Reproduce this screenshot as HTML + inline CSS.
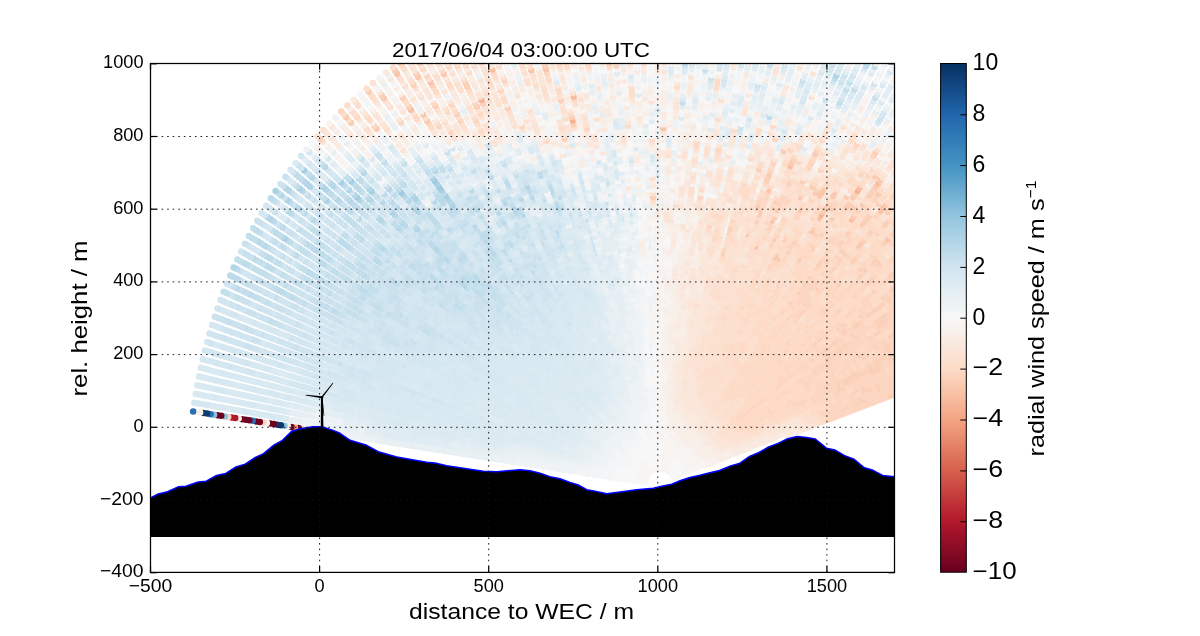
<!DOCTYPE html>
<html><head><meta charset="utf-8"><style>
html,body{margin:0;padding:0;background:#fff;width:1200px;height:636px;overflow:hidden}
svg{display:block;font-family:"Liberation Sans",sans-serif;will-change:transform}
</style></head><body>
<svg width="1200" height="636" viewBox="0 0 1200 636">
<defs>
<clipPath id="ax"><rect x="150.5" y="63.5" width="744.0" height="508.9"/></clipPath>
<linearGradient id="cbg" x1="0" y1="0" x2="0" y2="1"><stop offset="0.000" stop-color="#053061"/><stop offset="0.100" stop-color="#2166ac"/><stop offset="0.200" stop-color="#4393c3"/><stop offset="0.300" stop-color="#92c5de"/><stop offset="0.400" stop-color="#d1e5f0"/><stop offset="0.500" stop-color="#f7f7f7"/><stop offset="0.600" stop-color="#fddbc7"/><stop offset="0.700" stop-color="#f4a582"/><stop offset="0.800" stop-color="#d6604d"/><stop offset="0.900" stop-color="#b2182b"/><stop offset="1.000" stop-color="#67001f"/></linearGradient>
</defs>
<rect width="1200" height="636" fill="#fff"/>
<g clip-path="url(#ax)">
<g stroke-width="6.5" stroke-linecap="round" fill="none">
<path stroke="#f3f5f6" d="M649.6 475.6h0M650.8 474.4h0M652.2 473.4h0M659.4 471.9h0"/>
<path stroke="#f7f7f7" d="M646.3 482.7h0M646.4 481.8h0M646.7 480.9h0M647.2 479.3h0M647.6 478.5h0M648.0 477.7h0M649.0 476.2h0M650.2 475.0h0M651.5 473.9h0M653.7 472.7h0M654.5 472.4h0M655.3 472.1h0M656.1 472.0h0M657.8 471.8h0M658.6 471.8h0M660.3 472.0h0M661.1 472.2h0M661.9 472.5h0M662.7 472.8h0M663.4 473.2h0M664.1 473.6h0M664.8 474.1h0M665.5 474.7h0M666.1 475.2h0M666.7 475.9h0M667.2 476.6h0M667.7 477.3h0M668.2 478.0h0M668.6 478.8h0M668.9 479.6h0"/>
<path stroke="#f8f4f2" d="M646.9 480.1h0M648.5 476.9h0M653.0 473.0h0M657.0 471.8h0"/>
<path stroke="#f3f5f6" d="M646.3 473.8h0M647.1 472.9h0M648.7 471.4h0M666.9 471.0h0M669.3 473.3h0"/>
<path stroke="#f7f7f7" d="M642.8 482.1h0M643.0 481.0h0M643.2 479.9h0M644.0 477.7h0M644.5 476.6h0M645.0 475.6h0M649.6 470.7h0M650.5 470.1h0M652.4 469.1h0M653.5 468.7h0M654.5 468.4h0M655.6 468.2h0M657.7 468.0h0M658.8 468.0h0M659.9 468.1h0M660.9 468.3h0M662.0 468.5h0M663.0 468.9h0M664.0 469.3h0M667.7 471.7h0M668.6 472.5h0M670.0 474.2h0M670.7 475.1h0M671.2 476.1h0M671.8 477.1h0M672.2 478.2h0"/>
<path stroke="#f8f4f2" d="M643.6 478.7h0M645.6 474.7h0M647.8 472.1h0M651.4 469.6h0M656.6 468.0h0M665.0 469.8h0M666.0 470.4h0"/>
<path stroke="#f3f5f6" d="M646.5 468.3h0M648.7 466.8h0M657.7 464.2h0M660.3 464.3h0M668.9 467.9h0M671.0 469.7h0M671.9 470.7h0"/>
<path stroke="#f7f7f7" d="M639.3 481.6h0M639.5 480.2h0M639.8 478.8h0M640.8 476.1h0M641.4 474.8h0M642.0 473.6h0M642.8 472.4h0M643.6 471.3h0M644.5 470.2h0M647.6 467.5h0M649.9 466.1h0M651.2 465.5h0M652.4 465.1h0M653.7 464.7h0M655.0 464.4h0M656.3 464.2h0M659.0 464.2h0M661.6 464.5h0M662.9 464.9h0M664.2 465.3h0M665.4 465.8h0M670.0 468.7h0M672.8 471.8h0M673.6 472.9h0M674.3 474.1h0M674.9 475.4h0M675.5 476.7h0"/>
<path stroke="#f8f4f2" d="M640.3 477.4h0M645.5 469.2h0M666.6 466.4h0M667.8 467.1h0"/>
<path stroke="#f3f5f6" d="M644.4 465.3h0M647.0 463.4h0M657.6 460.3h0M671.0 464.8h0M673.4 466.9h0M676.5 470.8h0M678.8 475.2h0"/>
<path stroke="#f7f7f7" d="M635.8 481.0h0M636.0 479.3h0M636.4 477.7h0M637.5 474.5h0M638.2 473.0h0M639.0 471.5h0M639.9 470.1h0M640.9 468.8h0M642.0 467.5h0M645.7 464.3h0M648.4 462.7h0M649.9 462.0h0M651.4 461.4h0M652.9 461.0h0M654.4 460.6h0M656.0 460.4h0M659.2 460.4h0M660.7 460.5h0M662.3 460.8h0M663.8 461.2h0M665.4 461.7h0M666.8 462.3h0M669.6 463.8h0M672.2 465.8h0M674.5 468.1h0M675.6 469.4h0M677.4 472.2h0M678.1 473.7h0"/>
<path stroke="#f8f4f2" d="M636.9 476.1h0M643.1 466.4h0M668.3 463.0h0"/>
<path stroke="#f3f5f6" d="M633.0 476.6h0M637.1 467.9h0M639.5 464.9h0M642.2 462.3h0M645.3 460.1h0M653.9 456.9h0M661.2 456.7h0M673.0 461.6h0"/>
<path stroke="#f7f7f7" d="M632.2 480.5h0M632.6 478.5h0M633.6 474.8h0M634.3 472.9h0M635.1 471.2h0M636.0 469.5h0M638.2 466.3h0M646.9 459.2h0M648.6 458.4h0M650.3 457.8h0M652.1 457.3h0M655.7 456.6h0M657.5 456.5h0M659.3 456.6h0M663.0 457.0h0M666.5 458.1h0M671.5 460.6h0M674.5 462.8h0M675.9 464.1h0M677.1 465.5h0M678.3 467.0h0M679.4 468.6h0M680.4 470.3h0M681.3 472.0h0M682.1 473.8h0"/>
<path stroke="#f8f4f2" d="M640.8 463.5h0M643.7 461.1h0M664.8 457.5h0M668.2 458.8h0M669.9 459.6h0"/>
<path stroke="#f3f5f6" d="M633.1 467.4h0M635.5 463.8h0M636.9 462.2h0M640.1 459.2h0M643.5 456.8h0M647.3 454.9h0M651.3 453.5h0M653.3 453.1h0M661.6 452.9h0M685.3 472.3h0"/>
<path stroke="#f7f7f7" d="M628.7 479.9h0M629.1 477.7h0M629.6 475.5h0M630.3 473.4h0M631.1 471.4h0M632.0 469.4h0M634.2 465.6h0M638.4 460.6h0M641.8 457.9h0M645.4 455.7h0M649.3 454.1h0M655.4 452.8h0M657.5 452.7h0M659.5 452.8h0M663.7 453.3h0M675.1 458.5h0M676.7 459.9h0M678.3 461.3h0M679.7 462.9h0M681.1 464.6h0M682.3 466.4h0M683.5 468.3h0"/>
<path stroke="#f8f4f2" d="M665.7 453.8h0M667.7 454.5h0M669.6 455.3h0M671.5 456.2h0M673.3 457.3h0M684.5 470.3h0"/>
<path stroke="#f3f5f6" d="M628.9 467.5h0M630.1 465.4h0M632.8 461.4h0M634.4 459.5h0M641.8 453.4h0M650.5 449.8h0M662.0 449.2h0"/>
<path stroke="#f7f7f7" d="M625.2 479.4h0M625.6 476.9h0M626.2 474.5h0M626.9 472.1h0M627.8 469.8h0M631.4 463.3h0M636.1 457.8h0M637.9 456.2h0M639.8 454.7h0M643.9 452.3h0M646.0 451.3h0M648.2 450.5h0M652.7 449.3h0M655.1 449.0h0M657.4 448.9h0M659.7 448.9h0M664.3 449.5h0M666.6 450.1h0M671.0 451.7h0M677.1 455.4h0M680.7 458.6h0M682.4 460.3h0M688.6 470.8h0"/>
<path stroke="#f8f4f2" d="M668.8 450.8h0M673.1 452.8h0M675.2 454.0h0M679.0 456.9h0M683.9 462.2h0M685.3 464.3h0M686.5 466.4h0M687.6 468.6h0"/>
<path stroke="#eff3f6" d="M640.1 450.1h0"/>
<path stroke="#f3f5f6" d="M624.6 468.2h0M625.8 465.7h0M627.1 463.3h0M630.1 458.9h0M631.9 456.8h0M635.7 453.2h0M644.7 447.8h0M649.6 446.1h0"/>
<path stroke="#f7f7f7" d="M621.7 478.8h0M622.2 476.1h0M622.8 473.4h0M623.6 470.8h0M628.5 461.0h0M633.8 454.9h0M637.9 451.6h0M642.4 448.8h0M647.2 446.8h0M652.2 445.6h0M654.7 445.2h0M657.3 445.1h0M659.9 445.1h0M662.5 445.4h0M665.0 445.8h0M679.2 452.3h0M683.2 455.8h0M685.0 457.8h0M691.9 469.4h0"/>
<path stroke="#f8f4f2" d="M667.5 446.4h0M670.0 447.2h0M672.4 448.2h0M674.7 449.4h0M677.0 450.8h0M681.2 454.0h0M686.6 459.9h0M688.2 462.1h0M689.6 464.4h0M690.8 466.9h0"/>
<path stroke="#eff3f6" d="M633.6 450.1h0M638.3 446.8h0"/>
<path stroke="#f3f5f6" d="M619.4 472.3h0M621.4 466.6h0M622.6 463.9h0M624.1 461.3h0M625.7 458.8h0M627.4 456.4h0M629.4 454.1h0M643.4 444.2h0"/>
<path stroke="#f7f7f7" d="M618.2 478.3h0M618.7 475.3h0M620.3 469.4h0M631.4 452.1h0M635.9 448.4h0M640.8 445.4h0M646.1 443.2h0M648.8 442.4h0M651.6 441.8h0M654.4 441.4h0M657.3 441.3h0M660.1 441.3h0M662.9 441.6h0M695.2 467.9h0"/>
<path stroke="#f8f1ed" d="M678.8 447.5h0M683.5 451.0h0"/>
<path stroke="#f8f4f2" d="M665.7 442.1h0M668.5 442.7h0M671.2 443.6h0M673.8 444.7h0M676.4 446.0h0M681.2 449.2h0M685.6 453.0h0M687.6 455.2h0M689.4 457.5h0M691.1 459.9h0M692.6 462.5h0M694.0 465.1h0"/>
<path stroke="#eff3f6" d="M626.8 451.5h0M636.6 443.5h0"/>
<path stroke="#f3f5f6" d="M615.2 474.4h0M616.0 471.2h0M618.1 465.0h0M619.5 462.1h0M621.1 459.2h0M622.8 456.5h0M624.7 453.9h0M629.1 449.2h0M631.4 447.1h0M634.0 445.2h0M639.3 441.9h0M642.2 440.6h0M648.0 438.7h0"/>
<path stroke="#f7f7f7" d="M614.7 477.7h0M617.0 468.1h0M645.1 439.5h0M651.1 438.0h0M654.1 437.6h0M657.2 437.5h0M663.3 437.8h0M698.4 466.4h0"/>
<path stroke="#f8f1ed" d="M678.0 442.6h0M680.7 444.2h0M685.7 448.0h0"/>
<path stroke="#f8f4f2" d="M660.3 437.5h0M666.4 438.3h0M669.4 439.1h0M672.3 440.0h0M675.2 441.2h0M683.2 446.0h0M688.0 450.2h0M690.2 452.6h0M692.2 455.1h0M694.0 457.7h0M695.7 460.5h0M697.2 463.4h0"/>
<path stroke="#eff3f6" d="M622.0 451.4h0M624.3 448.8h0M629.3 444.1h0M634.8 440.1h0M640.9 437.1h0"/>
<path stroke="#f3f5f6" d="M611.2 477.2h0M612.6 470.2h0M613.6 466.8h0M614.9 463.5h0M616.4 460.3h0M618.1 457.2h0M620.0 454.2h0M626.7 446.3h0M632.0 442.0h0M637.8 438.5h0M647.2 435.0h0M650.5 434.3h0"/>
<path stroke="#f7f7f7" d="M611.8 473.6h0M644.0 435.9h0M653.8 433.8h0M657.1 433.6h0M663.8 434.0h0M667.1 434.6h0"/>
<path stroke="#f8f1ed" d="M670.3 435.4h0M673.5 436.4h0M676.6 437.7h0M679.6 439.2h0M682.5 441.0h0M685.3 442.9h0M692.8 450.0h0M695.0 452.7h0M700.3 461.7h0"/>
<path stroke="#f8f4f2" d="M660.4 433.7h0M690.4 447.4h0M697.0 455.6h0M698.7 458.6h0M701.7 465.0h0"/>
<path stroke="#f9efe9" d="M687.9 445.1h0"/>
<path stroke="#ecf2f5" d="M627.1 441.0h0"/>
<path stroke="#eff3f6" d="M609.7 467.3h0M611.0 463.6h0M612.4 460.1h0M613.3 458.4h0M614.1 456.8h0M615.1 455.1h0M616.1 453.5h0M618.2 450.4h0M619.3 448.9h0M620.5 447.5h0M621.8 446.1h0M623.0 444.8h0M625.7 442.2h0M628.6 439.9h0M631.6 437.8h0M633.1 436.8h0M634.7 435.9h0M639.6 433.5h0"/>
<path stroke="#f3f5f6" d="M607.6 476.6h0M607.9 474.7h0M608.3 472.8h0M608.7 470.9h0M609.2 469.1h0M610.3 465.4h0M611.7 461.9h0M617.1 452.0h0M624.4 443.5h0M630.1 438.8h0M636.3 435.0h0M637.9 434.2h0M641.3 432.9h0M644.7 431.7h0M646.4 431.2h0M648.2 430.8h0M649.9 430.5h0M655.3 429.9h0"/>
<path stroke="#f7f7f7" d="M643.0 432.3h0M651.7 430.2h0M653.5 430.0h0M657.1 429.8h0M658.8 429.8h0M660.6 429.9h0"/>
<path stroke="#f8f1ed" d="M666.0 430.5h0M669.5 431.2h0M671.2 431.7h0M672.9 432.2h0M676.3 433.5h0M678.0 434.2h0M679.6 435.0h0M681.2 435.8h0M685.9 438.7h0M687.3 439.8h0M692.9 444.7h0M694.2 446.0h0M695.4 447.4h0M696.6 448.8h0M699.9 453.4h0M701.8 456.6h0M702.7 458.3h0M703.5 460.0h0M705.7 465.3h0"/>
<path stroke="#f8f4f2" d="M662.4 430.0h0M664.2 430.2h0M667.7 430.8h0M674.6 432.8h0M704.3 461.8h0M705.0 463.5h0"/>
<path stroke="#f9efe9" d="M682.8 436.7h0M684.3 437.7h0M688.8 440.9h0M690.2 442.1h0M691.6 443.4h0M697.7 450.3h0M698.8 451.8h0M700.9 455.0h0"/>
<path stroke="#ecf2f5" d="M610.1 456.6h0M616.6 446.5h0M617.9 444.9h0M625.0 438.0h0M631.4 433.5h0"/>
<path stroke="#eff3f6" d="M605.8 468.0h0M606.3 466.0h0M607.7 462.2h0M608.4 460.3h0M609.3 458.4h0M611.1 454.8h0M612.1 453.1h0M613.1 451.4h0M615.4 448.0h0M619.2 443.4h0M620.6 442.0h0M623.5 439.3h0M626.5 436.8h0M628.1 435.6h0M629.7 434.5h0M633.1 432.5h0"/>
<path stroke="#f3f5f6" d="M604.1 476.0h0M604.4 474.0h0M604.8 472.0h0M605.3 470.0h0M607.0 464.1h0M614.3 449.7h0M622.0 440.6h0M634.8 431.6h0M636.5 430.7h0M638.3 430.0h0M640.1 429.3h0M643.7 428.0h0M645.6 427.5h0M647.5 427.1h0M649.4 426.7h0M651.3 426.4h0M655.1 426.1h0"/>
<path stroke="#f7f7f7" d="M641.9 428.6h0M653.2 426.2h0M657.0 426.0h0M658.9 426.0h0"/>
<path stroke="#f8f1ed" d="M666.5 426.7h0M668.4 427.1h0M670.3 427.5h0M675.8 429.2h0M681.1 431.5h0M687.8 435.5h0M689.4 436.7h0M695.3 441.9h0M699.3 446.3h0M702.8 451.2h0M704.9 454.7h0M706.7 458.3h0M707.5 460.2h0M708.3 462.1h0M709.0 464.0h0"/>
<path stroke="#f8f4f2" d="M660.8 426.1h0M662.7 426.2h0M664.6 426.4h0"/>
<path stroke="#f9ece4" d="M692.4 439.2h0"/>
<path stroke="#f9efe9" d="M672.1 428.0h0M674.0 428.6h0M677.6 429.9h0M679.4 430.7h0M682.8 432.4h0M684.5 433.4h0M686.2 434.4h0M690.9 437.9h0M693.9 440.5h0M696.7 443.3h0M698.0 444.8h0M700.5 447.9h0M701.7 449.6h0M703.9 452.9h0M705.8 456.5h0"/>
<path stroke="#e8f0f4" d="M622.8 435.0h0"/>
<path stroke="#ecf2f5" d="M607.0 454.8h0M609.1 451.0h0M610.2 449.2h0M612.6 445.7h0M613.9 444.0h0M616.7 440.8h0M618.2 439.2h0M621.2 436.3h0M629.6 430.1h0M631.4 429.1h0"/>
<path stroke="#eff3f6" d="M602.4 466.9h0M603.0 464.8h0M603.7 462.8h0M604.4 460.7h0M605.2 458.7h0M606.1 456.7h0M608.0 452.9h0M611.4 447.4h0M615.3 442.3h0M619.7 437.7h0M624.5 433.7h0M626.2 432.4h0M627.9 431.3h0M633.3 428.1h0M635.1 427.2h0M637.0 426.4h0M638.9 425.6h0M642.8 424.4h0"/>
<path stroke="#f3f5f6" d="M600.6 475.5h0M601.0 473.3h0M601.4 471.2h0M601.8 469.0h0M640.9 425.0h0M644.8 423.8h0M646.8 423.4h0M648.8 423.0h0M650.8 422.7h0"/>
<path stroke="#f7f7f7" d="M652.8 422.4h0M654.9 422.3h0M656.9 422.2h0M659.0 422.2h0"/>
<path stroke="#f8f1ed" d="M667.1 422.9h0M669.1 423.3h0M678.9 426.3h0M682.6 428.1h0M691.4 433.6h0M707.9 452.8h0M710.7 458.6h0M711.6 460.6h0M712.3 462.6h0"/>
<path stroke="#f8f4f2" d="M661.0 422.3h0M663.0 422.4h0M665.1 422.6h0"/>
<path stroke="#f9ece4" d="M693.1 434.9h0M694.7 436.2h0M696.2 437.6h0M700.6 442.2h0M703.3 445.5h0M704.5 447.3h0M706.8 450.9h0"/>
<path stroke="#f9efe9" d="M671.1 423.8h0M673.1 424.3h0M675.0 424.9h0M677.0 425.6h0M680.8 427.2h0M684.5 429.0h0M686.3 430.1h0M688.0 431.2h0M689.7 432.3h0M697.7 439.1h0M699.2 440.6h0M702.0 443.9h0M705.7 449.1h0M708.9 454.7h0M709.9 456.6h0"/>
<path stroke="#e8f0f4" d="M605.0 451.0h0M620.7 431.9h0"/>
<path stroke="#ecf2f5" d="M599.6 463.6h0M602.0 457.1h0M602.9 455.0h0M603.9 453.0h0M606.1 449.0h0M607.3 447.0h0M608.6 445.1h0M609.9 443.3h0M611.2 441.5h0M612.7 439.8h0M614.2 438.1h0M615.7 436.4h0M619.0 433.4h0M622.4 430.5h0M624.2 429.2h0M626.0 428.0h0M627.9 426.8h0M629.8 425.7h0M635.7 422.8h0"/>
<path stroke="#eff3f6" d="M597.5 472.6h0M598.4 468.1h0M599.0 465.9h0M600.3 461.4h0M601.1 459.3h0M617.3 434.9h0M631.7 424.7h0M633.7 423.7h0M637.8 422.0h0M639.8 421.3h0M641.9 420.7h0"/>
<path stroke="#f3f5f6" d="M597.1 474.9h0M597.9 470.4h0M644.0 420.1h0M646.1 419.6h0M648.2 419.2h0M650.4 418.9h0M654.7 418.5h0"/>
<path stroke="#f7f7f7" d="M652.5 418.6h0M656.8 418.4h0M659.0 418.4h0M661.2 418.4h0"/>
<path stroke="#f8f1ed" d="M663.3 418.6h0M667.6 419.2h0M714.0 457.0h0M714.8 459.1h0M715.6 461.3h0"/>
<path stroke="#f8f4f2" d="M665.5 418.8h0M669.8 419.6h0"/>
<path stroke="#f9ece4" d="M682.2 423.7h0M686.1 425.6h0M688.0 426.7h0M689.9 427.9h0M695.2 431.8h0M696.9 433.3h0M698.6 434.8h0M700.2 436.3h0M703.2 439.6h0M704.7 441.4h0M707.4 445.0h0M709.8 448.8h0"/>
<path stroke="#f9efe9" d="M671.9 420.1h0M674.0 420.6h0M676.1 421.3h0M678.1 422.0h0M680.2 422.8h0M684.1 424.6h0M691.7 429.1h0M693.5 430.4h0M701.7 438.0h0M708.6 446.9h0M711.0 450.8h0M712.0 452.8h0M713.0 454.9h0"/>
<path stroke="#fae9df" d="M706.1 443.2h0"/>
<path stroke="#e4eef3" d="M618.5 428.9h0"/>
<path stroke="#e8f0f4" d="M599.7 453.3h0M600.8 451.2h0M603.1 446.9h0M613.3 433.7h0M626.2 423.5h0"/>
<path stroke="#ecf2f5" d="M596.2 462.4h0M597.0 460.1h0M597.8 457.8h0M598.7 455.6h0M601.9 449.0h0M604.4 444.9h0M605.7 442.9h0M607.1 440.9h0M608.6 439.0h0M610.1 437.2h0M611.6 435.4h0M615.0 432.0h0M616.7 430.4h0M620.4 427.4h0M622.2 426.0h0M624.2 424.7h0M628.2 422.3h0M634.4 419.3h0"/>
<path stroke="#eff3f6" d="M593.6 474.4h0M594.9 467.2h0M595.6 464.8h0M630.2 421.2h0M632.3 420.2h0M636.6 418.4h0M638.8 417.7h0M641.0 417.0h0M645.4 415.9h0"/>
<path stroke="#f3f5f6" d="M594.0 472.0h0M594.4 469.5h0M643.2 416.4h0M647.7 415.4h0M649.9 415.1h0"/>
<path stroke="#f7f7f7" d="M652.2 414.8h0M654.5 414.6h0M656.8 414.6h0M659.1 414.6h0"/>
<path stroke="#f8f1ed" d="M663.6 414.8h0M668.2 415.4h0M670.4 415.8h0M718.1 457.7h0M719.0 459.9h0"/>
<path stroke="#f8f4f2" d="M661.4 414.6h0M665.9 415.1h0"/>
<path stroke="#f9ece4" d="M674.9 416.9h0M683.6 420.2h0M685.6 421.2h0M687.7 422.2h0M689.7 423.4h0M693.6 425.9h0M700.9 431.9h0M702.6 433.5h0M705.8 437.0h0M707.4 438.9h0M711.6 444.7h0M712.8 446.8h0M714.0 448.9h0M715.2 451.0h0M716.2 453.2h0"/>
<path stroke="#f9efe9" d="M672.7 416.3h0M677.1 417.6h0M679.3 418.4h0M681.4 419.2h0M695.5 427.3h0M717.2 455.4h0"/>
<path stroke="#fae9df" d="M691.7 424.6h0M697.4 428.8h0M699.2 430.3h0M704.3 435.3h0M708.8 440.8h0M710.2 442.7h0"/>
<path stroke="#e4eef3" d="M616.4 425.9h0"/>
<path stroke="#e8f0f4" d="M592.9 461.2h0M596.5 451.6h0M597.7 449.3h0M598.8 447.1h0M600.1 444.9h0M604.3 438.5h0M605.9 436.5h0M607.5 434.6h0M609.1 432.7h0M610.8 430.9h0M614.5 427.5h0M618.3 424.3h0M624.4 420.2h0"/>
<path stroke="#ecf2f5" d="M591.5 466.2h0M593.7 458.8h0M594.5 456.4h0M595.5 454.0h0M601.4 442.7h0M602.8 440.6h0M612.6 429.1h0M620.3 422.9h0M622.3 421.5h0M626.5 418.9h0M630.9 416.7h0M633.2 415.7h0"/>
<path stroke="#eff3f6" d="M590.5 471.3h0M590.9 468.7h0M592.1 463.7h0M628.7 417.8h0M635.4 414.8h0M637.7 414.0h0M640.0 413.3h0M642.4 412.7h0"/>
<path stroke="#f3f5f6" d="M590.1 473.8h0M644.7 412.1h0M647.1 411.7h0M649.5 411.3h0M654.3 410.8h0"/>
<path stroke="#f7f7f7" d="M651.9 411.0h0M656.7 410.7h0M659.1 410.7h0"/>
<path stroke="#f8f1ed" d="M666.4 411.3h0M671.1 412.1h0"/>
<path stroke="#f8f4f2" d="M661.5 410.8h0M664.0 411.0h0"/>
<path stroke="#f9ece4" d="M675.8 413.3h0M680.4 414.8h0M682.7 415.7h0M687.1 417.7h0M705.0 430.8h0M710.1 436.4h0M718.3 449.2h0M719.4 451.5h0M720.4 453.8h0"/>
<path stroke="#f9efe9" d="M668.7 411.6h0M673.5 412.6h0M678.1 414.0h0M721.4 456.2h0M722.3 458.6h0"/>
<path stroke="#fae9df" d="M684.9 416.6h0M689.3 418.8h0M691.4 420.1h0M693.5 421.4h0M695.6 422.8h0M697.6 424.2h0M699.5 425.7h0M703.3 429.0h0M706.8 432.6h0M708.4 434.5h0M711.6 438.4h0M713.1 440.4h0M714.5 442.5h0M715.8 444.7h0M717.1 446.9h0"/>
<path stroke="#fbe6da" d="M701.4 427.3h0"/>
<path stroke="#e0ecf3" d="M614.2 422.8h0"/>
<path stroke="#e4eef3" d="M595.8 445.1h0M597.1 442.8h0M603.2 434.1h0M608.4 428.1h0M616.3 421.2h0"/>
<path stroke="#e8f0f4" d="M589.5 460.0h0M590.3 457.5h0M591.3 454.9h0M593.4 449.9h0M594.5 447.5h0M598.5 440.5h0M600.0 438.3h0M601.5 436.2h0M604.8 432.0h0M606.6 430.0h0M612.2 424.5h0M618.3 419.7h0M622.7 416.8h0M624.9 415.5h0"/>
<path stroke="#ecf2f5" d="M588.1 465.3h0M592.3 452.4h0M610.3 426.3h0M620.5 418.2h0M627.2 414.3h0M629.5 413.2h0M631.9 412.2h0M639.1 409.6h0"/>
<path stroke="#eff3f6" d="M586.6 473.3h0M587.0 470.6h0M587.5 467.9h0M588.7 462.6h0M634.2 411.2h0M636.7 410.4h0M641.6 408.9h0M644.0 408.4h0M646.5 407.9h0M649.1 407.5h0"/>
<path stroke="#f3f5f6" d="M654.1 407.0h0"/>
<path stroke="#f7f7f7" d="M651.6 407.2h0M656.6 406.9h0M659.2 406.9h0"/>
<path stroke="#f8f1ed" d="M661.7 407.0h0M664.3 407.2h0M666.8 407.5h0M671.8 408.3h0"/>
<path stroke="#f9ece4" d="M674.3 408.9h0M679.2 410.3h0M681.6 411.2h0M684.0 412.1h0M699.6 421.1h0M723.7 452.2h0"/>
<path stroke="#f9efe9" d="M669.3 407.9h0M724.7 454.7h0M725.6 457.3h0"/>
<path stroke="#fae9df" d="M676.7 409.6h0M686.3 413.1h0M688.7 414.2h0M690.9 415.4h0M693.2 416.7h0M695.4 418.1h0M697.5 419.6h0M705.6 426.2h0M707.5 428.0h0M712.7 433.9h0M720.1 445.0h0M721.4 447.3h0M722.6 449.8h0"/>
<path stroke="#fbe6da" d="M701.7 422.7h0M703.7 424.4h0M709.3 429.9h0M711.1 431.9h0M714.4 436.0h0M715.9 438.2h0M717.4 440.4h0M718.8 442.7h0"/>
<path stroke="#e4eef3" d="M590.2 448.2h0M591.4 445.7h0M592.7 443.2h0M594.1 440.8h0M595.6 438.4h0M598.8 433.8h0M600.5 431.6h0M612.1 419.8h0M614.2 418.1h0M620.9 413.5h0"/>
<path stroke="#e8f0f4" d="M584.6 464.3h0M586.1 458.8h0M587.0 456.1h0M588.0 453.5h0M589.0 450.8h0M597.1 436.0h0M602.2 429.4h0M604.1 427.4h0M606.0 425.3h0M607.9 423.4h0M610.0 421.6h0M616.4 416.5h0M618.6 414.9h0M623.3 412.1h0"/>
<path stroke="#ecf2f5" d="M584.0 467.1h0M585.3 461.6h0M625.7 410.9h0M628.1 409.7h0M630.6 408.6h0M633.1 407.6h0M638.2 405.9h0"/>
<path stroke="#eff3f6" d="M583.5 469.9h0M635.6 406.7h0M640.7 405.2h0M643.4 404.6h0M646.0 404.1h0M648.6 403.7h0"/>
<path stroke="#f3f5f6" d="M583.1 472.7h0M651.3 403.4h0M653.9 403.2h0M656.6 403.1h0"/>
<path stroke="#f7f7f7" d="M659.2 403.1h0"/>
<path stroke="#f8f1ed" d="M661.9 403.2h0M667.2 403.7h0"/>
<path stroke="#f8f4f2" d="M664.6 403.4h0"/>
<path stroke="#f9ece4" d="M675.1 405.2h0M680.2 406.7h0M682.8 407.6h0M726.9 450.6h0"/>
<path stroke="#f9efe9" d="M669.9 404.1h0M672.5 404.6h0M728.0 453.3h0M728.9 455.9h0"/>
<path stroke="#fae9df" d="M677.7 405.9h0M685.3 408.5h0M690.2 410.8h0M692.6 412.0h0M694.9 413.4h0M697.2 414.8h0M701.7 418.0h0M707.9 423.3h0M709.9 425.2h0M715.4 431.4h0M725.7 448.1h0"/>
<path stroke="#fbe3d5" d="M705.9 421.4h0M718.8 435.9h0"/>
<path stroke="#fbe6da" d="M687.7 409.6h0M699.5 416.4h0M703.8 419.7h0M711.8 427.2h0M713.7 429.3h0M717.1 433.6h0M720.3 438.2h0M721.8 440.6h0M723.2 443.0h0M724.5 445.5h0"/>
<path stroke="#e0ecf3" d="M609.9 416.8h0"/>
<path stroke="#e4eef3" d="M584.7 452.0h0M587.0 446.5h0M588.3 443.9h0M589.7 441.3h0M591.1 438.7h0M596.0 431.4h0M597.8 429.1h0M599.6 426.8h0M601.5 424.7h0M603.5 422.6h0M607.7 418.6h0M612.1 415.0h0M619.2 410.2h0"/>
<path stroke="#e8f0f4" d="M581.2 463.4h0M581.9 460.5h0M582.8 457.6h0M583.7 454.8h0M585.8 449.2h0M592.7 436.2h0M594.3 433.8h0M605.6 420.6h0M614.4 413.3h0M616.8 411.7h0M621.7 408.8h0M624.2 407.4h0M626.7 406.2h0"/>
<path stroke="#ecf2f5" d="M580.5 466.3h0M629.3 405.1h0M631.9 404.0h0M637.2 402.3h0M639.9 401.5h0M642.7 400.9h0"/>
<path stroke="#eff3f6" d="M580.0 469.2h0M634.6 403.1h0M645.4 400.4h0M648.2 399.9h0"/>
<path stroke="#f3f5f6" d="M579.5 472.2h0M650.9 399.6h0M653.7 399.4h0M656.5 399.3h0"/>
<path stroke="#f7f7f7" d="M659.3 399.3h0"/>
<path stroke="#f8f1ed" d="M662.1 399.4h0M664.9 399.6h0M667.6 399.9h0"/>
<path stroke="#f9ece4" d="M673.2 400.8h0M730.1 449.1h0M731.2 451.8h0"/>
<path stroke="#f9efe9" d="M670.4 400.3h0M732.3 454.6h0"/>
<path stroke="#fae9df" d="M675.9 401.5h0M678.6 402.2h0M681.3 403.0h0M683.9 404.0h0M691.7 407.3h0M728.9 446.3h0"/>
<path stroke="#fbe3d5" d="M708.2 418.5h0M719.9 431.2h0M723.2 436.0h0M724.8 438.5h0"/>
<path stroke="#fbe6da" d="M686.5 405.0h0M689.1 406.1h0M694.2 408.7h0M696.6 410.1h0M699.0 411.6h0M701.4 413.2h0M703.7 414.9h0M706.0 416.6h0M710.3 420.4h0M712.3 422.4h0M714.3 424.5h0M716.3 426.7h0M718.1 428.9h0M726.2 441.1h0M727.6 443.7h0"/>
<path stroke="#fce1d1" d="M721.6 433.6h0"/>
<path stroke="#e0ecf3" d="M585.2 442.1h0M586.6 439.3h0M599.0 422.0h0M601.1 419.8h0M607.7 413.7h0"/>
<path stroke="#e4eef3" d="M579.4 456.4h0M580.4 453.5h0M581.4 450.5h0M582.6 447.7h0M583.8 444.8h0M588.1 436.7h0M589.7 434.1h0M593.2 429.0h0M595.1 426.6h0M597.0 424.3h0M605.5 415.7h0M617.5 406.8h0"/>
<path stroke="#e8f0f4" d="M577.7 462.4h0M578.5 459.4h0M591.4 431.5h0M603.2 417.7h0M610.1 411.9h0M612.5 410.1h0M615.0 408.4h0M620.0 405.4h0M625.3 402.7h0M628.0 401.5h0M630.7 400.4h0"/>
<path stroke="#ecf2f5" d="M577.1 465.5h0M622.7 404.0h0M633.5 399.4h0M636.3 398.6h0M639.1 397.8h0M642.0 397.1h0"/>
<path stroke="#eff3f6" d="M576.5 468.5h0M644.8 396.6h0M647.7 396.1h0"/>
<path stroke="#f3f5f6" d="M576.0 471.6h0M650.6 395.8h0M653.5 395.6h0M656.4 395.5h0"/>
<path stroke="#f7f7f7" d="M659.4 395.5h0"/>
<path stroke="#f8f1ed" d="M665.2 395.8h0"/>
<path stroke="#f8f4f2" d="M662.3 395.6h0"/>
<path stroke="#f9ece4" d="M671.0 396.6h0M673.8 397.1h0M734.5 450.3h0M735.6 453.2h0"/>
<path stroke="#f9efe9" d="M668.1 396.1h0"/>
<path stroke="#fae9df" d="M676.7 397.7h0M682.3 399.4h0M685.1 400.3h0M693.2 403.9h0M733.4 447.5h0"/>
<path stroke="#fbe3d5" d="M695.8 405.3h0M700.9 408.3h0M708.1 413.6h0M710.4 415.5h0M712.6 417.5h0M716.9 421.8h0M720.8 426.4h0M726.2 433.9h0M727.8 436.5h0M729.3 439.1h0M730.7 441.9h0"/>
<path stroke="#fbe6da" d="M679.5 398.5h0M687.8 401.4h0M690.5 402.6h0M698.4 406.7h0M703.3 410.0h0M705.8 411.7h0M714.8 419.6h0M718.9 424.1h0M732.1 444.6h0"/>
<path stroke="#fce1d1" d="M722.7 428.8h0M724.5 431.3h0"/>
<path stroke="#e0ecf3" d="M578.1 449.1h0M580.7 443.1h0M582.1 440.2h0M583.5 437.4h0M590.4 426.6h0M596.5 419.3h0M598.6 417.0h0M605.6 410.7h0M615.7 403.5h0"/>
<path stroke="#e4eef3" d="M575.1 458.3h0M576.0 455.2h0M577.0 452.1h0M579.3 446.1h0M585.1 434.6h0M586.8 431.9h0M588.6 429.2h0M592.4 424.1h0M594.4 421.7h0M603.2 412.7h0M608.0 408.7h0M610.5 406.9h0M613.1 405.2h0M618.4 402.0h0"/>
<path stroke="#e8f0f4" d="M574.3 461.5h0M600.9 414.8h0M621.1 400.5h0M623.9 399.2h0M626.7 397.9h0M629.6 396.8h0"/>
<path stroke="#ecf2f5" d="M573.6 464.7h0M632.5 395.8h0M635.4 394.9h0M638.3 394.1h0M641.3 393.4h0"/>
<path stroke="#eff3f6" d="M572.5 471.1h0M573.0 467.9h0M644.3 392.8h0"/>
<path stroke="#f3f5f6" d="M647.3 392.4h0M650.3 392.0h0M653.3 391.8h0M656.4 391.7h0"/>
<path stroke="#f7f7f7" d="M659.4 391.7h0"/>
<path stroke="#f8f1ed" d="M665.5 392.0h0"/>
<path stroke="#f8f4f2" d="M662.5 391.8h0"/>
<path stroke="#f9ece4" d="M671.5 392.8h0M674.5 393.4h0M737.8 448.9h0M738.9 451.9h0"/>
<path stroke="#f9efe9" d="M668.5 392.3h0"/>
<path stroke="#fae9df" d="M677.5 394.0h0M680.4 394.8h0M686.2 396.7h0"/>
<path stroke="#fbe3d5" d="M691.9 399.1h0M697.4 401.9h0M702.7 405.0h0M705.3 406.8h0M707.8 408.6h0M710.3 410.5h0M712.6 412.6h0M715.0 414.7h0M717.2 416.9h0M721.5 421.5h0M723.5 423.9h0M730.8 434.4h0"/>
<path stroke="#fbe6da" d="M683.4 395.7h0M689.1 397.9h0M694.7 400.4h0M700.1 403.4h0M735.3 442.9h0M736.6 445.9h0"/>
<path stroke="#fcdecc" d="M725.5 426.5h0M727.3 429.0h0"/>
<path stroke="#fce1d1" d="M719.4 419.1h0M729.1 431.7h0M732.4 437.2h0M733.9 440.0h0"/>
<path stroke="#dceaf2" d="M578.9 438.4h0"/>
<path stroke="#e0ecf3" d="M572.6 454.0h0M574.9 447.6h0M576.1 444.5h0M577.5 441.4h0M580.5 435.5h0M582.1 432.6h0M585.7 427.0h0M587.7 424.3h0M591.8 419.1h0M593.9 416.6h0M596.2 414.3h0M601.0 409.8h0M603.4 407.7h0M606.0 405.6h0M614.0 400.2h0"/>
<path stroke="#e4eef3" d="M571.7 457.2h0M573.7 450.8h0M583.9 429.7h0M589.7 421.6h0M598.5 412.0h0M608.6 403.7h0M611.3 401.9h0M616.8 398.6h0M625.4 394.4h0"/>
<path stroke="#e8f0f4" d="M570.9 460.5h0M619.6 397.1h0M622.5 395.7h0M628.4 393.2h0"/>
<path stroke="#ecf2f5" d="M569.5 467.2h0M570.1 463.8h0M631.4 392.1h0M634.4 391.2h0M637.5 390.4h0M643.7 389.1h0"/>
<path stroke="#eff3f6" d="M569.0 470.5h0M640.6 389.7h0M646.9 388.6h0"/>
<path stroke="#f3f5f6" d="M650.0 388.2h0M653.2 388.0h0M656.3 387.8h0"/>
<path stroke="#f7f7f7" d="M659.5 387.8h0"/>
<path stroke="#f8f1ed" d="M662.6 388.0h0"/>
<path stroke="#f9ece4" d="M672.1 389.0h0M675.2 389.6h0M741.1 447.4h0"/>
<path stroke="#f9efe9" d="M665.8 388.2h0M668.9 388.5h0"/>
<path stroke="#fae9df" d="M678.3 390.3h0M681.4 391.1h0M742.2 450.6h0"/>
<path stroke="#fbe3d5" d="M693.3 395.6h0M699.0 398.5h0M701.8 400.1h0M704.6 401.8h0M709.9 405.5h0M719.6 414.1h0M724.1 418.9h0M726.2 421.5h0M738.4 441.2h0"/>
<path stroke="#fbe6da" d="M684.4 392.1h0M687.4 393.1h0M690.4 394.3h0M696.2 397.0h0M739.8 444.3h0"/>
<path stroke="#fce1d1" d="M707.2 403.6h0M712.4 407.5h0M714.9 409.6h0M717.3 411.8h0M721.9 416.5h0M728.2 424.1h0M732.0 429.5h0M733.8 432.4h0M735.4 435.3h0M737.0 438.2h0"/>
<path stroke="#fddbc7" d="M730.2 426.8h0"/>
<path stroke="#dceaf2" d="M575.8 436.6h0M579.1 430.5h0M584.9 421.9h0M591.4 414.0h0M593.8 411.5h0M598.7 406.8h0M601.3 404.6h0"/>
<path stroke="#e0ecf3" d="M569.3 452.8h0M571.6 446.2h0M572.9 442.9h0M574.3 439.7h0M577.4 433.5h0M581.0 427.6h0M587.0 419.2h0M596.2 409.1h0M603.9 402.5h0M606.6 400.5h0M609.4 398.6h0M612.3 396.9h0"/>
<path stroke="#e4eef3" d="M567.4 459.6h0M568.3 456.2h0M570.4 449.5h0M582.9 424.7h0M589.2 416.5h0M615.2 395.2h0M618.1 393.6h0M621.1 392.2h0M624.1 390.8h0M627.2 389.6h0"/>
<path stroke="#e8f0f4" d="M636.7 386.7h0"/>
<path stroke="#ecf2f5" d="M566.0 466.5h0M566.7 463.0h0M633.5 387.5h0M639.9 385.9h0"/>
<path stroke="#eff3f6" d="M565.5 470.0h0M630.4 388.5h0M643.2 385.3h0"/>
<path stroke="#f3f5f6" d="M646.4 384.8h0M653.0 384.2h0"/>
<path stroke="#f7f7f7" d="M649.7 384.4h0M656.2 384.0h0M659.5 384.0h0"/>
<path stroke="#f8f4f2" d="M662.8 384.1h0"/>
<path stroke="#f9ece4" d="M672.6 385.2h0M675.9 385.9h0M745.6 449.2h0"/>
<path stroke="#f9efe9" d="M666.1 384.4h0M669.4 384.8h0"/>
<path stroke="#fae9df" d="M679.1 386.6h0M682.3 387.5h0M743.0 442.7h0M744.4 445.9h0"/>
<path stroke="#fbe3d5" d="M694.7 392.1h0M706.4 398.5h0M711.9 402.4h0M741.6 439.5h0"/>
<path stroke="#fbe6da" d="M685.4 388.4h0M688.6 389.5h0M691.6 390.7h0M697.7 393.5h0"/>
<path stroke="#fcdecc" d="M717.1 406.6h0M724.4 413.8h0M731.0 421.7h0M734.9 427.4h0M736.7 430.3h0"/>
<path stroke="#fce1d1" d="M700.6 395.1h0M703.5 396.7h0M709.2 400.4h0M714.6 404.5h0M719.6 408.9h0M722.1 411.3h0M726.7 416.3h0M728.9 419.0h0M738.5 433.3h0M740.1 436.4h0"/>
<path stroke="#fddbc7" d="M733.0 424.5h0"/>
<path stroke="#dceaf2" d="M571.1 438.0h0M572.7 434.8h0M576.2 428.5h0M582.1 419.5h0M584.3 416.7h0M588.9 411.3h0M591.3 408.7h0M599.1 401.6h0"/>
<path stroke="#e0ecf3" d="M565.9 451.6h0M568.3 444.7h0M569.6 441.4h0M574.4 431.6h0M578.0 425.4h0M580.0 422.4h0M586.5 413.9h0M593.8 406.2h0M596.4 403.9h0M601.9 399.4h0M607.6 395.4h0M610.5 393.5h0"/>
<path stroke="#e4eef3" d="M564.9 455.1h0M567.0 448.1h0M604.7 397.3h0M613.5 391.8h0M616.6 390.2h0M619.7 388.7h0M622.9 387.3h0"/>
<path stroke="#e8f0f4" d="M564.0 458.6h0M626.1 386.0h0M632.6 383.8h0"/>
<path stroke="#ecf2f5" d="M562.5 465.8h0M563.2 462.2h0M629.3 384.9h0M635.9 382.9h0M639.2 382.2h0M642.6 381.5h0"/>
<path stroke="#eff3f6" d="M562.0 469.4h0"/>
<path stroke="#f3f5f6" d="M646.0 381.0h0M652.8 380.3h0"/>
<path stroke="#f7f7f7" d="M649.4 380.6h0M656.2 380.2h0M659.6 380.2h0"/>
<path stroke="#f8f1ed" d="M666.4 380.6h0"/>
<path stroke="#f8f4f2" d="M663.0 380.3h0"/>
<path stroke="#f9ece4" d="M669.8 381.0h0M673.2 381.5h0M676.5 382.1h0M748.9 447.9h0"/>
<path stroke="#fae9df" d="M679.9 382.9h0M683.2 383.8h0M747.6 444.5h0"/>
<path stroke="#fbe3d5" d="M686.5 384.8h0M696.1 388.6h0M699.2 390.1h0M708.2 395.2h0M711.1 397.2h0M744.8 437.8h0"/>
<path stroke="#fbe6da" d="M689.7 385.9h0M692.9 387.2h0M746.3 441.1h0"/>
<path stroke="#fcdecc" d="M702.3 391.7h0M719.4 403.7h0M727.0 411.1h0M729.3 413.7h0M737.8 425.2h0M743.2 434.6h0"/>
<path stroke="#fce1d1" d="M705.3 393.4h0M713.9 399.3h0M716.7 401.4h0M722.0 406.1h0M724.5 408.5h0M731.6 416.5h0M741.5 431.4h0"/>
<path stroke="#fddbc7" d="M733.8 419.3h0M735.9 422.2h0M739.7 428.2h0"/>
<path stroke="#dceaf2" d="M567.9 436.3h0M569.6 433.0h0M571.3 429.7h0M573.2 426.4h0M575.1 423.2h0M579.3 417.1h0M581.6 414.2h0M586.4 408.6h0M588.9 405.9h0M594.2 400.9h0M597.0 398.5h0M599.8 396.3h0"/>
<path stroke="#e0ecf3" d="M561.5 454.0h0M562.5 450.4h0M565.0 443.3h0M566.4 439.8h0M577.2 420.1h0M583.9 411.4h0M591.5 403.4h0M602.7 394.2h0M605.7 392.1h0M608.8 390.2h0M611.9 388.4h0"/>
<path stroke="#e4eef3" d="M560.5 457.7h0M563.7 446.8h0M615.1 386.7h0M618.3 385.2h0M621.6 383.7h0"/>
<path stroke="#e8f0f4" d="M624.9 382.4h0M628.3 381.2h0M631.7 380.1h0M635.1 379.2h0"/>
<path stroke="#ecf2f5" d="M559.0 465.1h0M559.7 461.4h0M638.5 378.4h0M642.0 377.7h0"/>
<path stroke="#eff3f6" d="M558.5 468.9h0"/>
<path stroke="#f3f5f6" d="M645.5 377.2h0M652.6 376.5h0"/>
<path stroke="#f7f7f7" d="M656.1 376.4h0M659.7 376.4h0"/>
<path stroke="#f8f1ed" d="M666.7 376.8h0"/>
<path stroke="#f8f4f2" d="M649.0 376.8h0M663.2 376.5h0"/>
<path stroke="#f9ece4" d="M673.7 377.7h0M677.2 378.4h0M752.2 446.5h0"/>
<path stroke="#f9efe9" d="M670.2 377.2h0"/>
<path stroke="#fae9df" d="M680.7 379.2h0M750.9 443.0h0"/>
<path stroke="#fbe3d5" d="M684.1 380.1h0M687.5 381.1h0M690.9 382.3h0M697.5 385.0h0M700.7 386.6h0M748.0 436.1h0"/>
<path stroke="#fbe6da" d="M694.2 383.6h0M749.5 439.5h0"/>
<path stroke="#fcdecc" d="M721.6 400.7h0M729.5 408.4h0M731.9 411.2h0M744.6 429.4h0"/>
<path stroke="#fce1d1" d="M703.9 388.3h0M707.0 390.1h0M710.1 392.0h0M713.1 394.0h0M716.0 396.1h0M718.8 398.4h0M724.3 403.2h0M726.9 405.7h0M734.3 414.0h0M746.3 432.7h0"/>
<path stroke="#fddbc7" d="M736.5 416.9h0M738.7 419.9h0M740.8 423.0h0M742.7 426.2h0"/>
<path stroke="#d9e9f1" d="M591.9 398.0h0"/>
<path stroke="#dceaf2" d="M561.7 441.8h0M564.8 434.6h0M566.4 431.1h0M568.2 427.7h0M570.2 424.4h0M572.2 421.1h0M574.3 417.9h0M578.9 411.7h0M583.8 405.9h0M586.4 403.2h0M594.8 395.5h0M597.8 393.2h0M607.1 386.9h0"/>
<path stroke="#e0ecf3" d="M558.1 452.9h0M559.2 449.2h0M560.4 445.5h0M563.2 438.2h0M576.5 414.8h0M581.3 408.8h0M589.2 400.5h0M600.8 391.0h0M603.9 388.9h0M610.3 385.0h0M623.7 378.8h0"/>
<path stroke="#e4eef3" d="M557.1 456.7h0M613.6 383.3h0M616.9 381.6h0M620.3 380.2h0"/>
<path stroke="#e8f0f4" d="M556.3 460.6h0M630.7 376.5h0M634.3 375.5h0M637.9 374.7h0"/>
<path stroke="#ecf2f5" d="M555.5 464.4h0M627.2 377.6h0"/>
<path stroke="#eff3f6" d="M554.9 468.3h0M641.5 374.0h0M645.1 373.4h0"/>
<path stroke="#f3f5f6" d="M652.4 372.7h0"/>
<path stroke="#f7f7f7" d="M648.7 373.0h0M656.0 372.6h0M659.7 372.6h0"/>
<path stroke="#f8f1ed" d="M667.0 373.0h0"/>
<path stroke="#f8f4f2" d="M663.4 372.7h0"/>
<path stroke="#f9efe9" d="M670.7 373.4h0"/>
<path stroke="#fae9df" d="M674.3 373.9h0M677.9 374.6h0M681.5 375.4h0M754.2 441.5h0M755.5 445.2h0"/>
<path stroke="#fbe3d5" d="M695.5 380.1h0M698.9 381.5h0M702.2 383.1h0M718.0 393.0h0"/>
<path stroke="#fbe6da" d="M685.0 376.4h0M688.6 377.5h0M692.0 378.7h0M752.7 437.9h0"/>
<path stroke="#fcd6c0" d="M741.5 417.6h0"/>
<path stroke="#fcdecc" d="M708.7 386.7h0M721.0 395.3h0M726.7 400.3h0M732.0 405.7h0M734.5 408.6h0M737.0 411.5h0M749.4 430.9h0"/>
<path stroke="#fce1d1" d="M705.5 384.9h0M711.9 388.7h0M715.0 390.8h0M729.4 403.0h0M751.1 434.4h0"/>
<path stroke="#fddbc7" d="M723.9 397.8h0M739.3 414.5h0M743.7 420.8h0M745.7 424.1h0M747.6 427.5h0"/>
<path stroke="#d9e9f1" d="M576.2 409.2h0M581.3 403.2h0M589.7 395.0h0"/>
<path stroke="#dceaf2" d="M558.4 440.3h0M559.9 436.6h0M561.6 432.9h0M563.3 429.3h0M565.2 425.8h0M567.2 422.3h0M571.5 415.6h0M573.8 412.4h0M578.7 406.2h0M584.0 400.4h0M586.8 397.6h0M592.7 392.5h0M595.7 390.1h0M598.8 387.8h0M605.3 383.5h0"/>
<path stroke="#e0ecf3" d="M554.7 451.9h0M555.8 448.0h0M557.1 444.1h0M569.3 418.9h0M602.0 385.6h0M608.6 381.6h0M615.5 378.1h0"/>
<path stroke="#e4eef3" d="M553.7 455.8h0M612.0 379.8h0M619.0 376.6h0M622.6 375.2h0"/>
<path stroke="#e8f0f4" d="M552.8 459.8h0M626.2 373.9h0M629.8 372.8h0M633.5 371.8h0M637.2 370.9h0"/>
<path stroke="#ecf2f5" d="M552.0 463.7h0M640.9 370.2h0"/>
<path stroke="#eff3f6" d="M551.4 467.8h0M644.6 369.6h0M652.2 368.9h0"/>
<path stroke="#f7f7f7" d="M648.4 369.2h0M656.0 368.8h0"/>
<path stroke="#f8f4f2" d="M659.8 368.8h0M663.6 368.9h0"/>
<path stroke="#f9ece4" d="M674.8 370.2h0"/>
<path stroke="#f9efe9" d="M667.3 369.2h0M671.1 369.6h0"/>
<path stroke="#fae9df" d="M678.6 370.9h0M757.5 440.1h0M758.9 443.9h0"/>
<path stroke="#fbe3d5" d="M686.0 372.7h0M696.8 376.5h0M703.7 379.7h0"/>
<path stroke="#fbe6da" d="M682.3 371.7h0M689.6 373.8h0M693.2 375.1h0M756.0 436.3h0"/>
<path stroke="#fcd6c0" d="M744.4 415.4h0"/>
<path stroke="#fcdecc" d="M713.7 385.4h0M723.1 392.3h0M726.1 394.8h0M731.8 400.2h0M734.5 403.0h0"/>
<path stroke="#fce1d1" d="M700.3 378.0h0M707.1 381.5h0M710.5 383.4h0M716.9 387.6h0M720.1 389.9h0M737.1 406.0h0M739.7 409.0h0M754.3 432.7h0"/>
<path stroke="#fddbc7" d="M729.0 397.5h0M742.1 412.1h0M746.6 418.7h0M748.7 422.1h0M750.7 425.5h0M752.6 429.1h0"/>
<path stroke="#d9e9f1" d="M560.2 427.5h0M573.5 406.8h0M578.8 400.6h0M587.4 392.1h0M590.5 389.4h0"/>
<path stroke="#dceaf2" d="M552.4 446.8h0M555.2 438.9h0M558.4 431.2h0M562.1 423.8h0M564.2 420.3h0M566.3 416.8h0M568.6 413.3h0M571.0 410.0h0M576.1 403.6h0M581.6 397.6h0M584.5 394.8h0M593.7 387.0h0M596.9 384.6h0M603.6 380.2h0"/>
<path stroke="#e0ecf3" d="M551.3 450.8h0M553.7 442.8h0M556.7 435.0h0M600.2 382.3h0M607.0 378.2h0M610.5 376.4h0M614.1 374.6h0M617.7 373.0h0"/>
<path stroke="#e4eef3" d="M550.2 454.8h0M621.4 371.6h0"/>
<path stroke="#e8f0f4" d="M549.3 458.9h0M625.1 370.3h0M628.9 369.1h0M632.7 368.1h0M636.5 367.2h0"/>
<path stroke="#ecf2f5" d="M548.6 463.1h0M640.3 366.4h0"/>
<path stroke="#eff3f6" d="M547.9 467.2h0M644.2 365.8h0"/>
<path stroke="#f3f5f6" d="M648.1 365.4h0M652.0 365.1h0"/>
<path stroke="#f8f1ed" d="M663.7 365.1h0"/>
<path stroke="#f8f4f2" d="M655.9 364.9h0M659.8 364.9h0"/>
<path stroke="#f9ece4" d="M671.5 365.8h0"/>
<path stroke="#f9efe9" d="M667.6 365.4h0"/>
<path stroke="#fae9df" d="M675.4 366.4h0M679.3 367.1h0M760.7 438.6h0M762.2 442.5h0"/>
<path stroke="#fbe3d5" d="M686.9 369.0h0M694.4 371.5h0M698.0 372.9h0M759.2 434.8h0"/>
<path stroke="#fbe6da" d="M683.1 368.0h0M690.6 370.2h0"/>
<path stroke="#fcd6c0" d="M747.2 413.1h0"/>
<path stroke="#fcdecc" d="M715.6 382.2h0M725.3 389.3h0M731.3 394.6h0M734.2 397.4h0M737.0 400.3h0M739.8 403.4h0M753.7 423.6h0"/>
<path stroke="#fce1d1" d="M701.7 374.5h0M705.2 376.2h0M708.7 378.1h0M712.2 380.1h0M718.9 384.4h0M722.1 386.8h0M742.4 406.5h0M757.5 431.0h0"/>
<path stroke="#fddbc7" d="M728.4 391.9h0M744.9 409.8h0M749.5 416.5h0M751.7 420.0h0M755.7 427.2h0"/>
<path stroke="#d9e9f1" d="M557.1 425.7h0M570.8 404.3h0M576.2 397.9h0M579.1 394.8h0M585.2 389.1h0M588.4 386.4h0"/>
<path stroke="#dceaf2" d="M549.1 445.6h0M551.9 437.4h0M553.5 433.5h0M555.2 429.5h0M559.1 421.9h0M561.2 418.2h0M563.4 414.6h0M565.8 411.1h0M568.2 407.6h0M573.5 401.0h0M582.1 391.9h0M591.6 383.8h0M601.8 376.9h0"/>
<path stroke="#e0ecf3" d="M547.9 449.7h0M550.4 441.5h0M594.9 381.4h0M598.4 379.1h0M605.4 374.8h0M612.7 371.1h0M616.4 369.5h0"/>
<path stroke="#e4eef3" d="M546.8 453.9h0M609.0 372.9h0M620.2 368.0h0"/>
<path stroke="#e8f0f4" d="M545.9 458.1h0M624.1 366.6h0M631.9 364.4h0"/>
<path stroke="#ecf2f5" d="M545.1 462.4h0M627.9 365.4h0M635.8 363.4h0M639.8 362.7h0"/>
<path stroke="#eff3f6" d="M544.4 466.7h0M643.8 362.1h0"/>
<path stroke="#f3f5f6" d="M647.8 361.6h0M651.8 361.3h0"/>
<path stroke="#f7f7f7" d="M659.9 361.1h0"/>
<path stroke="#f8f4f2" d="M655.8 361.1h0"/>
<path stroke="#f9ece4" d="M672.0 362.0h0"/>
<path stroke="#f9efe9" d="M663.9 361.3h0M667.9 361.6h0"/>
<path stroke="#fae9df" d="M676.0 362.6h0M679.9 363.4h0M764.0 437.1h0M765.5 441.2h0"/>
<path stroke="#fbe3d5" d="M687.8 365.3h0M695.5 367.9h0M703.1 371.0h0M762.4 433.2h0"/>
<path stroke="#fbe6da" d="M683.9 364.3h0M691.7 366.5h0"/>
<path stroke="#fcd6c0" d="M750.1 410.8h0"/>
<path stroke="#fcdecc" d="M706.7 372.8h0M710.4 374.7h0M713.9 376.7h0M717.4 378.9h0M720.8 381.2h0M727.4 386.2h0M730.6 388.9h0M739.6 397.7h0M745.0 404.0h0M756.8 421.6h0"/>
<path stroke="#fce1d1" d="M699.3 369.4h0M724.2 383.7h0M742.4 400.8h0M760.7 429.3h0"/>
<path stroke="#fddbc7" d="M733.7 391.7h0M736.7 394.6h0M747.6 407.4h0M752.4 414.3h0M754.7 417.9h0M758.8 425.4h0"/>
<path stroke="#d9e9f1" d="M554.0 423.9h0M556.0 420.0h0M568.1 401.8h0M573.7 395.2h0M576.7 392.1h0M600.1 373.6h0"/>
<path stroke="#dceaf2" d="M545.7 444.4h0M548.6 436.0h0M550.3 431.9h0M552.0 427.8h0M558.2 416.2h0M560.5 412.4h0M562.9 408.8h0M565.4 405.2h0M570.8 398.4h0M579.8 389.1h0M582.9 386.2h0M586.2 383.4h0M589.6 380.7h0"/>
<path stroke="#e0ecf3" d="M544.4 448.6h0M547.1 440.1h0M593.0 378.2h0M596.5 375.8h0M603.8 371.4h0M611.3 367.6h0M615.1 365.9h0M619.1 364.4h0"/>
<path stroke="#e4eef3" d="M543.3 453.0h0M607.5 369.5h0"/>
<path stroke="#e8f0f4" d="M542.4 457.3h0M623.0 363.0h0M627.0 361.7h0M635.1 359.7h0M639.2 358.9h0"/>
<path stroke="#ecf2f5" d="M541.6 461.7h0M631.0 360.6h0M643.3 358.3h0"/>
<path stroke="#eff3f6" d="M540.9 466.1h0"/>
<path stroke="#f3f5f6" d="M647.5 357.8h0M651.6 357.5h0"/>
<path stroke="#f7f7f7" d="M655.8 357.3h0M659.9 357.3h0"/>
<path stroke="#f8f1ed" d="M668.3 357.8h0"/>
<path stroke="#f9ece4" d="M676.5 358.9h0"/>
<path stroke="#f9efe9" d="M664.1 357.5h0M672.4 358.2h0"/>
<path stroke="#fae9df" d="M680.6 359.6h0M767.3 435.7h0M768.8 439.8h0"/>
<path stroke="#fbe3d5" d="M688.7 361.6h0M692.7 362.9h0M696.7 364.3h0M700.6 365.8h0M704.4 367.5h0"/>
<path stroke="#fbe6da" d="M684.7 360.6h0M765.6 431.6h0"/>
<path stroke="#fcd6c0" d="M752.9 408.5h0"/>
<path stroke="#fcdecc" d="M708.2 369.3h0M712.0 371.3h0M715.7 373.4h0M719.3 375.6h0M722.8 378.0h0M729.6 383.2h0M736.0 388.8h0M745.0 398.2h0"/>
<path stroke="#fce1d1" d="M726.2 380.5h0M763.8 427.5h0"/>
<path stroke="#fddbc7" d="M732.9 386.0h0M739.1 391.8h0M742.1 395.0h0M747.7 401.5h0M750.4 405.0h0M755.4 412.2h0M757.7 415.9h0M759.9 419.7h0M761.9 423.6h0"/>
<path stroke="#d9e9f1" d="M550.8 422.0h0M552.9 418.0h0M571.2 392.5h0"/>
<path stroke="#dceaf2" d="M542.3 443.2h0M545.3 434.5h0M548.9 426.1h0M555.2 414.1h0M560.0 406.5h0M562.7 402.9h0M565.4 399.3h0M568.2 395.9h0M574.3 389.3h0M577.4 386.2h0M580.7 383.2h0M584.0 380.3h0M587.5 377.6h0M591.0 375.0h0M598.4 370.2h0"/>
<path stroke="#e0ecf3" d="M541.0 447.6h0M543.7 438.8h0M547.0 430.3h0M557.6 410.3h0M594.7 372.6h0M602.1 368.0h0M606.0 366.0h0M609.9 364.1h0"/>
<path stroke="#e4eef3" d="M539.9 452.0h0M613.9 362.4h0M617.9 360.8h0"/>
<path stroke="#e8f0f4" d="M538.9 456.5h0M622.0 359.3h0M626.1 358.0h0M634.4 355.9h0M638.6 355.1h0"/>
<path stroke="#ecf2f5" d="M538.1 461.0h0M630.2 356.9h0"/>
<path stroke="#eff3f6" d="M537.4 465.6h0M642.9 354.5h0M651.4 353.7h0"/>
<path stroke="#f3f5f6" d="M647.2 354.0h0"/>
<path stroke="#f7f7f7" d="M655.7 353.5h0M660.0 353.5h0"/>
<path stroke="#f8f1ed" d="M664.3 353.6h0M668.6 354.0h0"/>
<path stroke="#f9ece4" d="M677.1 355.1h0M681.3 355.9h0"/>
<path stroke="#f9efe9" d="M672.8 354.4h0"/>
<path stroke="#fae9df" d="M772.2 438.5h0"/>
<path stroke="#fbe3d5" d="M689.6 358.0h0M693.8 359.2h0M697.8 360.7h0M701.9 362.2h0M728.3 377.4h0"/>
<path stroke="#fbe6da" d="M685.5 356.8h0M768.9 430.0h0M770.6 434.2h0"/>
<path stroke="#fcd6c0" d="M755.8 406.2h0M762.9 417.8h0"/>
<path stroke="#fcdecc" d="M713.6 367.9h0M717.4 370.1h0M721.1 372.4h0M724.7 374.8h0M744.6 392.3h0M747.6 395.6h0"/>
<path stroke="#fce1d1" d="M705.8 364.0h0M709.8 365.9h0M767.0 425.8h0"/>
<path stroke="#fddbc7" d="M731.7 380.1h0M735.1 383.0h0M738.4 386.0h0M741.5 389.1h0M750.4 399.1h0M753.2 402.6h0M758.3 410.0h0M760.7 413.8h0M765.0 421.8h0"/>
<path stroke="#d9e9f1" d="M552.2 412.1h0M565.6 393.3h0M568.7 389.8h0M571.8 386.5h0M596.6 366.9h0"/>
<path stroke="#dceaf2" d="M539.0 442.0h0M542.0 433.1h0M545.7 424.4h0M547.7 420.2h0M549.9 416.1h0M554.6 408.1h0M557.2 404.2h0M559.9 400.5h0M562.7 396.8h0M575.1 383.3h0M578.4 380.3h0M581.9 377.3h0M585.4 374.5h0M589.1 371.8h0M592.8 369.3h0M600.5 364.7h0"/>
<path stroke="#e0ecf3" d="M537.6 446.5h0M540.4 437.5h0M543.8 428.7h0M604.5 362.6h0M608.5 360.6h0"/>
<path stroke="#e4eef3" d="M536.5 451.1h0M616.7 357.2h0M620.9 355.7h0"/>
<path stroke="#e8f0f4" d="M535.4 455.7h0M612.6 358.8h0M625.1 354.4h0M629.4 353.2h0M633.7 352.2h0"/>
<path stroke="#ecf2f5" d="M534.6 460.3h0"/>
<path stroke="#eff3f6" d="M533.9 465.0h0M638.1 351.4h0M642.4 350.7h0"/>
<path stroke="#f3f5f6" d="M651.2 349.9h0"/>
<path stroke="#f7f7f7" d="M646.8 350.2h0M655.6 349.7h0M660.1 349.7h0"/>
<path stroke="#f8f1ed" d="M664.5 349.8h0M668.9 350.2h0M673.3 350.7h0"/>
<path stroke="#f9ece4" d="M682.0 352.1h0"/>
<path stroke="#fae9df" d="M677.6 351.3h0M775.5 437.2h0"/>
<path stroke="#fbe3d5" d="M690.6 354.3h0M699.0 357.1h0M703.1 358.7h0M772.1 428.4h0"/>
<path stroke="#fbe6da" d="M686.3 353.1h0M773.9 432.8h0"/>
<path stroke="#fcd6c0" d="M758.6 404.0h0"/>
<path stroke="#fcdecc" d="M715.2 364.5h0M719.1 366.7h0M726.7 371.6h0M768.2 419.9h0M770.2 424.1h0"/>
<path stroke="#fce1d1" d="M694.8 355.6h0M707.2 360.5h0M711.3 362.4h0M722.9 369.1h0M730.3 374.3h0M733.9 377.1h0"/>
<path stroke="#fddbc7" d="M737.3 380.0h0M740.7 383.1h0M744.0 386.3h0M747.1 389.6h0M750.2 393.0h0M753.1 396.6h0M755.9 400.2h0M761.2 407.8h0M763.7 411.8h0M766.0 415.8h0"/>
<path stroke="#d9e9f1" d="M538.7 431.6h0M544.6 418.4h0M549.2 410.0h0M560.0 394.3h0M569.4 383.7h0M579.7 374.3h0M591.0 366.0h0"/>
<path stroke="#dceaf2" d="M535.6 440.8h0M537.1 436.2h0M542.5 422.7h0M546.8 414.2h0M551.7 405.9h0M554.3 402.0h0M557.1 398.1h0M563.0 390.7h0M566.1 387.2h0M572.7 380.5h0M576.2 377.3h0M583.4 371.4h0M587.1 368.6h0M594.9 363.6h0M598.9 361.3h0"/>
<path stroke="#e0ecf3" d="M534.2 445.4h0M540.6 427.1h0M603.0 359.1h0M607.1 357.1h0"/>
<path stroke="#e4eef3" d="M533.0 450.1h0M611.3 355.3h0M615.5 353.6h0M619.9 352.0h0M624.2 350.7h0"/>
<path stroke="#e8f0f4" d="M532.0 454.9h0M633.0 348.5h0"/>
<path stroke="#ecf2f5" d="M531.1 459.6h0M628.6 349.5h0M637.5 347.6h0"/>
<path stroke="#eff3f6" d="M530.4 464.4h0M642.0 346.9h0M651.0 346.0h0"/>
<path stroke="#f7f7f7" d="M646.5 346.4h0M655.6 345.9h0M660.1 345.9h0"/>
<path stroke="#f8f1ed" d="M664.6 346.0h0"/>
<path stroke="#f9efe9" d="M669.2 346.4h0M673.7 346.9h0"/>
<path stroke="#fae9df" d="M678.2 347.5h0M682.6 348.4h0M687.1 349.4h0M778.8 435.8h0"/>
<path stroke="#fbe3d5" d="M712.8 359.0h0M775.3 426.8h0"/>
<path stroke="#fbe6da" d="M691.5 350.6h0M777.1 431.3h0"/>
<path stroke="#fcd6c0" d="M761.5 401.7h0"/>
<path stroke="#fcdecc" d="M724.8 365.8h0M728.6 368.4h0M736.0 374.1h0M739.6 377.1h0M743.1 380.2h0M749.7 386.9h0M752.8 390.4h0M773.4 422.4h0"/>
<path stroke="#fce1d1" d="M695.8 351.9h0M700.2 353.5h0M704.4 355.1h0M708.6 357.0h0M716.8 361.1h0M720.8 363.4h0M732.4 371.2h0"/>
<path stroke="#fddbc7" d="M746.4 383.5h0M755.8 394.1h0M758.7 397.8h0M764.1 405.6h0M766.6 409.7h0M769.0 413.9h0M771.3 418.1h0"/>
<path stroke="#d5e7f1" d="M577.6 371.2h0"/>
<path stroke="#d9e9f1" d="M541.5 416.6h0M546.2 408.0h0M548.8 403.8h0M557.3 391.9h0M573.9 374.4h0M589.1 362.8h0M593.2 360.2h0"/>
<path stroke="#dceaf2" d="M532.2 439.5h0M535.5 430.2h0M537.3 425.6h0M539.3 421.0h0M543.8 412.2h0M551.5 399.7h0M554.3 395.7h0M560.4 388.1h0M563.6 384.5h0M566.9 381.0h0M570.4 377.6h0M581.3 368.3h0M585.2 365.4h0"/>
<path stroke="#e0ecf3" d="M530.8 444.3h0M533.8 434.8h0M597.3 357.9h0M601.4 355.6h0M605.7 353.6h0M610.0 351.7h0M614.4 350.0h0"/>
<path stroke="#e4eef3" d="M529.6 449.2h0M618.8 348.4h0M623.3 347.0h0"/>
<path stroke="#e8f0f4" d="M528.5 454.0h0M627.8 345.8h0M632.4 344.7h0"/>
<path stroke="#ecf2f5" d="M527.6 459.0h0"/>
<path stroke="#eff3f6" d="M526.8 463.9h0M637.0 343.8h0M641.6 343.1h0M650.9 342.2h0"/>
<path stroke="#f3f5f6" d="M646.2 342.6h0"/>
<path stroke="#f7f7f7" d="M660.2 342.0h0"/>
<path stroke="#f8f1ed" d="M664.8 342.2h0"/>
<path stroke="#f8f4f2" d="M655.5 342.0h0"/>
<path stroke="#f9ece4" d="M782.1 434.5h0"/>
<path stroke="#f9efe9" d="M669.5 342.6h0M674.1 343.1h0"/>
<path stroke="#fae9df" d="M678.7 343.8h0M683.3 344.6h0M687.9 345.7h0"/>
<path stroke="#fbe3d5" d="M696.9 348.3h0M705.7 351.6h0M714.3 355.5h0M718.5 357.7h0"/>
<path stroke="#fbe6da" d="M692.4 346.9h0M778.6 425.2h0M780.4 429.8h0"/>
<path stroke="#fcd6c0" d="M764.3 399.4h0M769.6 407.7h0M772.1 411.9h0"/>
<path stroke="#fcdecc" d="M726.6 362.6h0M730.6 365.2h0M734.4 368.1h0M738.2 371.0h0M745.4 377.4h0M755.4 387.8h0M767.1 403.5h0"/>
<path stroke="#fce1d1" d="M701.3 349.8h0M710.0 353.4h0M722.6 360.1h0"/>
<path stroke="#fddbc7" d="M741.8 374.1h0M748.8 380.7h0M752.2 384.2h0M758.5 391.6h0M761.5 395.4h0M774.4 416.3h0M776.5 420.7h0"/>
<path stroke="#d5e7f1" d="M562.8 380.0h0M575.4 368.2h0"/>
<path stroke="#d9e9f1" d="M529.6 435.9h0M534.1 424.0h0M538.4 414.8h0M539.5 412.5h0M541.9 408.1h0M543.2 405.9h0M550.1 395.4h0M553.1 391.3h0M554.6 389.4h0M556.2 387.4h0M559.4 383.6h0M561.1 381.8h0M569.8 373.0h0M571.7 371.4h0M573.5 369.8h0M577.3 366.7h0M587.3 359.5h0M591.4 356.9h0"/>
<path stroke="#dceaf2" d="M528.1 440.8h0M528.8 438.3h0M531.3 431.1h0M532.2 428.7h0M533.1 426.3h0M535.1 421.6h0M536.1 419.3h0M537.2 417.0h0M540.7 410.3h0M544.5 403.7h0M545.9 401.6h0M547.2 399.5h0M548.6 397.4h0M551.5 393.3h0M557.8 385.5h0M564.5 378.2h0M566.2 376.5h0M568.0 374.7h0M579.3 365.2h0M581.2 363.7h0M583.2 362.3h0M585.2 360.9h0M593.5 355.7h0M597.8 353.3h0M602.1 351.1h0M604.3 350.1h0"/>
<path stroke="#e0ecf3" d="M526.8 445.7h0M527.4 443.3h0M530.4 433.5h0M589.3 358.2h0M595.6 354.5h0M599.9 352.2h0M606.5 349.1h0M608.7 348.1h0M611.0 347.2h0M613.2 346.4h0"/>
<path stroke="#e4eef3" d="M526.1 448.2h0M615.5 345.5h0M622.4 343.3h0M627.0 342.1h0M631.7 341.0h0"/>
<path stroke="#e8f0f4" d="M525.0 453.2h0M525.6 450.7h0M617.8 344.7h0M620.1 344.0h0M624.7 342.7h0M629.3 341.5h0M634.0 340.5h0"/>
<path stroke="#ecf2f5" d="M523.7 460.8h0M524.1 458.3h0M524.5 455.7h0M638.8 339.7h0M641.1 339.3h0"/>
<path stroke="#eff3f6" d="M523.3 463.3h0M636.4 340.1h0M643.5 339.0h0M645.9 338.8h0M650.7 338.4h0M653.1 338.3h0"/>
<path stroke="#f7f7f7" d="M648.3 338.6h0M660.2 338.2h0"/>
<path stroke="#f8f1ed" d="M665.0 338.4h0M672.2 339.0h0"/>
<path stroke="#f8f4f2" d="M655.4 338.2h0M657.8 338.2h0M662.6 338.3h0"/>
<path stroke="#f9ece4" d="M669.8 338.8h0M674.6 339.3h0M676.9 339.6h0M679.3 340.0h0M681.7 340.4h0M684.0 340.9h0M686.4 341.4h0M785.5 433.1h0"/>
<path stroke="#f9efe9" d="M667.4 338.6h0M786.3 435.6h0"/>
<path stroke="#fae9df" d="M688.7 342.0h0M695.6 343.9h0M784.6 430.7h0"/>
<path stroke="#fbe3d5" d="M697.9 344.6h0M704.7 347.1h0M707.0 348.0h0M709.2 348.9h0M720.1 354.3h0"/>
<path stroke="#fbe6da" d="M691.0 342.6h0M693.3 343.2h0M700.2 345.4h0M781.8 423.6h0M782.8 426.0h0M783.7 428.4h0"/>
<path stroke="#fcd6c0" d="M756.4 383.4h0M759.6 387.2h0M767.2 397.1h0M771.3 403.4h0M775.1 410.0h0"/>
<path stroke="#fcdecc" d="M711.4 349.9h0M717.9 353.2h0M724.3 356.7h0M726.4 358.0h0M728.4 359.3h0M730.5 360.7h0M758.0 385.3h0M773.9 407.8h0M780.8 421.3h0"/>
<path stroke="#fce1d1" d="M702.5 346.2h0M713.6 351.0h0M715.8 352.0h0M722.2 355.5h0M732.5 362.1h0M736.5 364.9h0"/>
<path stroke="#fddbc7" d="M734.5 363.5h0M738.4 366.4h0M740.3 368.0h0M742.2 369.6h0M744.1 371.2h0M745.9 372.8h0M747.7 374.5h0M749.5 376.2h0M751.3 377.9h0M753.0 379.7h0M754.7 381.5h0M761.2 389.1h0M762.7 391.1h0M764.3 393.1h0M765.7 395.1h0M768.6 399.2h0M770.0 401.3h0M772.6 405.6h0M776.3 412.2h0M777.5 414.4h0M778.6 416.7h0M779.7 419.0h0"/>
<path stroke="#d5e7f1" d="M573.3 365.2h0"/>
<path stroke="#d9e9f1" d="M524.7 439.7h0M526.3 434.6h0M528.0 429.7h0M533.0 417.6h0M534.1 415.3h0M535.2 413.0h0M537.6 408.4h0M538.9 406.1h0M544.3 397.3h0M548.8 391.0h0M550.3 388.9h0M551.9 386.9h0M553.5 384.9h0M556.8 381.0h0M560.3 377.3h0M567.5 370.1h0M569.4 368.4h0M575.2 363.6h0M585.4 356.2h0M589.7 353.6h0"/>
<path stroke="#dceaf2" d="M524.0 442.2h0M525.5 437.1h0M527.1 432.2h0M528.9 427.2h0M529.9 424.8h0M530.9 422.4h0M531.9 420.0h0M536.4 410.6h0M540.2 403.9h0M541.6 401.6h0M542.9 399.5h0M545.8 395.2h0M547.3 393.0h0M555.2 382.9h0M558.5 379.1h0M562.1 375.4h0M563.9 373.6h0M565.7 371.9h0M571.3 366.8h0M577.2 362.0h0M579.2 360.5h0M581.3 359.1h0M583.4 357.6h0M587.5 354.9h0M591.8 352.3h0M594.0 351.1h0M600.6 347.6h0M602.9 346.6h0M605.2 345.6h0"/>
<path stroke="#e0ecf3" d="M522.7 447.3h0M523.3 444.7h0M596.2 349.9h0M598.4 348.7h0M607.4 344.6h0M609.7 343.6h0M612.0 342.8h0"/>
<path stroke="#e4eef3" d="M522.1 449.8h0M614.4 341.9h0M616.7 341.1h0"/>
<path stroke="#e8f0f4" d="M521.1 455.0h0M521.6 452.4h0M619.1 340.3h0M621.4 339.6h0M623.8 339.0h0M628.6 337.8h0M631.0 337.2h0M633.4 336.7h0M638.3 335.9h0"/>
<path stroke="#ecf2f5" d="M520.2 460.2h0M520.6 457.6h0M626.2 338.3h0M635.8 336.3h0M650.5 334.6h0"/>
<path stroke="#eff3f6" d="M519.8 462.8h0M640.7 335.5h0M643.1 335.2h0"/>
<path stroke="#f3f5f6" d="M645.6 335.0h0M648.0 334.8h0M652.9 334.5h0"/>
<path stroke="#f7f7f7" d="M657.8 334.4h0M660.3 334.4h0"/>
<path stroke="#f8f1ed" d="M665.2 334.6h0"/>
<path stroke="#f8f4f2" d="M655.4 334.4h0M662.7 334.5h0"/>
<path stroke="#f9ece4" d="M670.1 335.0h0M677.4 335.8h0M679.8 336.2h0M684.7 337.2h0M789.6 434.3h0"/>
<path stroke="#f9efe9" d="M667.6 334.7h0M672.5 335.2h0M675.0 335.5h0M682.3 336.7h0"/>
<path stroke="#fae9df" d="M687.1 337.7h0M689.5 338.3h0M787.0 426.9h0M787.9 429.3h0M788.8 431.8h0"/>
<path stroke="#fbe3d5" d="M706.0 343.5h0"/>
<path stroke="#fbe6da" d="M691.9 338.9h0M694.3 339.5h0M696.6 340.2h0M699.0 341.0h0M701.3 341.8h0M785.0 422.1h0M786.0 424.5h0"/>
<path stroke="#fcd6c0" d="M771.5 397.0h0M775.6 403.5h0M778.2 408.0h0"/>
<path stroke="#fcdecc" d="M712.8 346.4h0M715.1 347.5h0M723.9 352.1h0M726.0 353.4h0M730.3 356.0h0M732.4 357.4h0M734.4 358.9h0M738.5 361.8h0M742.5 364.9h0M746.3 368.2h0M751.9 373.4h0M753.7 375.2h0M758.9 380.7h0M782.9 417.3h0M784.0 419.7h0"/>
<path stroke="#fce1d1" d="M703.6 342.6h0M708.3 344.4h0M710.5 345.4h0M717.3 348.6h0M719.5 349.7h0M721.7 350.9h0"/>
<path stroke="#fddbc7" d="M728.2 354.7h0M736.5 360.3h0M740.5 363.4h0M744.4 366.6h0M748.2 369.9h0M750.1 371.6h0M755.5 377.0h0M757.2 378.9h0M760.6 382.7h0M762.3 384.6h0M763.9 386.6h0M765.5 388.6h0M767.0 390.7h0M768.5 392.7h0M770.0 394.8h0M772.9 399.1h0M774.3 401.3h0M776.9 405.8h0M779.4 410.3h0M780.6 412.6h0M781.8 414.9h0"/>
<path stroke="#d5e7f1" d="M571.1 362.1h0"/>
<path stroke="#d9e9f1" d="M521.3 438.5h0M522.9 433.4h0M528.7 418.4h0M529.8 415.9h0M530.9 413.5h0M532.1 411.1h0M533.3 408.8h0M535.9 404.1h0M538.6 399.5h0M541.4 395.1h0M546.0 388.6h0M549.2 384.4h0M550.9 382.4h0M554.3 378.4h0M556.0 376.4h0M557.8 374.5h0M563.3 369.0h0M565.2 367.2h0M567.2 365.5h0M569.1 363.8h0M573.1 360.5h0M583.6 353.0h0M587.9 350.3h0M592.4 347.7h0M599.2 344.2h0"/>
<path stroke="#dceaf2" d="M519.9 443.7h0M520.6 441.1h0M522.1 435.9h0M523.8 430.8h0M524.7 428.3h0M525.6 425.8h0M526.6 423.3h0M527.6 420.8h0M534.6 406.4h0M537.2 401.8h0M540.0 397.3h0M542.9 392.9h0M544.4 390.7h0M547.6 386.5h0M552.5 380.4h0M559.6 372.7h0M561.5 370.8h0M575.2 358.9h0M577.2 357.4h0M579.3 355.9h0M581.5 354.4h0M590.1 348.9h0M594.6 346.5h0"/>
<path stroke="#e0ecf3" d="M519.3 446.3h0M585.8 351.6h0M596.9 345.3h0M601.5 343.1h0M603.8 342.0h0M606.1 341.0h0M608.5 340.1h0M613.3 338.3h0"/>
<path stroke="#e4eef3" d="M518.1 451.6h0M610.9 339.1h0M618.1 336.7h0M622.9 335.3h0"/>
<path stroke="#e8f0f4" d="M517.6 454.2h0M518.7 449.0h0M615.7 337.5h0M620.5 335.9h0M627.8 334.0h0M630.3 333.5h0M632.8 333.0h0"/>
<path stroke="#ecf2f5" d="M516.3 462.2h0M516.7 459.6h0M517.1 456.9h0M625.4 334.6h0M635.3 332.5h0M637.7 332.1h0"/>
<path stroke="#eff3f6" d="M640.2 331.8h0M642.7 331.4h0M650.3 330.8h0M652.8 330.7h0"/>
<path stroke="#f3f5f6" d="M645.3 331.2h0"/>
<path stroke="#f7f7f7" d="M647.8 331.0h0M657.8 330.6h0M660.3 330.6h0"/>
<path stroke="#f8f1ed" d="M662.9 330.7h0M665.4 330.8h0"/>
<path stroke="#f8f4f2" d="M655.3 330.6h0"/>
<path stroke="#f9ece4" d="M677.9 332.1h0M680.4 332.5h0M685.4 333.4h0M687.8 333.9h0M793.0 433.0h0"/>
<path stroke="#f9efe9" d="M667.9 330.9h0M670.4 331.2h0M672.9 331.4h0M675.4 331.7h0M682.9 332.9h0"/>
<path stroke="#fae9df" d="M690.3 334.5h0M692.7 335.2h0M695.2 335.8h0M791.2 427.9h0M792.1 430.5h0"/>
<path stroke="#fbe3d5" d="M707.2 339.9h0M709.5 340.9h0M718.8 345.1h0M788.2 420.5h0"/>
<path stroke="#fbe6da" d="M697.6 336.6h0M700.0 337.3h0M702.4 338.2h0M789.3 422.9h0M790.3 425.4h0"/>
<path stroke="#fcd6c0" d="M768.2 386.2h0M781.2 406.1h0"/>
<path stroke="#fcdecc" d="M714.2 342.9h0M716.5 344.0h0M723.3 347.5h0M725.6 348.8h0M727.8 350.1h0M729.9 351.4h0M734.3 354.2h0M736.4 355.7h0M738.5 357.2h0M740.5 358.7h0M744.6 361.9h0M752.4 368.7h0M754.3 370.6h0M761.5 378.1h0M775.8 397.0h0M787.2 418.0h0"/>
<path stroke="#fce1d1" d="M704.8 339.0h0M711.9 341.9h0M721.1 346.3h0M742.6 360.3h0"/>
<path stroke="#fddbc7" d="M732.1 352.8h0M746.6 363.6h0M748.6 365.3h0M750.5 367.0h0M756.1 372.4h0M758.0 374.3h0M759.7 376.2h0M763.2 380.1h0M764.9 382.1h0M766.6 384.1h0M769.8 388.3h0M771.4 390.4h0M772.9 392.6h0M774.4 394.8h0M777.2 399.2h0M778.6 401.5h0M779.9 403.8h0M782.5 408.4h0M783.7 410.8h0M784.9 413.2h0M786.1 415.6h0"/>
<path stroke="#d5e7f1" d="M569.0 359.1h0"/>
<path stroke="#d9e9f1" d="M519.6 432.1h0M522.3 424.3h0M525.5 416.7h0M529.0 409.3h0M530.2 406.9h0M531.5 404.5h0M532.9 402.1h0M537.1 395.1h0M538.6 392.9h0M540.1 390.6h0M543.2 386.2h0M546.5 381.9h0M548.2 379.8h0M551.7 375.8h0M553.5 373.8h0M555.3 371.8h0M557.2 369.9h0M559.1 368.0h0M562.9 364.3h0M564.9 362.5h0M566.9 360.8h0M571.0 357.4h0M573.1 355.8h0M579.6 351.2h0M581.7 349.7h0M586.2 346.9h0M590.7 344.3h0M593.1 343.0h0M597.7 340.7h0"/>
<path stroke="#dceaf2" d="M516.5 442.7h0M517.2 440.0h0M517.9 437.4h0M518.7 434.7h0M520.5 429.5h0M521.4 426.9h0M523.3 421.8h0M524.4 419.2h0M526.6 414.2h0M527.8 411.8h0M534.2 399.8h0M535.6 397.4h0M541.6 388.4h0M544.8 384.1h0M549.9 377.8h0M561.0 366.1h0M577.4 352.7h0M584.0 348.3h0M588.5 345.6h0M600.1 339.6h0M602.5 338.5h0M604.9 337.5h0M612.1 334.7h0"/>
<path stroke="#e0ecf3" d="M515.8 445.4h0M575.2 354.2h0M595.4 341.8h0M607.3 336.5h0"/>
<path stroke="#e4eef3" d="M514.6 450.8h0M515.2 448.1h0M614.6 333.8h0M617.1 333.0h0M622.1 331.6h0M629.6 329.7h0"/>
<path stroke="#e8f0f4" d="M513.2 458.9h0M513.6 456.2h0M514.1 453.5h0M609.7 335.5h0M619.6 332.3h0M624.6 330.9h0M627.1 330.3h0"/>
<path stroke="#ecf2f5" d="M512.8 461.7h0M632.2 329.2h0M637.2 328.3h0M639.8 328.0h0"/>
<path stroke="#eff3f6" d="M634.7 328.8h0M642.4 327.7h0M650.1 327.0h0M652.7 326.9h0"/>
<path stroke="#f3f5f6" d="M644.9 327.4h0"/>
<path stroke="#f7f7f7" d="M647.5 327.2h0M657.8 326.8h0M663.0 326.8h0"/>
<path stroke="#f8f1ed" d="M665.6 327.0h0M668.1 327.1h0M673.3 327.6h0"/>
<path stroke="#f8f4f2" d="M655.2 326.8h0M660.4 326.8h0"/>
<path stroke="#f9ece4" d="M670.7 327.3h0M675.8 327.9h0M678.4 328.3h0M681.0 328.7h0M686.0 329.7h0M688.6 330.2h0M796.3 431.7h0"/>
<path stroke="#f9efe9" d="M683.5 329.2h0"/>
<path stroke="#fae9df" d="M698.6 332.9h0M701.1 333.7h0M794.5 426.5h0M795.4 429.1h0"/>
<path stroke="#fbe3d5" d="M703.5 334.5h0M791.5 418.9h0"/>
<path stroke="#fbe6da" d="M691.1 330.8h0M693.6 331.5h0M696.1 332.2h0M792.5 421.4h0M793.5 424.0h0"/>
<path stroke="#fcd6c0" d="M775.7 390.3h0M780.2 397.1h0M784.3 404.1h0"/>
<path stroke="#fcdecc" d="M715.6 339.4h0M722.6 342.9h0M724.9 344.1h0M729.5 346.7h0M734.0 349.5h0M736.1 351.0h0M738.3 352.5h0M740.5 354.0h0M746.8 358.9h0M748.8 360.6h0M750.8 362.3h0M760.4 371.5h0M783.0 401.8h0M789.2 413.9h0M790.4 416.4h0"/>
<path stroke="#fce1d1" d="M706.0 335.4h0M708.4 336.3h0M710.8 337.3h0M713.2 338.3h0M718.0 340.5h0M720.3 341.7h0M742.6 355.6h0M744.7 357.2h0"/>
<path stroke="#fddbc7" d="M727.2 345.4h0M731.7 348.1h0M752.8 364.1h0M754.8 365.9h0M756.7 367.7h0M758.6 369.6h0M762.3 373.5h0M764.1 375.5h0M765.8 377.5h0M767.6 379.5h0M769.3 381.6h0M770.9 383.7h0M772.6 385.9h0M774.2 388.1h0M777.2 392.5h0M778.7 394.8h0M781.6 399.4h0M785.6 406.5h0M786.9 409.0h0M788.1 411.4h0"/>
<path stroke="#d5e7f1" d="M552.8 369.1h0"/>
<path stroke="#d9e9f1" d="M516.2 430.8h0M519.1 422.9h0M522.3 415.1h0M524.6 410.0h0M525.9 407.5h0M527.1 405.0h0M528.5 402.5h0M529.8 400.1h0M531.2 397.7h0M534.1 393.0h0M535.7 390.6h0M537.2 388.3h0M540.4 383.8h0M543.8 379.5h0M545.5 377.3h0M547.3 375.2h0M551.0 371.1h0M554.7 367.1h0M562.7 359.6h0M564.7 357.8h0M566.8 356.1h0M568.9 354.4h0M571.1 352.7h0M577.7 348.0h0M579.9 346.5h0M584.5 343.6h0M596.3 337.2h0"/>
<path stroke="#dceaf2" d="M513.1 441.7h0M513.8 438.9h0M514.6 436.2h0M517.1 428.2h0M518.1 425.5h0M520.1 420.3h0M521.2 417.7h0M523.4 412.5h0M532.7 395.3h0M538.8 386.1h0M542.1 381.6h0M549.1 373.1h0M556.7 365.2h0M558.6 363.3h0M560.6 361.4h0M573.2 351.1h0M575.4 349.5h0M582.2 345.0h0M586.8 342.2h0M589.1 340.9h0M591.5 339.6h0M598.7 336.1h0M601.1 335.0h0M603.6 333.9h0"/>
<path stroke="#e0ecf3" d="M512.4 444.4h0M515.4 433.5h0M606.0 332.9h0M608.5 331.9h0M611.0 331.0h0"/>
<path stroke="#e4eef3" d="M511.2 450.0h0M511.8 447.2h0M593.9 338.4h0M616.1 329.3h0M618.6 328.6h0M621.2 327.9h0"/>
<path stroke="#e8f0f4" d="M509.7 458.3h0M510.1 455.5h0M510.6 452.7h0M613.6 330.2h0M623.8 327.2h0M628.9 326.0h0"/>
<path stroke="#ecf2f5" d="M509.3 461.1h0M626.3 326.6h0M631.5 325.5h0M634.1 325.0h0"/>
<path stroke="#eff3f6" d="M636.7 324.6h0M639.4 324.2h0M642.0 323.9h0M644.6 323.6h0M649.9 323.2h0M652.5 323.0h0"/>
<path stroke="#f3f5f6" d="M647.3 323.4h0"/>
<path stroke="#f7f7f7" d="M655.2 323.0h0M657.8 322.9h0"/>
<path stroke="#f8f1ed" d="M665.7 323.2h0M668.4 323.3h0"/>
<path stroke="#f8f4f2" d="M660.5 323.0h0M663.1 323.0h0"/>
<path stroke="#f9ece4" d="M684.1 325.4h0M686.7 325.9h0M799.7 430.5h0"/>
<path stroke="#f9efe9" d="M671.0 323.5h0M673.7 323.8h0M681.5 324.9h0"/>
<path stroke="#fae9df" d="M676.3 324.1h0M678.9 324.5h0M689.3 326.5h0M697.0 328.5h0M699.6 329.2h0M798.8 427.8h0"/>
<path stroke="#fbe3d5" d="M704.6 330.9h0M707.1 331.8h0M794.7 417.3h0"/>
<path stroke="#fbe6da" d="M691.9 327.1h0M694.5 327.8h0M702.1 330.0h0M709.6 332.8h0M795.8 419.9h0M796.8 422.5h0M797.8 425.1h0"/>
<path stroke="#fcd6c0" d="M770.2 377.0h0M777.0 385.7h0M778.6 388.0h0M783.1 395.0h0M788.7 404.7h0M790.0 407.1h0"/>
<path stroke="#fcdecc" d="M726.6 340.7h0M728.9 342.0h0M735.8 346.3h0M738.0 347.7h0M740.3 349.3h0M746.8 354.1h0M748.9 355.8h0M751.0 357.6h0M753.1 359.3h0M755.1 361.2h0M761.0 366.8h0M764.8 370.8h0M768.4 374.9h0M793.6 414.7h0"/>
<path stroke="#fce1d1" d="M712.1 333.8h0M714.5 334.8h0M717.0 335.9h0M719.4 337.0h0M721.8 338.2h0M724.2 339.4h0M731.2 343.4h0M744.6 352.5h0"/>
<path stroke="#fddbc7" d="M733.5 344.8h0M742.5 350.9h0M757.1 363.0h0M759.1 364.9h0M762.9 368.8h0M766.6 372.8h0M772.0 379.1h0M773.7 381.3h0M775.3 383.5h0M780.1 390.3h0M781.7 392.6h0M784.6 397.4h0M786.0 399.8h0M787.4 402.2h0M791.2 409.6h0M792.4 412.2h0"/>
<path stroke="#d5e7f1" d="M519.1 413.4h0M548.4 368.4h0M564.7 353.0h0"/>
<path stroke="#d9e9f1" d="M512.9 429.6h0M515.8 421.4h0M521.5 408.2h0M522.7 405.7h0M524.1 403.1h0M525.4 400.6h0M526.8 398.1h0M528.2 395.6h0M532.8 388.4h0M534.4 386.1h0M536.0 383.7h0M537.7 381.5h0M539.4 379.2h0M541.1 377.0h0M544.7 372.6h0M546.5 370.5h0M550.3 366.4h0M552.3 364.3h0M556.3 360.4h0M558.3 358.5h0M560.4 356.6h0M562.5 354.8h0M566.8 351.3h0M569.0 349.6h0M571.2 347.9h0M575.8 344.7h0M582.7 340.3h0"/>
<path stroke="#dceaf2" d="M508.9 443.5h0M509.6 440.7h0M510.4 437.9h0M511.2 435.1h0M513.8 426.8h0M514.8 424.1h0M516.8 418.7h0M517.9 416.1h0M520.2 410.8h0M529.7 393.2h0M531.2 390.8h0M542.9 374.8h0M554.3 362.4h0M573.5 346.3h0M578.1 343.2h0M580.4 341.7h0M585.1 338.9h0M587.5 337.5h0M589.9 336.2h0M594.8 333.7h0M597.3 332.5h0M602.3 330.3h0"/>
<path stroke="#e0ecf3" d="M507.7 449.1h0M508.3 446.3h0M512.0 432.3h0M592.3 334.9h0M599.8 331.4h0M620.3 324.2h0"/>
<path stroke="#e4eef3" d="M604.8 329.3h0M607.4 328.3h0M609.9 327.4h0M615.1 325.7h0M617.7 324.9h0M623.0 323.5h0M625.6 322.8h0"/>
<path stroke="#e8f0f4" d="M506.2 457.7h0M506.6 454.8h0M507.1 452.0h0M612.5 326.5h0M630.9 321.7h0"/>
<path stroke="#ecf2f5" d="M505.8 460.6h0M628.2 322.2h0M633.6 321.2h0M641.6 320.1h0M652.4 319.2h0"/>
<path stroke="#eff3f6" d="M636.2 320.8h0M638.9 320.4h0M644.3 319.8h0"/>
<path stroke="#f3f5f6" d="M647.0 319.5h0M649.7 319.4h0"/>
<path stroke="#f7f7f7" d="M657.8 319.1h0"/>
<path stroke="#f8f1ed" d="M660.5 319.1h0M665.9 319.3h0M671.3 319.7h0"/>
<path stroke="#f8f4f2" d="M655.1 319.2h0M663.2 319.2h0M668.6 319.5h0"/>
<path stroke="#f9ece4" d="M676.7 320.3h0M679.4 320.7h0M682.1 321.2h0M684.7 321.6h0"/>
<path stroke="#f9efe9" d="M674.0 320.0h0"/>
<path stroke="#fae9df" d="M687.4 322.2h0M690.0 322.7h0M700.5 325.6h0M803.0 429.2h0"/>
<path stroke="#fbe3d5" d="M692.7 323.4h0M708.3 328.2h0M713.4 330.2h0M732.9 340.1h0M797.9 415.7h0M799.0 418.4h0"/>
<path stroke="#fbe6da" d="M695.3 324.1h0M697.9 324.8h0M703.1 326.4h0M705.7 327.3h0M710.8 329.2h0M800.1 421.0h0M801.1 423.7h0M802.1 426.4h0"/>
<path stroke="#fcd6c0" d="M772.9 374.5h0M779.8 383.4h0M781.4 385.7h0M784.6 390.5h0M786.1 392.9h0M790.4 400.2h0M791.8 402.8h0"/>
<path stroke="#fcdecc" d="M715.9 331.3h0M720.9 333.5h0M725.8 336.0h0M735.3 341.5h0M737.6 343.0h0M751.1 352.8h0M759.4 360.1h0M765.4 366.1h0M796.8 413.1h0"/>
<path stroke="#fce1d1" d="M718.4 332.4h0M723.3 334.8h0M728.2 337.3h0M730.6 338.7h0M746.7 349.3h0M748.9 351.0h0"/>
<path stroke="#fddbc7" d="M739.9 344.5h0M742.2 346.1h0M744.5 347.7h0M753.2 354.6h0M755.3 356.4h0M757.4 358.2h0M761.5 362.1h0M763.4 364.0h0M767.3 368.1h0M769.2 370.2h0M771.1 372.3h0M774.7 376.7h0M776.4 378.9h0M778.1 381.1h0M783.0 388.1h0M787.6 395.3h0M789.0 397.8h0M793.1 405.3h0M794.4 407.9h0M795.6 410.5h0"/>
<path stroke="#d5e7f1" d="M525.2 393.6h0M534.9 379.1h0M545.9 365.7h0M558.2 353.7h0"/>
<path stroke="#d9e9f1" d="M509.5 428.3h0M511.5 422.7h0M514.7 414.5h0M515.9 411.8h0M518.3 406.5h0M519.6 403.9h0M521.0 401.3h0M522.3 398.7h0M523.8 396.1h0M529.9 386.2h0M531.5 383.8h0M533.2 381.4h0M536.6 376.8h0M540.2 372.2h0M544.0 367.9h0M547.9 363.6h0M549.9 361.6h0M551.9 359.5h0M553.9 357.6h0M560.3 351.8h0M562.5 350.0h0M564.7 348.2h0M567.0 346.5h0M569.2 344.8h0M571.5 343.1h0M573.9 341.5h0M578.6 338.4h0M581.0 336.9h0M583.4 335.5h0M593.3 330.2h0M598.4 327.9h0"/>
<path stroke="#dceaf2" d="M505.5 442.5h0M506.2 439.7h0M507.0 436.8h0M507.8 433.9h0M510.5 425.5h0M512.5 420.0h0M513.6 417.2h0M517.1 409.1h0M526.7 391.1h0M528.3 388.6h0M538.4 374.5h0M542.1 370.0h0M556.0 355.6h0M576.2 339.9h0M585.9 334.1h0M588.3 332.8h0M590.8 331.5h0M595.9 329.0h0"/>
<path stroke="#e0ecf3" d="M504.8 445.4h0M508.6 431.1h0M601.0 326.8h0M608.8 323.8h0M614.1 322.0h0"/>
<path stroke="#e4eef3" d="M503.7 451.2h0M504.2 448.3h0M603.6 325.7h0M606.2 324.7h0M616.8 321.2h0M619.5 320.5h0M622.1 319.8h0M624.8 319.1h0"/>
<path stroke="#e8f0f4" d="M502.7 457.1h0M503.1 454.2h0M611.5 322.9h0M627.6 318.5h0M633.0 317.5h0"/>
<path stroke="#ecf2f5" d="M502.2 460.0h0M630.3 318.0h0M638.5 316.6h0M641.2 316.3h0"/>
<path stroke="#eff3f6" d="M635.7 317.0h0M644.0 316.0h0M646.7 315.7h0M652.3 315.4h0"/>
<path stroke="#f3f5f6" d="M649.5 315.6h0M657.8 315.3h0"/>
<path stroke="#f8f1ed" d="M655.0 315.3h0M660.6 315.3h0M668.9 315.7h0"/>
<path stroke="#f8f4f2" d="M663.3 315.4h0"/>
<path stroke="#f9ece4" d="M677.1 316.6h0M679.9 316.9h0M682.6 317.4h0M685.4 317.9h0M688.1 318.4h0"/>
<path stroke="#f9efe9" d="M666.1 315.5h0M671.6 315.9h0M674.4 316.2h0"/>
<path stroke="#fae9df" d="M701.5 321.9h0M806.4 427.9h0"/>
<path stroke="#fbe3d5" d="M706.8 323.6h0M709.4 324.6h0M714.6 326.6h0M734.7 336.7h0M803.4 419.6h0M804.4 422.3h0"/>
<path stroke="#fbe6da" d="M690.8 319.0h0M693.5 319.7h0M696.2 320.4h0M698.9 321.1h0M704.2 322.7h0M712.1 325.6h0M805.4 425.1h0"/>
<path stroke="#fcd6c0" d="M775.5 371.9h0M779.1 376.4h0M780.9 378.7h0M782.6 381.1h0M784.3 383.5h0M789.1 390.7h0M790.6 393.2h0M793.5 398.3h0M794.9 400.9h0M796.2 403.5h0M797.5 406.1h0"/>
<path stroke="#fcdecc" d="M717.2 327.7h0M722.3 330.1h0M729.8 333.9h0M739.5 339.7h0M741.8 341.3h0M753.2 349.7h0M755.4 351.6h0M761.8 357.3h0M773.7 369.7h0M785.9 385.9h0M792.0 395.8h0"/>
<path stroke="#fce1d1" d="M719.8 328.9h0M724.8 331.3h0M727.3 332.6h0M732.2 335.3h0M737.1 338.2h0M748.7 346.2h0M751.0 348.0h0M801.2 414.1h0M802.3 416.8h0"/>
<path stroke="#fddbc7" d="M744.2 342.9h0M746.5 344.5h0M757.5 353.4h0M759.7 355.3h0M763.8 359.2h0M765.9 361.3h0M767.9 363.3h0M769.8 365.4h0M771.8 367.6h0M777.3 374.2h0M787.5 388.3h0M798.8 408.7h0M800.0 411.4h0"/>
<path stroke="#d5e7f1" d="M516.5 402.0h0M520.7 394.1h0M522.2 391.5h0M533.9 374.3h0M543.4 363.0h0M545.4 360.9h0M567.2 341.6h0"/>
<path stroke="#d9e9f1" d="M502.1 441.6h0M504.4 432.8h0M506.2 427.0h0M508.2 421.3h0M512.7 410.2h0M515.2 404.7h0M517.9 399.4h0M519.3 396.7h0M525.4 386.5h0M527.0 384.0h0M528.7 381.5h0M530.4 379.1h0M532.1 376.7h0M537.6 369.7h0M541.4 365.2h0M547.4 358.8h0M549.5 356.7h0M551.6 354.7h0M555.9 350.7h0M558.1 348.8h0M560.3 347.0h0M562.6 345.1h0M564.9 343.4h0M572.0 338.3h0M574.4 336.7h0M579.3 333.6h0M581.7 332.1h0M586.8 329.4h0M591.9 326.8h0M599.7 323.2h0"/>
<path stroke="#dceaf2" d="M502.8 438.6h0M503.6 435.7h0M505.3 429.9h0M507.1 424.2h0M509.2 418.5h0M510.3 415.7h0M511.5 412.9h0M513.9 407.4h0M523.8 389.0h0M535.7 372.0h0M539.5 367.5h0M553.7 352.7h0M569.6 339.9h0M576.8 335.1h0M584.2 330.7h0M589.3 328.0h0M597.1 324.4h0M605.0 321.1h0M607.7 320.2h0"/>
<path stroke="#e0ecf3" d="M500.8 447.5h0M501.4 444.5h0M594.5 325.5h0"/>
<path stroke="#e4eef3" d="M500.2 450.5h0M602.4 322.2h0M610.4 319.2h0M618.6 316.8h0M621.3 316.0h0"/>
<path stroke="#e8f0f4" d="M499.2 456.5h0M499.6 453.5h0M613.1 318.4h0M615.8 317.5h0M624.1 315.4h0M626.9 314.8h0M632.4 313.7h0"/>
<path stroke="#ecf2f5" d="M498.7 459.5h0M629.6 314.2h0M635.2 313.2h0M640.9 312.5h0"/>
<path stroke="#eff3f6" d="M638.0 312.8h0M643.7 312.2h0M652.1 311.6h0"/>
<path stroke="#f3f5f6" d="M646.5 311.9h0M649.3 311.7h0"/>
<path stroke="#f7f7f7" d="M657.8 311.5h0"/>
<path stroke="#f8f1ed" d="M660.6 311.5h0"/>
<path stroke="#f8f4f2" d="M655.0 311.5h0M663.5 311.6h0M669.1 311.9h0"/>
<path stroke="#f9ece4" d="M677.6 312.8h0M686.0 314.1h0M691.5 315.3h0"/>
<path stroke="#f9efe9" d="M666.3 311.7h0M671.9 312.1h0M674.8 312.4h0M683.2 313.6h0"/>
<path stroke="#fae9df" d="M680.4 313.2h0M688.8 314.7h0M702.5 318.2h0"/>
<path stroke="#fbd0b9" d="M787.1 381.2h0"/>
<path stroke="#fbe3d5" d="M705.2 319.1h0M713.3 322.0h0M715.9 323.1h0M806.7 418.1h0M808.7 423.8h0"/>
<path stroke="#fbe6da" d="M694.3 315.9h0M697.0 316.7h0M699.8 317.4h0M809.7 426.6h0"/>
<path stroke="#fcd6c0" d="M781.9 374.0h0M783.7 376.4h0M785.4 378.7h0M792.0 388.6h0M799.3 401.6h0M800.7 404.3h0"/>
<path stroke="#fcdecc" d="M721.2 325.4h0M723.8 326.6h0M731.4 330.5h0M738.9 334.9h0M741.3 336.5h0M746.1 339.7h0M748.4 341.4h0M755.3 346.7h0M764.1 354.4h0M766.2 356.4h0M788.8 383.6h0M805.5 415.3h0"/>
<path stroke="#fce1d1" d="M707.9 320.0h0M710.6 321.0h0M718.6 324.2h0M726.3 327.8h0M728.9 329.2h0M733.9 331.9h0M736.4 333.4h0M743.7 338.0h0M750.8 343.1h0M753.1 344.9h0M804.4 412.5h0M807.7 420.9h0"/>
<path stroke="#fddbc7" d="M757.6 348.6h0M759.8 350.5h0M762.0 352.4h0M768.3 358.5h0M770.4 360.6h0M772.4 362.7h0M774.3 364.9h0M776.3 367.1h0M778.2 369.4h0M780.0 371.7h0M790.4 386.1h0M793.6 391.2h0M795.1 393.8h0M796.5 396.4h0M797.9 399.0h0M801.9 407.0h0M803.2 409.8h0"/>
<path stroke="#d5e7f1" d="M519.3 389.5h0M531.2 371.9h0M540.8 360.4h0M542.9 358.2h0M555.9 345.8h0M558.2 343.9h0M560.5 342.1h0M565.2 338.5h0M572.5 333.4h0M580.1 328.8h0"/>
<path stroke="#d9e9f1" d="M499.4 437.6h0M501.0 431.7h0M502.8 425.8h0M504.8 419.9h0M505.9 417.1h0M508.2 411.3h0M509.4 408.5h0M510.7 405.7h0M513.4 400.2h0M516.2 394.8h0M517.7 392.1h0M522.4 384.3h0M527.5 376.8h0M529.3 374.3h0M534.9 367.2h0M536.9 364.9h0M538.8 362.6h0M545.0 356.0h0M547.1 353.9h0M549.2 351.8h0M553.7 347.8h0M562.9 340.2h0M570.1 335.1h0M577.5 330.3h0M587.8 324.6h0M590.4 323.3h0"/>
<path stroke="#dceaf2" d="M497.9 443.7h0M498.6 440.6h0M500.2 434.6h0M501.9 428.7h0M503.8 422.8h0M507.1 414.2h0M512.0 403.0h0M514.8 397.5h0M520.8 386.9h0M524.1 381.8h0M525.8 379.3h0M533.0 369.5h0M551.4 349.8h0M567.6 336.7h0M575.0 331.8h0M582.6 327.3h0M585.2 325.9h0M593.1 322.0h0M598.4 319.7h0"/>
<path stroke="#e0ecf3" d="M497.3 446.7h0M595.7 320.8h0M601.1 318.6h0M603.9 317.5h0M606.6 316.5h0M620.5 312.3h0"/>
<path stroke="#e4eef3" d="M496.2 452.8h0M496.7 449.7h0M612.1 314.7h0M623.3 311.6h0M626.2 311.0h0"/>
<path stroke="#e8f0f4" d="M495.7 455.9h0M609.4 315.6h0M614.9 313.8h0M617.7 313.1h0M629.0 310.4h0M631.9 309.9h0M634.7 309.5h0"/>
<path stroke="#ecf2f5" d="M495.2 458.9h0M649.1 307.9h0M652.0 307.8h0"/>
<path stroke="#eff3f6" d="M637.6 309.0h0M640.5 308.7h0"/>
<path stroke="#f3f5f6" d="M643.4 308.4h0"/>
<path stroke="#f7f7f7" d="M646.2 308.1h0"/>
<path stroke="#f8f4f2" d="M654.9 307.7h0M657.8 307.7h0M663.6 307.8h0M669.4 308.1h0"/>
<path stroke="#f9ece4" d="M680.9 309.4h0M683.7 309.8h0M686.6 310.4h0M689.4 310.9h0M692.3 311.5h0"/>
<path stroke="#f9efe9" d="M660.7 307.7h0M666.5 307.9h0M672.2 308.3h0M675.1 308.6h0M678.0 309.0h0"/>
<path stroke="#fbe3d5" d="M695.1 312.2h0M697.9 312.9h0M700.7 313.7h0M706.3 315.4h0M709.0 316.4h0M714.5 318.4h0M812.1 422.4h0"/>
<path stroke="#fbe6da" d="M703.5 314.6h0M813.1 425.3h0"/>
<path stroke="#fcd6c0" d="M764.3 349.5h0M776.9 362.3h0M788.2 376.4h0M790.0 378.9h0M793.3 383.9h0M799.6 394.4h0M802.4 399.8h0M803.8 402.6h0M805.1 405.3h0"/>
<path stroke="#fcdecc" d="M722.6 321.9h0M725.2 323.1h0M733.0 327.1h0M738.1 330.1h0M743.1 333.2h0M748.0 336.5h0M750.4 338.2h0M757.5 343.7h0M791.7 381.4h0M808.8 413.8h0M811.0 419.5h0"/>
<path stroke="#fce1d1" d="M711.8 317.4h0M717.2 319.5h0M719.9 320.7h0M727.8 324.4h0M730.4 325.7h0M735.6 328.6h0M745.6 334.8h0M752.8 340.0h0M755.2 341.8h0M807.6 410.9h0M809.9 416.6h0"/>
<path stroke="#fddbc7" d="M740.7 331.6h0M759.8 345.6h0M762.0 347.5h0M766.5 351.5h0M768.6 353.6h0M770.7 355.7h0M772.8 357.9h0M774.9 360.0h0M778.9 364.5h0M780.8 366.8h0M782.7 369.2h0M784.6 371.6h0M786.4 374.0h0M795.0 386.5h0M796.5 389.1h0M798.1 391.8h0M801.0 397.1h0M806.4 408.1h0"/>
<path stroke="#d5e7f1" d="M516.3 387.4h0M528.4 369.5h0M532.3 364.6h0M534.2 362.3h0M538.3 357.7h0M540.4 355.4h0M551.4 344.8h0M556.0 340.9h0M558.4 339.0h0M560.8 337.1h0M563.2 335.3h0M570.7 330.2h0M575.8 327.0h0"/>
<path stroke="#d9e9f1" d="M495.9 436.6h0M498.5 427.5h0M499.5 424.5h0M502.6 415.6h0M503.8 412.7h0M506.2 406.9h0M507.5 404.0h0M510.3 398.4h0M513.2 392.9h0M514.7 390.1h0M517.9 384.8h0M521.2 379.5h0M523.0 377.0h0M524.7 374.4h0M526.6 371.9h0M536.3 360.0h0M542.5 353.2h0M544.7 351.1h0M546.9 349.0h0M549.1 346.9h0M553.7 342.9h0M565.7 333.6h0M568.2 331.8h0M578.4 325.4h0M581.0 323.9h0M586.3 321.1h0M589.0 319.8h0M597.1 316.1h0"/>
<path stroke="#dceaf2" d="M493.8 445.9h0M494.5 442.8h0M495.2 439.7h0M496.8 433.6h0M497.6 430.5h0M501.5 418.5h0M505.0 409.8h0M508.9 401.2h0M511.7 395.6h0M519.5 382.1h0M530.3 367.0h0M573.2 328.5h0M583.6 322.5h0M591.7 318.5h0M599.9 315.0h0M602.7 313.9h0M619.7 308.6h0"/>
<path stroke="#e0ecf3" d="M493.2 449.0h0M500.5 421.5h0M594.4 317.3h0M611.1 311.0h0"/>
<path stroke="#e4eef3" d="M492.7 452.1h0M605.5 312.9h0M614.0 310.2h0M622.6 307.9h0M625.5 307.3h0M631.3 306.1h0"/>
<path stroke="#e8f0f4" d="M491.7 458.4h0M492.2 455.2h0M608.3 311.9h0M616.8 309.4h0"/>
<path stroke="#ecf2f5" d="M628.4 306.7h0M634.2 305.7h0M651.9 304.0h0"/>
<path stroke="#eff3f6" d="M648.9 304.1h0"/>
<path stroke="#f3f5f6" d="M637.2 305.3h0M640.1 304.9h0M643.0 304.6h0M646.0 304.3h0"/>
<path stroke="#f8f1ed" d="M657.8 303.9h0M666.7 304.1h0M678.4 305.2h0"/>
<path stroke="#f8f4f2" d="M654.8 303.9h0M660.8 303.9h0M663.7 304.0h0M669.6 304.3h0"/>
<path stroke="#f9ece4" d="M681.4 305.6h0M693.0 307.8h0"/>
<path stroke="#f9efe9" d="M672.6 304.5h0M675.5 304.8h0M687.2 306.6h0"/>
<path stroke="#fbd0b9" d="M806.9 400.8h0"/>
<path stroke="#fbe3d5" d="M695.9 308.5h0M707.3 311.8h0M710.1 312.8h0M712.9 313.8h0M732.0 322.3h0M816.4 424.1h0"/>
<path stroke="#fbe6da" d="M684.3 306.1h0M690.1 307.2h0M698.8 309.2h0M701.6 310.0h0M704.5 310.9h0M715.7 314.8h0"/>
<path stroke="#fcd6c0" d="M764.3 344.6h0M766.6 346.6h0M779.5 359.6h0M781.5 362.0h0M787.3 369.1h0M789.2 371.6h0M791.0 374.1h0M792.8 376.6h0M796.3 381.8h0M802.6 392.5h0M805.6 398.0h0M809.6 406.5h0"/>
<path stroke="#fcdecc" d="M721.2 317.1h0M726.7 319.6h0M739.9 326.7h0M742.4 328.3h0M745.0 329.9h0M750.0 333.3h0M752.4 335.1h0M757.3 338.7h0M759.6 340.6h0M771.0 350.8h0M794.6 379.2h0M810.8 409.4h0M814.3 418.1h0"/>
<path stroke="#fce1d1" d="M718.5 316.0h0M729.3 320.9h0M734.7 323.7h0M737.3 325.2h0M747.5 331.6h0M754.9 336.9h0M813.2 415.2h0M815.4 421.1h0"/>
<path stroke="#fddbc7" d="M724.0 318.3h0M762.0 342.6h0M768.8 348.7h0M773.2 352.9h0M775.3 355.1h0M777.4 357.4h0M783.5 364.3h0M785.4 366.7h0M797.9 384.4h0M799.5 387.1h0M801.1 389.8h0M804.1 395.2h0M808.3 403.6h0M812.1 412.3h0"/>
<path stroke="#d1e5f0" d="M549.2 341.9h0M553.9 337.9h0M568.8 326.9h0"/>
<path stroke="#d5e7f1" d="M531.6 359.7h0M535.8 355.0h0M537.9 352.7h0M542.3 348.3h0M546.8 344.0h0M556.3 335.9h0M561.2 332.2h0M574.0 323.6h0"/>
<path stroke="#d9e9f1" d="M494.2 429.4h0M496.1 423.2h0M498.2 417.2h0M499.4 414.1h0M503.0 405.2h0M504.4 402.3h0M507.1 396.6h0M508.6 393.7h0M510.1 390.9h0M511.7 388.1h0M513.3 385.4h0M520.1 374.7h0M521.9 372.1h0M523.8 369.6h0M525.7 367.0h0M527.6 364.6h0M529.6 362.1h0M533.7 357.3h0M540.1 350.5h0M544.6 346.1h0M551.5 339.9h0M558.7 334.0h0M566.3 328.6h0M571.4 325.2h0M579.4 320.5h0M587.5 316.3h0M595.9 312.6h0"/>
<path stroke="#dceaf2" d="M490.4 445.1h0M491.0 441.9h0M491.7 438.7h0M492.5 435.6h0M493.3 432.5h0M495.2 426.3h0M500.5 411.2h0M501.8 408.2h0M505.7 399.4h0M514.9 382.7h0M516.6 380.0h0M518.3 377.3h0M563.7 330.4h0M576.7 322.1h0M582.1 319.1h0M584.8 317.7h0M590.3 315.0h0M593.1 313.8h0M598.7 311.4h0M601.5 310.3h0"/>
<path stroke="#e0ecf3" d="M497.2 420.2h0M604.4 309.3h0M618.9 304.9h0M621.9 304.2h0"/>
<path stroke="#e4eef3" d="M488.7 454.6h0M489.2 451.4h0M489.7 448.2h0M607.3 308.3h0M610.1 307.4h0"/>
<path stroke="#e8f0f4" d="M613.1 306.5h0M616.0 305.7h0M624.8 303.5h0M627.8 302.9h0M630.7 302.4h0"/>
<path stroke="#ecf2f5" d="M488.2 457.8h0M651.8 300.2h0"/>
<path stroke="#eff3f6" d="M633.7 301.9h0M636.7 301.5h0M639.7 301.1h0M645.7 300.5h0M648.7 300.3h0M654.8 300.1h0"/>
<path stroke="#f3f5f6" d="M642.7 300.8h0"/>
<path stroke="#f7f7f7" d="M660.8 300.1h0"/>
<path stroke="#f8f1ed" d="M657.8 300.0h0M663.8 300.1h0M666.8 300.3h0M672.9 300.7h0M678.9 301.4h0"/>
<path stroke="#f8f4f2" d="M669.9 300.5h0"/>
<path stroke="#f9ece4" d="M681.9 301.8h0M693.7 304.1h0"/>
<path stroke="#f9efe9" d="M675.9 301.0h0M687.8 302.8h0"/>
<path stroke="#fae9df" d="M684.8 302.3h0M699.6 305.5h0M716.9 311.2h0"/>
<path stroke="#fbe3d5" d="M690.8 303.4h0M702.5 306.4h0M708.3 308.2h0M711.2 309.1h0M714.1 310.2h0M751.9 330.1h0"/>
<path stroke="#fbe6da" d="M705.5 307.2h0"/>
<path stroke="#fcd6c0" d="M771.1 345.8h0M782.0 357.0h0M788.1 364.2h0M790.1 366.7h0M795.7 374.3h0M799.2 379.6h0M800.9 382.3h0M807.2 393.3h0M810.1 399.0h0M812.8 404.8h0"/>
<path stroke="#fcdecc" d="M728.1 316.1h0M733.6 318.9h0M736.3 320.3h0M744.2 325.0h0M746.8 326.7h0M749.4 328.4h0M756.9 333.8h0M759.4 335.6h0M773.4 347.9h0M775.6 350.1h0M816.5 413.7h0M817.6 416.7h0M818.7 419.7h0"/>
<path stroke="#fce1d1" d="M696.7 304.8h0M719.8 312.4h0M722.6 313.6h0M730.9 317.5h0M738.9 321.8h0M741.6 323.4h0M819.7 422.8h0"/>
<path stroke="#fddbc7" d="M725.3 314.8h0M754.4 331.9h0M761.8 337.6h0M764.2 339.6h0M766.5 341.6h0M768.9 343.7h0M777.8 352.4h0M779.9 354.7h0M784.1 359.4h0M786.1 361.8h0M792.0 369.2h0M793.8 371.7h0M797.4 377.0h0M802.5 385.0h0M804.1 387.7h0M805.7 390.5h0M808.7 396.2h0M811.5 401.9h0M814.1 407.8h0M815.3 410.7h0"/>
<path stroke="#cbe2ee" d="M567.0 323.6h0"/>
<path stroke="#d1e5f0" d="M533.3 352.3h0M551.7 334.8h0M569.6 321.9h0"/>
<path stroke="#d5e7f1" d="M492.8 422.0h0M504.0 394.8h0M510.3 383.3h0M517.2 372.4h0M522.9 364.6h0M524.9 362.1h0M529.0 357.1h0M535.4 350.0h0M537.7 347.7h0M539.9 345.4h0M544.5 341.1h0M546.9 338.9h0M549.3 336.9h0M559.2 329.0h0M577.7 317.2h0M594.6 309.0h0"/>
<path stroke="#d9e9f1" d="M488.3 437.8h0M490.8 428.2h0M494.9 415.8h0M496.1 412.7h0M498.5 406.6h0M499.8 403.6h0M501.2 400.6h0M505.5 391.9h0M507.0 389.0h0M508.6 386.2h0M513.7 377.8h0M519.1 369.8h0M521.0 367.2h0M526.9 359.6h0M531.1 354.7h0M542.2 343.2h0M554.2 332.8h0M556.7 330.9h0M561.8 327.2h0M564.4 325.4h0M572.3 320.3h0M586.1 312.8h0M591.7 310.2h0"/>
<path stroke="#dceaf2" d="M487.6 441.0h0M489.1 434.6h0M489.9 431.4h0M491.8 425.1h0M497.3 409.6h0M502.6 397.7h0M511.9 380.6h0M515.4 375.1h0M575.0 318.7h0M580.5 315.7h0M583.3 314.2h0M588.9 311.5h0M597.5 307.8h0M600.4 306.7h0"/>
<path stroke="#e0ecf3" d="M486.3 447.5h0M486.9 444.2h0M493.8 418.9h0M603.3 305.6h0M606.2 304.6h0M618.1 301.2h0"/>
<path stroke="#e4eef3" d="M485.1 454.0h0M485.7 450.7h0M609.2 303.7h0M615.1 302.0h0M621.1 300.4h0M624.1 299.8h0"/>
<path stroke="#e8f0f4" d="M484.7 457.3h0M630.2 298.6h0"/>
<path stroke="#ecf2f5" d="M612.1 302.8h0M627.1 299.2h0"/>
<path stroke="#eff3f6" d="M636.3 297.7h0M639.3 297.3h0M648.6 296.5h0M651.6 296.3h0M654.7 296.3h0"/>
<path stroke="#f3f5f6" d="M633.2 298.1h0M642.4 297.0h0M645.5 296.7h0"/>
<path stroke="#f8f4f2" d="M660.9 296.2h0M663.9 296.3h0M667.0 296.5h0M670.1 296.7h0"/>
<path stroke="#f9ece4" d="M679.3 297.6h0M685.4 298.5h0M694.5 300.3h0M700.5 301.8h0"/>
<path stroke="#f9efe9" d="M657.8 296.2h0M673.2 296.9h0M676.2 297.2h0"/>
<path stroke="#fae9df" d="M682.4 298.0h0M688.4 299.1h0M706.4 303.6h0"/>
<path stroke="#fbd0b9" d="M813.2 397.3h0"/>
<path stroke="#fbe3d5" d="M709.4 304.5h0M712.3 305.5h0M715.2 306.6h0M721.0 308.8h0"/>
<path stroke="#fbe6da" d="M691.5 299.7h0M697.5 301.1h0M703.5 302.7h0M718.1 307.7h0"/>
<path stroke="#fcd6c0" d="M768.8 338.6h0M784.6 354.4h0M792.8 364.2h0M798.5 372.1h0M802.1 377.4h0M803.8 380.2h0M805.5 382.9h0M807.2 385.7h0M808.7 388.6h0M810.3 391.4h0M814.6 400.2h0M816.0 403.2h0M819.8 412.2h0"/>
<path stroke="#fcdecc" d="M726.7 311.3h0M735.1 315.5h0M737.9 316.9h0M751.3 325.1h0M759.0 330.6h0M763.9 334.5h0M778.0 347.4h0M786.7 356.8h0M788.8 359.2h0M800.3 374.7h0M823.1 421.5h0"/>
<path stroke="#fce1d1" d="M723.9 310.0h0M729.6 312.6h0M732.4 314.0h0M740.6 318.5h0M748.7 323.4h0M753.9 326.9h0"/>
<path stroke="#fddbc7" d="M743.3 320.1h0M746.0 321.7h0M756.4 328.7h0M761.5 332.6h0M766.4 336.6h0M771.1 340.8h0M773.5 342.9h0M775.8 345.1h0M780.3 349.7h0M782.5 352.0h0M790.8 361.7h0M794.7 366.8h0M796.6 369.4h0M811.8 394.3h0M817.3 406.2h0M818.6 409.2h0M820.9 415.3h0M822.0 418.4h0"/>
<path stroke="#d1e5f0" d="M530.7 349.6h0M570.6 317.0h0"/>
<path stroke="#d5e7f1" d="M489.4 420.7h0M500.9 392.9h0M504.0 387.1h0M507.3 381.3h0M512.5 372.9h0M514.4 370.2h0M520.2 362.2h0M533.0 347.3h0M535.2 344.9h0M537.5 342.6h0M539.9 340.4h0M542.2 338.2h0M544.6 336.0h0M547.1 333.9h0M549.6 331.8h0M554.6 327.8h0M565.1 320.4h0M584.6 309.4h0"/>
<path stroke="#d9e9f1" d="M486.5 430.3h0M487.4 427.1h0M488.4 423.9h0M491.6 414.4h0M492.8 411.2h0M494.0 408.1h0M495.3 405.0h0M496.6 402.0h0M498.0 398.9h0M499.4 395.9h0M502.4 390.0h0M505.6 384.2h0M510.7 375.7h0M516.3 367.5h0M518.2 364.8h0M522.2 359.6h0M524.3 357.0h0M526.4 354.5h0M528.5 352.1h0M552.1 329.8h0M557.2 325.9h0M559.8 324.0h0M562.5 322.2h0M567.8 318.6h0M573.3 315.3h0M578.9 312.2h0M581.7 310.8h0"/>
<path stroke="#dceaf2" d="M483.4 443.4h0M484.1 440.1h0M484.9 436.9h0M485.7 433.6h0M509.0 378.5h0M576.1 313.8h0M587.5 308.0h0M590.4 306.7h0M593.3 305.4h0M596.2 304.2h0M599.2 303.1h0M605.2 301.0h0"/>
<path stroke="#e0ecf3" d="M482.8 446.7h0M490.5 417.5h0M602.2 302.0h0M614.2 298.3h0"/>
<path stroke="#e4eef3" d="M481.6 453.4h0M482.2 450.0h0M617.3 297.5h0M620.4 296.7h0M623.4 296.0h0"/>
<path stroke="#e8f0f4" d="M481.2 456.7h0M608.2 300.0h0M611.2 299.1h0M626.5 295.4h0"/>
<path stroke="#ecf2f5" d="M629.6 294.8h0M632.7 294.3h0M635.8 293.9h0M642.1 293.2h0"/>
<path stroke="#eff3f6" d="M639.0 293.5h0M645.2 292.9h0M654.6 292.4h0"/>
<path stroke="#f3f5f6" d="M651.5 292.5h0"/>
<path stroke="#f7f7f7" d="M648.4 292.7h0M664.1 292.5h0"/>
<path stroke="#f8f1ed" d="M657.8 292.4h0M667.2 292.7h0"/>
<path stroke="#f8f4f2" d="M660.9 292.4h0M670.3 292.9h0"/>
<path stroke="#f9ece4" d="M676.6 293.4h0M679.7 293.8h0M686.0 294.8h0M695.2 296.6h0M701.3 298.1h0"/>
<path stroke="#f9efe9" d="M673.5 293.1h0M689.1 295.3h0"/>
<path stroke="#fae9df" d="M692.1 295.9h0M698.3 297.3h0M707.4 299.9h0"/>
<path stroke="#fbe3d5" d="M716.4 302.9h0M719.4 304.1h0M731.0 309.2h0"/>
<path stroke="#fbe6da" d="M682.8 294.3h0M704.4 299.0h0M710.4 300.9h0M713.4 301.9h0"/>
<path stroke="#fcd6c0" d="M747.8 318.4h0M771.0 335.7h0M785.0 349.3h0M787.2 351.7h0M791.4 356.7h0M795.5 361.8h0M799.5 367.1h0M801.4 369.8h0M808.5 380.9h0M810.2 383.7h0M811.8 386.6h0M816.4 395.5h0M817.8 398.5h0M819.2 401.5h0M823.0 410.8h0M824.2 413.9h0M825.4 417.1h0"/>
<path stroke="#fcdecc" d="M736.7 312.0h0M742.3 315.1h0M750.5 320.1h0M753.2 321.9h0M755.8 323.7h0M758.4 325.6h0M761.0 327.5h0M763.6 329.5h0M766.1 331.5h0M768.6 333.6h0M780.5 344.6h0"/>
<path stroke="#fce1d1" d="M722.3 305.3h0M725.2 306.5h0M733.9 310.6h0"/>
<path stroke="#fddbc7" d="M728.1 307.8h0M739.5 313.5h0M745.1 316.7h0M773.4 337.8h0M775.8 340.0h0M778.2 342.3h0M782.7 346.9h0M789.3 354.2h0M793.5 359.2h0M797.5 364.4h0M803.2 372.5h0M805.0 375.3h0M806.8 378.1h0M813.4 389.6h0M814.9 392.5h0M820.5 404.6h0M821.8 407.7h0M826.4 420.2h0"/>
<path stroke="#d1e5f0" d="M530.5 344.5h0M535.1 339.8h0M568.8 313.6h0"/>
<path stroke="#d5e7f1" d="M486.1 419.4h0M500.9 385.1h0M502.6 382.2h0M511.5 367.9h0M515.4 362.4h0M519.5 357.1h0M528.2 347.0h0M532.8 342.1h0M537.5 337.5h0M544.9 330.9h0M547.4 328.8h0M550.0 326.7h0M552.6 324.7h0M563.3 317.1h0"/>
<path stroke="#d9e9f1" d="M482.3 432.6h0M484.1 426.0h0M485.0 422.7h0M488.3 413.0h0M490.8 406.6h0M493.4 400.3h0M494.8 397.2h0M496.3 394.2h0M497.8 391.1h0M499.3 388.1h0M504.3 379.2h0M506.0 376.4h0M507.8 373.5h0M509.7 370.7h0M513.5 365.1h0M517.5 359.8h0M523.8 352.0h0M526.0 349.4h0M539.9 335.2h0M542.4 333.0h0M555.2 322.7h0M560.6 318.9h0M566.1 315.3h0M571.6 312.0h0M577.3 308.8h0M580.2 307.3h0M583.1 305.9h0M586.1 304.5h0M589.0 303.2h0M592.0 301.9h0M595.0 300.7h0M604.1 297.4h0"/>
<path stroke="#dceaf2" d="M479.9 442.6h0M480.7 439.3h0M481.4 435.9h0M483.1 429.3h0M489.5 409.8h0M492.1 403.5h0M521.6 354.5h0M557.9 320.8h0M574.5 310.4h0M598.0 299.5h0"/>
<path stroke="#e0ecf3" d="M479.3 446.0h0M487.2 416.2h0M601.1 298.4h0"/>
<path stroke="#e4eef3" d="M478.1 452.8h0M478.7 449.4h0M607.2 296.4h0M610.3 295.4h0M613.4 294.6h0M616.5 293.7h0M619.6 293.0h0M622.7 292.3h0"/>
<path stroke="#e8f0f4" d="M477.6 456.2h0M629.1 291.1h0M632.2 290.6h0M635.4 290.1h0"/>
<path stroke="#ecf2f5" d="M625.9 291.7h0M641.8 289.4h0M645.0 289.1h0"/>
<path stroke="#eff3f6" d="M638.6 289.7h0M654.6 288.6h0"/>
<path stroke="#f3f5f6" d="M648.2 288.9h0M651.4 288.7h0"/>
<path stroke="#f7f7f7" d="M664.2 288.7h0"/>
<path stroke="#f8f4f2" d="M657.8 288.6h0M661.0 288.6h0"/>
<path stroke="#f9efe9" d="M667.4 288.8h0M670.6 289.1h0M673.8 289.3h0M686.5 291.0h0M689.7 291.6h0"/>
<path stroke="#fae9df" d="M677.0 289.7h0M680.2 290.0h0M683.3 290.5h0M692.8 292.2h0M696.0 292.9h0M699.1 293.6h0M702.2 294.4h0"/>
<path stroke="#fbe3d5" d="M711.5 297.2h0M714.5 298.2h0M720.6 300.5h0M723.6 301.7h0M726.6 303.0h0"/>
<path stroke="#fbe6da" d="M705.3 295.3h0M708.4 296.2h0"/>
<path stroke="#fcd6c0" d="M775.7 334.9h0M789.7 349.1h0M798.3 359.4h0M802.3 364.7h0M804.2 367.5h0M809.7 375.9h0M811.5 378.8h0M813.2 381.7h0M818.0 390.7h0M819.5 393.7h0M821.0 396.8h0M822.4 399.9h0M823.8 403.0h0M827.5 412.5h0M828.7 415.7h0M829.8 419.0h0"/>
<path stroke="#fcdecc" d="M729.5 304.3h0M738.3 308.6h0M741.1 310.1h0M755.1 318.7h0M757.8 320.5h0M763.1 324.4h0M782.9 341.8h0M791.9 351.6h0"/>
<path stroke="#fce1d1" d="M717.6 299.3h0M732.5 305.7h0M735.4 307.1h0M744.0 311.7h0M746.8 313.4h0M752.3 316.9h0"/>
<path stroke="#fddbc7" d="M749.6 315.1h0M760.4 322.4h0M765.7 326.4h0M768.2 328.5h0M770.8 330.6h0M773.3 332.7h0M778.2 337.2h0M780.6 339.5h0M785.2 344.2h0M787.5 346.6h0M794.1 354.1h0M796.2 356.7h0M800.3 362.0h0M806.1 370.3h0M807.9 373.1h0M814.9 384.7h0M816.5 387.7h0M825.1 406.1h0M826.3 409.3h0"/>
<path stroke="#d1e5f0" d="M532.7 337.0h0M547.9 323.6h0M553.2 319.6h0M567.1 310.3h0"/>
<path stroke="#d5e7f1" d="M482.7 418.2h0M497.9 383.2h0M499.5 380.2h0M501.3 377.2h0M508.7 365.6h0M512.7 360.0h0M514.7 357.3h0M516.8 354.6h0M525.7 344.3h0M530.3 339.4h0M535.2 334.6h0M540.1 330.1h0M545.3 325.7h0M550.5 321.6h0M558.7 315.7h0M590.7 298.3h0"/>
<path stroke="#d9e9f1" d="M478.8 431.6h0M479.7 428.2h0M480.7 424.8h0M481.7 421.5h0M485.0 411.6h0M486.2 408.3h0M487.5 405.1h0M490.2 398.7h0M491.6 395.5h0M493.1 392.4h0M494.7 389.3h0M496.2 386.2h0M503.1 374.2h0M504.9 371.3h0M506.8 368.5h0M510.7 362.8h0M519.0 352.0h0M521.2 349.4h0M523.4 346.8h0M528.0 341.8h0M537.6 332.3h0M542.7 327.9h0M555.9 317.6h0M561.5 313.9h0M564.3 312.1h0M570.0 308.6h0M572.9 307.0h0M578.7 303.9h0M584.7 301.0h0M587.7 299.6h0M593.8 297.1h0M596.8 295.9h0M603.1 293.7h0"/>
<path stroke="#dceaf2" d="M477.2 438.4h0M478.0 435.0h0M483.8 414.9h0M488.8 401.9h0M575.8 305.4h0M581.7 302.4h0"/>
<path stroke="#e0ecf3" d="M475.2 448.7h0M475.8 445.2h0M476.5 441.8h0M599.9 294.8h0"/>
<path stroke="#e4eef3" d="M474.6 452.1h0M609.3 291.7h0M612.5 290.9h0M618.9 289.3h0M622.1 288.5h0M628.5 287.3h0"/>
<path stroke="#e8f0f4" d="M474.1 455.6h0M606.2 292.7h0M615.7 290.0h0M635.0 286.3h0"/>
<path stroke="#ecf2f5" d="M631.7 286.8h0M641.5 285.6h0"/>
<path stroke="#eff3f6" d="M625.3 287.9h0M651.2 284.9h0"/>
<path stroke="#f3f5f6" d="M638.2 285.9h0M644.7 285.3h0M648.0 285.1h0M654.5 284.8h0"/>
<path stroke="#f8f4f2" d="M657.8 284.8h0M661.0 284.8h0M664.3 284.9h0"/>
<path stroke="#f9ece4" d="M667.6 285.0h0M670.8 285.2h0M690.3 287.8h0M696.7 289.1h0M699.9 289.9h0M703.1 290.7h0"/>
<path stroke="#f9efe9" d="M674.1 285.5h0M677.3 285.9h0M687.1 287.2h0"/>
<path stroke="#fae9df" d="M680.6 286.3h0M693.5 288.4h0M709.4 292.6h0"/>
<path stroke="#fbd0b9" d="M824.2 395.1h0M830.8 411.1h0"/>
<path stroke="#fbe3d5" d="M721.8 296.9h0M727.9 299.4h0"/>
<path stroke="#fbe6da" d="M683.8 286.7h0M706.2 291.6h0"/>
<path stroke="#fcd6c0" d="M778.0 332.0h0M787.7 341.5h0M790.0 343.9h0M796.7 351.6h0M801.0 356.9h0M805.1 362.4h0M807.1 365.2h0M809.0 368.0h0M812.7 373.8h0M814.5 376.8h0M817.9 382.7h0M819.6 385.8h0M821.1 388.9h0M822.7 392.0h0M825.6 398.2h0M827.0 401.4h0M832.0 414.4h0M833.1 417.7h0"/>
<path stroke="#fcdecc" d="M712.5 293.6h0M733.9 302.2h0M739.8 305.2h0M748.5 310.1h0M751.4 311.8h0M756.9 315.4h0M759.7 317.3h0M762.4 319.3h0M770.4 325.4h0M773.0 327.6h0M780.5 334.3h0M785.3 339.0h0"/>
<path stroke="#fce1d1" d="M715.6 294.6h0M724.9 298.1h0M730.9 300.8h0M736.9 303.7h0M745.6 308.4h0"/>
<path stroke="#fddbc7" d="M718.7 295.7h0M742.8 306.7h0M754.2 313.6h0M765.1 321.3h0M767.8 323.3h0M775.5 329.8h0M782.9 336.6h0M792.3 346.4h0M794.5 349.0h0M798.9 354.2h0M803.1 359.7h0M810.9 370.9h0M816.2 379.7h0M828.3 404.6h0M829.6 407.9h0"/>
<path stroke="#d1e5f0" d="M498.3 375.1h0M530.3 334.2h0M537.9 327.1h0M543.1 322.7h0M545.8 320.5h0"/>
<path stroke="#d5e7f1" d="M476.3 427.1h0M479.4 416.9h0M493.1 384.3h0M494.8 381.2h0M496.5 378.2h0M505.8 363.3h0M509.9 357.7h0M512.0 354.9h0M514.1 352.2h0M518.6 346.8h0M523.1 341.6h0M527.9 336.6h0M532.8 331.8h0M535.3 329.4h0M548.5 318.5h0M556.8 312.5h0M562.5 308.8h0M565.4 307.0h0M577.2 300.4h0M583.3 297.5h0M586.3 296.1h0M589.4 294.8h0"/>
<path stroke="#d9e9f1" d="M475.4 430.6h0M477.3 423.7h0M478.3 420.3h0M481.7 410.2h0M482.9 406.9h0M484.2 403.6h0M487.0 397.0h0M488.5 393.8h0M490.0 390.6h0M491.5 387.5h0M500.1 372.1h0M502.0 369.2h0M503.9 366.2h0M507.8 360.5h0M520.8 344.2h0M525.5 339.1h0M540.5 324.9h0M551.2 316.4h0M554.0 314.4h0M559.6 310.6h0M568.3 305.3h0M580.2 298.9h0M592.5 293.5h0"/>
<path stroke="#dceaf2" d="M473.0 441.0h0M473.8 437.5h0M474.5 434.0h0M480.5 413.5h0M485.6 400.3h0M516.3 349.5h0M571.2 303.6h0M574.2 302.0h0M595.7 292.3h0M602.0 290.1h0"/>
<path stroke="#e0ecf3" d="M472.3 444.5h0M608.4 288.1h0M611.6 287.2h0M614.9 286.3h0M627.9 283.5h0"/>
<path stroke="#e4eef3" d="M471.1 451.5h0M471.7 448.0h0M598.8 291.1h0M618.1 285.5h0"/>
<path stroke="#e8f0f4" d="M470.6 455.1h0M621.4 284.8h0M624.6 284.1h0"/>
<path stroke="#ecf2f5" d="M605.2 289.0h0M634.5 282.5h0"/>
<path stroke="#eff3f6" d="M631.2 283.0h0M647.8 281.3h0"/>
<path stroke="#f3f5f6" d="M637.8 282.1h0M641.1 281.8h0M644.5 281.5h0M651.1 281.1h0M654.4 281.0h0"/>
<path stroke="#f8f1ed" d="M657.8 281.0h0"/>
<path stroke="#f8f4f2" d="M661.1 281.0h0M664.4 281.1h0M671.1 281.4h0"/>
<path stroke="#f9ece4" d="M667.8 281.2h0M674.4 281.7h0M677.7 282.1h0M681.0 282.5h0M697.4 285.4h0M700.7 286.2h0"/>
<path stroke="#fae9df" d="M684.3 282.9h0M687.6 283.5h0M694.2 284.7h0M703.9 287.0h0M710.4 288.9h0"/>
<path stroke="#fbd0b9" d="M815.7 371.7h0"/>
<path stroke="#fbe3d5" d="M707.2 287.9h0M716.7 291.0h0M723.0 293.3h0"/>
<path stroke="#fbe6da" d="M690.9 284.0h0"/>
<path stroke="#fcd6c0" d="M780.3 329.1h0M790.2 338.7h0M803.7 354.5h0M809.9 362.9h0M813.8 368.7h0M817.5 374.7h0M821.0 380.8h0M822.6 383.9h0M824.3 387.0h0M825.8 390.2h0M827.3 393.4h0M830.2 399.8h0M831.6 403.1h0M832.9 406.4h0M834.1 409.7h0M835.3 413.0h0M836.5 416.4h0"/>
<path stroke="#fcdecc" d="M732.3 297.3h0M744.4 303.4h0M747.3 305.0h0M753.1 308.5h0M756.0 310.3h0M767.1 318.2h0M769.9 320.2h0M772.5 322.4h0M787.8 336.2h0"/>
<path stroke="#fce1d1" d="M713.6 289.9h0M719.9 292.1h0M726.1 294.6h0M729.2 295.9h0M735.4 298.7h0M738.4 300.2h0M741.4 301.7h0M761.6 314.1h0M775.2 324.6h0"/>
<path stroke="#fddbc7" d="M750.2 306.7h0M758.8 312.2h0M764.4 316.1h0M777.8 326.8h0M782.8 331.4h0M785.3 333.8h0M792.5 341.2h0M794.9 343.8h0M797.1 346.4h0M799.4 349.1h0M801.6 351.8h0M805.8 357.3h0M807.9 360.1h0M811.9 365.8h0M819.2 377.7h0M828.8 396.6h0"/>
<path stroke="#cbe2ee" d="M541.0 319.7h0M585.0 292.6h0"/>
<path stroke="#d1e5f0" d="M543.7 317.5h0M546.4 315.3h0"/>
<path stroke="#d5e7f1" d="M483.8 395.4h0M491.7 379.3h0M493.5 376.2h0M495.3 373.1h0M501.0 364.0h0M503.0 361.1h0M507.1 355.3h0M509.3 352.5h0M511.4 349.7h0M515.9 344.2h0M518.3 341.5h0M520.6 338.9h0M525.5 333.8h0M527.9 331.3h0M530.5 328.9h0M535.6 324.2h0M549.2 313.3h0M552.0 311.2h0M554.9 309.3h0M560.7 305.5h0M563.6 303.7h0M566.6 301.9h0M575.7 297.0h0M588.1 291.2h0M591.3 289.9h0"/>
<path stroke="#d9e9f1" d="M470.3 436.6h0M472.0 429.5h0M472.9 426.0h0M473.9 422.5h0M474.9 419.1h0M476.0 415.6h0M481.0 402.0h0M485.3 392.1h0M486.8 388.9h0M488.4 385.7h0M490.1 382.5h0M497.1 370.0h0M499.0 367.0h0M523.0 336.4h0M533.0 326.5h0M538.3 321.9h0M557.8 307.3h0M569.6 300.2h0M572.6 298.6h0M581.9 294.0h0M614.1 282.6h0"/>
<path stroke="#dceaf2" d="M468.8 443.7h0M471.1 433.1h0M477.2 412.2h0M478.4 408.8h0M479.7 405.4h0M482.4 398.7h0M505.0 358.2h0M513.7 346.9h0M578.8 295.4h0M607.5 284.4h0M610.8 283.5h0"/>
<path stroke="#e0ecf3" d="M469.5 440.2h0M594.5 288.7h0"/>
<path stroke="#e4eef3" d="M467.6 450.9h0M468.2 447.3h0M597.7 287.5h0M601.0 286.4h0M617.4 281.8h0M620.7 281.1h0M627.4 279.8h0"/>
<path stroke="#e8f0f4" d="M467.1 454.5h0M604.2 285.4h0M624.0 280.4h0M647.6 277.4h0"/>
<path stroke="#ecf2f5" d="M630.7 279.2h0M634.1 278.7h0"/>
<path stroke="#eff3f6" d="M640.8 278.0h0"/>
<path stroke="#f7f7f7" d="M637.4 278.3h0M644.2 277.7h0M651.0 277.3h0M654.4 277.2h0M657.8 277.1h0M661.2 277.2h0"/>
<path stroke="#f8f1ed" d="M667.9 277.4h0M678.1 278.3h0"/>
<path stroke="#f8f4f2" d="M671.3 277.6h0"/>
<path stroke="#f9ece4" d="M681.5 278.7h0M684.8 279.2h0M688.2 279.7h0M698.2 281.7h0M704.8 283.3h0"/>
<path stroke="#f9efe9" d="M664.5 277.3h0"/>
<path stroke="#fae9df" d="M674.7 277.9h0M701.5 282.5h0"/>
<path stroke="#fbd0b9" d="M827.4 385.2h0M830.5 391.7h0"/>
<path stroke="#fbe3d5" d="M711.3 285.2h0M727.4 291.0h0M733.7 293.8h0"/>
<path stroke="#fbe6da" d="M691.5 280.3h0M694.9 281.0h0"/>
<path stroke="#fcd6c0" d="M782.6 326.2h0M806.5 352.1h0M810.7 357.7h0M812.7 360.7h0M816.7 366.6h0M818.6 369.6h0M820.5 372.6h0M825.7 382.0h0M829.0 388.4h0M833.5 398.2h0M836.2 404.9h0M837.4 408.3h0M838.7 411.7h0M839.8 415.1h0"/>
<path stroke="#fcdecc" d="M743.0 298.3h0M746.0 300.0h0M754.9 305.2h0M763.6 310.9h0M766.4 313.0h0M790.2 333.5h0M822.3 375.7h0"/>
<path stroke="#fce1d1" d="M708.1 284.2h0M714.6 286.3h0M717.8 287.4h0M721.0 288.5h0M724.2 289.7h0M730.6 292.4h0M736.8 295.2h0M739.9 296.7h0M777.4 321.6h0"/>
<path stroke="#fddbc7" d="M749.0 301.6h0M752.0 303.4h0M757.8 307.1h0M760.7 309.0h0M769.2 315.0h0M771.9 317.2h0M774.7 319.3h0M780.0 323.9h0M785.2 328.6h0M787.7 331.0h0M792.7 336.0h0M795.1 338.6h0M797.4 341.2h0M799.8 343.8h0M802.0 346.5h0M804.3 349.3h0M808.6 354.9h0M814.8 363.6h0M824.0 378.9h0M832.0 394.9h0M834.8 401.6h0"/>
<path stroke="#cbe2ee" d="M550.1 308.0h0"/>
<path stroke="#d1e5f0" d="M506.5 350.0h0M518.1 336.3h0M523.0 331.1h0M525.6 328.5h0M538.8 316.6h0M541.6 314.4h0M583.7 289.0h0"/>
<path stroke="#d5e7f1" d="M470.5 421.4h0M488.7 377.4h0M490.5 374.2h0M492.3 371.0h0M498.1 361.8h0M504.3 352.9h0M508.7 347.2h0M513.3 341.6h0M515.7 338.9h0M520.5 333.6h0M530.7 323.6h0M533.4 321.2h0M544.4 312.2h0M547.2 310.1h0M553.0 306.0h0M555.9 304.1h0M561.9 300.3h0M580.5 290.5h0"/>
<path stroke="#d9e9f1" d="M466.8 435.7h0M468.6 428.5h0M469.5 425.0h0M471.6 417.9h0M472.7 414.4h0M477.7 400.5h0M479.1 397.1h0M480.6 393.8h0M482.1 390.4h0M483.7 387.1h0M485.3 383.8h0M487.0 380.6h0M494.2 367.9h0M496.1 364.8h0M500.1 358.8h0M511.0 344.4h0M528.1 326.0h0M536.1 318.9h0M564.9 298.5h0M568.0 296.8h0M571.1 295.1h0M574.2 293.5h0M577.3 292.0h0M586.9 287.7h0M590.1 286.3h0"/>
<path stroke="#dceaf2" d="M467.7 432.1h0M473.9 410.9h0M475.1 407.4h0M476.4 404.0h0M502.2 355.8h0M558.9 302.2h0M613.2 278.9h0M616.6 278.1h0M620.0 277.3h0"/>
<path stroke="#e0ecf3" d="M465.4 443.0h0M466.1 439.3h0M593.3 285.1h0M596.6 283.9h0M609.9 279.8h0"/>
<path stroke="#e4eef3" d="M464.1 450.3h0M464.7 446.6h0M599.9 282.8h0M603.2 281.7h0M606.5 280.7h0"/>
<path stroke="#e8f0f4" d="M463.6 454.0h0M626.8 276.0h0M630.2 275.4h0"/>
<path stroke="#ecf2f5" d="M633.6 275.0h0M640.5 274.2h0M647.4 273.6h0"/>
<path stroke="#eff3f6" d="M623.4 276.6h0"/>
<path stroke="#f3f5f6" d="M644.0 273.9h0"/>
<path stroke="#f7f7f7" d="M637.1 274.5h0M650.9 273.5h0"/>
<path stroke="#f8f1ed" d="M664.7 273.4h0M678.5 274.5h0"/>
<path stroke="#f8f4f2" d="M654.3 273.4h0M657.8 273.3h0M661.2 273.3h0M668.1 273.6h0M671.6 273.8h0"/>
<path stroke="#f9ece4" d="M685.3 275.4h0M688.7 275.9h0"/>
<path stroke="#fae9df" d="M681.9 274.9h0M695.5 277.2h0"/>
<path stroke="#fbd0b9" d="M809.2 349.6h0M815.6 358.4h0M830.5 383.4h0M842.0 410.4h0"/>
<path stroke="#fbe3d5" d="M692.1 276.5h0M715.6 282.6h0M718.9 283.7h0M728.7 287.5h0M731.9 288.8h0M735.1 290.3h0"/>
<path stroke="#fbe6da" d="M675.0 274.1h0M698.9 277.9h0M702.3 278.8h0M705.7 279.6h0M712.3 281.6h0"/>
<path stroke="#fcd6c0" d="M776.8 316.3h0M784.9 323.3h0M804.7 344.0h0M819.6 364.4h0M821.6 367.5h0M823.5 370.6h0M832.1 386.6h0M833.7 390.0h0M835.2 393.3h0M836.7 396.6h0M838.1 400.0h0M839.4 403.5h0M840.7 406.9h0M843.2 413.9h0"/>
<path stroke="#fcdecc" d="M738.3 291.7h0M741.4 293.3h0M753.7 300.1h0M762.6 305.7h0M765.5 307.7h0M774.0 314.1h0M779.6 318.6h0M792.6 330.7h0M797.6 335.9h0"/>
<path stroke="#fce1d1" d="M709.0 280.6h0M722.2 284.9h0M725.5 286.2h0M747.6 296.6h0M756.7 301.9h0M759.7 303.8h0"/>
<path stroke="#fddbc7" d="M744.5 294.9h0M750.7 298.3h0M768.4 309.8h0M771.2 311.9h0M782.2 320.9h0M787.5 325.7h0M790.1 328.2h0M795.1 333.3h0M800.0 338.5h0M802.4 341.2h0M807.0 346.8h0M811.4 352.5h0M813.5 355.4h0M817.6 361.4h0M825.3 373.7h0M827.1 376.9h0M828.8 380.1h0"/>
<path stroke="#cbe2ee" d="M515.6 333.6h0"/>
<path stroke="#d1e5f0" d="M503.8 347.6h0M520.6 328.3h0M531.1 318.3h0M536.7 313.6h0M539.5 311.3h0M548.1 304.8h0M554.1 300.8h0"/>
<path stroke="#d5e7f1" d="M466.1 423.9h0M467.1 420.3h0M483.9 378.7h0M485.6 375.4h0M487.4 372.2h0M495.2 359.6h0M501.6 350.5h0M508.3 341.9h0M510.7 339.0h0M513.1 336.3h0M518.0 330.9h0M523.2 325.7h0M525.8 323.2h0M528.4 320.7h0M533.9 315.9h0M545.2 307.0h0M557.1 298.9h0M560.1 297.0h0M563.2 295.2h0M566.3 293.4h0M572.6 290.1h0M575.8 288.5h0M579.1 287.0h0"/>
<path stroke="#d9e9f1" d="M463.4 434.8h0M465.1 427.5h0M469.3 413.1h0M471.8 406.0h0M473.1 402.5h0M474.5 399.0h0M477.4 392.1h0M478.9 388.7h0M480.5 385.4h0M482.2 382.0h0M489.3 369.0h0M491.2 365.8h0M493.2 362.7h0M497.3 356.5h0M506.0 344.7h0M542.3 309.1h0M551.1 302.8h0M569.5 291.7h0M585.6 284.1h0M588.9 282.8h0"/>
<path stroke="#dceaf2" d="M461.9 442.2h0M462.6 438.5h0M464.2 431.2h0M468.2 416.7h0M470.5 409.5h0M475.9 395.6h0M499.4 353.5h0M582.3 285.5h0M592.2 281.5h0"/>
<path stroke="#e0ecf3" d="M461.2 445.9h0M595.5 280.3h0M602.2 278.0h0M609.0 276.1h0"/>
<path stroke="#e4eef3" d="M460.6 449.7h0M598.9 279.1h0M605.6 277.0h0M612.4 275.2h0M615.9 274.3h0M619.3 273.6h0M629.7 271.7h0"/>
<path stroke="#e8f0f4" d="M460.1 453.4h0M622.8 272.9h0"/>
<path stroke="#ecf2f5" d="M626.2 272.2h0"/>
<path stroke="#eff3f6" d="M633.2 271.2h0M640.2 270.4h0"/>
<path stroke="#f3f5f6" d="M643.7 270.1h0M647.2 269.8h0M650.7 269.6h0"/>
<path stroke="#f7f7f7" d="M636.7 270.7h0M657.8 269.5h0M668.3 269.8h0"/>
<path stroke="#f8f1ed" d="M661.3 269.5h0M664.8 269.6h0M671.8 270.0h0"/>
<path stroke="#f8f4f2" d="M654.2 269.5h0"/>
<path stroke="#f9ece4" d="M682.3 271.1h0"/>
<path stroke="#f9efe9" d="M678.8 270.7h0M689.3 272.1h0"/>
<path stroke="#fae9df" d="M675.3 270.3h0M696.2 273.5h0M699.7 274.2h0M706.5 275.9h0"/>
<path stroke="#fbd0b9" d="M824.5 365.4h0M838.4 391.6h0M845.3 409.0h0"/>
<path stroke="#fbe3d5" d="M720.0 280.1h0M726.7 282.6h0M733.2 285.3h0"/>
<path stroke="#fbe6da" d="M685.8 271.6h0M692.8 272.8h0M703.1 275.0h0M713.3 277.9h0"/>
<path stroke="#fcd6c0" d="M779.0 313.3h0M787.2 320.4h0M807.3 341.4h0M811.9 347.2h0M818.4 356.1h0M822.5 362.2h0M826.4 368.5h0M830.1 375.0h0M831.9 378.2h0M833.6 381.5h0M835.3 384.9h0M836.9 388.2h0M839.9 395.1h0M841.3 398.5h0M842.7 402.0h0M844.0 405.5h0M846.5 412.6h0"/>
<path stroke="#fcdecc" d="M739.7 288.3h0M742.9 289.8h0M746.1 291.5h0M755.4 296.7h0M761.5 300.5h0M773.3 308.8h0M784.5 317.9h0M792.5 325.3h0"/>
<path stroke="#fce1d1" d="M709.9 276.9h0M716.7 279.0h0M723.4 281.3h0M730.0 283.9h0M736.5 286.7h0M749.2 293.2h0M752.3 294.9h0M758.5 298.6h0M767.5 304.6h0M776.1 311.0h0M795.1 327.9h0"/>
<path stroke="#fddbc7" d="M764.5 302.5h0M770.4 306.6h0M781.7 315.6h0M789.9 322.8h0M797.6 330.5h0M800.1 333.2h0M802.6 335.9h0M805.0 338.6h0M809.7 344.3h0M814.1 350.1h0M816.3 353.1h0M820.5 359.1h0M828.3 371.7h0"/>
<path stroke="#cbe2ee" d="M558.4 293.7h0"/>
<path stroke="#d1e5f0" d="M498.8 348.2h0M515.6 328.2h0M518.1 325.5h0M520.8 322.9h0M528.9 315.3h0M531.7 312.9h0M534.5 310.6h0M537.4 308.3h0M546.2 301.7h0M552.2 297.5h0M561.5 291.8h0"/>
<path stroke="#d5e7f1" d="M463.7 419.1h0M479.0 380.2h0M482.6 373.5h0M484.4 370.2h0M492.3 357.4h0M494.4 354.3h0M501.0 345.2h0M505.7 339.3h0M510.5 333.7h0M513.0 330.9h0M543.2 303.8h0M549.2 299.6h0M564.7 290.0h0M567.9 288.3h0"/>
<path stroke="#d9e9f1" d="M459.9 434.0h0M461.7 426.5h0M462.7 422.8h0M464.8 415.5h0M466.0 411.8h0M468.5 404.6h0M469.8 401.0h0M471.2 397.5h0M472.7 394.0h0M474.2 390.5h0M475.7 387.0h0M477.4 383.6h0M480.8 376.8h0M486.3 366.9h0M488.3 363.7h0M490.3 360.5h0M503.3 342.2h0M508.1 336.5h0M523.4 320.3h0M526.1 317.8h0M540.3 306.0h0M555.3 295.6h0M571.1 286.6h0M574.4 285.0h0M577.7 283.5h0M584.3 280.5h0"/>
<path stroke="#dceaf2" d="M459.1 437.7h0M460.8 430.2h0M467.2 408.2h0M496.6 351.2h0M581.0 282.0h0M608.1 272.4h0"/>
<path stroke="#e0ecf3" d="M458.4 441.5h0M587.6 279.2h0M591.0 277.9h0M594.4 276.6h0M601.2 274.4h0M604.7 273.3h0"/>
<path stroke="#e4eef3" d="M457.1 449.0h0M457.7 445.3h0M597.8 275.5h0M611.6 271.4h0M615.1 270.6h0M618.6 269.8h0M629.2 267.9h0"/>
<path stroke="#e8f0f4" d="M456.6 452.9h0M632.8 267.4h0"/>
<path stroke="#ecf2f5" d="M622.1 269.1h0M636.3 266.9h0"/>
<path stroke="#eff3f6" d="M625.7 268.5h0M643.4 266.2h0M650.6 265.8h0"/>
<path stroke="#f3f5f6" d="M639.9 266.6h0M647.0 266.0h0M654.2 265.7h0M657.8 265.7h0"/>
<path stroke="#f8f1ed" d="M661.3 265.7h0M672.1 266.2h0M679.2 266.9h0"/>
<path stroke="#f8f4f2" d="M664.9 265.8h0M668.5 266.0h0"/>
<path stroke="#f9ece4" d="M675.6 266.5h0M689.8 268.4h0M696.9 269.7h0"/>
<path stroke="#fae9df" d="M682.7 267.3h0M686.3 267.8h0M710.8 273.2h0M714.3 274.2h0"/>
<path stroke="#fbd0b9" d="M789.5 317.4h0M814.7 344.7h0M821.3 353.8h0M827.5 363.3h0M829.4 366.5h0M838.4 383.1h0M840.0 386.5h0M841.6 390.0h0M848.6 407.7h0"/>
<path stroke="#fbe3d5" d="M703.9 271.3h0M717.7 275.3h0M737.9 283.2h0M754.0 291.5h0M760.3 295.3h0"/>
<path stroke="#fbe6da" d="M693.4 269.0h0M700.4 270.5h0M707.4 272.2h0"/>
<path stroke="#fcd6c0" d="M781.1 310.2h0M783.9 312.6h0M810.0 338.9h0M816.9 347.7h0M819.1 350.7h0M825.5 360.1h0M831.3 369.7h0M833.2 373.0h0M835.0 376.4h0M836.7 379.7h0M843.1 393.5h0M844.6 397.0h0M847.3 404.1h0M849.9 411.3h0"/>
<path stroke="#fcdecc" d="M721.1 276.5h0M747.6 288.0h0M750.8 289.8h0M757.2 293.4h0M763.4 297.3h0M769.4 301.4h0M775.3 305.7h0M778.2 307.9h0M786.7 315.0h0M797.5 325.1h0M802.6 330.5h0"/>
<path stroke="#fce1d1" d="M724.5 277.7h0M727.9 279.0h0M731.2 280.3h0M734.6 281.8h0M741.2 284.8h0M744.4 286.4h0"/>
<path stroke="#fddbc7" d="M766.4 299.3h0M772.4 303.5h0M792.2 320.0h0M794.9 322.5h0M800.1 327.8h0M805.1 333.3h0M807.6 336.1h0M812.3 341.8h0M823.4 356.9h0M846.0 400.5h0"/>
<path stroke="#cbe2ee" d="M515.7 322.7h0M544.2 298.5h0"/>
<path stroke="#d1e5f0" d="M475.9 378.4h0M503.0 336.8h0M510.5 328.2h0M513.1 325.4h0M518.4 320.1h0M523.8 314.9h0M532.3 307.5h0M535.3 305.2h0M547.3 296.3h0M550.4 294.3h0M556.7 290.3h0"/>
<path stroke="#d5e7f1" d="M460.3 418.0h0M465.2 403.2h0M474.2 381.8h0M479.5 371.6h0M481.4 368.2h0M483.3 364.9h0M487.3 358.4h0M489.4 355.2h0M496.0 345.8h0M498.3 342.7h0M508.0 331.0h0M521.1 317.5h0M526.6 312.4h0M529.5 309.9h0M541.2 300.6h0M553.5 292.3h0M563.1 286.6h0M569.6 283.2h0M572.9 281.5h0M576.3 279.9h0"/>
<path stroke="#d9e9f1" d="M459.3 421.7h0M461.5 414.3h0M462.6 410.6h0M468.0 396.0h0M469.4 392.4h0M471.0 388.8h0M472.6 385.3h0M477.7 375.0h0M485.3 361.6h0M491.6 352.0h0M493.8 348.9h0M500.6 339.7h0M505.5 333.9h0M538.2 302.9h0M559.9 288.4h0M566.3 284.9h0M583.0 277.0h0"/>
<path stroke="#dceaf2" d="M455.7 436.9h0M456.5 433.1h0M457.3 429.3h0M458.3 425.5h0M463.9 406.9h0M466.5 399.6h0M579.6 278.4h0M586.4 275.6h0M589.8 274.3h0M600.2 270.7h0M607.3 268.7h0"/>
<path stroke="#e0ecf3" d="M453.6 448.4h0M454.9 440.7h0M603.8 269.6h0M617.9 266.1h0"/>
<path stroke="#e4eef3" d="M454.2 444.6h0M610.8 267.7h0M614.4 266.9h0M628.7 264.1h0"/>
<path stroke="#e8f0f4" d="M453.1 452.3h0M593.3 273.0h0M596.8 271.8h0M632.3 263.6h0M635.9 263.1h0"/>
<path stroke="#ecf2f5" d="M625.1 264.7h0"/>
<path stroke="#eff3f6" d="M646.8 262.2h0M654.1 261.9h0"/>
<path stroke="#f3f5f6" d="M672.3 262.4h0"/>
<path stroke="#f7f7f7" d="M621.5 265.4h0M639.6 262.8h0M643.2 262.4h0M650.5 262.0h0M661.4 261.9h0M668.7 262.2h0"/>
<path stroke="#f8f1ed" d="M697.6 266.0h0"/>
<path stroke="#f8f4f2" d="M657.7 261.9h0M665.0 262.0h0"/>
<path stroke="#f9ece4" d="M683.2 263.5h0"/>
<path stroke="#f9efe9" d="M675.9 262.7h0M679.6 263.1h0M690.4 264.6h0M694.0 265.3h0"/>
<path stroke="#fae9df" d="M708.2 268.5h0"/>
<path stroke="#fbd0b9" d="M817.4 342.3h0M824.1 351.5h0M828.4 357.9h0M830.4 361.1h0M841.6 381.3h0M844.8 388.3h0"/>
<path stroke="#fbe3d5" d="M722.2 272.8h0M742.6 281.3h0M755.7 288.2h0"/>
<path stroke="#fbe6da" d="M686.8 264.0h0M701.1 266.8h0M704.7 267.6h0M711.8 269.5h0M715.3 270.5h0M718.8 271.7h0M725.7 274.1h0M729.1 275.4h0M739.3 279.7h0"/>
<path stroke="#fcd6c0" d="M774.4 300.3h0M786.1 309.6h0M791.8 314.5h0M797.3 319.7h0M807.7 330.6h0M812.6 336.4h0M821.9 348.4h0M826.3 354.7h0M832.4 364.4h0M834.4 367.7h0M836.2 371.1h0M839.8 377.9h0M843.2 384.8h0M846.4 391.9h0M847.9 395.5h0M849.3 399.1h0M850.6 402.7h0M852.0 406.3h0M853.2 410.0h0"/>
<path stroke="#fcdecc" d="M732.5 276.8h0M745.9 282.9h0M768.3 296.0h0M771.4 298.2h0M799.9 322.3h0M805.2 327.8h0M815.0 339.3h0"/>
<path stroke="#fce1d1" d="M735.9 278.2h0M749.2 284.6h0M762.1 292.0h0M777.4 302.6h0M780.3 304.8h0"/>
<path stroke="#fddbc7" d="M752.5 286.4h0M758.9 290.1h0M765.2 294.0h0M783.3 307.2h0M789.0 312.0h0M794.5 317.1h0M802.6 325.1h0M810.2 333.5h0M819.7 345.3h0M838.1 374.5h0"/>
<path stroke="#cbe2ee" d="M545.4 293.1h0M554.9 287.0h0"/>
<path stroke="#d1e5f0" d="M472.8 376.6h0M486.5 352.9h0M500.4 334.3h0M502.9 331.3h0M508.0 325.5h0M510.6 322.7h0M513.3 320.0h0M518.7 314.6h0M524.4 309.4h0M542.3 295.3h0M548.5 291.0h0"/>
<path stroke="#d5e7f1" d="M456.9 416.8h0M459.3 409.3h0M471.1 380.1h0M476.4 369.6h0M478.4 366.2h0M480.3 362.8h0M484.4 356.2h0M488.7 349.7h0M493.2 343.4h0M495.6 340.3h0M497.9 337.3h0M516.0 317.3h0M521.5 312.0h0M527.3 306.9h0M530.2 304.5h0M533.2 302.1h0M536.2 299.8h0M539.2 297.5h0M558.2 285.1h0M561.5 283.2h0M571.5 278.0h0M574.9 276.4h0"/>
<path stroke="#d9e9f1" d="M453.9 428.3h0M454.9 424.5h0M455.9 420.7h0M460.5 405.5h0M461.9 401.8h0M463.3 398.1h0M464.7 394.5h0M466.2 390.8h0M467.8 387.2h0M469.4 383.6h0M474.6 373.1h0M490.9 346.5h0M505.4 328.4h0M551.7 289.0h0M568.1 279.7h0M581.7 273.4h0M588.7 270.7h0M599.3 267.0h0"/>
<path stroke="#dceaf2" d="M451.4 440.0h0M452.2 436.1h0M453.0 432.2h0M458.1 413.1h0M482.3 359.5h0M578.3 274.9h0M585.2 272.0h0M592.2 269.4h0"/>
<path stroke="#e0ecf3" d="M450.1 447.8h0M564.8 281.4h0M606.4 265.0h0M610.0 264.0h0M613.6 263.1h0"/>
<path stroke="#e4eef3" d="M450.7 443.9h0M602.8 266.0h0M617.2 262.3h0M624.5 260.9h0M628.2 260.3h0M631.9 259.8h0"/>
<path stroke="#e8f0f4" d="M449.5 451.7h0M595.7 268.2h0"/>
<path stroke="#ecf2f5" d="M635.6 259.3h0"/>
<path stroke="#eff3f6" d="M620.9 261.6h0M646.6 258.4h0"/>
<path stroke="#f3f5f6" d="M639.2 259.0h0M654.0 258.1h0"/>
<path stroke="#f7f7f7" d="M650.3 258.2h0M668.9 258.4h0M676.2 258.9h0"/>
<path stroke="#f8f1ed" d="M657.7 258.1h0M672.6 258.6h0"/>
<path stroke="#f8f4f2" d="M642.9 258.6h0M661.4 258.1h0M665.2 258.2h0"/>
<path stroke="#f9ece4" d="M683.6 259.7h0M691.0 260.8h0M694.6 261.5h0M698.2 262.2h0M701.9 263.0h0"/>
<path stroke="#f9efe9" d="M679.9 259.3h0"/>
<path stroke="#fae9df" d="M687.3 260.3h0M712.7 265.8h0M719.8 268.0h0"/>
<path stroke="#fbd0b9" d="M820.1 339.9h0M827.0 349.3h0M831.3 355.7h0M844.7 379.6h0M846.4 383.1h0M855.3 405.0h0"/>
<path stroke="#fbe3d5" d="M705.5 263.9h0M716.3 266.9h0M737.2 274.7h0M763.8 288.7h0M779.4 299.4h0"/>
<path stroke="#fbe6da" d="M709.1 264.8h0M723.3 269.2h0M750.8 281.2h0M757.4 284.8h0"/>
<path stroke="#fcd6c0" d="M773.3 295.0h0M796.9 314.2h0M799.6 316.9h0M807.7 325.1h0M817.7 336.8h0M824.7 346.1h0M829.2 352.5h0M833.4 359.0h0M835.4 362.4h0M837.4 365.7h0M841.2 372.6h0M848.0 386.7h0M851.1 393.9h0M852.6 397.6h0M854.0 401.3h0M856.6 408.7h0"/>
<path stroke="#fcdecc" d="M760.6 286.7h0M782.4 301.8h0M788.3 306.6h0M805.0 322.3h0M812.8 330.9h0"/>
<path stroke="#fce1d1" d="M726.8 270.5h0M730.3 271.8h0M733.8 273.2h0M740.7 276.2h0M744.1 277.8h0M747.4 279.5h0M770.2 292.8h0M785.4 304.1h0M802.4 319.6h0"/>
<path stroke="#fddbc7" d="M754.1 283.0h0M767.0 290.7h0M776.4 297.2h0M791.2 309.1h0M794.1 311.6h0M810.3 328.0h0M815.3 333.8h0M822.5 343.0h0M839.3 369.1h0M843.0 376.1h0M849.6 390.3h0"/>
<path stroke="#cbe2ee" d="M500.2 328.7h0M510.8 317.2h0M516.4 311.7h0"/>
<path stroke="#d1e5f0" d="M483.6 350.7h0M490.4 341.0h0M497.7 331.7h0M505.4 322.9h0M508.1 320.0h0M519.2 309.1h0M528.0 301.5h0M531.0 299.0h0M543.5 289.9h0M546.7 287.8h0M553.2 283.7h0M587.5 267.1h0"/>
<path stroke="#d5e7f1" d="M455.9 408.0h0M461.4 392.9h0M467.9 378.3h0M469.7 374.7h0M471.5 371.2h0M473.4 367.7h0M475.3 364.2h0M477.3 360.8h0M481.5 354.0h0M488.1 344.2h0M492.8 337.9h0M495.2 334.8h0M502.8 325.8h0M513.6 314.4h0M522.1 306.5h0M534.1 296.7h0M540.3 292.1h0M559.8 279.8h0M570.0 274.6h0M584.0 268.4h0"/>
<path stroke="#d9e9f1" d="M448.7 435.3h0M450.5 427.4h0M452.5 419.6h0M453.6 415.7h0M457.2 404.2h0M458.6 400.4h0M460.0 396.7h0M463.0 389.2h0M464.6 385.6h0M466.2 381.9h0M479.4 357.4h0M485.9 347.4h0M525.1 303.9h0M537.2 294.3h0M549.9 285.7h0M556.5 281.7h0M563.2 278.0h0M573.5 272.9h0M576.9 271.4h0M580.4 269.9h0M598.3 263.4h0"/>
<path stroke="#dceaf2" d="M448.0 439.2h0M449.6 431.3h0M451.4 423.5h0M454.7 411.8h0M566.6 276.3h0M601.9 262.3h0M609.2 260.3h0"/>
<path stroke="#e0ecf3" d="M446.6 447.2h0M447.2 443.2h0M591.1 265.8h0M612.9 259.4h0"/>
<path stroke="#e8f0f4" d="M446.0 451.2h0M594.7 264.5h0M605.5 261.3h0M616.6 258.6h0M620.3 257.8h0M627.7 256.6h0"/>
<path stroke="#ecf2f5" d="M635.2 255.5h0"/>
<path stroke="#eff3f6" d="M624.0 257.2h0M631.4 256.0h0M638.9 255.2h0M646.4 254.6h0M654.0 254.3h0M657.7 254.2h0"/>
<path stroke="#f3f5f6" d="M661.5 254.3h0M676.6 255.1h0"/>
<path stroke="#f8f1ed" d="M642.7 254.8h0M665.3 254.4h0M672.8 254.8h0"/>
<path stroke="#f8f4f2" d="M650.2 254.4h0"/>
<path stroke="#f9ece4" d="M680.3 255.5h0M687.8 256.5h0M691.5 257.1h0M698.9 258.5h0"/>
<path stroke="#f9efe9" d="M669.0 254.5h0M684.0 255.9h0M695.2 257.7h0"/>
<path stroke="#fae9df" d="M706.3 260.2h0M710.0 261.1h0M713.6 262.1h0"/>
<path stroke="#fbd0b9" d="M802.0 314.0h0M822.9 337.4h0M829.8 347.0h0M847.9 377.8h0M849.6 381.4h0M854.4 392.4h0M858.6 403.7h0"/>
<path stroke="#fbe3d5" d="M752.3 277.8h0M781.5 296.3h0M787.6 301.1h0"/>
<path stroke="#fbe6da" d="M702.6 259.3h0M717.2 263.2h0M720.8 264.4h0M724.4 265.6h0"/>
<path stroke="#fcd6c0" d="M735.1 269.7h0M790.5 303.6h0M793.5 306.1h0M799.2 311.3h0M812.8 325.3h0M817.9 331.3h0M832.1 350.2h0M834.2 353.6h0M836.3 356.9h0M838.4 360.3h0M840.4 363.7h0M844.2 370.7h0M846.1 374.2h0M851.2 385.0h0M855.8 396.1h0M857.3 399.9h0M859.9 407.5h0"/>
<path stroke="#fcdecc" d="M731.6 268.2h0M738.6 271.1h0M762.3 283.4h0M768.9 287.5h0M772.1 289.6h0M810.2 322.4h0M815.4 328.3h0"/>
<path stroke="#fce1d1" d="M728.0 266.9h0M742.1 272.7h0M745.5 274.3h0M748.9 276.0h0M759.0 281.5h0M804.8 316.8h0"/>
<path stroke="#fddbc7" d="M755.7 279.6h0M765.6 285.4h0M775.2 291.8h0M778.4 294.0h0M784.5 298.7h0M796.4 308.7h0M807.5 319.6h0M820.4 334.3h0M825.2 340.6h0M827.6 343.7h0M842.4 367.2h0M852.8 388.7h0"/>
<path stroke="#cbe2ee" d="M505.6 317.3h0M508.4 314.4h0M514.0 308.9h0M525.9 298.4h0M528.9 296.0h0M532.0 293.5h0M541.6 286.7h0"/>
<path stroke="#d1e5f0" d="M474.3 358.7h0M495.1 329.2h0M497.6 326.1h0M500.2 323.1h0M502.9 320.2h0M519.9 303.5h0M538.4 288.9h0M544.8 284.5h0M561.6 274.6h0"/>
<path stroke="#d5e7f1" d="M452.6 406.7h0M458.2 391.4h0M459.7 387.7h0M461.4 383.9h0M463.0 380.2h0M466.6 372.9h0M470.3 365.8h0M472.3 362.2h0M478.6 351.9h0M480.8 348.5h0M483.0 345.2h0M485.3 341.9h0M487.7 338.6h0M490.1 335.4h0M492.5 332.3h0M511.2 311.6h0M516.9 306.2h0M535.2 291.2h0M551.5 280.3h0M558.2 276.4h0M568.6 271.1h0"/>
<path stroke="#d9e9f1" d="M445.3 434.4h0M448.0 422.5h0M449.1 418.5h0M450.2 414.6h0M451.3 410.6h0M453.9 402.9h0M455.3 399.0h0M456.7 395.2h0M464.8 376.6h0M468.4 369.3h0M476.4 355.3h0M522.9 300.9h0M548.1 282.4h0M554.8 278.4h0M565.1 272.8h0M572.1 269.4h0M582.7 264.9h0M586.3 263.5h0M608.4 256.6h0"/>
<path stroke="#dceaf2" d="M444.5 438.5h0M446.1 430.4h0M447.0 426.4h0M575.6 267.8h0M579.1 266.3h0M612.1 255.7h0"/>
<path stroke="#e0ecf3" d="M443.1 446.6h0M443.8 442.5h0M590.0 262.1h0M593.6 260.9h0M597.3 259.7h0M601.0 258.6h0M604.7 257.6h0M627.2 252.8h0"/>
<path stroke="#e4eef3" d="M442.5 450.6h0"/>
<path stroke="#e8f0f4" d="M619.6 254.1h0M631.0 252.2h0M634.8 251.8h0"/>
<path stroke="#ecf2f5" d="M615.9 254.8h0M638.6 251.4h0"/>
<path stroke="#f3f5f6" d="M653.9 250.5h0M657.7 250.4h0"/>
<path stroke="#f7f7f7" d="M623.4 253.4h0M646.3 250.8h0M661.6 250.5h0M676.9 251.3h0"/>
<path stroke="#f8f1ed" d="M665.4 250.6h0M673.0 251.0h0M695.8 254.0h0"/>
<path stroke="#f8f4f2" d="M650.1 250.6h0"/>
<path stroke="#f9ece4" d="M669.2 250.7h0M684.5 252.2h0M699.6 254.7h0"/>
<path stroke="#f9efe9" d="M642.4 251.0h0M680.7 251.7h0M714.5 258.4h0"/>
<path stroke="#fae9df" d="M688.3 252.7h0M707.1 256.4h0"/>
<path stroke="#fbd0b9" d="M792.7 300.6h0M804.4 311.2h0M832.7 344.7h0M837.1 351.4h0M851.0 376.0h0M852.7 379.7h0M857.6 390.9h0M860.6 398.5h0M861.9 402.3h0"/>
<path stroke="#fbe3d5" d="M739.9 267.6h0M753.9 274.3h0M760.7 278.1h0M783.5 293.2h0"/>
<path stroke="#fbe6da" d="M692.1 253.3h0M703.4 255.6h0M710.8 257.4h0M718.2 259.5h0"/>
<path stroke="#fcd6c0" d="M777.2 288.6h0M815.4 322.7h0M823.1 331.8h0M825.6 335.0h0M828.0 338.2h0M839.3 354.8h0M841.4 358.2h0M845.4 365.2h0M847.3 368.8h0M854.4 383.4h0M856.1 387.1h0M863.2 406.2h0"/>
<path stroke="#fcdecc" d="M729.2 263.3h0M736.4 266.1h0M764.1 280.1h0M770.7 284.2h0"/>
<path stroke="#fce1d1" d="M721.9 260.7h0M725.5 262.0h0M732.8 264.6h0M743.5 269.2h0M747.0 270.8h0M750.4 272.6h0M774.0 286.4h0M789.7 298.1h0M812.7 319.8h0"/>
<path stroke="#fddbc7" d="M757.3 276.2h0M767.4 282.1h0M780.4 290.9h0M786.6 295.6h0M795.7 303.2h0M798.7 305.8h0M801.6 308.5h0M807.2 314.0h0M810.0 316.9h0M818.0 325.7h0M820.6 328.8h0M830.4 341.4h0M834.9 348.0h0M843.4 361.7h0M849.2 372.4h0M859.1 394.7h0"/>
<path stroke="#cbe2ee" d="M471.3 356.7h0M495.0 323.6h0M497.7 320.5h0M505.9 311.6h0M523.7 295.4h0M530.0 290.4h0M539.7 283.4h0"/>
<path stroke="#d1e5f0" d="M459.8 378.5h0M469.3 360.2h0M482.5 339.6h0M487.3 333.0h0M492.4 326.7h0M500.4 317.5h0M503.1 314.5h0M511.7 306.0h0M517.6 300.6h0M526.8 292.9h0M536.4 285.7h0M543.0 281.2h0M546.3 279.1h0M556.6 273.1h0"/>
<path stroke="#d5e7f1" d="M452.0 397.6h0M453.4 393.8h0M454.9 389.9h0M456.5 386.1h0M458.1 382.3h0M463.4 371.1h0M467.3 363.8h0M475.6 349.7h0M477.9 346.3h0M484.9 336.3h0M489.9 329.8h0M508.8 308.8h0M520.7 298.0h0M533.2 288.0h0M549.7 277.0h0M567.1 267.6h0M570.7 265.9h0M581.5 261.3h0M585.2 259.9h0"/>
<path stroke="#d9e9f1" d="M441.8 433.6h0M442.7 429.6h0M444.6 421.4h0M445.7 417.4h0M446.8 413.4h0M448.0 409.4h0M449.2 405.5h0M450.6 401.5h0M461.6 374.8h0M473.5 353.2h0M480.2 342.9h0M514.6 303.3h0M560.1 271.2h0M563.6 269.4h0"/>
<path stroke="#dceaf2" d="M441.0 437.7h0M443.6 425.5h0M465.3 367.4h0M553.1 275.0h0M577.9 262.8h0M592.6 257.2h0M603.8 253.9h0M619.0 250.3h0M630.6 248.4h0"/>
<path stroke="#e0ecf3" d="M440.3 441.8h0M574.2 264.3h0M596.3 256.0h0"/>
<path stroke="#e4eef3" d="M439.6 446.0h0M588.8 258.5h0M600.0 254.9h0M626.7 249.0h0M649.9 246.8h0"/>
<path stroke="#e8f0f4" d="M439.0 450.1h0M611.4 251.9h0M622.9 249.6h0M638.3 247.5h0"/>
<path stroke="#ecf2f5" d="M607.6 252.9h0M615.2 251.1h0"/>
<path stroke="#eff3f6" d="M634.4 248.0h0M653.8 246.6h0M661.6 246.6h0"/>
<path stroke="#f3f5f6" d="M646.1 247.0h0M677.2 247.5h0"/>
<path stroke="#f7f7f7" d="M696.5 250.2h0"/>
<path stroke="#f8f1ed" d="M665.5 246.7h0"/>
<path stroke="#f8f4f2" d="M657.7 246.6h0M669.4 246.9h0M681.0 247.9h0"/>
<path stroke="#f9ece4" d="M673.3 247.2h0M688.8 248.9h0M704.1 251.8h0M715.4 254.8h0"/>
<path stroke="#f9efe9" d="M642.2 247.2h0M684.9 248.4h0"/>
<path stroke="#facbb2" d="M835.5 342.4h0"/>
<path stroke="#fae9df" d="M700.3 251.0h0M707.9 252.7h0"/>
<path stroke="#fbd0b9" d="M840.1 349.2h0M842.3 352.7h0M854.1 374.3h0M855.9 378.0h0M865.3 401.0h0"/>
<path stroke="#fbe3d5" d="M726.6 258.3h0M734.0 261.1h0M737.6 262.5h0M748.4 267.4h0M752.0 269.1h0M775.9 283.1h0"/>
<path stroke="#fbe6da" d="M692.6 249.5h0M719.2 255.9h0M762.4 274.7h0"/>
<path stroke="#fcd6c0" d="M769.2 278.8h0M779.1 285.4h0M798.0 300.2h0M801.0 302.9h0M806.8 308.4h0M828.3 332.6h0M833.2 339.1h0M837.8 345.8h0M846.5 359.7h0M848.5 363.3h0M850.4 366.9h0M852.3 370.6h0M857.6 381.7h0M859.3 385.5h0M860.9 389.4h0M862.4 393.2h0M863.9 397.1h0M866.6 404.9h0"/>
<path stroke="#fcdecc" d="M755.5 270.9h0M765.8 276.7h0M782.4 287.7h0M788.7 292.5h0M812.5 314.1h0"/>
<path stroke="#fce1d1" d="M711.7 253.7h0M730.3 259.7h0M741.3 264.1h0M785.6 290.1h0M791.8 295.0h0"/>
<path stroke="#fddbc7" d="M722.9 257.1h0M744.8 265.7h0M758.9 272.8h0M772.5 280.9h0M794.9 297.6h0M803.9 305.6h0M809.7 311.2h0M815.2 317.1h0M818.0 320.1h0M820.6 323.1h0M823.2 326.2h0M825.8 329.4h0M830.8 335.8h0M844.4 356.2h0"/>
<path stroke="#cbe2ee" d="M500.7 311.8h0M509.3 303.1h0M537.8 280.2h0"/>
<path stroke="#d1e5f0" d="M466.2 358.2h0M468.3 354.6h0M472.7 347.5h0M484.6 330.6h0M487.2 327.3h0M489.8 324.1h0M492.4 321.0h0M495.1 317.9h0M497.9 314.8h0M503.5 308.9h0M515.4 297.6h0M521.6 292.4h0M527.9 287.3h0M534.5 282.5h0M541.2 278.0h0M544.6 275.8h0M548.0 273.7h0M580.3 257.7h0M595.3 252.4h0"/>
<path stroke="#d5e7f1" d="M445.9 404.2h0M448.6 396.2h0M453.3 384.5h0M454.9 380.6h0M456.7 376.8h0M464.2 361.9h0M475.0 344.1h0M477.3 340.6h0M479.7 337.2h0M482.1 333.9h0M512.3 300.4h0M524.7 289.8h0M531.2 284.9h0M555.0 269.7h0"/>
<path stroke="#d9e9f1" d="M438.3 432.8h0M440.1 424.5h0M442.2 416.3h0M443.4 412.3h0M444.6 408.2h0M450.1 392.3h0M451.7 388.4h0M458.5 373.0h0M460.3 369.3h0M470.5 351.1h0M506.4 306.0h0M518.4 295.0h0M558.5 267.7h0M565.6 264.1h0"/>
<path stroke="#dceaf2" d="M439.2 428.7h0M441.2 420.4h0M447.2 400.2h0M462.2 365.6h0M569.3 262.4h0M572.9 260.8h0M576.6 259.2h0"/>
<path stroke="#e0ecf3" d="M436.1 445.3h0M436.8 441.1h0M437.5 437.0h0M551.5 271.6h0M562.0 265.9h0M584.0 256.3h0M587.7 254.9h0M591.5 253.6h0M602.9 250.2h0M606.8 249.1h0M630.1 244.7h0"/>
<path stroke="#e4eef3" d="M610.6 248.2h0M618.4 246.6h0"/>
<path stroke="#e8f0f4" d="M435.5 449.5h0M599.1 251.2h0M614.5 247.4h0M638.0 243.7h0M649.8 242.9h0"/>
<path stroke="#ecf2f5" d="M626.2 245.2h0"/>
<path stroke="#eff3f6" d="M622.3 245.9h0M634.0 244.2h0"/>
<path stroke="#f3f5f6" d="M653.8 242.8h0"/>
<path stroke="#f7f7f7" d="M645.9 243.1h0M665.6 242.9h0M669.6 243.1h0"/>
<path stroke="#f8f1ed" d="M697.1 246.5h0"/>
<path stroke="#f8f4f2" d="M657.7 242.8h0M661.7 242.8h0M677.5 243.7h0"/>
<path stroke="#f9ece4" d="M641.9 243.4h0M716.4 251.1h0"/>
<path stroke="#f9efe9" d="M681.4 244.1h0M685.3 244.6h0M689.3 245.1h0M704.8 248.1h0"/>
<path stroke="#fae9df" d="M673.5 243.4h0M693.2 245.8h0M720.2 252.2h0M764.1 271.4h0"/>
<path stroke="#fbd0b9" d="M724.0 253.4h0M806.2 302.7h0M838.4 340.1h0M857.3 372.5h0M859.1 376.3h0M864.1 387.8h0M865.7 391.7h0"/>
<path stroke="#fbe3d5" d="M701.0 247.2h0M731.5 256.1h0M735.2 257.5h0M746.2 262.2h0M749.9 263.9h0M753.5 265.6h0M774.4 277.7h0M777.7 279.9h0M787.6 287.0h0"/>
<path stroke="#fbe6da" d="M738.9 259.0h0M742.6 260.5h0"/>
<path stroke="#fcd6c0" d="M800.2 297.2h0M803.2 300.0h0M809.2 305.6h0M823.2 320.5h0M831.0 330.1h0M836.0 336.8h0M840.7 343.6h0M843.0 347.0h0M845.2 350.6h0M847.4 354.1h0M851.5 361.4h0M860.8 380.1h0M862.5 383.9h0M867.2 395.7h0M868.6 399.6h0M869.9 403.6h0"/>
<path stroke="#fcdecc" d="M712.5 250.0h0M760.6 269.4h0M781.1 282.2h0M784.4 284.5h0M825.9 323.7h0"/>
<path stroke="#fce1d1" d="M708.7 249.0h0M727.7 254.7h0M757.0 267.5h0M767.5 273.4h0M771.0 275.5h0M794.0 292.0h0"/>
<path stroke="#fddbc7" d="M790.8 289.4h0M797.1 294.6h0M812.1 308.4h0M815.0 311.4h0M817.8 314.4h0M820.5 317.4h0M828.5 326.9h0M833.5 333.4h0M849.5 357.7h0M853.5 365.0h0M855.4 368.7h0"/>
<path stroke="#c4dfec" d="M498.2 309.1h0"/>
<path stroke="#cbe2ee" d="M492.5 315.2h0M495.3 312.1h0M501.1 306.1h0M504.0 303.2h0M513.1 294.7h0M519.4 289.3h0M535.9 277.0h0M579.0 254.1h0M594.3 248.7h0"/>
<path stroke="#d1e5f0" d="M461.1 359.9h0M465.3 352.6h0M469.8 345.4h0M472.1 341.8h0M476.9 334.9h0M481.9 328.2h0M484.5 324.9h0M489.8 318.4h0M507.0 300.3h0M522.6 286.7h0M525.9 284.2h0M529.2 281.7h0M532.5 279.3h0M539.3 274.7h0M542.8 272.5h0M546.2 270.4h0M553.3 266.3h0"/>
<path stroke="#d5e7f1" d="M440.0 411.1h0M442.5 402.9h0M446.8 390.8h0M450.0 382.9h0M453.5 375.1h0M455.3 371.3h0M463.2 356.2h0M467.5 349.0h0M479.3 331.5h0M487.1 321.6h0M510.0 297.4h0M556.9 264.3h0M567.9 258.9h0"/>
<path stroke="#d9e9f1" d="M436.7 423.6h0M437.7 419.4h0M438.8 415.3h0M441.2 407.0h0M443.9 398.9h0M445.3 394.9h0M448.4 386.9h0M451.7 379.0h0M457.2 367.5h0M459.1 363.7h0M474.4 338.4h0M549.8 268.3h0"/>
<path stroke="#dceaf2" d="M434.0 436.2h0M434.9 432.0h0M435.7 427.8h0M516.2 292.0h0M560.5 262.4h0M564.2 260.6h0M571.6 257.2h0M575.3 255.6h0"/>
<path stroke="#e0ecf3" d="M432.6 444.7h0M433.3 440.5h0M582.8 252.6h0M590.5 250.0h0M617.8 242.8h0"/>
<path stroke="#e4eef3" d="M586.6 251.3h0M602.1 246.4h0M606.0 245.4h0M609.9 244.5h0M613.8 243.6h0"/>
<path stroke="#e8f0f4" d="M432.0 449.0h0"/>
<path stroke="#ecf2f5" d="M598.2 247.5h0M621.7 242.1h0M625.7 241.4h0M629.7 240.9h0M645.7 239.3h0"/>
<path stroke="#eff3f6" d="M633.7 240.4h0M637.7 239.9h0M649.7 239.1h0M653.7 239.0h0"/>
<path stroke="#f7f7f7" d="M665.8 239.1h0M669.8 239.3h0M681.8 240.3h0"/>
<path stroke="#f8f1ed" d="M641.7 239.6h0M657.7 239.0h0M661.7 239.0h0M677.8 239.9h0M697.7 242.7h0"/>
<path stroke="#f8f4f2" d="M689.8 241.4h0"/>
<path stroke="#f9ece4" d="M705.6 244.4h0"/>
<path stroke="#f9efe9" d="M685.8 240.8h0"/>
<path stroke="#fae9df" d="M673.8 239.6h0M721.2 248.5h0"/>
<path stroke="#fbd0b9" d="M799.3 291.6h0M845.9 344.9h0M862.3 374.6h0M869.0 390.3h0"/>
<path stroke="#fbe3d5" d="M701.6 243.5h0M732.6 252.4h0"/>
<path stroke="#fbe6da" d="M693.7 242.0h0M709.5 245.3h0M717.3 247.4h0M740.2 255.4h0M743.9 257.0h0M747.6 258.7h0"/>
<path stroke="#fcd6c0" d="M725.0 249.8h0M802.5 294.3h0M805.5 297.0h0M808.6 299.9h0M811.6 302.7h0M820.3 311.7h0M823.1 314.8h0M833.8 327.7h0M841.2 337.9h0M843.6 341.3h0M848.2 348.4h0M850.4 352.1h0M854.6 359.4h0M856.6 363.1h0M858.5 366.9h0M860.4 370.7h0M864.0 378.4h0M865.7 382.4h0M867.4 386.3h0M870.5 394.3h0M871.9 398.3h0M873.3 402.4h0"/>
<path stroke="#fcdecc" d="M755.0 262.2h0M772.8 272.2h0M776.2 274.4h0M786.4 281.4h0M796.1 288.9h0"/>
<path stroke="#fce1d1" d="M713.4 246.3h0M728.8 251.1h0M736.4 253.9h0M751.3 260.4h0M758.6 264.1h0M762.2 266.0h0M765.7 268.0h0M779.6 276.7h0M783.0 279.0h0M789.7 283.8h0"/>
<path stroke="#fddbc7" d="M769.3 270.1h0M792.9 286.4h0M814.5 305.7h0M817.4 308.7h0M825.8 317.9h0M828.5 321.1h0M831.2 324.4h0M836.3 331.0h0M838.8 334.4h0M852.5 355.7h0"/>
<path stroke="#c4dfec" d="M501.6 300.3h0M510.9 291.7h0M520.5 283.7h0"/>
<path stroke="#cbe2ee" d="M481.8 322.4h0M495.7 306.4h0M498.6 303.3h0M534.0 273.8h0"/>
<path stroke="#d1e5f0" d="M439.2 401.7h0M462.3 350.5h0M466.9 343.2h0M469.2 339.6h0M474.0 332.6h0M476.6 329.1h0M479.1 325.7h0M484.4 319.1h0M490.0 312.6h0M492.8 309.5h0M504.7 297.4h0M507.7 294.5h0M541.0 269.2h0M544.5 267.0h0M555.3 260.9h0M566.5 255.4h0M593.3 245.0h0"/>
<path stroke="#d5e7f1" d="M446.8 381.3h0M448.5 377.4h0M450.3 373.4h0M452.2 369.5h0M458.1 358.0h0M460.2 354.3h0M471.6 336.1h0M514.0 289.0h0M517.3 286.3h0M523.8 281.1h0M527.2 278.6h0M530.6 276.1h0M537.5 271.5h0"/>
<path stroke="#d9e9f1" d="M433.3 422.6h0M434.3 418.4h0M435.4 414.2h0M436.6 410.0h0M437.9 405.8h0M440.6 397.6h0M442.0 393.5h0M443.6 389.4h0M445.1 385.4h0M454.1 365.6h0M456.0 361.8h0M464.6 346.9h0M487.2 315.8h0M548.1 264.9h0M551.7 262.9h0M574.0 252.1h0M577.8 250.5h0"/>
<path stroke="#dceaf2" d="M430.5 435.5h0M431.4 431.2h0M432.3 426.9h0M562.7 257.2h0M581.7 249.0h0"/>
<path stroke="#e0ecf3" d="M429.1 444.1h0M429.8 439.8h0M585.5 247.6h0M589.4 246.3h0M633.3 236.6h0"/>
<path stroke="#e4eef3" d="M559.0 259.0h0M597.2 243.9h0M605.2 241.7h0M609.1 240.8h0M613.1 239.9h0"/>
<path stroke="#e8f0f4" d="M428.5 448.4h0M570.2 253.7h0M601.2 242.7h0M617.1 239.1h0"/>
<path stroke="#ecf2f5" d="M629.2 237.1h0"/>
<path stroke="#eff3f6" d="M621.2 238.3h0"/>
<path stroke="#f3f5f6" d="M625.2 237.7h0M637.3 236.1h0M645.5 235.5h0M649.6 235.3h0M653.6 235.2h0M678.1 236.1h0"/>
<path stroke="#f7f7f7" d="M641.4 235.8h0"/>
<path stroke="#f8f1ed" d="M665.9 235.3h0M682.1 236.5h0"/>
<path stroke="#f8f4f2" d="M661.8 235.2h0M669.9 235.5h0"/>
<path stroke="#f9ece4" d="M674.0 235.7h0M686.2 237.0h0M702.3 239.7h0M706.3 240.6h0"/>
<path stroke="#f9efe9" d="M657.7 235.2h0M690.2 237.6h0M722.1 244.9h0"/>
<path stroke="#fae9df" d="M710.3 241.6h0"/>
<path stroke="#fbd0b9" d="M839.1 328.6h0M865.4 372.9h0M872.2 388.8h0"/>
<path stroke="#fbe3d5" d="M714.3 242.6h0M718.2 243.7h0M729.9 247.4h0M733.8 248.8h0M737.7 250.3h0M741.5 251.8h0M745.3 253.5h0M767.4 264.6h0M778.0 271.1h0"/>
<path stroke="#fbe6da" d="M694.3 238.2h0M698.3 238.9h0"/>
<path stroke="#fcd6c0" d="M771.0 266.7h0M801.5 288.6h0M804.7 291.3h0M807.8 294.1h0M810.9 297.0h0M822.8 309.0h0M825.7 312.1h0M828.4 315.3h0M836.5 325.2h0M841.6 332.1h0M844.1 335.6h0M848.8 342.7h0M851.1 346.3h0M853.4 350.0h0M855.5 353.7h0M857.6 357.5h0M863.6 369.0h0M867.2 376.8h0M869.0 380.8h0M870.6 384.8h0M873.8 392.9h0M875.2 397.0h0M876.6 401.1h0"/>
<path stroke="#fcdecc" d="M726.1 246.1h0M749.0 255.1h0M752.8 256.9h0M763.8 262.6h0M774.5 268.9h0M781.5 273.4h0M785.0 275.8h0M788.4 278.2h0M814.0 299.9h0"/>
<path stroke="#fce1d1" d="M756.5 258.7h0M760.2 260.6h0M791.7 280.7h0"/>
<path stroke="#fddbc7" d="M795.0 283.3h0M798.3 285.9h0M817.0 302.9h0M819.9 305.9h0M831.2 318.6h0M833.9 321.9h0M846.5 339.1h0M859.7 361.3h0M861.7 365.1h0"/>
<path stroke="#bedbeb" d="M532.1 270.5h0"/>
<path stroke="#c4dfec" d="M499.2 297.5h0"/>
<path stroke="#cbe2ee" d="M463.9 341.1h0M473.8 326.8h0M481.8 316.5h0M487.4 310.0h0M490.3 306.8h0M496.2 300.5h0M502.3 294.5h0M508.6 288.8h0M515.1 283.3h0M518.4 280.6h0"/>
<path stroke="#d1e5f0" d="M435.8 400.4h0M459.4 348.5h0M466.3 337.4h0M468.7 333.8h0M471.2 330.3h0M479.1 319.9h0M484.6 313.2h0M493.2 303.6h0M511.8 286.0h0M521.8 278.0h0M525.2 275.4h0M535.6 268.2h0M539.2 265.9h0M542.8 263.7h0M550.1 259.5h0M553.8 257.5h0M576.6 246.9h0M592.3 241.4h0"/>
<path stroke="#d5e7f1" d="M438.7 392.1h0M441.9 383.8h0M445.3 375.7h0M453.0 359.9h0M455.0 356.1h0M457.2 352.3h0M461.6 344.7h0M476.4 323.3h0M505.4 291.6h0M528.6 273.0h0M546.4 261.6h0M557.5 255.5h0M565.0 251.9h0"/>
<path stroke="#d9e9f1" d="M427.9 430.4h0M429.8 421.7h0M432.0 413.1h0M433.2 408.9h0M434.5 404.6h0M437.3 396.2h0M440.3 387.9h0M443.6 379.8h0M447.1 371.7h0M449.0 367.8h0M451.0 363.8h0M572.7 248.5h0M580.5 245.4h0"/>
<path stroke="#dceaf2" d="M427.1 434.7h0M428.8 426.0h0M430.9 417.4h0M561.3 253.7h0M568.9 250.2h0M604.3 238.0h0"/>
<path stroke="#e0ecf3" d="M425.6 443.5h0M426.3 439.1h0M584.4 244.0h0M612.4 236.1h0"/>
<path stroke="#e4eef3" d="M588.4 242.7h0M608.4 237.0h0M632.9 232.8h0"/>
<path stroke="#e8f0f4" d="M424.9 447.9h0M600.3 239.0h0M616.5 235.3h0M620.6 234.6h0M637.0 232.3h0"/>
<path stroke="#ecf2f5" d="M596.3 240.2h0M628.8 233.3h0"/>
<path stroke="#eff3f6" d="M624.7 233.9h0"/>
<path stroke="#f3f5f6" d="M641.2 232.0h0"/>
<path stroke="#f7f7f7" d="M645.3 231.7h0M653.6 231.4h0M661.9 231.4h0"/>
<path stroke="#f8f1ed" d="M666.0 231.5h0M670.1 231.7h0M678.4 232.3h0M682.5 232.7h0M690.7 233.8h0"/>
<path stroke="#f8f4f2" d="M649.4 231.5h0"/>
<path stroke="#f9ece4" d="M674.3 231.9h0M686.6 233.2h0M707.1 236.9h0M723.1 241.2h0"/>
<path stroke="#f9efe9" d="M657.7 231.3h0"/>
<path stroke="#fae9df" d="M703.0 236.0h0M711.1 237.9h0"/>
<path stroke="#fbd0b9" d="M844.4 329.8h0M846.9 333.3h0M860.7 355.5h0M868.6 371.2h0"/>
<path stroke="#fbe3d5" d="M698.9 235.2h0M738.9 246.7h0M742.7 248.3h0M758.0 255.3h0M761.7 257.2h0"/>
<path stroke="#fbe6da" d="M694.8 234.5h0M746.6 249.9h0"/>
<path stroke="#fcd6c0" d="M772.7 263.4h0M797.1 280.2h0M803.7 285.6h0M806.9 288.4h0M810.1 291.2h0M828.2 309.5h0M839.2 322.8h0M841.9 326.3h0M851.8 340.5h0M854.1 344.2h0M856.3 347.9h0M858.5 351.7h0M862.8 359.4h0M866.7 367.2h0M870.4 375.2h0M872.2 379.2h0M873.9 383.2h0M875.5 387.3h0M877.1 391.5h0M878.6 395.6h0M880.0 399.8h0"/>
<path stroke="#fcdecc" d="M727.1 242.5h0M735.0 245.2h0M754.2 253.4h0M765.4 259.2h0M779.9 267.9h0M786.9 272.6h0M800.4 282.9h0M822.4 303.2h0"/>
<path stroke="#fce1d1" d="M719.1 240.0h0M731.0 243.8h0M750.4 251.6h0M769.1 261.3h0M783.4 270.2h0M790.3 275.1h0M793.8 277.6h0M813.3 294.1h0"/>
<path stroke="#fddbc7" d="M715.1 238.9h0M776.3 265.6h0M816.4 297.1h0M819.4 300.1h0M825.3 306.3h0M831.1 312.8h0M833.8 316.1h0M836.6 319.4h0M849.4 336.9h0M864.8 363.3h0"/>
<path stroke="#bedbeb" d="M506.4 285.8h0"/>
<path stroke="#c4dfec" d="M493.7 297.8h0M496.8 294.7h0M519.7 274.9h0M533.8 264.9h0"/>
<path stroke="#cbe2ee" d="M471.0 324.4h0M473.7 320.9h0M479.1 314.0h0M487.7 304.1h0M552.2 254.1h0"/>
<path stroke="#d1e5f0" d="M432.5 399.1h0M456.4 346.4h0M461.0 338.9h0M468.4 327.9h0M481.9 310.6h0M484.8 307.3h0M490.7 300.9h0M500.0 291.7h0M509.6 283.0h0M513.0 280.2h0M516.3 277.5h0M526.7 269.8h0M530.2 267.3h0M537.4 262.6h0M541.0 260.4h0M559.8 250.2h0M563.6 248.4h0M591.3 237.7h0"/>
<path stroke="#d5e7f1" d="M429.8 407.7h0M440.3 378.2h0M442.1 374.1h0M445.9 366.0h0M447.8 362.0h0M449.9 358.1h0M452.0 354.1h0M454.1 350.3h0M458.6 342.6h0M463.4 335.2h0M465.9 331.5h0M476.4 317.4h0M523.2 272.3h0M548.4 256.1h0M556.0 252.1h0M575.4 243.4h0"/>
<path stroke="#d9e9f1" d="M424.4 429.5h0M426.4 420.8h0M428.6 412.0h0M431.1 403.4h0M433.9 394.9h0M435.4 390.7h0M437.0 386.5h0M438.6 382.3h0M444.0 370.0h0M503.1 288.7h0M544.7 258.2h0M567.5 246.6h0M571.4 245.0h0M579.3 241.8h0M583.3 240.4h0"/>
<path stroke="#dceaf2" d="M423.6 434.0h0M425.4 425.1h0M427.5 416.4h0M615.9 231.5h0"/>
<path stroke="#e0ecf3" d="M422.1 442.9h0M422.8 438.4h0M595.4 236.5h0M603.5 234.3h0M611.8 232.4h0M620.0 230.8h0"/>
<path stroke="#e4eef3" d="M587.3 239.0h0M599.4 235.3h0M624.2 230.1h0"/>
<path stroke="#e8f0f4" d="M421.4 447.3h0M628.4 229.5h0M636.7 228.5h0"/>
<path stroke="#eff3f6" d="M607.6 233.3h0"/>
<path stroke="#f3f5f6" d="M632.5 229.0h0M640.9 228.2h0M645.1 227.9h0"/>
<path stroke="#f7f7f7" d="M653.5 227.6h0M661.9 227.6h0"/>
<path stroke="#f8f1ed" d="M657.7 227.5h0M666.1 227.7h0M674.5 228.1h0M724.1 237.5h0"/>
<path stroke="#f9ece4" d="M703.7 232.3h0"/>
<path stroke="#f9efe9" d="M649.3 227.7h0M670.3 227.9h0M678.7 228.5h0M691.2 230.0h0"/>
<path stroke="#facbb2" d="M871.8 369.4h0"/>
<path stroke="#fae9df" d="M682.9 228.9h0M695.4 230.7h0M747.9 246.4h0"/>
<path stroke="#fbd0b9" d="M805.9 282.6h0M812.4 288.3h0M844.6 323.9h0M852.3 334.7h0M865.9 357.5h0M869.9 365.4h0M873.6 373.5h0M878.8 385.9h0M880.4 390.1h0"/>
<path stroke="#fbe3d5" d="M687.1 229.4h0M770.8 257.9h0M788.8 269.4h0"/>
<path stroke="#fbe6da" d="M699.5 231.4h0M707.8 233.2h0"/>
<path stroke="#fcd6c0" d="M774.5 260.1h0M778.1 262.3h0M809.2 285.4h0M818.7 294.3h0M830.8 306.9h0M836.5 313.5h0M847.2 327.4h0M849.8 331.0h0M854.7 338.4h0M857.0 342.1h0M859.3 345.9h0M863.7 353.6h0M867.9 361.4h0M875.4 377.6h0M877.1 381.7h0M881.9 394.3h0M883.3 398.5h0"/>
<path stroke="#fcdecc" d="M720.1 236.3h0M728.1 238.8h0M755.7 249.9h0M759.5 251.8h0M763.3 253.8h0M767.0 255.8h0M792.3 271.9h0M821.8 297.3h0M824.9 300.5h0"/>
<path stroke="#fce1d1" d="M711.9 234.1h0M736.1 241.6h0M740.1 243.1h0M744.0 244.7h0M785.3 267.0h0"/>
<path stroke="#fddbc7" d="M716.0 235.2h0M732.1 240.2h0M751.8 248.1h0M781.7 264.6h0M795.8 274.5h0M799.2 277.1h0M802.6 279.8h0M815.6 291.3h0M827.9 303.6h0M833.7 310.2h0M839.3 316.9h0M842.0 320.4h0M861.6 349.7h0"/>
<path stroke="#c4dfec" d="M485.2 301.4h0M491.3 295.0h0M494.4 291.9h0M539.3 257.0h0M562.2 244.9h0"/>
<path stroke="#cbe2ee" d="M468.2 322.0h0M476.5 311.5h0M479.3 308.1h0M482.2 304.7h0M497.6 288.8h0M504.1 282.9h0M510.8 277.2h0M514.2 274.4h0M517.7 271.7h0M524.7 266.6h0M528.3 264.1h0M531.9 261.7h0M546.8 252.7h0M558.3 246.7h0"/>
<path stroke="#d1e5f0" d="M453.4 344.4h0M458.1 336.7h0M460.5 333.0h0M470.9 318.4h0M473.7 314.9h0M488.2 298.2h0M507.4 280.0h0M521.2 269.1h0M535.6 259.3h0M550.6 250.6h0M554.5 248.6h0"/>
<path stroke="#d5e7f1" d="M426.5 406.6h0M429.1 397.9h0M435.4 380.8h0M438.9 372.4h0M442.7 364.2h0M446.8 356.2h0M451.1 348.3h0M455.7 340.5h0M463.0 329.3h0M465.6 325.6h0M500.8 285.8h0M574.1 239.8h0"/>
<path stroke="#d9e9f1" d="M421.0 428.7h0M423.0 419.8h0M425.2 411.0h0M427.8 402.2h0M430.6 393.6h0M432.1 389.3h0M433.7 385.0h0M437.1 376.6h0M440.8 368.3h0M444.7 360.2h0M448.9 352.2h0M543.0 254.8h0M566.2 243.1h0"/>
<path stroke="#dceaf2" d="M420.1 433.2h0M421.9 424.3h0M424.0 415.4h0M578.2 238.2h0M590.3 234.0h0M598.6 231.6h0"/>
<path stroke="#e0ecf3" d="M418.6 442.2h0M419.3 437.7h0M582.2 236.8h0M615.3 227.8h0"/>
<path stroke="#e4eef3" d="M570.1 241.4h0M619.5 227.0h0"/>
<path stroke="#e8f0f4" d="M417.9 446.8h0M602.7 230.6h0M606.9 229.6h0M611.1 228.6h0"/>
<path stroke="#ecf2f5" d="M586.3 235.4h0M594.5 232.8h0M627.9 225.7h0M632.2 225.2h0M662.0 223.7h0"/>
<path stroke="#eff3f6" d="M623.7 226.3h0"/>
<path stroke="#f3f5f6" d="M636.4 224.7h0"/>
<path stroke="#f7f7f7" d="M640.7 224.4h0M653.4 223.7h0"/>
<path stroke="#f8f1ed" d="M666.2 223.9h0M725.1 233.9h0"/>
<path stroke="#f8f4f2" d="M644.9 224.1h0M649.2 223.9h0M657.7 223.7h0M687.5 225.6h0"/>
<path stroke="#f9c5ab" d="M757.1 246.5h0M776.2 256.7h0"/>
<path stroke="#f9ece4" d="M670.5 224.0h0M674.8 224.3h0M679.0 224.7h0"/>
<path stroke="#f9efe9" d="M695.9 226.9h0"/>
<path stroke="#facbb2" d="M779.9 259.0h0"/>
<path stroke="#fae9df" d="M691.7 226.2h0"/>
<path stroke="#fbd0b9" d="M817.9 288.4h0M839.1 311.0h0M857.6 336.2h0M875.0 367.7h0M876.8 371.9h0"/>
<path stroke="#fbe3d5" d="M683.3 225.1h0M741.3 239.6h0M749.3 242.9h0M790.8 266.2h0"/>
<path stroke="#fbe6da" d="M700.2 227.7h0M704.3 228.5h0M712.7 230.4h0M721.0 232.6h0M737.3 238.0h0"/>
<path stroke="#fcd6c0" d="M811.4 282.5h0M814.7 285.4h0M821.1 291.4h0M830.4 300.9h0M833.4 304.2h0M852.6 328.7h0M855.1 332.4h0M860.0 340.0h0M862.3 343.8h0M866.8 351.6h0M868.9 355.6h0M873.0 363.7h0M878.7 376.0h0M880.4 380.2h0M882.1 384.4h0M883.7 388.7h0M885.2 392.9h0M886.7 397.3h0"/>
<path stroke="#fcdecc" d="M708.5 229.4h0M733.2 236.6h0M768.7 252.4h0M787.2 263.7h0M794.3 268.8h0M804.7 276.8h0"/>
<path stroke="#fce1d1" d="M745.3 241.2h0M753.2 244.6h0M761.0 248.4h0M764.8 250.3h0M772.4 254.5h0M824.3 294.5h0"/>
<path stroke="#fddbc7" d="M716.8 231.5h0M729.2 235.2h0M783.6 261.3h0M797.8 271.4h0M801.3 274.0h0M808.1 279.6h0M827.3 297.7h0M836.3 307.6h0M842.0 314.4h0M844.7 317.9h0M847.4 321.5h0M850.0 325.1h0M864.6 347.7h0M871.0 359.6h0"/>
<path stroke="#c4dfec" d="M482.7 298.7h0M492.0 289.1h0M505.2 277.0h0M515.6 268.6h0"/>
<path stroke="#cbe2ee" d="M450.4 342.3h0M468.2 316.0h0M473.8 308.9h0M476.7 305.5h0M479.7 302.1h0M488.9 292.2h0M495.3 286.0h0M501.9 279.9h0M533.8 256.0h0M537.6 253.7h0M560.8 241.4h0"/>
<path stroke="#d1e5f0" d="M452.7 338.4h0M455.1 334.6h0M465.5 319.6h0M471.0 312.4h0M485.7 295.5h0M498.5 282.9h0M508.6 274.2h0M519.2 266.0h0M522.8 263.4h0M526.4 260.9h0M545.2 249.3h0M549.1 247.2h0M589.4 230.4h0"/>
<path stroke="#d5e7f1" d="M423.1 405.4h0M425.8 396.6h0M428.8 387.9h0M430.4 383.6h0M432.1 379.3h0M435.7 370.8h0M437.6 366.6h0M439.6 362.5h0M443.7 354.3h0M445.8 350.3h0M448.1 346.3h0M457.6 330.8h0M460.2 327.0h0M462.8 323.3h0M512.1 271.4h0M530.1 258.4h0"/>
<path stroke="#d9e9f1" d="M417.5 427.9h0M419.5 418.9h0M420.6 414.4h0M421.8 409.9h0M424.4 401.0h0M427.3 392.2h0M433.9 375.0h0M441.6 358.4h0M541.4 251.5h0M553.0 245.2h0M556.9 243.2h0M564.8 239.6h0M568.9 237.8h0M572.9 236.2h0M631.8 221.4h0"/>
<path stroke="#dceaf2" d="M416.6 432.5h0M418.5 423.4h0M610.4 224.9h0"/>
<path stroke="#e0ecf3" d="M415.1 441.6h0M415.8 437.0h0M577.0 234.6h0M585.2 231.7h0M614.6 224.0h0M618.9 223.2h0"/>
<path stroke="#e4eef3" d="M581.1 233.1h0M593.5 229.1h0M606.1 225.8h0M623.2 222.5h0"/>
<path stroke="#e8f0f4" d="M414.4 446.2h0M597.7 227.9h0M627.5 221.9h0"/>
<path stroke="#ecf2f5" d="M636.1 220.9h0"/>
<path stroke="#eff3f6" d="M601.9 226.8h0M662.0 219.9h0"/>
<path stroke="#f3f5f6" d="M726.1 230.2h0"/>
<path stroke="#f7f7f7" d="M640.4 220.6h0M657.7 219.9h0"/>
<path stroke="#f8f1ed" d="M675.0 220.5h0M683.6 221.3h0"/>
<path stroke="#f8f4f2" d="M644.7 220.3h0M649.0 220.1h0M653.4 219.9h0M679.3 220.9h0"/>
<path stroke="#f9ece4" d="M705.0 224.8h0M713.5 226.7h0"/>
<path stroke="#f9efe9" d="M687.9 221.8h0M692.2 222.5h0M696.5 223.1h0"/>
<path stroke="#fae9df" d="M738.4 234.4h0"/>
<path stroke="#fbd0b9" d="M777.9 253.4h0M810.3 276.6h0M817.0 282.5h0M855.5 326.5h0M876.2 361.9h0M878.1 366.0h0M880.1 370.2h0M890.0 396.0h0"/>
<path stroke="#fbe3d5" d="M670.7 220.2h0M700.8 223.9h0M742.5 236.0h0M750.6 239.3h0M762.5 244.9h0M766.4 246.9h0M792.7 263.0h0"/>
<path stroke="#fbe6da" d="M666.4 220.0h0M721.9 229.0h0"/>
<path stroke="#fcd6c0" d="M709.3 225.7h0M730.2 231.5h0M785.4 258.1h0M813.7 279.5h0M823.5 288.6h0M829.8 295.0h0M841.8 308.4h0M847.4 315.5h0M852.9 322.8h0M858.0 330.2h0M860.5 334.0h0M862.9 337.9h0M865.3 341.8h0M869.9 349.7h0M874.1 357.8h0M883.7 378.7h0M885.3 382.9h0M887.0 387.3h0M888.5 391.6h0"/>
<path stroke="#fcdecc" d="M717.7 227.8h0M770.3 249.0h0M781.7 255.7h0M789.1 260.5h0M796.3 265.6h0M806.9 273.7h0M826.7 291.8h0M838.9 305.0h0M844.6 311.9h0"/>
<path stroke="#fce1d1" d="M734.3 232.9h0M746.6 237.6h0M754.6 241.1h0M774.1 251.2h0"/>
<path stroke="#fddbc7" d="M758.6 243.0h0M799.9 268.2h0M803.4 271.0h0M820.3 285.5h0M832.9 298.3h0M835.9 301.6h0M850.2 319.1h0M867.6 345.7h0M872.0 353.7h0M881.9 374.4h0"/>
<path stroke="#bedbeb" d="M489.6 286.2h0"/>
<path stroke="#c4dfec" d="M480.2 296.1h0M483.3 292.7h0M499.6 277.0h0"/>
<path stroke="#cbe2ee" d="M447.4 340.3h0M465.4 313.6h0M474.1 302.9h0M477.1 299.4h0M486.4 289.5h0M503.0 274.0h0M528.2 255.2h0M543.6 245.9h0"/>
<path stroke="#d1e5f0" d="M422.4 395.3h0M452.2 332.4h0M462.7 317.2h0M468.3 310.0h0M471.2 306.4h0M492.9 283.1h0M496.2 280.0h0M506.5 271.1h0M513.6 265.5h0M517.2 262.8h0M524.5 257.6h0M547.5 243.8h0M555.4 239.8h0M559.4 237.9h0"/>
<path stroke="#d5e7f1" d="M419.7 404.3h0M425.5 386.5h0M427.1 382.1h0M432.5 369.2h0M434.4 364.9h0M436.4 360.7h0M440.6 352.4h0M442.8 348.3h0M445.0 344.3h0M449.8 336.3h0M454.7 328.5h0M460.0 321.0h0M532.0 252.7h0M535.8 250.4h0M622.7 218.8h0"/>
<path stroke="#d9e9f1" d="M414.0 427.1h0M416.1 417.9h0M417.2 413.4h0M418.4 408.8h0M423.9 390.9h0M428.9 377.8h0M430.6 373.4h0M438.5 356.5h0M457.3 324.7h0M520.8 260.2h0M588.4 226.7h0M609.7 221.1h0"/>
<path stroke="#dceaf2" d="M412.3 436.4h0M413.1 431.7h0M415.0 422.5h0M421.0 399.8h0M510.0 268.3h0M551.4 241.7h0M563.5 236.0h0M567.6 234.3h0M571.7 232.6h0M584.2 228.1h0M596.8 224.2h0"/>
<path stroke="#e0ecf3" d="M411.6 441.0h0M539.7 248.1h0M575.8 231.0h0M580.0 229.5h0M618.3 219.5h0"/>
<path stroke="#e4eef3" d="M410.9 445.7h0"/>
<path stroke="#e8f0f4" d="M601.1 223.1h0M631.4 217.6h0M635.8 217.1h0"/>
<path stroke="#ecf2f5" d="M592.6 225.4h0M627.0 218.1h0M648.9 216.2h0"/>
<path stroke="#eff3f6" d="M605.4 222.1h0M614.0 220.3h0M640.1 216.8h0"/>
<path stroke="#f3f5f6" d="M662.1 216.1h0M675.2 216.7h0M684.0 217.5h0"/>
<path stroke="#f7f7f7" d="M644.5 216.5h0"/>
<path stroke="#f8f1ed" d="M692.7 218.7h0M727.0 226.5h0"/>
<path stroke="#f8f4f2" d="M697.1 219.4h0"/>
<path stroke="#f9ece4" d="M657.7 216.1h0M670.9 216.4h0"/>
<path stroke="#f9efe9" d="M653.3 216.1h0M679.6 217.1h0M688.4 218.1h0M739.6 230.8h0"/>
<path stroke="#facbb2" d="M747.9 234.0h0M858.3 324.2h0"/>
<path stroke="#fbd0b9" d="M731.3 227.9h0M879.3 360.1h0M881.3 364.3h0M893.4 394.7h0"/>
<path stroke="#fbe3d5" d="M666.5 216.2h0M701.4 220.2h0M710.0 222.0h0M718.6 224.1h0"/>
<path stroke="#fbe6da" d="M705.7 221.0h0M722.8 225.3h0M743.7 232.4h0M768.0 243.5h0"/>
<path stroke="#fcd6c0" d="M771.9 245.6h0M798.3 262.4h0M822.6 282.6h0M829.1 289.0h0M832.3 292.3h0M835.4 295.6h0M838.5 299.0h0M850.2 313.1h0M855.7 320.4h0M860.9 328.0h0M863.4 331.8h0M865.9 335.8h0M868.3 339.7h0M870.6 343.7h0M872.9 347.7h0M877.3 356.0h0M883.3 368.6h0M885.1 372.8h0M886.9 377.1h0M888.6 381.5h0M890.3 385.9h0M891.9 390.3h0"/>
<path stroke="#fcdecc" d="M735.4 229.3h0M756.0 237.6h0M760.0 239.5h0M775.8 247.8h0M779.6 250.1h0M783.5 252.4h0M791.0 257.3h0M801.9 265.1h0M847.3 309.4h0"/>
<path stroke="#fce1d1" d="M714.3 223.0h0M751.9 235.8h0M764.0 241.4h0M794.7 259.8h0"/>
<path stroke="#fddbc7" d="M787.2 254.8h0M805.5 267.9h0M809.0 270.7h0M812.5 273.6h0M815.9 276.5h0M819.3 279.6h0M825.9 285.8h0M841.5 302.4h0M844.4 305.9h0M852.9 316.7h0M875.1 351.8h0"/>
<path stroke="#bedbeb" d="M487.3 283.4h0"/>
<path stroke="#c4dfec" d="M477.6 293.4h0M480.8 290.0h0M484.0 286.7h0M541.9 242.5h0M558.0 234.4h0"/>
<path stroke="#cbe2ee" d="M462.7 311.1h0M474.5 296.8h0M511.5 262.4h0M522.6 254.4h0M631.0 213.8h0"/>
<path stroke="#d1e5f0" d="M442.0 342.3h0M444.4 338.2h0M449.3 330.2h0M457.2 318.6h0M459.9 314.9h0M465.6 307.5h0M468.5 303.9h0M490.6 280.2h0M500.8 271.0h0M504.3 268.1h0M526.4 251.9h0M534.1 247.1h0M554.0 236.3h0M578.9 225.9h0"/>
<path stroke="#d5e7f1" d="M416.3 403.2h0M419.1 394.1h0M429.3 367.5h0M431.2 363.2h0M433.3 359.0h0M435.3 354.7h0M437.5 350.5h0M439.7 346.4h0M446.8 334.2h0M451.9 326.3h0M454.5 322.5h0M471.5 300.3h0M493.9 277.1h0M497.4 274.0h0M515.2 259.7h0M518.9 257.0h0M530.2 249.4h0M545.9 240.4h0"/>
<path stroke="#d9e9f1" d="M410.6 426.3h0M412.6 417.0h0M413.8 412.3h0M415.0 407.7h0M417.7 398.6h0M420.6 389.6h0M422.2 385.1h0M423.9 380.7h0M425.6 376.2h0M507.9 265.2h0M583.1 224.4h0"/>
<path stroke="#dceaf2" d="M409.7 431.0h0M411.6 421.6h0M427.4 371.9h0M549.9 238.3h0M562.1 232.5h0M566.3 230.7h0M570.5 229.0h0M574.6 227.4h0M587.4 223.1h0M596.0 220.5h0M622.2 215.0h0"/>
<path stroke="#e0ecf3" d="M408.1 440.4h0M408.8 435.7h0M600.3 219.4h0M617.8 215.7h0"/>
<path stroke="#e4eef3" d="M538.0 244.8h0M609.0 217.4h0M635.4 213.3h0"/>
<path stroke="#e8f0f4" d="M407.4 445.1h0M626.6 214.4h0"/>
<path stroke="#ecf2f5" d="M591.7 221.8h0M604.6 218.4h0"/>
<path stroke="#eff3f6" d="M613.4 216.5h0M653.2 212.3h0M684.4 213.7h0"/>
<path stroke="#f3f5f6" d="M639.9 213.0h0M675.5 212.9h0"/>
<path stroke="#f7f7f7" d="M644.3 212.7h0"/>
<path stroke="#f8f1ed" d="M697.6 215.6h0"/>
<path stroke="#f8f4f2" d="M648.8 212.4h0M662.1 212.3h0M679.9 213.3h0"/>
<path stroke="#f9ece4" d="M671.0 212.6h0M688.8 214.3h0M702.0 216.4h0M728.0 222.9h0M740.8 227.2h0"/>
<path stroke="#f9efe9" d="M693.2 214.9h0"/>
<path stroke="#facbb2" d="M800.3 259.3h0"/>
<path stroke="#fbd0b9" d="M789.1 251.5h0M861.2 321.9h0M871.3 337.6h0M876.0 345.8h0M882.5 358.3h0M896.7 393.4h0"/>
<path stroke="#fbe3d5" d="M666.6 212.4h0M706.4 217.3h0M753.3 232.2h0M757.4 234.1h0"/>
<path stroke="#fbe6da" d="M657.7 212.3h0M710.7 218.2h0M715.1 219.3h0M723.7 221.6h0M745.0 228.8h0"/>
<path stroke="#fcd6c0" d="M765.5 238.0h0M773.5 242.2h0M825.0 279.8h0M834.8 289.5h0M841.1 296.3h0M852.9 310.6h0M863.8 325.8h0M866.4 329.7h0M873.7 341.7h0M878.2 349.9h0M880.4 354.1h0M884.5 362.6h0M886.5 366.9h0M890.2 375.6h0M891.9 380.0h0M893.6 384.5h0M895.2 388.9h0"/>
<path stroke="#fcdecc" d="M732.3 224.2h0M736.5 225.7h0M749.1 230.5h0M761.5 236.0h0M769.5 240.1h0M785.2 249.1h0M792.9 254.0h0M796.6 256.6h0M804.0 262.0h0M821.6 276.6h0M847.1 303.4h0"/>
<path stroke="#fce1d1" d="M719.4 220.4h0M777.5 244.4h0M811.2 267.7h0"/>
<path stroke="#fddbc7" d="M781.4 246.7h0M807.6 264.8h0M814.7 270.6h0M818.2 273.6h0M828.3 283.0h0M831.6 286.2h0M837.9 292.9h0M844.1 299.8h0M850.0 307.0h0M855.7 314.3h0M858.5 318.1h0M868.9 333.6h0M888.3 371.2h0"/>
<path stroke="#bedbeb" d="M475.1 290.7h0M481.5 283.9h0M509.5 259.3h0M556.6 230.8h0"/>
<path stroke="#c4dfec" d="M460.0 308.7h0M462.9 305.0h0M498.6 268.0h0M520.7 251.2h0M532.4 243.7h0"/>
<path stroke="#cbe2ee" d="M441.4 336.2h0M468.9 297.7h0M478.3 287.3h0M484.9 280.6h0M491.6 274.2h0M495.1 271.1h0M544.3 236.9h0M586.4 219.4h0"/>
<path stroke="#d1e5f0" d="M415.7 392.8h0M439.0 340.3h0M443.8 332.1h0M451.6 320.2h0M454.3 316.3h0M457.1 312.5h0M472.0 294.2h0M488.2 277.4h0M528.4 246.1h0M540.3 239.1h0"/>
<path stroke="#d5e7f1" d="M412.9 402.0h0M426.1 365.9h0M428.1 361.5h0M430.1 357.2h0M432.2 352.9h0M434.4 348.7h0M436.7 344.5h0M446.4 328.1h0M449.0 324.1h0M465.8 301.3h0M505.8 262.1h0M513.2 256.5h0M552.5 232.8h0M560.8 229.0h0M599.5 215.7h0M608.3 213.7h0M617.2 211.9h0"/>
<path stroke="#d9e9f1" d="M407.1 425.5h0M409.2 416.0h0M410.3 411.3h0M411.6 406.7h0M414.3 397.4h0M418.9 383.7h0M420.6 379.2h0M422.3 374.7h0M424.2 370.3h0M502.2 265.0h0M548.4 234.8h0M573.5 223.8h0M582.1 220.8h0M595.1 216.8h0"/>
<path stroke="#dceaf2" d="M408.1 420.7h0M417.3 388.2h0M516.9 253.8h0M536.3 241.4h0M603.9 214.6h0M630.6 210.0h0"/>
<path stroke="#e0ecf3" d="M404.6 439.8h0M405.3 435.0h0M406.2 430.2h0M524.6 248.6h0M565.0 227.2h0M577.8 222.3h0M590.7 218.1h0"/>
<path stroke="#e8f0f4" d="M403.9 444.6h0M635.1 209.5h0"/>
<path stroke="#ecf2f5" d="M569.2 225.5h0M621.7 211.2h0M662.2 208.5h0"/>
<path stroke="#eff3f6" d="M626.2 210.6h0"/>
<path stroke="#f3f5f6" d="M639.6 209.1h0M648.7 208.6h0"/>
<path stroke="#f7f7f7" d="M612.8 212.8h0M644.1 208.8h0M653.2 208.5h0"/>
<path stroke="#f8f1ed" d="M657.7 208.4h0M729.0 219.2h0"/>
<path stroke="#f9ece4" d="M666.7 208.6h0M671.2 208.8h0M684.7 209.9h0M698.2 211.8h0"/>
<path stroke="#f9efe9" d="M675.7 209.1h0M680.2 209.5h0M693.7 211.1h0"/>
<path stroke="#facbb2" d="M775.1 238.8h0"/>
<path stroke="#fae9df" d="M689.2 210.5h0M702.6 212.6h0"/>
<path stroke="#fbd0b9" d="M861.3 315.8h0M885.6 356.6h0"/>
<path stroke="#fbe3d5" d="M724.7 217.9h0M737.6 222.0h0M741.9 223.6h0M758.8 230.6h0"/>
<path stroke="#fbe6da" d="M707.1 213.5h0"/>
<path stroke="#fcd6c0" d="M733.3 220.6h0M787.0 245.8h0M790.9 248.3h0M802.3 256.1h0M816.9 267.6h0M823.9 273.7h0M837.3 286.8h0M843.6 293.7h0M855.6 308.2h0M864.0 319.6h0M869.3 327.5h0M874.3 335.6h0M876.7 339.7h0M879.0 343.9h0M881.3 348.1h0M883.5 352.3h0M887.7 360.9h0M889.7 365.3h0M891.6 369.7h0M893.4 374.1h0M895.2 378.6h0"/>
<path stroke="#fcdecc" d="M754.6 228.7h0M762.9 232.5h0M767.0 234.5h0M771.1 236.6h0M794.8 250.8h0M830.7 280.1h0"/>
<path stroke="#fce1d1" d="M711.5 214.5h0M746.2 225.2h0M750.4 226.9h0M779.1 241.1h0M783.1 243.4h0M809.7 261.7h0M813.3 264.6h0"/>
<path stroke="#fddbc7" d="M715.9 215.5h0M720.3 216.7h0M798.6 253.4h0M806.0 258.9h0M820.4 270.6h0M827.3 276.9h0M834.0 283.4h0M840.5 290.2h0M846.7 297.2h0M849.7 300.8h0M852.7 304.5h0M858.5 311.9h0M866.7 323.5h0M871.8 331.5h0M896.9 383.1h0"/>
<path stroke="#c4dfec" d="M457.2 306.3h0M472.6 288.0h0M475.8 284.5h0M479.1 281.1h0M496.4 265.0h0M500.0 262.0h0"/>
<path stroke="#cbe2ee" d="M438.4 334.1h0M454.3 310.1h0M460.2 302.5h0M466.3 295.2h0M482.5 277.8h0M492.8 268.1h0M542.8 233.5h0M559.5 225.4h0"/>
<path stroke="#d1e5f0" d="M412.4 391.5h0M429.1 351.1h0M431.3 346.8h0M433.6 342.5h0M436.0 338.3h0M451.5 314.0h0M463.2 298.8h0M469.4 291.6h0M485.9 274.5h0M507.4 256.2h0M518.8 248.0h0M526.6 242.8h0M530.6 240.4h0M538.7 235.7h0M551.0 229.3h0M616.6 208.2h0"/>
<path stroke="#d5e7f1" d="M405.8 415.1h0M410.9 396.2h0M422.9 364.2h0M424.9 359.8h0M427.0 355.4h0M440.9 330.0h0M446.1 321.9h0M448.8 317.9h0M489.3 271.3h0M503.7 259.1h0M555.2 227.3h0M563.7 223.6h0M572.3 220.2h0M589.8 214.4h0"/>
<path stroke="#d9e9f1" d="M403.6 424.7h0M404.7 419.9h0M406.9 410.3h0M408.2 405.6h0M409.5 400.9h0M415.6 382.3h0M417.3 377.7h0M419.1 373.2h0M420.9 368.7h0M443.4 325.9h0M511.2 253.4h0M534.6 238.0h0M581.0 217.1h0M607.6 209.9h0M630.3 206.2h0"/>
<path stroke="#dceaf2" d="M402.7 429.5h0M414.0 386.9h0M515.0 250.6h0M522.7 245.4h0M546.9 231.4h0M576.6 218.6h0M598.7 212.0h0"/>
<path stroke="#e0ecf3" d="M401.1 439.2h0M401.8 434.3h0M568.0 221.9h0M603.1 210.9h0"/>
<path stroke="#e4eef3" d="M585.4 215.7h0M594.2 213.1h0"/>
<path stroke="#e8f0f4" d="M400.4 444.0h0M612.1 209.0h0M644.0 205.0h0M648.5 204.8h0M662.3 204.7h0"/>
<path stroke="#ecf2f5" d="M625.7 206.8h0"/>
<path stroke="#eff3f6" d="M621.2 207.4h0M634.8 205.7h0"/>
<path stroke="#f3f5f6" d="M671.4 205.0h0"/>
<path stroke="#f7f7f7" d="M639.4 205.3h0"/>
<path stroke="#f8f1ed" d="M657.7 204.6h0"/>
<path stroke="#f9ece4" d="M653.1 204.7h0M730.0 215.5h0"/>
<path stroke="#f9efe9" d="M666.8 204.8h0M685.1 206.1h0M689.7 206.7h0M694.2 207.3h0"/>
<path stroke="#fae9df" d="M703.2 208.9h0M707.7 209.8h0M772.7 233.2h0"/>
<path stroke="#fbd0b9" d="M784.8 240.1h0M819.1 264.6h0M839.7 284.1h0M877.3 333.5h0M886.6 350.5h0M890.8 359.2h0M896.7 372.6h0"/>
<path stroke="#fbe3d5" d="M725.6 214.2h0M738.7 218.4h0M780.8 237.7h0"/>
<path stroke="#fbe6da" d="M680.5 205.7h0M751.7 223.4h0"/>
<path stroke="#fcd6c0" d="M776.8 235.4h0M792.7 245.0h0M808.1 255.8h0M833.1 277.3h0M846.2 291.0h0M861.3 309.6h0M864.1 313.4h0M866.9 317.3h0M872.2 325.3h0M882.1 341.9h0M884.4 346.2h0M888.8 354.8h0M892.9 363.6h0M894.8 368.1h0M898.5 377.1h0"/>
<path stroke="#fcdecc" d="M676.0 205.3h0M755.9 225.2h0M764.4 229.0h0M796.6 247.6h0M815.5 261.6h0M836.4 280.6h0M852.4 298.3h0"/>
<path stroke="#fce1d1" d="M698.7 208.1h0M712.2 210.8h0M716.7 211.8h0M721.1 213.0h0M734.4 216.9h0M743.1 220.0h0M747.4 221.6h0M760.2 227.1h0"/>
<path stroke="#fddbc7" d="M768.5 231.1h0M788.8 242.5h0M800.5 250.2h0M804.3 253.0h0M811.8 258.6h0M822.7 267.7h0M826.2 270.8h0M829.7 274.0h0M843.0 287.5h0M849.3 294.6h0M855.4 302.0h0M858.4 305.7h0M869.6 321.3h0M874.8 329.4h0M879.7 337.7h0"/>
<path stroke="#bedbeb" d="M476.7 278.4h0"/>
<path stroke="#c4dfec" d="M454.5 303.9h0M466.8 288.9h0M473.3 281.8h0M497.9 259.0h0M505.4 253.1h0M541.2 230.1h0"/>
<path stroke="#cbe2ee" d="M432.9 336.3h0M435.4 332.1h0M451.6 307.7h0M457.5 300.0h0M470.0 285.3h0M480.1 275.0h0M483.5 271.6h0M490.6 265.2h0M494.2 262.0h0M549.6 225.8h0M580.0 213.5h0"/>
<path stroke="#d1e5f0" d="M409.0 390.3h0M419.7 362.6h0M426.0 349.3h0M428.2 344.9h0M430.5 340.6h0M445.9 315.6h0M448.7 311.7h0M460.5 296.3h0M463.6 292.6h0M513.0 247.4h0M528.9 237.1h0M558.1 221.9h0M571.1 216.6h0M588.9 210.7h0"/>
<path stroke="#d5e7f1" d="M421.7 358.1h0M423.8 353.7h0M437.9 327.9h0M440.5 323.8h0M443.2 319.7h0M487.0 268.4h0M501.6 256.0h0M509.2 250.2h0M516.9 244.7h0M520.9 242.1h0M524.8 239.6h0M537.1 232.3h0M553.8 223.8h0"/>
<path stroke="#d9e9f1" d="M400.2 423.8h0M401.2 419.0h0M402.3 414.1h0M403.5 409.3h0M404.8 404.5h0M406.1 399.7h0M407.5 395.0h0M410.6 385.6h0M412.3 380.9h0M414.0 376.3h0M415.8 371.7h0M417.7 367.1h0M545.4 227.9h0"/>
<path stroke="#dceaf2" d="M399.2 428.7h0M532.9 234.7h0M562.4 220.1h0M566.8 218.3h0M602.4 207.2h0M606.9 206.2h0"/>
<path stroke="#e0ecf3" d="M397.5 438.5h0M398.3 433.6h0M575.5 215.0h0M584.4 212.1h0M593.4 209.4h0M616.1 204.4h0M625.3 203.0h0"/>
<path stroke="#e4eef3" d="M597.9 208.3h0"/>
<path stroke="#e8f0f4" d="M396.8 443.5h0M629.9 202.4h0M643.8 201.2h0"/>
<path stroke="#ecf2f5" d="M634.5 201.9h0M662.3 200.8h0"/>
<path stroke="#eff3f6" d="M611.5 205.2h0M620.7 203.7h0M657.7 200.8h0"/>
<path stroke="#f3f5f6" d="M671.6 201.2h0"/>
<path stroke="#f8f1ed" d="M648.4 201.0h0M667.0 201.0h0M685.5 202.3h0M708.4 206.0h0"/>
<path stroke="#f8f4f2" d="M639.1 201.5h0"/>
<path stroke="#f9ece4" d="M676.2 201.5h0M680.9 201.9h0"/>
<path stroke="#f9efe9" d="M717.5 208.1h0"/>
<path stroke="#fae9df" d="M690.1 202.9h0"/>
<path stroke="#fbd0b9" d="M757.3 221.6h0M770.0 227.6h0M794.6 241.7h0M821.3 261.6h0M869.7 315.1h0M880.3 331.5h0M887.5 344.3h0M889.7 348.6h0M894.0 357.5h0"/>
<path stroke="#fbe3d5" d="M699.3 204.3h0M703.9 205.1h0M713.0 207.0h0M726.5 210.5h0M761.6 223.6h0M774.2 229.8h0"/>
<path stroke="#fbe6da" d="M694.7 203.6h0M731.0 211.9h0M782.5 234.3h0"/>
<path stroke="#fcd6c0" d="M786.6 236.7h0M798.5 244.4h0M832.0 271.2h0M848.7 288.4h0M855.0 295.7h0M864.0 307.2h0M866.9 311.1h0M875.1 323.2h0M877.7 327.3h0M885.1 340.0h0M891.9 353.0h0M896.1 362.0h0M898.0 366.5h0"/>
<path stroke="#fcdecc" d="M735.4 213.3h0M748.6 218.0h0M778.4 232.0h0M790.6 239.2h0M806.3 249.8h0M817.6 258.5h0M835.5 274.5h0M845.5 284.8h0M861.1 303.3h0"/>
<path stroke="#fce1d1" d="M653.0 200.9h0M722.0 209.3h0M739.8 214.8h0M744.2 216.4h0M753.0 219.8h0M765.8 225.5h0"/>
<path stroke="#fddbc7" d="M802.4 247.0h0M810.1 252.7h0M813.9 255.6h0M824.9 264.7h0M828.5 267.9h0M838.9 277.9h0M842.2 281.3h0M851.9 292.0h0M858.1 299.5h0M872.4 319.1h0M882.7 335.7h0"/>
<path stroke="#b2d5e7" d="M464.2 286.3h0"/>
<path stroke="#b8d8e9" d="M474.2 275.6h0"/>
<path stroke="#bedbeb" d="M503.3 250.0h0M511.1 244.3h0"/>
<path stroke="#c4dfec" d="M454.8 297.6h0M467.5 282.7h0M470.8 279.1h0M481.2 268.8h0M492.0 259.0h0M495.7 255.9h0M523.1 236.3h0"/>
<path stroke="#cbe2ee" d="M429.9 334.3h0M432.4 330.0h0M445.9 309.3h0M457.9 293.7h0M507.2 247.1h0M570.0 213.0h0M606.3 202.4h0"/>
<path stroke="#d1e5f0" d="M405.7 389.0h0M422.9 347.5h0M427.5 338.6h0M435.0 325.8h0M437.6 321.6h0M448.8 305.3h0M451.8 301.4h0M477.7 272.1h0M488.3 262.2h0M499.5 252.9h0M515.0 241.5h0M519.0 238.8h0M527.1 233.7h0M539.6 226.7h0M578.9 209.8h0"/>
<path stroke="#d5e7f1" d="M398.9 413.2h0M404.2 393.8h0M416.5 361.0h0M418.5 356.4h0M420.7 351.9h0M425.1 343.0h0M440.3 317.5h0M443.1 313.4h0M461.0 290.0h0M484.7 265.5h0M535.4 229.0h0M543.9 224.5h0M548.1 222.4h0M556.8 218.4h0M592.5 205.7h0M597.1 204.5h0"/>
<path stroke="#d9e9f1" d="M396.7 423.0h0M397.7 418.1h0M400.1 408.3h0M401.4 403.4h0M402.7 398.6h0M407.3 384.2h0M409.0 379.5h0M410.7 374.8h0M412.6 370.2h0M414.5 365.6h0M531.3 231.3h0M552.4 220.3h0M561.1 216.5h0M587.9 207.0h0"/>
<path stroke="#dceaf2" d="M395.7 428.0h0M574.4 211.4h0M634.2 198.1h0"/>
<path stroke="#e0ecf3" d="M394.0 437.9h0M394.8 432.9h0M565.5 214.7h0M601.7 203.4h0"/>
<path stroke="#e8f0f4" d="M393.3 442.9h0M610.9 201.5h0M624.8 199.2h0"/>
<path stroke="#ecf2f5" d="M615.5 200.6h0M629.5 198.6h0"/>
<path stroke="#eff3f6" d="M583.4 208.4h0"/>
<path stroke="#f3f5f6" d="M648.3 197.2h0M657.7 197.0h0M667.1 197.2h0"/>
<path stroke="#f7f7f7" d="M620.2 199.9h0M638.9 197.7h0"/>
<path stroke="#f8f1ed" d="M671.8 197.4h0M676.5 197.7h0M685.8 198.5h0M704.5 201.4h0"/>
<path stroke="#f8f4f2" d="M643.6 197.4h0M695.2 199.8h0"/>
<path stroke="#f9ece4" d="M718.3 204.4h0"/>
<path stroke="#f9efe9" d="M662.4 197.0h0M681.2 198.1h0"/>
<path stroke="#fae9df" d="M690.5 199.1h0M722.9 205.6h0M727.4 206.8h0M732.0 208.2h0M745.4 212.8h0"/>
<path stroke="#fbd0b9" d="M653.0 197.0h0M827.2 261.8h0M834.3 268.3h0M872.6 312.8h0M878.0 321.0h0M880.7 325.2h0M897.2 355.8h0"/>
<path stroke="#fbe3d5" d="M709.1 202.3h0M713.7 203.3h0M736.5 209.6h0M749.8 214.5h0M754.2 216.2h0M816.0 252.5h0M837.8 271.7h0"/>
<path stroke="#fbe6da" d="M784.2 231.0h0"/>
<path stroke="#fcd6c0" d="M767.3 222.1h0M771.5 224.2h0M780.0 228.6h0M812.2 249.5h0M823.5 258.6h0M851.3 285.8h0M857.7 293.2h0M863.8 300.9h0M866.8 304.8h0M883.3 329.4h0M890.5 342.4h0M892.8 346.8h0M895.1 351.3h0"/>
<path stroke="#fcdecc" d="M740.9 211.2h0M758.6 218.1h0M792.4 235.9h0M819.8 255.5h0M830.8 265.0h0M848.0 282.1h0"/>
<path stroke="#fce1d1" d="M699.8 200.5h0M763.0 220.0h0M775.8 226.4h0M788.3 233.4h0M800.4 241.1h0M804.4 243.9h0M844.7 278.6h0"/>
<path stroke="#fddbc7" d="M796.4 238.5h0M808.3 246.7h0M841.3 275.1h0M854.5 289.5h0M860.8 297.0h0M869.7 308.8h0M875.3 316.9h0M885.8 333.7h0M888.2 338.0h0"/>
<path stroke="#b8d8e9" d="M461.7 283.7h0M493.6 252.9h0"/>
<path stroke="#c4dfec" d="M426.9 332.3h0M465.0 280.0h0M468.4 276.4h0M489.8 256.1h0M505.2 243.9h0M509.1 241.1h0M517.2 235.6h0"/>
<path stroke="#cbe2ee" d="M429.4 328.0h0M443.1 307.0h0M446.0 303.0h0M449.0 299.0h0M452.1 295.1h0M455.2 291.2h0M471.8 272.8h0M525.4 230.4h0M538.1 223.3h0M559.9 212.9h0"/>
<path stroke="#d1e5f0" d="M402.4 387.7h0M413.3 359.3h0M419.7 345.6h0M434.7 319.4h0M458.4 287.4h0M478.8 265.9h0M486.1 259.3h0M497.4 249.8h0M521.3 233.0h0M542.3 221.0h0"/>
<path stroke="#d5e7f1" d="M396.7 407.3h0M405.7 378.1h0M409.3 368.7h0M411.2 364.0h0M415.3 354.7h0M417.5 350.2h0M422.0 341.1h0M424.4 336.7h0M432.0 323.7h0M437.4 315.2h0M440.2 311.1h0M475.3 269.3h0M482.4 262.6h0M501.2 246.8h0M529.6 227.9h0M546.7 218.9h0"/>
<path stroke="#d9e9f1" d="M393.2 422.2h0M395.4 412.2h0M398.0 402.4h0M399.3 397.5h0M400.8 392.6h0M404.0 382.9h0M407.5 373.4h0M513.1 238.3h0M573.3 207.8h0M591.6 202.0h0"/>
<path stroke="#dceaf2" d="M392.3 427.2h0M394.3 417.2h0M551.0 216.8h0M555.4 214.8h0M587.0 203.3h0M596.3 200.8h0"/>
<path stroke="#e0ecf3" d="M390.5 437.3h0M391.4 432.2h0M533.8 225.6h0M564.3 211.1h0M568.8 209.4h0"/>
<path stroke="#e4eef3" d="M577.9 206.2h0M624.4 195.4h0M633.9 194.3h0"/>
<path stroke="#e8f0f4" d="M389.8 442.4h0"/>
<path stroke="#ecf2f5" d="M600.9 199.7h0M615.0 196.9h0"/>
<path stroke="#eff3f6" d="M582.4 204.7h0M605.6 198.7h0M610.3 197.7h0"/>
<path stroke="#f3f5f6" d="M705.1 197.6h0"/>
<path stroke="#f7f7f7" d="M629.1 194.8h0M672.0 193.6h0M695.7 196.0h0"/>
<path stroke="#f8f1ed" d="M619.7 196.1h0M667.2 193.3h0"/>
<path stroke="#f8f4f2" d="M643.4 193.6h0M662.4 193.2h0M686.2 194.8h0"/>
<path stroke="#f9c5ab" d="M773.1 220.7h0"/>
<path stroke="#f9ece4" d="M719.1 200.7h0M732.9 204.5h0"/>
<path stroke="#f9efe9" d="M638.6 193.9h0M648.1 193.4h0M657.7 193.2h0M676.7 193.9h0M728.3 203.1h0"/>
<path stroke="#facbb2" d="M760.0 214.6h0"/>
<path stroke="#fae9df" d="M709.8 198.5h0M777.4 222.9h0"/>
<path stroke="#fbd0b9" d="M814.2 246.4h0M875.4 310.5h0M881.0 318.8h0M883.6 323.1h0M891.2 336.1h0"/>
<path stroke="#fbe3d5" d="M723.7 201.9h0M742.1 207.5h0M785.8 227.6h0"/>
<path stroke="#fbe6da" d="M681.5 194.3h0M714.4 199.6h0M737.5 206.0h0M751.1 210.9h0M755.5 212.7h0M764.4 216.5h0M790.0 230.1h0M802.3 237.9h0M818.1 249.4h0"/>
<path stroke="#fcd6c0" d="M700.4 196.8h0M810.3 243.5h0M825.7 255.6h0M829.4 258.8h0M836.7 265.4h0M853.9 283.1h0M866.6 298.4h0M869.6 302.4h0M872.5 306.4h0M886.2 327.4h0M893.6 340.5h0M896.0 345.0h0M898.2 349.5h0"/>
<path stroke="#fcdecc" d="M746.6 209.2h0M768.7 218.6h0M781.6 225.2h0M840.2 268.8h0M850.6 279.5h0M863.5 294.5h0"/>
<path stroke="#fce1d1" d="M652.9 193.2h0M690.9 195.3h0M794.2 232.6h0M806.3 240.7h0M821.9 252.5h0M847.2 275.9h0"/>
<path stroke="#fddbc7" d="M798.3 235.2h0M833.1 262.1h0M843.7 272.3h0M857.1 286.9h0M860.3 290.7h0M878.2 314.6h0M888.8 331.7h0"/>
<path stroke="#b8d8e9" d="M462.5 277.3h0"/>
<path stroke="#bedbeb" d="M459.1 281.0h0M491.4 249.9h0M558.6 209.4h0"/>
<path stroke="#c4dfec" d="M423.9 330.3h0M440.3 304.7h0M465.9 273.6h0M487.6 253.1h0M515.3 232.3h0M527.9 224.6h0M563.1 207.5h0"/>
<path stroke="#cbe2ee" d="M426.4 325.9h0M443.2 300.6h0M446.3 296.6h0M449.4 292.6h0M455.8 284.8h0M469.4 270.0h0M480.1 259.6h0M519.5 229.7h0M523.7 227.1h0"/>
<path stroke="#d1e5f0" d="M414.4 348.4h0M434.5 313.0h0M452.6 288.7h0M472.9 266.5h0M495.3 246.8h0M503.2 240.8h0M511.2 235.1h0M554.1 211.3h0M595.4 197.1h0"/>
<path stroke="#d5e7f1" d="M397.4 391.4h0M399.0 386.5h0M402.4 376.7h0M408.0 362.4h0M410.0 357.7h0M412.2 353.0h0M416.6 343.8h0M419.0 339.3h0M421.4 334.8h0M429.0 321.6h0M431.7 317.3h0M437.4 308.8h0M476.5 263.0h0M483.8 256.3h0M507.2 237.9h0M545.2 215.4h0"/>
<path stroke="#d9e9f1" d="M389.8 421.4h0M392.0 411.3h0M393.2 406.3h0M394.6 401.3h0M396.0 396.3h0M400.6 381.6h0M404.2 371.9h0M406.1 367.1h0M499.2 243.7h0M536.5 219.8h0M572.2 204.1h0M609.6 194.0h0"/>
<path stroke="#dceaf2" d="M388.8 426.5h0M390.8 416.3h0M532.2 222.2h0M540.8 217.6h0M586.1 199.7h0"/>
<path stroke="#e0ecf3" d="M387.0 436.7h0M387.9 431.6h0"/>
<path stroke="#e4eef3" d="M549.6 213.3h0M567.6 205.8h0"/>
<path stroke="#e8f0f4" d="M386.3 441.8h0M581.4 201.1h0"/>
<path stroke="#ecf2f5" d="M576.8 202.6h0M590.8 198.3h0M614.4 193.1h0"/>
<path stroke="#eff3f6" d="M600.2 196.0h0M623.9 191.6h0M633.6 190.5h0M638.4 190.1h0M643.2 189.8h0"/>
<path stroke="#f3f5f6" d="M667.3 189.5h0M677.0 190.1h0"/>
<path stroke="#f7f7f7" d="M619.2 192.3h0M648.0 189.5h0M705.7 193.8h0M710.5 194.8h0M715.2 195.8h0"/>
<path stroke="#f8f1ed" d="M628.7 191.0h0M662.5 189.4h0M778.9 219.5h0"/>
<path stroke="#f8f4f2" d="M604.9 194.9h0M652.8 189.4h0M657.7 189.4h0M696.2 192.2h0"/>
<path stroke="#f9ece4" d="M686.6 191.0h0M700.9 193.0h0M738.5 202.3h0"/>
<path stroke="#facbb2" d="M761.3 211.0h0"/>
<path stroke="#fae9df" d="M672.1 189.7h0M719.9 196.9h0M724.6 198.2h0M804.2 234.7h0"/>
<path stroke="#fbd0b9" d="M774.6 217.3h0M878.3 308.2h0M883.9 316.7h0M886.6 320.9h0M894.3 334.1h0"/>
<path stroke="#fbe3d5" d="M681.8 190.5h0M743.2 203.9h0M765.7 213.0h0M820.2 246.3h0"/>
<path stroke="#fbe6da" d="M747.7 205.6h0"/>
<path stroke="#fcd6c0" d="M756.8 209.1h0M827.9 252.6h0M839.0 262.5h0M863.0 288.1h0M869.3 296.0h0M889.2 325.3h0"/>
<path stroke="#fcdecc" d="M691.4 191.5h0M729.3 199.5h0M770.2 215.1h0M812.3 240.3h0M824.1 249.4h0M831.6 255.8h0M846.2 269.5h0M856.4 280.5h0M866.2 292.0h0"/>
<path stroke="#fce1d1" d="M733.9 200.9h0M752.3 207.3h0M787.5 224.2h0M791.7 226.7h0M808.3 237.5h0M853.1 276.8h0M875.3 304.1h0"/>
<path stroke="#fddbc7" d="M783.2 221.8h0M795.9 229.3h0M800.1 231.9h0M816.3 243.3h0M835.4 259.2h0M842.6 266.0h0M849.7 273.1h0M859.8 284.3h0M872.3 300.0h0M881.1 312.4h0M891.8 329.7h0M896.7 338.6h0"/>
<path stroke="#b8d8e9" d="M557.3 205.8h0"/>
<path stroke="#bedbeb" d="M489.3 246.8h0"/>
<path stroke="#c4dfec" d="M470.5 263.7h0M485.4 250.1h0"/>
<path stroke="#cbe2ee" d="M413.5 342.0h0M420.8 328.3h0M423.4 323.9h0M437.4 302.4h0M443.5 294.1h0M449.9 286.1h0M453.2 282.2h0M456.5 278.4h0M459.9 274.6h0M463.4 270.9h0M505.2 234.7h0M513.5 229.1h0M517.7 226.4h0M561.9 204.0h0"/>
<path stroke="#d1e5f0" d="M402.8 365.6h0M406.8 356.0h0M411.2 346.6h0M426.1 319.5h0M428.8 315.1h0M440.5 298.2h0M446.7 290.1h0M466.9 267.3h0M477.8 256.7h0M501.2 237.6h0M509.3 231.8h0M552.7 207.8h0"/>
<path stroke="#d5e7f1" d="M388.6 410.3h0M392.6 395.2h0M394.1 390.2h0M395.7 385.2h0M404.8 360.8h0M409.0 351.3h0M418.3 332.8h0M431.6 310.8h0M434.5 306.5h0M474.1 260.2h0M481.6 253.4h0M493.2 243.7h0M521.9 223.8h0M526.2 221.2h0M534.9 216.4h0M594.6 193.4h0"/>
<path stroke="#d9e9f1" d="M386.3 420.6h0M389.8 405.3h0M391.1 400.2h0M397.3 380.3h0M399.1 375.3h0M400.9 370.5h0M415.9 337.4h0M548.2 209.8h0M571.1 200.5h0M585.2 196.0h0"/>
<path stroke="#dceaf2" d="M385.3 425.7h0M387.4 415.4h0M497.1 240.6h0M530.5 218.8h0M543.8 211.9h0"/>
<path stroke="#e0ecf3" d="M383.5 436.1h0M384.4 430.9h0M566.5 202.2h0M575.8 198.9h0"/>
<path stroke="#e4eef3" d="M647.9 185.7h0"/>
<path stroke="#e8f0f4" d="M382.8 441.3h0M580.4 197.4h0M604.2 191.2h0M613.8 189.3h0"/>
<path stroke="#ecf2f5" d="M539.3 214.1h0M589.9 194.6h0M609.0 190.2h0M633.2 186.7h0"/>
<path stroke="#eff3f6" d="M599.4 192.2h0M623.5 187.8h0M711.1 191.0h0"/>
<path stroke="#f3f5f6" d="M618.7 188.5h0M667.4 185.7h0"/>
<path stroke="#f7f7f7" d="M643.0 186.0h0M662.5 185.6h0M696.7 188.4h0"/>
<path stroke="#f8f1ed" d="M677.2 186.2h0M706.3 190.1h0M739.6 198.7h0"/>
<path stroke="#f8f4f2" d="M672.3 185.9h0"/>
<path stroke="#f9ece4" d="M687.0 187.2h0M715.9 192.1h0M780.5 216.1h0"/>
<path stroke="#f9efe9" d="M638.1 186.3h0M657.7 185.5h0"/>
<path stroke="#facbb2" d="M758.1 205.6h0"/>
<path stroke="#fae9df" d="M652.8 185.6h0M748.9 201.9h0"/>
<path stroke="#fbd0b9" d="M841.4 259.7h0M881.1 305.9h0M886.8 314.5h0M897.4 332.2h0"/>
<path stroke="#fbe3d5" d="M682.1 186.7h0M730.2 195.8h0M744.3 200.3h0M776.1 213.8h0M806.1 231.4h0M822.3 243.2h0M848.6 266.7h0"/>
<path stroke="#fbe6da" d="M628.4 187.2h0M720.7 193.2h0M734.9 197.2h0M767.1 209.5h0"/>
<path stroke="#fcd6c0" d="M784.9 218.4h0M830.1 249.6h0M837.6 256.2h0M859.0 277.9h0M865.6 285.6h0M872.0 293.5h0M889.5 318.8h0M892.2 323.2h0M894.8 327.7h0"/>
<path stroke="#fcdecc" d="M691.8 187.8h0M701.5 189.2h0M793.5 223.4h0M797.7 226.0h0M810.2 234.3h0M818.3 240.2h0M833.9 252.9h0M884.0 310.2h0"/>
<path stroke="#fce1d1" d="M725.5 194.5h0M753.5 203.7h0M771.6 211.6h0M789.2 220.9h0M801.9 228.7h0M826.2 246.4h0M868.9 289.5h0"/>
<path stroke="#fddbc7" d="M762.6 207.5h0M814.3 237.2h0M845.0 263.2h0M852.1 270.4h0M855.6 274.1h0M862.4 281.7h0M875.1 297.6h0M878.1 301.8h0"/>
<path stroke="#bedbeb" d="M556.0 202.3h0"/>
<path stroke="#c4dfec" d="M453.9 275.8h0M487.1 243.8h0M515.9 223.1h0"/>
<path stroke="#cbe2ee" d="M410.4 340.2h0M417.8 326.3h0M423.1 317.4h0M431.6 304.3h0M440.8 291.7h0M444.0 287.6h0M450.6 279.7h0M457.4 271.9h0M460.9 268.2h0M475.5 253.8h0M491.1 240.6h0"/>
<path stroke="#d1e5f0" d="M403.6 354.4h0M405.8 349.6h0M408.0 344.9h0M415.2 330.9h0M420.4 321.8h0M425.9 312.9h0M434.6 300.0h0M437.7 295.8h0M447.2 283.6h0M464.5 264.5h0M468.1 260.9h0M483.2 247.1h0M495.1 237.5h0M507.4 228.6h0M524.5 217.9h0"/>
<path stroke="#d5e7f1" d="M385.1 409.4h0M387.7 399.1h0M389.2 394.0h0M390.7 389.0h0M392.3 383.9h0M395.8 373.9h0M399.5 364.1h0M412.8 335.5h0M428.7 308.6h0M479.3 250.4h0M520.2 220.4h0M560.6 200.4h0M574.7 195.3h0"/>
<path stroke="#d9e9f1" d="M386.4 404.2h0M394.0 378.9h0M397.6 369.0h0M401.5 359.2h0M471.8 257.3h0M499.1 234.5h0M542.3 208.4h0M546.8 206.3h0M551.4 204.2h0M570.0 196.9h0M593.8 189.7h0"/>
<path stroke="#dceaf2" d="M381.8 425.0h0M382.8 419.8h0M383.9 414.6h0M503.3 231.5h0M511.6 225.8h0M598.7 188.5h0"/>
<path stroke="#e0ecf3" d="M380.9 430.2h0M528.9 215.4h0M584.2 192.3h0M589.0 190.9h0"/>
<path stroke="#e4eef3" d="M380.0 435.4h0M537.8 210.7h0M565.3 198.6h0M579.5 193.7h0"/>
<path stroke="#e8f0f4" d="M379.3 440.7h0M533.3 213.0h0M608.4 186.5h0M618.2 184.8h0"/>
<path stroke="#ecf2f5" d="M603.5 187.4h0M647.7 181.9h0"/>
<path stroke="#eff3f6" d="M613.3 185.6h0M623.1 184.1h0M662.6 181.8h0M697.2 184.7h0M706.9 186.3h0"/>
<path stroke="#f3f5f6" d="M628.0 183.4h0M642.8 182.2h0M721.5 189.5h0"/>
<path stroke="#f7f7f7" d="M637.9 182.5h0M672.5 182.1h0"/>
<path stroke="#f8f1ed" d="M667.6 181.9h0M682.4 182.9h0M692.2 184.0h0M711.8 187.3h0"/>
<path stroke="#f8f4f2" d="M632.9 182.9h0M657.7 181.7h0M677.5 182.4h0"/>
<path stroke="#f9c5ab" d="M812.2 231.1h0"/>
<path stroke="#f9ece4" d="M652.7 181.8h0M716.7 188.4h0"/>
<path stroke="#f9efe9" d="M731.1 192.1h0"/>
<path stroke="#facbb2" d="M777.6 210.3h0"/>
<path stroke="#fae9df" d="M768.5 206.0h0"/>
<path stroke="#fbd0b9" d="M816.3 234.0h0M861.6 275.2h0M868.3 283.0h0M874.8 291.1h0M883.9 303.7h0"/>
<path stroke="#fbe3d5" d="M735.9 193.5h0M754.7 200.1h0M782.0 212.6h0M790.9 217.5h0M799.5 222.7h0M808.0 228.2h0M824.4 240.2h0"/>
<path stroke="#fbe6da" d="M687.3 183.4h0M702.1 185.4h0M726.3 190.8h0M740.6 195.0h0M786.5 215.0h0"/>
<path stroke="#fcd6c0" d="M759.4 202.0h0M773.1 208.1h0M889.7 312.3h0M892.5 316.7h0M895.2 321.2h0M897.8 325.7h0"/>
<path stroke="#fcdecc" d="M828.3 243.3h0M832.3 246.6h0M839.9 253.3h0M847.4 260.4h0M851.0 264.0h0M854.6 267.6h0M865.0 279.1h0M871.6 287.0h0M877.9 295.2h0M881.0 299.4h0"/>
<path stroke="#fce1d1" d="M750.0 198.3h0M795.2 220.1h0M803.8 225.4h0M836.1 249.9h0"/>
<path stroke="#fddbc7" d="M745.4 196.6h0M764.0 204.0h0M820.4 237.1h0M843.7 256.8h0M858.1 271.4h0M886.9 308.0h0"/>
<path stroke="#b8d8e9" d="M484.9 240.8h0M522.8 214.5h0"/>
<path stroke="#bedbeb" d="M559.4 196.8h0"/>
<path stroke="#c4dfec" d="M441.3 285.1h0M454.9 269.3h0M462.0 261.7h0M465.7 258.1h0M489.0 237.5h0"/>
<path stroke="#cbe2ee" d="M404.9 343.1h0M431.8 297.7h0M438.1 289.3h0M447.9 277.1h0M458.4 265.5h0M473.2 250.9h0M481.0 244.1h0M505.5 225.4h0M518.5 217.1h0M607.8 182.7h0"/>
<path stroke="#d1e5f0" d="M402.6 347.9h0M407.3 338.4h0M412.2 329.0h0M417.4 319.8h0M420.2 315.3h0M423.0 310.8h0M428.8 302.0h0M444.6 281.1h0M451.4 273.1h0M493.0 234.4h0M573.7 191.6h0"/>
<path stroke="#d5e7f1" d="M387.3 387.8h0M389.0 382.7h0M392.5 372.6h0M394.3 367.6h0M396.3 362.6h0M400.4 352.8h0M409.7 333.6h0M414.8 324.3h0M425.8 306.4h0M434.9 293.5h0M545.4 202.8h0M564.1 195.0h0M583.3 188.6h0"/>
<path stroke="#d9e9f1" d="M379.4 418.9h0M381.7 408.4h0M383.0 403.2h0M384.3 398.0h0M385.8 392.9h0M390.7 377.6h0M398.3 357.7h0M469.4 254.5h0M477.1 247.5h0M540.8 205.0h0M554.7 198.7h0M597.9 184.8h0"/>
<path stroke="#dceaf2" d="M378.3 424.2h0M380.5 413.7h0M501.3 228.3h0M514.1 219.8h0M527.3 212.0h0"/>
<path stroke="#e0ecf3" d="M377.4 429.5h0M509.8 222.5h0M568.9 193.3h0M593.0 186.0h0M622.6 180.3h0"/>
<path stroke="#e4eef3" d="M376.5 434.8h0M497.1 231.3h0M536.3 207.2h0M612.7 181.8h0"/>
<path stroke="#e8f0f4" d="M531.8 209.6h0"/>
<path stroke="#ecf2f5" d="M375.8 440.1h0M550.1 200.7h0M578.5 190.1h0M647.6 178.1h0M657.6 177.9h0M667.7 178.1h0"/>
<path stroke="#eff3f6" d="M722.3 185.8h0"/>
<path stroke="#f3f5f6" d="M588.1 187.2h0M602.8 183.7h0M642.6 178.3h0M707.6 182.6h0"/>
<path stroke="#f7f7f7" d="M617.7 181.0h0M632.6 179.1h0"/>
<path stroke="#f8f1ed" d="M627.6 179.6h0"/>
<path stroke="#f8f4f2" d="M662.7 177.9h0M672.7 178.3h0M682.7 179.1h0M697.6 180.9h0"/>
<path stroke="#f9ece4" d="M637.6 178.7h0M677.7 178.6h0M755.9 196.5h0"/>
<path stroke="#f9efe9" d="M702.6 181.7h0"/>
<path stroke="#fae9df" d="M687.7 179.6h0M712.5 183.5h0M769.9 202.5h0M788.1 211.6h0"/>
<path stroke="#fbd0b9" d="M814.1 227.9h0M822.4 233.9h0M842.2 250.4h0M846.0 253.9h0M853.5 261.2h0M860.6 268.7h0M871.0 280.5h0M883.8 297.1h0"/>
<path stroke="#fbe3d5" d="M732.0 188.4h0M792.5 214.1h0M801.3 219.4h0M809.9 225.0h0"/>
<path stroke="#fbe6da" d="M692.7 180.2h0M717.4 184.6h0M727.2 187.1h0M736.9 189.9h0M751.2 194.7h0"/>
<path stroke="#fcd6c0" d="M760.6 198.4h0M796.9 216.7h0M830.5 240.3h0M834.5 243.6h0M849.8 257.5h0M864.1 272.6h0M886.8 301.4h0M892.6 310.1h0M898.2 319.1h0"/>
<path stroke="#fcdecc" d="M741.7 191.4h0M783.6 209.2h0M826.5 237.1h0M857.1 264.9h0M880.7 292.8h0"/>
<path stroke="#fce1d1" d="M652.6 178.0h0M805.6 222.1h0M867.6 276.5h0"/>
<path stroke="#fddbc7" d="M746.5 193.0h0M765.3 200.4h0M774.5 204.6h0M779.1 206.9h0M818.3 230.9h0M838.4 247.0h0M874.3 284.6h0M877.5 288.7h0M889.8 305.7h0M895.5 314.6h0"/>
<path stroke="#b8d8e9" d="M503.6 222.2h0"/>
<path stroke="#bedbeb" d="M435.3 286.8h0M459.6 258.9h0M463.3 255.2h0M482.8 237.7h0M486.9 234.5h0M516.7 213.8h0"/>
<path stroke="#c4dfec" d="M438.6 282.7h0M445.3 274.5h0M512.3 216.5h0M521.2 211.1h0M544.0 199.3h0"/>
<path stroke="#cbe2ee" d="M420.0 308.6h0M425.9 299.7h0M441.9 278.5h0M452.3 266.6h0M474.8 244.5h0M478.8 241.1h0M499.4 225.1h0M553.4 195.2h0"/>
<path stroke="#d1e5f0" d="M399.4 346.2h0M401.7 341.4h0M404.1 336.5h0M406.6 331.8h0M409.1 327.0h0M414.4 317.7h0M417.2 313.1h0M423.0 304.1h0M429.0 295.4h0M432.1 291.1h0M448.8 270.5h0M455.9 262.7h0M491.0 231.3h0M563.0 191.4h0M572.6 188.0h0"/>
<path stroke="#d5e7f1" d="M382.4 391.7h0M385.6 381.4h0M387.3 376.3h0M389.1 371.2h0M391.0 366.1h0M393.0 361.1h0M397.2 351.1h0M411.7 322.4h0M467.1 251.6h0M470.9 248.0h0M558.2 193.2h0"/>
<path stroke="#d9e9f1" d="M375.9 418.1h0M378.2 407.5h0M379.5 402.2h0M380.9 397.0h0M384.0 386.6h0M395.1 356.1h0M507.9 219.3h0M582.4 184.9h0M607.1 178.9h0M657.6 174.1h0"/>
<path stroke="#dceaf2" d="M374.8 423.5h0M377.0 412.8h0M530.2 206.1h0M534.8 203.8h0M539.4 201.5h0M617.2 177.2h0"/>
<path stroke="#e0ecf3" d="M373.9 428.8h0M495.1 228.2h0M567.8 189.6h0M592.2 182.3h0M602.1 180.0h0"/>
<path stroke="#e4eef3" d="M373.0 434.2h0"/>
<path stroke="#e8f0f4" d="M525.7 208.6h0M577.5 186.4h0M597.2 181.1h0M612.1 178.0h0"/>
<path stroke="#ecf2f5" d="M372.2 439.6h0M548.7 197.2h0M642.4 174.5h0"/>
<path stroke="#eff3f6" d="M622.2 176.5h0M637.3 174.9h0"/>
<path stroke="#f3f5f6" d="M627.2 175.9h0"/>
<path stroke="#f7f7f7" d="M632.3 175.3h0M647.5 174.3h0M662.7 174.1h0M672.9 174.5h0M698.1 177.1h0"/>
<path stroke="#f8f1ed" d="M677.9 174.8h0M723.1 182.1h0"/>
<path stroke="#f8f4f2" d="M587.3 183.5h0M652.6 174.1h0M683.0 175.3h0"/>
<path stroke="#f9ece4" d="M703.2 177.9h0M728.0 183.3h0"/>
<path stroke="#f9efe9" d="M667.8 174.3h0M688.1 175.8h0M708.2 178.8h0"/>
<path stroke="#fae9df" d="M737.8 186.2h0M757.2 193.0h0"/>
<path stroke="#fbd0b9" d="M776.0 201.2h0M840.6 244.0h0M855.9 258.4h0M866.7 269.9h0M873.6 278.0h0M889.6 299.1h0"/>
<path stroke="#fbe3d5" d="M718.1 180.9h0M733.0 184.7h0M794.2 210.8h0M803.1 216.1h0"/>
<path stroke="#fbe6da" d="M713.2 179.8h0M789.7 208.2h0M807.4 218.9h0M811.8 221.7h0"/>
<path stroke="#fcd6c0" d="M766.6 196.9h0M780.6 203.4h0M832.6 237.3h0M836.7 240.6h0M863.2 266.0h0M886.6 294.8h0M892.6 303.5h0M895.6 308.0h0"/>
<path stroke="#fcdecc" d="M742.7 187.7h0M761.9 194.9h0M785.2 205.8h0M820.3 227.7h0M848.4 251.1h0M870.2 273.9h0M880.2 286.2h0M883.4 290.5h0"/>
<path stroke="#fce1d1" d="M693.1 176.4h0M752.4 191.1h0M771.3 199.0h0M828.6 234.0h0"/>
<path stroke="#fddbc7" d="M747.6 189.4h0M798.7 213.4h0M816.0 224.7h0M824.4 230.8h0M844.5 247.5h0M852.2 254.7h0M859.6 262.2h0M876.9 282.1h0M898.4 312.5h0"/>
<path stroke="#b8d8e9" d="M515.0 210.4h0M519.5 207.8h0"/>
<path stroke="#bedbeb" d="M480.6 234.7h0M484.8 231.4h0M552.1 191.6h0"/>
<path stroke="#c4dfec" d="M435.9 280.2h0M442.7 271.9h0M460.9 252.4h0M501.7 218.9h0"/>
<path stroke="#cbe2ee" d="M396.3 344.5h0M406.1 325.1h0M423.1 297.5h0M429.4 288.7h0M439.3 276.0h0M446.2 267.9h0M449.8 263.9h0M457.2 256.2h0M488.9 228.2h0M497.4 221.9h0M510.5 213.2h0M533.3 200.3h0"/>
<path stroke="#d1e5f0" d="M398.6 339.6h0M401.0 334.7h0M408.7 320.4h0M411.4 315.7h0M414.2 311.0h0M417.1 306.5h0M426.2 293.1h0M432.6 284.4h0M506.1 216.0h0M581.4 181.2h0"/>
<path stroke="#d5e7f1" d="M379.0 390.6h0M380.6 385.3h0M382.3 380.1h0M384.0 374.9h0M385.8 369.8h0M387.8 364.6h0M389.8 359.5h0M394.0 349.5h0M403.5 329.9h0M420.1 301.9h0M453.4 260.0h0M464.7 248.7h0M472.6 241.6h0M476.6 238.1h0M524.0 205.2h0M542.6 195.8h0"/>
<path stroke="#d9e9f1" d="M372.4 417.3h0M374.8 406.6h0M376.1 401.2h0M377.5 395.9h0M391.8 354.5h0M468.6 245.1h0M557.0 189.6h0M561.8 187.8h0M571.6 184.3h0M616.7 173.4h0"/>
<path stroke="#dceaf2" d="M371.4 422.7h0M373.6 411.9h0M528.6 202.7h0M596.4 177.3h0M601.4 176.2h0"/>
<path stroke="#e0ecf3" d="M370.4 428.1h0M493.1 225.0h0M537.9 198.0h0M621.7 172.7h0"/>
<path stroke="#e4eef3" d="M369.5 433.6h0M611.6 174.3h0"/>
<path stroke="#e8f0f4" d="M591.4 178.5h0M637.1 171.1h0M657.6 170.3h0M673.1 170.7h0M703.7 174.1h0"/>
<path stroke="#ecf2f5" d="M368.7 439.0h0M606.5 175.2h0M632.0 171.5h0"/>
<path stroke="#eff3f6" d="M566.7 186.0h0M586.4 179.8h0M626.9 172.1h0M647.4 170.5h0M662.8 170.3h0"/>
<path stroke="#f3f5f6" d="M576.5 182.7h0M642.2 170.7h0M652.5 170.3h0"/>
<path stroke="#f7f7f7" d="M547.4 193.6h0M683.3 171.4h0M758.4 189.4h0"/>
<path stroke="#f9ece4" d="M713.8 176.1h0M723.9 178.4h0"/>
<path stroke="#f9efe9" d="M678.2 171.0h0M698.6 173.3h0M772.7 195.5h0"/>
<path stroke="#facbb2" d="M800.4 210.1h0"/>
<path stroke="#fae9df" d="M667.9 170.4h0M688.4 172.0h0M693.5 172.6h0M738.8 182.5h0"/>
<path stroke="#fbd0b9" d="M842.9 241.1h0"/>
<path stroke="#fbe3d5" d="M708.8 175.0h0M728.9 179.6h0M795.9 207.4h0M809.3 215.6h0"/>
<path stroke="#fbe6da" d="M733.9 181.0h0"/>
<path stroke="#fcd6c0" d="M768.0 193.3h0M782.1 200.0h0M786.7 202.4h0M813.7 218.5h0M858.3 255.6h0M865.7 263.3h0M876.3 275.4h0M892.5 296.8h0"/>
<path stroke="#fcdecc" d="M822.3 224.6h0M834.8 234.2h0M850.7 248.2h0M854.6 251.9h0M869.3 267.3h0M886.2 288.1h0M895.5 301.3h0"/>
<path stroke="#fce1d1" d="M718.9 177.2h0M748.7 185.8h0M753.5 187.5h0M791.3 204.8h0M804.9 212.8h0M818.0 221.5h0M826.5 227.7h0M830.7 230.9h0M862.0 259.4h0"/>
<path stroke="#fddbc7" d="M743.8 184.1h0M763.2 191.3h0M777.4 197.7h0M838.9 237.6h0M846.8 244.6h0M872.8 271.3h0M879.6 279.6h0M883.0 283.8h0M889.4 292.4h0M898.5 305.8h0"/>
<path stroke="#b8d8e9" d="M513.2 207.1h0M531.7 196.9h0"/>
<path stroke="#bedbeb" d="M433.2 277.7h0M440.1 269.3h0M447.3 261.2h0M550.9 188.0h0"/>
<path stroke="#c4dfec" d="M423.4 290.7h0M478.5 231.7h0"/>
<path stroke="#cbe2ee" d="M393.1 342.8h0M403.0 323.2h0M405.7 318.4h0M426.6 286.3h0M429.9 282.0h0M451.0 257.3h0M458.5 249.6h0M486.9 225.0h0"/>
<path stroke="#d1e5f0" d="M395.4 337.8h0M408.4 313.6h0M411.3 308.9h0M414.2 304.3h0M454.7 253.4h0M499.8 215.7h0M522.4 201.8h0"/>
<path stroke="#d5e7f1" d="M371.4 405.6h0M378.9 378.9h0M380.7 373.6h0M382.5 368.4h0M384.5 363.2h0M390.8 347.8h0M397.9 332.9h0M400.4 328.0h0M417.2 299.7h0M420.2 295.2h0M436.6 273.5h0M443.7 265.2h0M470.3 238.6h0M474.4 235.1h0M580.5 177.6h0"/>
<path stroke="#d9e9f1" d="M372.7 400.2h0M374.1 394.8h0M375.6 389.5h0M377.2 384.1h0M386.5 358.0h0M388.6 352.9h0M466.3 242.2h0M495.5 218.7h0M504.3 212.8h0M527.1 199.3h0M536.5 194.5h0M541.2 192.3h0M560.6 184.2h0M616.1 169.7h0"/>
<path stroke="#dceaf2" d="M368.9 416.5h0M370.1 411.0h0M462.4 245.9h0M482.7 228.3h0M508.7 209.9h0M546.0 190.1h0"/>
<path stroke="#e0ecf3" d="M366.9 427.5h0M367.9 422.0h0M517.8 204.4h0M555.7 186.1h0"/>
<path stroke="#e4eef3" d="M366.0 433.0h0M491.1 221.9h0M595.7 173.6h0M605.9 171.4h0M647.2 166.7h0"/>
<path stroke="#e8f0f4" d="M611.0 170.5h0M657.6 166.5h0"/>
<path stroke="#ecf2f5" d="M365.2 438.5h0M570.5 180.7h0M631.7 167.7h0"/>
<path stroke="#eff3f6" d="M565.5 182.4h0M590.6 174.8h0M662.8 166.5h0"/>
<path stroke="#f3f5f6" d="M575.5 179.1h0M600.8 172.5h0M642.0 166.9h0M652.4 166.5h0"/>
<path stroke="#f7f7f7" d="M585.5 176.1h0M621.3 168.9h0M626.5 168.3h0M636.8 167.3h0M673.2 166.9h0M694.0 168.8h0M704.3 170.4h0"/>
<path stroke="#f8f1ed" d="M683.6 167.6h0M734.8 177.3h0M739.8 178.8h0"/>
<path stroke="#f8f4f2" d="M699.1 169.5h0"/>
<path stroke="#f9c5ab" d="M769.3 189.8h0M819.9 218.3h0"/>
<path stroke="#f9ece4" d="M668.0 166.6h0M678.4 167.2h0M688.8 168.2h0M724.7 174.6h0M749.8 182.1h0"/>
<path stroke="#f9efe9" d="M714.5 172.3h0M759.6 185.8h0"/>
<path stroke="#fae9df" d="M764.5 187.7h0M778.9 194.2h0"/>
<path stroke="#fbd0b9" d="M892.2 290.1h0"/>
<path stroke="#fbe3d5" d="M709.4 171.3h0M719.6 173.4h0M729.8 175.9h0M792.9 201.4h0M824.3 221.4h0"/>
<path stroke="#fbe6da" d="M744.8 180.4h0M774.1 192.0h0M811.1 212.3h0M832.8 227.8h0"/>
<path stroke="#fcd6c0" d="M783.6 196.5h0M788.3 198.9h0M802.1 206.7h0M849.1 241.7h0M871.8 264.7h0M885.7 281.4h0M895.3 294.5h0"/>
<path stroke="#fcdecc" d="M815.6 215.3h0M828.5 224.6h0M845.1 238.1h0M889.0 285.7h0"/>
<path stroke="#fce1d1" d="M754.7 183.9h0M797.6 204.0h0M836.9 231.2h0M864.5 256.7h0M882.3 277.1h0"/>
<path stroke="#fddbc7" d="M806.6 209.5h0M841.1 234.6h0M853.1 245.3h0M856.9 249.1h0M860.8 252.8h0M868.2 260.7h0M875.4 268.7h0M878.9 272.9h0M898.4 299.1h0"/>
<path stroke="#b8d8e9" d="M444.7 258.5h0M497.9 212.5h0M520.8 198.4h0"/>
<path stroke="#bedbeb" d="M430.5 275.2h0"/>
<path stroke="#c4dfec" d="M437.5 266.7h0M441.1 262.6h0M452.3 250.6h0M476.3 228.6h0M511.5 203.8h0M530.2 193.4h0M549.6 184.5h0"/>
<path stroke="#cbe2ee" d="M389.9 341.1h0M399.9 321.2h0M420.6 288.4h0M423.8 283.9h0M448.5 254.6h0M456.1 246.8h0M472.2 232.1h0M484.8 221.9h0M535.0 191.0h0"/>
<path stroke="#d1e5f0" d="M381.2 361.7h0M387.6 346.2h0M392.3 336.1h0M402.7 316.4h0M427.1 279.5h0M516.1 201.1h0M559.5 180.6h0"/>
<path stroke="#d5e7f1" d="M372.2 388.3h0M375.6 377.6h0M377.3 372.3h0M383.2 356.5h0M385.4 351.3h0M394.8 331.1h0M397.3 326.1h0M405.4 311.6h0M408.3 306.8h0M411.3 302.1h0M414.3 297.5h0M417.4 292.9h0M434.0 270.9h0M468.1 235.7h0M506.9 206.6h0M539.8 188.8h0M579.6 173.9h0"/>
<path stroke="#d9e9f1" d="M367.9 404.7h0M369.3 399.2h0M370.7 393.7h0M379.2 367.0h0M460.1 243.0h0M464.0 239.3h0"/>
<path stroke="#dceaf2" d="M365.5 415.7h0M366.7 410.2h0M373.9 382.9h0M480.5 225.2h0M502.4 209.5h0M544.7 186.6h0M605.2 167.7h0"/>
<path stroke="#e0ecf3" d="M364.4 421.2h0M554.5 182.5h0"/>
<path stroke="#e4eef3" d="M363.4 426.8h0M493.5 215.5h0M610.4 166.7h0M631.3 163.9h0M652.4 162.7h0"/>
<path stroke="#e8f0f4" d="M362.5 432.3h0M489.1 218.7h0M525.5 195.9h0M615.6 165.9h0"/>
<path stroke="#ecf2f5" d="M361.7 437.9h0M584.7 172.4h0M647.1 162.8h0M657.6 162.6h0"/>
<path stroke="#eff3f6" d="M564.4 178.8h0M589.8 171.1h0M594.9 169.9h0M725.5 170.9h0"/>
<path stroke="#f3f5f6" d="M569.5 177.0h0M626.1 164.5h0M710.0 167.5h0"/>
<path stroke="#f7b597" d="M821.9 215.1h0"/>
<path stroke="#f7f7f7" d="M600.1 168.7h0M620.9 165.1h0M662.9 162.7h0M678.7 163.4h0"/>
<path stroke="#f8f1ed" d="M636.6 163.5h0M641.8 163.1h0M715.2 168.6h0M735.7 173.7h0M750.9 178.5h0M760.8 182.2h0M775.5 188.4h0"/>
<path stroke="#f8f4f2" d="M574.5 175.4h0M668.2 162.8h0M683.9 163.8h0M740.8 175.2h0"/>
<path stroke="#f9ece4" d="M673.4 163.1h0M689.2 164.4h0M704.8 166.6h0M780.3 190.7h0"/>
<path stroke="#f9efe9" d="M699.6 165.8h0"/>
<path stroke="#facbb2" d="M859.3 246.2h0M895.0 287.8h0"/>
<path stroke="#fbd0b9" d="M874.4 262.0h0"/>
<path stroke="#fbe3d5" d="M720.4 169.7h0M839.1 228.1h0"/>
<path stroke="#fbe6da" d="M694.4 165.0h0M745.8 176.8h0M755.8 180.3h0M826.3 218.2h0"/>
<path stroke="#fcd6c0" d="M817.4 212.0h0M834.9 224.8h0M847.4 235.1h0M851.4 238.8h0M878.0 266.1h0M888.4 278.9h0M898.2 292.3h0"/>
<path stroke="#fcdecc" d="M789.9 195.5h0M799.2 200.7h0M830.6 221.5h0M843.2 231.6h0M855.4 242.5h0M885.0 274.6h0M891.7 283.3h0"/>
<path stroke="#fce1d1" d="M730.6 172.2h0M785.1 193.1h0M794.6 198.1h0M808.4 206.2h0M813.0 209.1h0M867.0 254.0h0"/>
<path stroke="#fddbc7" d="M765.7 184.2h0M770.6 186.3h0M803.9 203.4h0M863.2 250.1h0M870.7 258.0h0M881.6 270.3h0"/>
<path stroke="#b8d8e9" d="M474.2 225.6h0M505.1 203.3h0"/>
<path stroke="#bedbeb" d="M438.5 260.0h0M528.7 190.0h0"/>
<path stroke="#c4dfec" d="M399.6 314.4h0M424.4 277.1h0M442.2 255.9h0M453.7 244.0h0"/>
<path stroke="#cbe2ee" d="M386.7 339.4h0M389.1 334.3h0M396.9 319.3h0M421.0 281.6h0M427.8 272.7h0M431.3 268.4h0M434.9 264.2h0M446.0 251.8h0M449.8 247.9h0M496.0 209.3h0"/>
<path stroke="#d1e5f0" d="M377.9 360.3h0M384.4 344.6h0M391.6 329.3h0M402.5 309.5h0M405.4 304.7h0M414.5 290.6h0M417.7 286.1h0M457.7 240.1h0M461.7 236.4h0M465.8 232.7h0M470.0 229.1h0M482.8 218.8h0M509.8 200.5h0M514.4 197.7h0M519.2 195.0h0M523.9 192.5h0M533.5 187.6h0M548.3 180.9h0M631.0 160.1h0"/>
<path stroke="#d5e7f1" d="M368.8 387.2h0M370.5 381.7h0M372.2 376.3h0M374.0 370.9h0M375.9 365.6h0M380.0 355.0h0M394.2 324.2h0M408.3 300.0h0M411.4 295.3h0M491.6 212.4h0M500.6 206.2h0M615.1 162.1h0"/>
<path stroke="#d9e9f1" d="M364.5 403.7h0M365.8 398.2h0M367.3 392.7h0M382.1 349.8h0M478.4 222.2h0M553.3 178.9h0M652.3 158.9h0"/>
<path stroke="#dceaf2" d="M362.0 414.9h0M363.2 409.3h0M487.1 215.5h0M538.4 185.3h0M558.3 177.0h0M604.6 163.9h0"/>
<path stroke="#e0ecf3" d="M360.9 420.5h0"/>
<path stroke="#e4eef3" d="M359.9 426.1h0M543.3 183.0h0M700.1 162.0h0"/>
<path stroke="#e8f0f4" d="M578.6 170.2h0M594.2 166.1h0M599.4 165.0h0M620.4 161.3h0M657.6 158.8h0M673.6 159.3h0"/>
<path stroke="#ecf2f5" d="M358.2 437.4h0M359.0 431.7h0M573.5 171.7h0"/>
<path stroke="#eff3f6" d="M563.3 175.1h0M705.4 162.8h0"/>
<path stroke="#f3f5f6" d="M589.0 167.4h0M609.9 163.0h0M625.7 160.7h0M647.0 159.0h0"/>
<path stroke="#f7f7f7" d="M583.8 168.7h0M641.6 159.3h0M678.9 159.6h0M726.3 167.2h0"/>
<path stroke="#f8f1ed" d="M568.4 173.4h0M668.3 159.0h0M710.6 163.8h0M752.0 174.9h0"/>
<path stroke="#f8f4f2" d="M715.9 164.8h0"/>
<path stroke="#f9ece4" d="M721.1 166.0h0M736.6 170.0h0"/>
<path stroke="#f9efe9" d="M663.0 158.9h0M684.2 160.0h0M689.5 160.6h0M741.8 171.5h0"/>
<path stroke="#facbb2" d="M800.9 197.3h0M823.8 211.9h0M832.6 218.3h0M861.7 243.4h0"/>
<path stroke="#fae9df" d="M636.3 159.7h0M762.0 178.6h0M805.6 200.1h0"/>
<path stroke="#fbd0b9" d="M767.0 180.6h0M849.6 232.2h0M877.0 259.4h0M880.6 263.6h0M891.2 276.5h0M897.8 285.4h0"/>
<path stroke="#fbe3d5" d="M731.5 168.5h0M796.2 194.7h0M814.8 205.8h0M845.4 228.6h0"/>
<path stroke="#fbe6da" d="M746.9 173.1h0M772.0 182.7h0M776.9 184.9h0M781.8 187.2h0M828.3 215.1h0"/>
<path stroke="#fcd6c0" d="M873.3 255.3h0"/>
<path stroke="#fcdecc" d="M694.8 161.2h0M757.0 176.7h0M791.4 192.1h0M810.2 202.9h0M841.2 225.1h0M853.7 235.9h0M865.6 247.3h0M869.5 251.2h0"/>
<path stroke="#fce1d1" d="M786.6 189.6h0M837.0 221.7h0"/>
<path stroke="#fddbc7" d="M819.3 208.8h0M857.7 239.6h0M884.2 267.8h0M887.7 272.1h0M894.5 280.9h0"/>
<path stroke="#b2d5e7" d="M527.2 186.5h0"/>
<path stroke="#bedbeb" d="M439.7 253.2h0M480.7 215.7h0M503.4 200.0h0"/>
<path stroke="#c4dfec" d="M508.0 197.1h0"/>
<path stroke="#cbe2ee" d="M383.5 337.7h0M386.0 332.6h0M393.8 317.3h0M396.6 312.4h0M399.5 307.5h0M408.5 293.1h0M414.9 283.7h0M418.2 279.2h0M421.6 274.7h0M425.1 270.3h0M428.6 265.9h0M435.9 257.3h0M443.5 249.1h0M447.4 245.1h0M451.3 241.1h0M463.6 229.8h0M522.3 189.0h0"/>
<path stroke="#d1e5f0" d="M368.9 375.1h0M381.2 342.9h0M388.5 327.4h0M402.4 302.6h0M411.7 288.4h0M432.3 261.6h0M467.8 226.1h0"/>
<path stroke="#d5e7f1" d="M363.9 391.6h0M365.5 386.0h0M367.1 380.5h0M374.6 358.8h0M376.7 353.5h0M391.1 322.4h0M472.0 222.6h0M476.3 219.1h0M489.6 209.2h0M494.1 206.0h0M552.0 175.3h0M598.7 161.2h0"/>
<path stroke="#d9e9f1" d="M361.0 402.8h0M362.4 397.2h0M370.7 369.6h0M372.6 364.2h0M378.9 348.2h0M405.4 297.8h0M455.4 237.3h0M652.2 155.1h0"/>
<path stroke="#dceaf2" d="M358.5 414.0h0M359.7 408.4h0M459.4 233.5h0M485.1 212.4h0M532.1 184.1h0M547.0 177.4h0"/>
<path stroke="#e0ecf3" d="M357.4 419.7h0M517.5 191.6h0M537.0 181.8h0M609.3 159.2h0M711.3 160.0h0"/>
<path stroke="#e4eef3" d="M498.7 203.0h0M542.0 179.5h0M557.1 173.4h0M562.2 171.5h0M620.0 157.5h0M630.7 156.3h0"/>
<path stroke="#e8f0f4" d="M355.5 431.1h0M356.4 425.4h0M512.8 194.3h0M614.6 158.3h0"/>
<path stroke="#ecf2f5" d="M354.7 436.8h0M588.2 163.7h0"/>
<path stroke="#eff3f6" d="M577.7 166.5h0M646.8 155.2h0M673.8 155.4h0M727.1 163.5h0"/>
<path stroke="#f3f5f6" d="M593.4 162.4h0"/>
<path stroke="#f7f7f7" d="M689.9 156.8h0M700.6 158.2h0"/>
<path stroke="#f8f4f2" d="M567.4 169.7h0M572.5 168.1h0M604.0 160.2h0M625.3 156.9h0"/>
<path stroke="#f9ece4" d="M582.9 165.0h0M663.0 155.0h0M732.3 164.8h0M747.9 169.5h0M773.3 179.2h0"/>
<path stroke="#f9efe9" d="M636.1 155.8h0M641.5 155.5h0M705.9 159.1h0M721.8 162.2h0M737.6 166.3h0M742.8 167.8h0M753.1 171.2h0"/>
<path stroke="#facbb2" d="M825.8 208.7h0"/>
<path stroke="#fae9df" d="M679.2 155.8h0M716.6 161.1h0M807.3 196.7h0M868.1 244.5h0"/>
<path stroke="#fbd0b9" d="M768.3 177.1h0M864.1 240.6h0M893.9 274.0h0"/>
<path stroke="#fbe3d5" d="M684.5 156.2h0M778.3 181.4h0M793.0 188.7h0M816.6 202.5h0"/>
<path stroke="#fbe6da" d="M657.6 155.0h0M695.3 157.4h0M758.2 173.1h0"/>
<path stroke="#fcd6c0" d="M812.0 199.6h0M821.2 205.6h0"/>
<path stroke="#fcdecc" d="M788.1 186.2h0M834.7 215.2h0M847.6 225.6h0M851.8 229.2h0M872.0 248.5h0M883.2 261.0h0M890.4 269.6h0M897.3 278.5h0"/>
<path stroke="#fce1d1" d="M668.4 155.2h0M763.2 175.0h0M783.2 183.7h0M830.2 211.9h0M839.1 218.6h0M856.0 232.9h0"/>
<path stroke="#fddbc7" d="M797.8 191.3h0M802.6 193.9h0M843.4 222.1h0M860.1 236.7h0M875.8 252.6h0M879.5 256.7h0M886.9 265.3h0"/>
<path stroke="#b8d8e9" d="M437.2 250.5h0"/>
<path stroke="#bedbeb" d="M540.6 176.0h0"/>
<path stroke="#c4dfec" d="M412.1 281.4h0M418.9 272.3h0M426.0 263.4h0M461.3 226.8h0M465.6 223.1h0"/>
<path stroke="#cbe2ee" d="M390.8 315.4h0M393.6 310.4h0M396.5 305.4h0M399.4 300.5h0M408.8 286.1h0M422.4 267.8h0M441.0 246.4h0M445.0 242.3h0M525.7 183.1h0"/>
<path stroke="#d1e5f0" d="M363.7 379.3h0M365.5 373.8h0M373.5 352.0h0M380.4 336.0h0M382.8 330.8h0M385.4 325.6h0M402.5 295.6h0M405.6 290.8h0M415.5 276.8h0M433.4 254.7h0M469.9 219.5h0M478.7 212.6h0"/>
<path stroke="#d5e7f1" d="M362.1 384.9h0M371.3 357.4h0M388.0 320.5h0M448.9 238.3h0M457.1 230.6h0M501.6 196.7h0M520.8 185.6h0M530.6 180.6h0M545.7 173.8h0M614.1 154.5h0"/>
<path stroke="#d9e9f1" d="M357.6 401.8h0M359.0 396.2h0M360.5 390.5h0M367.4 368.3h0M369.3 362.8h0M375.7 346.6h0M378.0 341.3h0M487.7 206.0h0M506.3 193.8h0M511.1 191.0h0M515.9 188.2h0M535.6 178.2h0M555.9 169.8h0"/>
<path stroke="#dceaf2" d="M356.3 407.5h0M429.6 259.0h0M453.0 234.4h0M474.2 216.0h0"/>
<path stroke="#e0ecf3" d="M355.1 413.2h0M492.2 202.8h0M561.1 167.9h0"/>
<path stroke="#e4eef3" d="M352.9 424.7h0M354.0 419.0h0M550.8 171.7h0M608.7 155.4h0M674.0 151.6h0M733.2 161.1h0"/>
<path stroke="#e8f0f4" d="M352.0 430.5h0M483.1 209.2h0M641.3 151.7h0M646.7 151.4h0"/>
<path stroke="#ecf2f5" d="M351.2 436.3h0M571.5 164.4h0M587.4 160.0h0"/>
<path stroke="#eff3f6" d="M496.9 199.7h0M652.2 151.2h0M711.9 156.3h0"/>
<path stroke="#f3f5f6" d="M701.1 154.4h0"/>
<path stroke="#f7f7f7" d="M603.4 156.4h0M619.5 153.8h0M625.0 153.1h0M630.4 152.5h0M690.3 153.0h0M738.5 162.6h0M743.7 164.2h0"/>
<path stroke="#f8f1ed" d="M727.9 159.8h0"/>
<path stroke="#f8f4f2" d="M576.8 162.8h0M598.0 157.5h0M635.8 152.0h0M679.4 152.0h0"/>
<path stroke="#f9ece4" d="M582.1 161.3h0M592.7 158.7h0"/>
<path stroke="#f9efe9" d="M566.3 166.1h0M695.7 153.7h0"/>
<path stroke="#facbb2" d="M769.6 173.5h0M832.2 208.8h0"/>
<path stroke="#fae9df" d="M657.6 151.2h0M754.2 167.6h0M774.6 175.7h0"/>
<path stroke="#fbd0b9" d="M759.3 169.5h0M789.6 182.7h0M827.7 205.5h0"/>
<path stroke="#fbe3d5" d="M684.8 152.4h0M706.5 155.3h0M779.7 177.9h0M794.5 185.2h0M804.3 190.6h0M862.4 233.8h0"/>
<path stroke="#fbe6da" d="M663.1 151.2h0M668.5 151.4h0M722.6 158.5h0M749.0 165.8h0M764.5 171.4h0M823.1 202.4h0M858.3 230.0h0"/>
<path stroke="#fcd6c0" d="M836.7 212.1h0M896.6 271.6h0"/>
<path stroke="#fcdecc" d="M784.7 180.3h0M799.4 187.9h0M818.5 199.3h0M845.5 219.0h0M849.8 222.6h0M882.1 254.1h0M885.8 258.4h0M893.1 267.1h0"/>
<path stroke="#fce1d1" d="M717.2 157.3h0M809.0 193.4h0M813.8 196.3h0M870.5 241.7h0"/>
<path stroke="#fddbc7" d="M841.2 215.5h0M854.1 226.3h0M866.5 237.7h0M874.4 245.8h0M878.3 249.9h0M889.5 262.7h0"/>
<path stroke="#b8d8e9" d="M434.6 247.8h0M476.6 209.5h0"/>
<path stroke="#bedbeb" d="M539.3 172.4h0"/>
<path stroke="#c4dfec" d="M387.7 313.5h0M406.0 283.8h0M409.3 279.1h0M419.7 265.3h0M481.1 206.1h0"/>
<path stroke="#cbe2ee" d="M379.7 329.0h0M382.3 323.8h0M396.5 298.4h0M402.7 288.6h0M416.2 269.8h0M438.5 243.6h0M450.7 231.5h0M454.8 227.7h0M459.1 223.9h0M463.4 220.1h0M472.1 212.9h0M509.4 187.6h0M544.4 170.2h0"/>
<path stroke="#d1e5f0" d="M362.2 372.5h0M370.2 350.4h0M377.2 334.3h0M384.9 318.6h0M393.5 303.4h0M399.6 293.5h0M412.7 274.4h0M423.3 260.8h0M446.6 235.5h0M467.7 216.5h0M490.3 199.6h0M524.2 179.6h0"/>
<path stroke="#d5e7f1" d="M358.7 383.8h0M360.4 378.1h0M366.0 361.4h0M368.1 355.9h0M372.5 345.0h0M374.8 339.6h0M390.5 308.4h0M430.8 252.1h0M442.5 239.5h0M485.7 202.8h0M504.6 190.5h0M519.2 182.2h0M529.2 177.1h0"/>
<path stroke="#d9e9f1" d="M354.2 400.9h0M355.6 395.1h0M364.0 366.9h0M427.0 256.4h0M499.8 193.4h0M554.8 166.2h0M613.6 150.8h0"/>
<path stroke="#dceaf2" d="M351.6 412.4h0M352.8 406.6h0M357.1 389.4h0M534.2 174.7h0M635.6 148.2h0"/>
<path stroke="#e0ecf3" d="M350.5 418.2h0M560.0 164.2h0"/>
<path stroke="#e4eef3" d="M349.4 424.0h0M495.0 196.5h0M549.6 168.2h0"/>
<path stroke="#e8f0f4" d="M348.5 429.9h0M608.2 151.6h0"/>
<path stroke="#ecf2f5" d="M514.3 184.9h0M581.2 157.6h0"/>
<path stroke="#eff3f6" d="M347.6 435.7h0M591.9 154.9h0M641.1 147.9h0M679.7 148.2h0M723.3 154.8h0"/>
<path stroke="#f3f5f6" d="M570.5 160.7h0M586.5 156.2h0M597.3 153.7h0M630.1 148.7h0M690.6 149.2h0M701.6 150.6h0M734.1 157.4h0M744.7 160.5h0"/>
<path stroke="#f7f7f7" d="M565.3 162.4h0M624.6 149.3h0M663.1 147.4h0M674.2 147.8h0M712.5 152.5h0"/>
<path stroke="#f8f1ed" d="M657.6 147.4h0M750.0 162.2h0M776.0 172.1h0"/>
<path stroke="#f8f4f2" d="M575.8 159.1h0M739.4 158.9h0"/>
<path stroke="#f9c0a4" d="M852.0 219.6h0"/>
<path stroke="#f9ece4" d="M619.1 150.0h0M668.6 147.6h0M685.2 148.6h0M755.3 164.0h0M765.7 167.9h0M781.1 174.4h0"/>
<path stroke="#f9efe9" d="M646.6 147.6h0M652.1 147.4h0"/>
<path stroke="#facbb2" d="M815.6 193.0h0M820.3 196.0h0"/>
<path stroke="#fae9df" d="M825.0 199.1h0"/>
<path stroke="#fbe3d5" d="M696.1 149.9h0M728.7 156.0h0M786.1 176.8h0"/>
<path stroke="#fbe6da" d="M602.7 152.6h0M888.5 255.8h0"/>
<path stroke="#fcd6c0" d="M770.9 169.9h0M829.6 202.3h0M834.2 205.6h0M868.9 234.9h0M892.2 260.2h0"/>
<path stroke="#fcdecc" d="M717.9 153.6h0M860.6 227.1h0M864.8 231.0h0M872.9 238.9h0M880.8 247.2h0M884.7 251.5h0M895.8 264.6h0"/>
<path stroke="#fce1d1" d="M707.1 151.5h0M810.8 190.1h0M838.8 209.0h0M847.7 216.0h0"/>
<path stroke="#fddbc7" d="M760.5 165.9h0M791.1 179.2h0M796.1 181.8h0M801.0 184.5h0M805.9 187.2h0M843.2 212.4h0M856.3 223.3h0M876.9 243.0h0"/>
<path stroke="#bedbeb" d="M432.1 245.1h0M448.3 228.7h0M507.7 184.3h0"/>
<path stroke="#c4dfec" d="M393.5 296.3h0M406.5 276.8h0M413.4 267.4h0M417.0 262.8h0M470.0 209.9h0M474.5 206.4h0M498.0 190.1h0"/>
<path stroke="#cbe2ee" d="M390.5 301.3h0M396.6 291.3h0M403.1 281.6h0M420.7 258.3h0M436.1 240.9h0M440.1 236.8h0M479.1 202.9h0M488.4 196.4h0"/>
<path stroke="#d1e5f0" d="M358.8 371.2h0M364.8 354.4h0M367.0 348.9h0M369.2 343.4h0M374.0 332.6h0M376.5 327.3h0M379.2 322.0h0M381.9 316.7h0M384.6 311.5h0M387.5 306.4h0M399.8 286.4h0M409.9 272.1h0M424.4 253.8h0M452.5 224.8h0M456.8 220.9h0M465.6 213.5h0M522.6 176.2h0M532.8 171.2h0M553.6 162.5h0"/>
<path stroke="#d5e7f1" d="M350.7 399.9h0M352.1 394.1h0M357.0 376.9h0M362.7 360.0h0M517.6 178.8h0M527.7 173.6h0"/>
<path stroke="#d9e9f1" d="M353.7 388.4h0M355.3 382.6h0M360.7 365.6h0M371.6 338.0h0M428.2 249.5h0M461.2 217.1h0M483.8 199.6h0M493.2 193.2h0M558.9 160.6h0"/>
<path stroke="#dceaf2" d="M348.1 411.6h0M349.4 405.7h0M444.2 232.7h0"/>
<path stroke="#e0ecf3" d="M347.0 417.5h0M668.8 143.7h0"/>
<path stroke="#e4eef3" d="M345.9 423.3h0M512.6 181.5h0M538.0 168.9h0M543.1 166.7h0M548.4 164.6h0"/>
<path stroke="#e8f0f4" d="M345.0 429.3h0M502.8 187.1h0M607.6 147.9h0M740.3 155.2h0"/>
<path stroke="#ecf2f5" d="M713.1 148.7h0M745.7 156.8h0"/>
<path stroke="#eff3f6" d="M344.1 435.2h0M602.1 148.9h0M613.1 147.0h0"/>
<path stroke="#f3f5f6" d="M618.7 146.2h0M674.3 144.0h0M734.9 153.7h0"/>
<path stroke="#f7f7f7" d="M564.2 158.8h0M569.5 157.1h0M585.7 152.5h0M629.8 144.9h0M640.9 144.0h0M657.6 143.6h0M663.2 143.6h0"/>
<path stroke="#f8f1ed" d="M679.9 144.4h0M685.5 144.8h0M777.3 168.6h0"/>
<path stroke="#f8f4f2" d="M574.9 155.5h0M580.3 153.9h0M596.6 150.0h0M635.3 144.4h0M646.5 143.8h0M702.1 146.9h0M729.5 152.3h0"/>
<path stroke="#f9c5ab" d="M822.1 192.7h0"/>
<path stroke="#f9ece4" d="M624.2 145.5h0M691.0 145.4h0M724.1 151.0h0M766.9 164.3h0"/>
<path stroke="#f9efe9" d="M807.6 183.8h0"/>
<path stroke="#facbb2" d="M854.2 216.6h0M862.9 224.2h0"/>
<path stroke="#fae9df" d="M591.2 151.2h0M756.4 160.4h0M792.6 175.8h0"/>
<path stroke="#fbd0b9" d="M802.7 181.1h0M812.5 186.7h0M817.3 189.7h0M871.3 232.1h0"/>
<path stroke="#fbe3d5" d="M826.9 195.9h0"/>
<path stroke="#fbe6da" d="M652.0 143.6h0M782.5 170.9h0M797.7 178.4h0"/>
<path stroke="#fcd6c0" d="M718.6 149.8h0M836.2 202.5h0M845.3 209.4h0M883.3 244.5h0M894.8 257.6h0"/>
<path stroke="#fcdecc" d="M751.0 158.5h0M761.7 162.3h0M772.1 166.4h0M787.6 173.3h0M831.6 199.1h0M849.8 212.9h0M858.6 220.4h0M887.2 248.8h0"/>
<path stroke="#fce1d1" d="M707.6 147.7h0M867.1 228.1h0M875.4 236.2h0M891.1 253.2h0M898.5 262.2h0"/>
<path stroke="#fddbc7" d="M696.6 146.1h0M840.8 205.9h0M879.4 240.3h0"/>
<path stroke="#bedbeb" d="M410.7 265.0h0M429.6 242.5h0M506.0 180.9h0"/>
<path stroke="#c4dfec" d="M396.9 284.2h0M486.5 193.1h0M516.1 175.3h0"/>
<path stroke="#cbe2ee" d="M378.8 314.9h0M381.6 309.6h0M387.5 299.3h0M390.6 294.2h0M393.7 289.2h0M403.7 274.4h0M414.3 260.3h0M421.8 251.3h0M437.6 234.0h0M526.3 170.2h0"/>
<path stroke="#d1e5f0" d="M353.6 375.7h0M363.7 347.4h0M366.0 341.9h0M370.8 330.9h0M373.4 325.5h0M376.0 320.2h0M384.5 304.4h0M400.3 279.3h0M407.1 269.7h0M418.0 255.8h0M425.7 246.8h0M433.6 238.2h0M454.6 218.0h0M459.0 214.2h0M467.9 206.8h0M477.1 199.8h0"/>
<path stroke="#d5e7f1" d="M347.3 399.0h0M348.7 393.1h0M351.9 381.5h0M355.5 370.0h0M359.4 358.6h0M361.5 353.0h0M368.4 336.4h0M441.8 229.9h0M446.0 225.8h0M472.5 203.2h0"/>
<path stroke="#d9e9f1" d="M450.2 221.8h0M521.1 172.7h0M541.9 163.1h0M552.4 158.9h0"/>
<path stroke="#dceaf2" d="M344.7 410.8h0M345.9 404.9h0M350.3 387.3h0M357.4 364.3h0M491.3 189.9h0M668.9 139.9h0"/>
<path stroke="#e0ecf3" d="M343.5 416.7h0M463.4 210.4h0M496.2 186.8h0M531.4 167.7h0M607.1 144.1h0"/>
<path stroke="#e4eef3" d="M501.1 183.8h0M536.6 165.4h0"/>
<path stroke="#e8f0f4" d="M342.4 422.7h0M481.8 196.4h0M511.0 178.1h0M568.6 153.4h0"/>
<path stroke="#ecf2f5" d="M341.5 428.6h0M547.1 161.0h0M635.1 140.6h0M640.7 140.2h0"/>
<path stroke="#eff3f6" d="M340.6 434.6h0M574.0 151.8h0M685.8 141.0h0M702.6 143.1h0M741.2 151.5h0"/>
<path stroke="#f3f5f6" d="M601.5 145.1h0"/>
<path stroke="#f7f7f7" d="M629.4 141.1h0M713.7 145.0h0M735.8 150.0h0M746.7 153.2h0"/>
<path stroke="#f8f1ed" d="M557.8 157.0h0M674.5 140.2h0M724.8 147.3h0M730.3 148.6h0"/>
<path stroke="#f8f4f2" d="M579.4 150.2h0M584.9 148.8h0M590.4 147.5h0M612.6 143.2h0M778.7 165.0h0"/>
<path stroke="#f9c5ab" d="M824.0 189.5h0"/>
<path stroke="#f9ece4" d="M618.2 142.4h0M663.2 139.8h0M691.4 141.6h0M828.8 192.7h0"/>
<path stroke="#f9efe9" d="M646.3 140.0h0M657.6 139.7h0M680.1 140.6h0M762.8 158.7h0M768.1 160.7h0"/>
<path stroke="#facbb2" d="M833.5 195.9h0M847.4 206.3h0"/>
<path stroke="#fae9df" d="M708.2 144.0h0M783.9 167.4h0M804.3 177.7h0"/>
<path stroke="#fbd0b9" d="M865.2 221.3h0M885.9 241.8h0"/>
<path stroke="#fbe3d5" d="M623.8 141.7h0M719.3 146.1h0M838.2 199.3h0"/>
<path stroke="#fbe6da" d="M563.2 155.2h0M596.0 146.2h0M752.1 154.9h0M757.5 156.7h0M799.2 175.0h0"/>
<path stroke="#fcd6c0" d="M773.4 162.8h0M852.0 209.9h0M877.8 233.4h0"/>
<path stroke="#fcdecc" d="M652.0 139.8h0M789.0 169.8h0M794.2 172.3h0M842.9 202.7h0M860.8 217.4h0"/>
<path stroke="#fce1d1" d="M809.3 180.5h0M819.1 186.4h0M881.9 237.6h0M889.8 246.2h0M893.7 250.6h0M897.5 255.1h0"/>
<path stroke="#fddbc7" d="M697.0 142.3h0M814.2 183.4h0M856.4 213.6h0M869.4 225.2h0M873.7 229.3h0"/>
<path stroke="#bedbeb" d="M394.1 282.0h0"/>
<path stroke="#c4dfec" d="M378.5 307.7h0M431.1 235.5h0M435.2 231.2h0M439.4 227.0h0M452.3 215.0h0M456.7 211.2h0M475.1 196.6h0"/>
<path stroke="#cbe2ee" d="M375.7 313.0h0M381.5 302.4h0M387.6 292.1h0M390.8 287.0h0M400.8 272.1h0M407.9 262.5h0M415.4 253.2h0M423.1 244.2h0M427.0 239.8h0M465.8 203.7h0M470.4 200.1h0M484.7 189.9h0"/>
<path stroke="#d1e5f0" d="M350.3 374.5h0M352.1 368.7h0M358.2 351.5h0M360.4 345.9h0M365.2 334.7h0M367.7 329.2h0M372.9 318.3h0M384.5 297.2h0M404.4 267.3h0M411.6 257.8h0M419.2 248.7h0M461.3 207.4h0M504.3 177.5h0"/>
<path stroke="#d5e7f1" d="M343.8 398.0h0M345.3 392.1h0M348.5 380.3h0M362.8 340.3h0M447.9 218.9h0M514.5 171.9h0"/>
<path stroke="#d9e9f1" d="M346.9 386.2h0M354.1 362.9h0M356.1 357.2h0M370.2 323.8h0M397.4 277.0h0M479.9 193.2h0"/>
<path stroke="#dceaf2" d="M341.2 410.0h0M342.5 404.0h0M443.6 222.9h0M494.4 183.5h0M551.3 155.3h0"/>
<path stroke="#e0ecf3" d="M524.8 166.7h0M530.0 164.2h0M540.6 159.6h0M725.5 143.6h0"/>
<path stroke="#e4eef3" d="M340.0 416.0h0M519.6 169.3h0M606.5 140.3h0M612.1 139.4h0"/>
<path stroke="#e8f0f4" d="M499.3 180.5h0M509.4 174.7h0M584.1 145.1h0M669.0 136.1h0"/>
<path stroke="#ecf2f5" d="M337.1 434.1h0M338.0 428.0h0M339.0 422.0h0M545.9 157.4h0M736.6 146.3h0"/>
<path stroke="#eff3f6" d="M567.6 149.7h0"/>
<path stroke="#f3f5f6" d="M489.5 186.7h0M535.3 161.8h0M640.5 136.4h0M651.9 136.0h0M657.6 135.9h0M674.7 136.4h0M714.3 141.2h0"/>
<path stroke="#f7f7f7" d="M556.7 153.4h0M646.2 136.1h0M691.8 137.8h0M703.1 139.3h0M747.7 149.5h0"/>
<path stroke="#f8f1ed" d="M600.9 141.4h0M663.3 136.0h0M680.4 136.7h0M708.7 140.2h0M764.0 155.0h0M780.0 161.5h0"/>
<path stroke="#f8f4f2" d="M562.1 151.5h0M578.6 146.5h0M617.8 138.6h0M634.8 136.8h0"/>
<path stroke="#f9c0a4" d="M790.5 166.3h0"/>
<path stroke="#f9c5ab" d="M888.4 239.2h0"/>
<path stroke="#f9ece4" d="M742.2 147.9h0M805.9 174.3h0M811.0 177.1h0"/>
<path stroke="#f9efe9" d="M573.1 148.1h0M629.1 137.3h0M697.4 138.5h0M719.9 142.3h0M753.1 151.2h0"/>
<path stroke="#facbb2" d="M835.5 192.7h0M854.1 206.9h0"/>
<path stroke="#fae9df" d="M595.3 142.5h0M686.1 137.2h0M731.1 144.9h0M769.3 157.1h0M820.9 183.1h0M840.2 196.1h0"/>
<path stroke="#fbd0b9" d="M849.5 203.2h0M858.6 210.6h0M867.5 218.4h0"/>
<path stroke="#fbe3d5" d="M623.4 137.9h0M758.6 153.1h0M774.7 159.3h0M800.8 171.5h0"/>
<path stroke="#fbe6da" d="M589.7 143.7h0M795.7 168.9h0M830.7 189.4h0"/>
<path stroke="#fcd6c0" d="M892.4 243.6h0"/>
<path stroke="#fcdecc" d="M816.0 180.1h0M844.9 199.6h0M876.0 226.4h0M880.2 230.6h0M884.3 234.8h0"/>
<path stroke="#fce1d1" d="M896.3 248.0h0"/>
<path stroke="#fddbc7" d="M785.3 163.9h0M825.8 186.2h0M863.1 214.4h0M871.8 222.4h0"/>
<path stroke="#bedbeb" d="M391.2 279.8h0M450.1 212.1h0M454.5 208.2h0"/>
<path stroke="#c4dfec" d="M375.5 305.7h0M420.5 241.6h0M437.0 224.2h0M468.4 197.0h0"/>
<path stroke="#cbe2ee" d="M372.6 311.1h0M378.4 300.4h0M387.9 284.8h0M401.6 264.9h0M405.2 260.1h0M412.7 250.7h0M416.6 246.1h0"/>
<path stroke="#d1e5f0" d="M348.8 367.4h0M357.2 344.4h0M362.0 333.1h0M367.1 322.0h0M369.8 316.5h0M381.5 295.2h0M384.6 290.0h0M398.0 269.8h0M424.5 237.1h0M428.6 232.7h0M432.8 228.4h0M463.7 200.6h0M482.8 186.7h0"/>
<path stroke="#d5e7f1" d="M341.9 391.1h0M345.1 379.2h0M346.9 373.3h0M354.9 350.1h0M359.5 338.7h0M364.5 327.5h0M394.6 274.7h0M408.9 255.4h0M441.3 220.1h0M459.1 204.4h0M473.1 193.5h0"/>
<path stroke="#d9e9f1" d="M339.0 403.1h0M340.4 397.1h0M343.4 385.1h0M350.7 361.6h0M352.8 355.8h0M445.6 216.0h0M572.1 144.4h0"/>
<path stroke="#dceaf2" d="M337.7 409.1h0M477.9 190.0h0M539.3 156.0h0"/>
<path stroke="#e0ecf3" d="M492.6 180.2h0M502.7 174.2h0M611.6 135.6h0M720.6 138.6h0M748.6 145.8h0"/>
<path stroke="#e4eef3" d="M336.5 415.2h0M507.8 171.3h0M523.3 163.2h0"/>
<path stroke="#e8f0f4" d="M487.7 183.4h0M646.1 132.3h0M657.6 132.1h0"/>
<path stroke="#ecf2f5" d="M333.6 433.5h0M334.5 427.4h0M335.5 421.3h0M512.9 168.5h0M518.1 165.8h0M605.9 136.6h0"/>
<path stroke="#eff3f6" d="M497.6 177.2h0M550.1 151.7h0M583.3 141.4h0M737.5 142.6h0"/>
<path stroke="#f3f5f6" d="M528.6 160.7h0M561.1 147.9h0M600.2 137.6h0M640.3 132.6h0M726.3 139.8h0"/>
<path stroke="#f7f7f7" d="M544.7 153.8h0M555.6 149.7h0M628.8 133.5h0"/>
<path stroke="#f8f1ed" d="M617.3 134.8h0M680.6 132.9h0M697.9 134.7h0M703.6 135.5h0M776.0 155.7h0"/>
<path stroke="#f8f4f2" d="M634.6 133.0h0M651.8 132.2h0M669.1 132.3h0M674.9 132.6h0"/>
<path stroke="#f9ece4" d="M533.9 158.3h0M577.7 142.8h0M588.9 140.0h0M623.1 134.1h0M686.4 133.4h0M765.1 151.4h0M812.6 173.8h0"/>
<path stroke="#f9efe9" d="M692.1 134.0h0M715.0 137.5h0M781.3 158.0h0"/>
<path stroke="#facbb2" d="M791.9 162.8h0M847.0 196.5h0"/>
<path stroke="#fae9df" d="M754.2 147.6h0M797.2 165.4h0M842.2 193.0h0"/>
<path stroke="#fbd0b9" d="M869.8 215.5h0"/>
<path stroke="#fbe3d5" d="M709.3 136.4h0M770.6 153.5h0M802.4 168.1h0M807.5 170.9h0M817.7 176.7h0M822.7 179.8h0"/>
<path stroke="#fbe6da" d="M566.6 146.1h0M663.4 132.1h0M731.9 141.2h0M743.1 144.2h0M759.7 149.5h0"/>
<path stroke="#fcdecc" d="M786.6 160.4h0M827.7 182.9h0M851.6 200.1h0M856.3 203.8h0M865.3 211.5h0M886.8 232.1h0"/>
<path stroke="#fce1d1" d="M594.6 138.8h0M832.6 186.2h0M837.4 189.5h0M860.8 207.6h0M874.1 219.5h0M878.4 223.6h0"/>
<path stroke="#fddbc7" d="M882.7 227.8h0M890.9 236.5h0M894.9 240.9h0"/>
<path stroke="#abd2e5" d="M452.3 205.2h0"/>
<path stroke="#bedbeb" d="M434.6 221.4h0M471.1 190.3h0M490.8 176.9h0"/>
<path stroke="#c4dfec" d="M372.4 303.8h0M410.1 248.2h0M417.9 238.9h0M422.0 234.4h0M426.1 230.0h0"/>
<path stroke="#cbe2ee" d="M363.9 320.2h0M384.9 282.7h0M388.3 277.5h0M447.8 209.1h0"/>
<path stroke="#d1e5f0" d="M351.7 348.6h0M353.9 342.9h0M358.7 331.4h0M366.7 314.7h0M375.4 298.4h0M378.5 293.1h0M381.7 287.9h0M395.2 267.5h0M402.5 257.7h0M406.2 252.9h0M443.3 213.1h0"/>
<path stroke="#d5e7f1" d="M337.0 396.1h0M340.0 384.1h0M341.7 378.1h0M343.5 372.1h0M345.4 366.2h0M361.3 325.8h0M369.5 309.2h0M391.7 272.5h0M398.8 262.5h0M430.3 225.7h0M456.9 201.3h0"/>
<path stroke="#d9e9f1" d="M335.6 402.2h0M338.4 390.1h0M347.4 360.3h0M349.5 354.4h0M356.3 337.1h0M414.0 243.5h0M461.6 197.6h0"/>
<path stroke="#dceaf2" d="M334.3 408.3h0M438.9 217.2h0M480.9 183.4h0"/>
<path stroke="#e0ecf3" d="M466.3 193.9h0M495.9 173.8h0"/>
<path stroke="#e4eef3" d="M333.1 414.5h0M476.0 186.8h0M501.0 170.8h0M506.1 167.9h0M538.0 152.5h0M721.3 134.8h0M727.0 136.1h0"/>
<path stroke="#e8f0f4" d="M738.4 138.9h0"/>
<path stroke="#ecf2f5" d="M330.1 433.0h0M331.0 426.8h0M332.0 420.6h0M511.3 165.1h0M516.6 162.3h0M521.9 159.7h0M571.2 140.7h0M645.9 128.5h0M749.6 142.2h0"/>
<path stroke="#eff3f6" d="M485.8 180.1h0M611.1 131.9h0M622.7 130.3h0M634.3 129.2h0M657.6 128.3h0"/>
<path stroke="#f3f5f6" d="M527.2 157.2h0M599.6 133.9h0M605.4 132.8h0M698.3 130.9h0M777.2 152.1h0"/>
<path stroke="#f7f7f7" d="M576.8 139.1h0M640.1 128.8h0M651.8 128.3h0M669.2 128.5h0"/>
<path stroke="#f8f1ed" d="M543.4 150.2h0M548.9 148.1h0M582.5 137.7h0M616.9 131.0h0"/>
<path stroke="#f8f4f2" d="M532.6 154.8h0M554.5 146.1h0M628.5 129.7h0M680.9 129.1h0M686.7 129.6h0M704.1 131.7h0"/>
<path stroke="#f9c5ab" d="M663.4 128.3h0"/>
<path stroke="#f9ece4" d="M588.2 136.3h0M744.0 140.5h0M760.8 145.8h0M814.3 170.4h0M819.4 173.4h0M849.0 193.4h0"/>
<path stroke="#f9efe9" d="M565.6 142.4h0M675.1 128.8h0M692.5 130.2h0M709.8 132.7h0M844.2 189.8h0"/>
<path stroke="#facbb2" d="M853.7 197.0h0M863.0 204.6h0"/>
<path stroke="#fae9df" d="M560.0 144.2h0M803.9 164.7h0"/>
<path stroke="#fbd0b9" d="M793.4 159.4h0M885.1 225.0h0M893.4 233.8h0"/>
<path stroke="#fbe3d5" d="M593.9 135.0h0M788.0 156.8h0M824.5 176.5h0M839.4 186.3h0"/>
<path stroke="#fbe6da" d="M715.6 133.7h0M732.7 137.5h0M755.2 144.0h0M766.3 147.8h0M771.8 149.9h0M782.7 154.4h0M858.4 200.8h0"/>
<path stroke="#fcd6c0" d="M798.7 162.0h0M809.1 167.5h0M867.6 208.5h0M876.5 216.6h0"/>
<path stroke="#fcdecc" d="M829.5 179.7h0M880.8 220.8h0"/>
<path stroke="#fce1d1" d="M834.5 183.0h0M872.0 212.5h0M889.3 229.4h0M897.5 238.3h0"/>
<path stroke="#b8d8e9" d="M450.1 202.2h0"/>
<path stroke="#bedbeb" d="M432.2 218.6h0"/>
<path stroke="#c4dfec" d="M375.5 291.1h0M392.4 265.1h0M419.5 231.8h0"/>
<path stroke="#cbe2ee" d="M350.7 341.3h0M360.8 318.5h0M369.3 301.9h0M372.4 296.4h0M378.7 285.8h0M382.0 280.5h0M399.7 255.2h0M407.4 245.6h0M459.5 194.5h0M504.5 164.5h0"/>
<path stroke="#d1e5f0" d="M355.5 329.8h0M363.5 312.9h0M385.4 275.3h0M388.8 270.2h0M403.5 250.4h0M415.4 236.3h0M441.0 210.2h0"/>
<path stroke="#d5e7f1" d="M333.5 395.2h0M338.3 376.9h0M340.2 370.9h0M342.1 364.9h0M348.4 347.2h0M366.4 307.3h0M411.3 240.9h0M423.6 227.3h0M427.9 222.9h0M454.8 198.3h0M464.3 190.8h0M489.0 173.6h0"/>
<path stroke="#d9e9f1" d="M332.1 401.3h0M335.0 389.1h0M336.6 383.0h0M344.1 359.0h0M346.2 353.0h0M353.1 335.5h0M358.1 324.1h0M396.0 260.2h0M436.6 214.4h0"/>
<path stroke="#dceaf2" d="M469.1 187.2h0M509.8 161.6h0M531.2 151.2h0M727.8 132.4h0M750.6 138.5h0"/>
<path stroke="#e0ecf3" d="M330.8 407.5h0M445.6 206.2h0M484.0 176.9h0M536.7 148.9h0M616.5 127.2h0M622.3 126.5h0M645.8 124.7h0M710.4 128.9h0"/>
<path stroke="#e4eef3" d="M329.6 413.7h0M479.0 180.2h0M499.3 167.4h0M570.3 137.0h0M778.5 148.6h0"/>
<path stroke="#e8f0f4" d="M494.1 170.5h0"/>
<path stroke="#ecf2f5" d="M328.5 419.9h0M675.2 124.9h0M722.0 131.1h0M739.2 135.2h0M761.9 142.2h0"/>
<path stroke="#eff3f6" d="M327.5 426.2h0M474.0 183.7h0M634.0 125.4h0M681.1 125.3h0"/>
<path stroke="#f3f5f6" d="M515.1 158.9h0M610.6 128.1h0"/>
<path stroke="#f7f7f7" d="M520.4 156.2h0M593.2 131.3h0M651.7 124.5h0M657.6 124.5h0M698.7 127.1h0"/>
<path stroke="#f8f1ed" d="M542.2 146.7h0M547.8 144.5h0"/>
<path stroke="#f8f4f2" d="M525.8 153.7h0M576.0 135.4h0M756.3 140.3h0M816.0 167.0h0"/>
<path stroke="#f9ece4" d="M599.0 130.1h0M663.5 124.5h0M669.4 124.7h0M687.0 125.8h0M704.6 128.0h0M744.9 136.8h0M874.3 209.6h0"/>
<path stroke="#f9efe9" d="M559.0 140.6h0M581.7 133.9h0M639.9 125.0h0M773.0 146.3h0"/>
<path stroke="#facbb2" d="M784.0 150.9h0"/>
<path stroke="#fae9df" d="M587.4 132.5h0M692.9 126.4h0M767.5 144.2h0M800.2 158.5h0M805.5 161.2h0M826.3 173.2h0"/>
<path stroke="#fbd0b9" d="M564.6 138.8h0M855.8 194.0h0M887.5 222.3h0M896.0 231.1h0"/>
<path stroke="#fbe3d5" d="M831.3 176.4h0M883.2 218.0h0"/>
<path stroke="#fbe6da" d="M553.3 142.5h0M604.8 129.0h0M716.2 129.9h0M733.5 133.7h0M789.4 153.3h0M846.2 186.7h0"/>
<path stroke="#fcd6c0" d="M810.8 164.1h0M821.1 170.1h0"/>
<path stroke="#fcdecc" d="M628.2 125.9h0M836.3 179.7h0M860.6 197.7h0"/>
<path stroke="#fce1d1" d="M865.2 201.6h0M891.8 226.6h0"/>
<path stroke="#fddbc7" d="M794.8 155.9h0M841.3 183.2h0M851.0 190.3h0M869.8 205.6h0M878.8 213.8h0"/>
<path stroke="#b2d5e7" d="M416.9 229.1h0M447.9 199.2h0"/>
<path stroke="#bedbeb" d="M429.8 215.8h0M443.3 203.2h0"/>
<path stroke="#c4dfec" d="M360.4 311.1h0M369.4 294.4h0M372.5 289.0h0M382.5 273.1h0M397.0 252.8h0M438.7 207.3h0M487.2 170.3h0"/>
<path stroke="#cbe2ee" d="M338.7 363.6h0M357.6 316.7h0M379.1 278.3h0M386.0 267.9h0M400.8 247.9h0M404.7 243.1h0M412.8 233.7h0"/>
<path stroke="#d1e5f0" d="M335.0 375.8h0M345.1 345.7h0M347.4 339.8h0M352.3 328.2h0M363.3 305.5h0M366.3 299.9h0M375.7 283.6h0M389.6 262.8h0M408.7 238.3h0M425.4 220.1h0M502.9 161.1h0"/>
<path stroke="#d5e7f1" d="M330.1 394.2h0M342.9 351.6h0M349.8 334.0h0M354.9 322.4h0M393.2 257.8h0M457.4 191.4h0M740.1 131.5h0"/>
<path stroke="#d9e9f1" d="M328.6 400.5h0M331.6 388.1h0M333.2 381.9h0M336.8 369.7h0M340.7 357.6h0M421.1 224.6h0M434.2 211.5h0M529.9 147.7h0M616.0 123.5h0"/>
<path stroke="#dceaf2" d="M477.1 177.0h0M508.2 158.2h0M651.6 120.7h0M751.6 134.8h0"/>
<path stroke="#e0ecf3" d="M327.3 406.7h0M452.6 195.3h0M482.1 173.6h0M497.6 164.1h0M519.0 152.8h0M535.4 145.3h0M722.7 127.3h0"/>
<path stroke="#e4eef3" d="M326.1 413.0h0M462.2 187.7h0M472.1 180.5h0M569.3 133.4h0M728.5 128.6h0M779.8 145.0h0"/>
<path stroke="#e8f0f4" d="M467.1 184.0h0M492.4 167.2h0M621.9 122.7h0"/>
<path stroke="#ecf2f5" d="M324.0 425.5h0M325.0 419.2h0M513.6 155.4h0M524.4 150.2h0M675.4 121.1h0M763.0 138.6h0"/>
<path stroke="#eff3f6" d="M598.4 126.3h0M663.5 120.7h0M693.2 122.6h0M705.0 124.2h0"/>
<path stroke="#f3f5f6" d="M592.5 127.5h0M610.1 124.3h0M633.8 121.6h0M774.2 142.8h0"/>
<path stroke="#f7b597" d="M857.9 190.9h0"/>
<path stroke="#f7f7f7" d="M575.1 131.7h0M645.7 120.9h0M699.1 123.3h0M710.9 125.1h0M745.9 133.1h0M817.7 163.7h0"/>
<path stroke="#f8f1ed" d="M552.2 138.9h0M669.5 120.9h0M687.3 122.0h0M757.3 136.7h0"/>
<path stroke="#f8f4f2" d="M557.9 136.9h0M580.9 130.2h0M657.6 120.7h0M681.4 121.5h0"/>
<path stroke="#f9c5ab" d="M881.1 210.9h0"/>
<path stroke="#f9ece4" d="M796.3 152.4h0"/>
<path stroke="#f9efe9" d="M604.2 125.3h0M716.8 126.2h0"/>
<path stroke="#facbb2" d="M898.5 228.4h0"/>
<path stroke="#fae9df" d="M541.0 143.1h0M639.7 121.2h0M768.6 140.6h0M801.7 155.1h0M807.1 157.8h0M833.2 173.1h0M862.7 194.7h0"/>
<path stroke="#fbe3d5" d="M563.6 135.1h0M843.2 180.0h0M848.2 183.5h0M885.6 215.1h0"/>
<path stroke="#fbe6da" d="M627.9 122.1h0M785.3 147.4h0M828.0 169.9h0M876.6 206.7h0"/>
<path stroke="#fcd6c0" d="M586.7 128.8h0M790.8 149.8h0M812.4 160.7h0M894.3 223.9h0"/>
<path stroke="#fcdecc" d="M734.3 130.0h0"/>
<path stroke="#fce1d1" d="M822.9 166.7h0M838.2 176.5h0M853.1 187.1h0M872.1 202.6h0"/>
<path stroke="#fddbc7" d="M546.6 140.9h0M867.4 198.6h0M890.0 219.5h0"/>
<path stroke="#a5cfe3" d="M445.7 196.2h0"/>
<path stroke="#b8d8e9" d="M441.0 200.3h0"/>
<path stroke="#bedbeb" d="M414.4 226.4h0M427.4 212.9h0"/>
<path stroke="#c4dfec" d="M354.5 315.0h0M363.2 298.0h0M366.3 292.4h0M369.5 287.0h0M386.8 260.5h0"/>
<path stroke="#cbe2ee" d="M357.3 309.2h0M360.2 303.6h0M372.8 281.5h0M379.6 270.9h0M390.5 255.4h0M394.3 250.4h0M406.1 235.8h0M418.7 221.8h0M423.0 217.3h0"/>
<path stroke="#d1e5f0" d="M341.8 344.3h0M344.1 338.3h0M349.1 326.5h0M351.8 320.7h0M376.2 276.2h0M398.1 245.4h0M431.9 208.6h0M436.4 204.4h0M741.0 127.8h0"/>
<path stroke="#d5e7f1" d="M326.6 393.3h0M329.8 380.8h0M331.6 374.6h0M335.4 362.4h0M337.4 356.3h0M346.6 332.4h0M383.1 265.7h0M402.1 240.6h0M410.2 231.0h0"/>
<path stroke="#d9e9f1" d="M328.2 387.0h0M333.4 368.5h0M339.6 350.3h0"/>
<path stroke="#dceaf2" d="M325.2 399.6h0M450.5 192.2h0M475.2 173.8h0M480.3 170.4h0M485.4 167.1h0M615.6 119.7h0M681.6 117.7h0"/>
<path stroke="#e0ecf3" d="M323.9 405.9h0M455.3 188.4h0M517.5 149.3h0"/>
<path stroke="#e4eef3" d="M460.2 184.6h0M465.1 180.9h0M534.1 141.8h0M621.6 118.9h0"/>
<path stroke="#e8f0f4" d="M322.6 412.2h0M470.1 177.3h0M490.7 163.8h0M528.6 144.2h0"/>
<path stroke="#ecf2f5" d="M320.5 424.9h0M321.5 418.6h0M495.9 160.7h0M506.6 154.8h0M523.0 146.7h0M705.5 120.4h0M752.6 131.2h0M769.8 137.0h0M803.2 151.6h0"/>
<path stroke="#eff3f6" d="M501.3 157.7h0M591.8 123.8h0M651.6 116.9h0M699.6 119.6h0M781.1 141.5h0"/>
<path stroke="#f3f5f6" d="M512.0 152.0h0M551.1 135.2h0M723.3 123.6h0M746.8 129.4h0"/>
<path stroke="#f7f7f7" d="M657.6 116.8h0M669.6 117.0h0M693.6 118.8h0M711.5 121.4h0M764.1 135.0h0"/>
<path stroke="#f8f1ed" d="M539.8 139.5h0M687.6 118.2h0M819.3 160.3h0"/>
<path stroke="#f8f4f2" d="M597.7 122.6h0M633.5 117.8h0M645.5 117.1h0M735.1 126.3h0M835.0 169.9h0"/>
<path stroke="#f9c0a4" d="M860.0 187.8h0M883.5 208.0h0"/>
<path stroke="#f9ece4" d="M603.7 121.5h0M663.6 116.9h0M717.4 122.4h0M824.6 163.4h0"/>
<path stroke="#f9efe9" d="M556.9 133.3h0M580.1 126.5h0M609.6 120.5h0M627.5 118.3h0M729.2 124.9h0M808.6 154.4h0"/>
<path stroke="#fae9df" d="M545.4 137.3h0M675.6 117.3h0M786.7 143.8h0M840.1 173.3h0"/>
<path stroke="#fbd0b9" d="M869.6 195.6h0M878.9 203.8h0M888.0 212.3h0"/>
<path stroke="#fbe3d5" d="M562.6 131.4h0M568.4 129.7h0M864.8 191.7h0"/>
<path stroke="#fbe6da" d="M639.5 117.4h0M792.2 146.3h0M845.2 176.8h0"/>
<path stroke="#fcd6c0" d="M775.4 139.2h0M874.3 199.7h0"/>
<path stroke="#fce1d1" d="M574.2 128.0h0M585.9 125.1h0M758.3 133.0h0M797.7 148.9h0M829.8 166.6h0M892.4 216.7h0M896.7 221.2h0"/>
<path stroke="#fddbc7" d="M814.0 157.3h0M850.2 180.4h0M855.1 184.0h0"/>
<path stroke="#b8d8e9" d="M434.1 201.5h0"/>
<path stroke="#bedbeb" d="M363.3 290.4h0M438.8 197.3h0M443.5 193.2h0"/>
<path stroke="#c4dfec" d="M354.2 307.4h0M360.2 296.0h0M380.3 263.4h0M391.5 248.0h0M473.3 170.5h0"/>
<path stroke="#cbe2ee" d="M351.3 313.2h0M357.1 301.7h0M366.5 284.9h0M373.2 274.0h0M376.7 268.7h0M387.7 253.0h0M416.2 219.1h0M420.6 214.6h0"/>
<path stroke="#d1e5f0" d="M328.2 373.5h0M332.0 361.1h0M345.9 324.9h0M369.8 279.4h0M383.9 258.2h0M395.4 243.0h0M403.5 233.2h0M407.6 228.4h0M425.0 210.1h0"/>
<path stroke="#d5e7f1" d="M323.2 392.3h0M326.4 379.8h0M336.3 348.9h0M338.5 342.8h0M340.9 336.8h0M343.4 330.8h0M348.6 319.0h0M458.1 181.5h0"/>
<path stroke="#d9e9f1" d="M321.7 398.7h0M324.8 386.0h0M330.0 367.3h0M334.1 355.0h0M399.4 238.0h0M411.9 223.7h0M478.4 167.1h0"/>
<path stroke="#dceaf2" d="M320.4 405.1h0M468.2 174.1h0"/>
<path stroke="#e0ecf3" d="M453.2 185.3h0M747.7 125.7h0M782.3 137.9h0M804.7 148.1h0"/>
<path stroke="#e4eef3" d="M499.6 154.3h0M651.5 113.1h0M706.0 116.6h0"/>
<path stroke="#e8f0f4" d="M319.1 411.5h0M429.5 205.8h0M463.1 177.7h0M483.6 163.8h0M510.5 148.5h0M657.6 113.0h0M730.0 121.2h0"/>
<path stroke="#ecf2f5" d="M316.0 430.8h0M317.0 424.3h0M318.0 417.9h0M448.3 189.2h0M494.2 157.4h0M505.1 151.4h0M788.0 140.3h0"/>
<path stroke="#eff3f6" d="M488.9 160.5h0M521.6 143.2h0M550.0 131.6h0M591.1 120.0h0M621.2 115.1h0M627.2 114.5h0M712.0 117.6h0M724.0 119.9h0M765.2 131.3h0"/>
<path stroke="#f3f5f6" d="M639.3 113.6h0M681.9 113.9h0M700.0 115.8h0M735.9 122.6h0"/>
<path stroke="#f7f7f7" d="M527.2 140.6h0M741.8 124.1h0M810.2 151.0h0"/>
<path stroke="#f8f1ed" d="M516.0 145.8h0M615.1 115.9h0M633.3 114.0h0M694.0 115.0h0"/>
<path stroke="#f8f4f2" d="M544.3 133.7h0M555.8 129.6h0M669.7 113.2h0"/>
<path stroke="#f9ece4" d="M603.1 117.7h0M645.4 113.3h0M675.8 113.5h0M776.7 135.6h0"/>
<path stroke="#f9efe9" d="M532.9 138.2h0M538.5 135.9h0M579.3 122.8h0M609.1 116.8h0M753.6 127.5h0"/>
<path stroke="#facbb2" d="M815.6 153.9h0M885.8 205.1h0"/>
<path stroke="#fae9df" d="M663.6 113.1h0M687.9 114.4h0M836.8 166.6h0"/>
<path stroke="#fbd0b9" d="M573.4 124.3h0M871.8 192.6h0"/>
<path stroke="#fbe3d5" d="M567.5 126.0h0M770.9 133.4h0M793.6 142.8h0M821.0 156.9h0"/>
<path stroke="#fbe6da" d="M585.2 121.4h0M831.6 163.3h0M842.0 170.0h0M867.0 188.6h0M894.8 213.9h0"/>
<path stroke="#fcd6c0" d="M876.5 196.7h0M890.4 209.5h0"/>
<path stroke="#fcdecc" d="M718.0 118.7h0M759.4 129.4h0M847.1 173.6h0M857.2 180.9h0"/>
<path stroke="#fce1d1" d="M597.1 118.8h0M826.3 160.1h0M881.2 200.9h0"/>
<path stroke="#fddbc7" d="M561.6 127.8h0M799.2 145.4h0M852.2 177.2h0M862.1 184.7h0"/>
<path stroke="#a5cfe3" d="M441.3 190.2h0"/>
<path stroke="#b2d5e7" d="M418.1 211.8h0"/>
<path stroke="#bedbeb" d="M360.3 288.5h0M377.4 261.1h0M405.1 225.8h0M436.5 194.4h0"/>
<path stroke="#c4dfec" d="M348.2 311.4h0M354.0 299.8h0M366.9 277.3h0M384.9 250.6h0M400.9 230.6h0"/>
<path stroke="#cbe2ee" d="M351.1 305.6h0M363.5 282.9h0M370.3 271.9h0M373.8 266.4h0"/>
<path stroke="#d1e5f0" d="M328.7 359.8h0M335.2 341.3h0M342.7 323.2h0M345.4 317.3h0M357.1 294.1h0M381.1 255.8h0M396.8 235.5h0M413.7 216.4h0M422.6 207.3h0"/>
<path stroke="#d5e7f1" d="M319.8 391.4h0M323.0 378.7h0M324.8 372.4h0M332.9 347.5h0M337.6 335.3h0M340.1 329.2h0M388.8 245.5h0M392.7 240.5h0M409.3 221.0h0M461.1 174.6h0"/>
<path stroke="#d9e9f1" d="M318.3 397.8h0M321.3 385.0h0M326.7 366.1h0M330.8 353.6h0"/>
<path stroke="#dceaf2" d="M316.9 404.2h0M451.1 182.2h0M471.4 167.3h0M481.9 160.5h0M487.2 157.2h0M657.6 109.2h0"/>
<path stroke="#e0ecf3" d="M431.8 198.6h0M456.1 178.3h0M466.2 170.9h0M520.2 139.7h0M712.6 113.8h0M748.6 122.1h0"/>
<path stroke="#e4eef3" d="M476.6 163.8h0M492.6 154.0h0M509.0 145.1h0M602.5 114.0h0M724.7 116.1h0M783.6 134.3h0"/>
<path stroke="#e8f0f4" d="M315.7 410.7h0M446.2 186.2h0M620.8 111.3h0M736.7 118.9h0"/>
<path stroke="#ecf2f5" d="M312.5 430.2h0M313.5 423.7h0M314.5 417.2h0M651.4 109.3h0M730.7 117.4h0"/>
<path stroke="#eff3f6" d="M503.5 148.0h0M754.5 123.8h0"/>
<path stroke="#f3f5f6" d="M427.2 202.9h0M590.5 116.3h0M688.2 110.6h0M694.3 111.2h0M700.4 112.0h0M742.7 120.4h0M777.9 132.0h0M795.0 139.3h0M806.2 144.7h0"/>
<path stroke="#f6b090" d="M572.5 120.6h0"/>
<path stroke="#f7f7f7" d="M531.6 134.7h0M669.8 109.4h0M766.3 127.7h0"/>
<path stroke="#f8f1ed" d="M498.0 150.9h0M543.1 130.1h0M554.8 126.0h0M626.9 110.7h0M639.2 109.7h0M645.3 109.5h0M663.7 109.3h0M706.5 112.8h0M760.4 125.7h0M811.7 147.5h0"/>
<path stroke="#f8f4f2" d="M514.6 142.3h0M525.9 137.1h0M548.9 128.0h0M566.5 122.3h0M596.5 115.1h0M614.7 112.1h0M633.0 110.2h0M682.1 110.1h0M828.1 156.7h0"/>
<path stroke="#f9ece4" d="M578.5 119.1h0M772.1 129.8h0M838.7 163.3h0M859.2 177.8h0"/>
<path stroke="#f9efe9" d="M718.7 114.9h0M869.1 185.6h0"/>
<path stroke="#facbb2" d="M878.8 193.8h0"/>
<path stroke="#fae9df" d="M608.6 113.0h0M676.0 109.7h0M789.3 136.8h0M800.6 141.9h0M833.4 160.0h0"/>
<path stroke="#fbd0b9" d="M874.0 189.6h0"/>
<path stroke="#fbe3d5" d="M560.6 124.1h0"/>
<path stroke="#fbe6da" d="M537.3 132.3h0M843.9 166.8h0M849.1 170.4h0M897.3 211.1h0"/>
<path stroke="#fcd6c0" d="M817.2 150.5h0"/>
<path stroke="#fcdecc" d="M822.7 153.6h0M864.2 181.6h0"/>
<path stroke="#fce1d1" d="M584.4 117.6h0M854.2 174.0h0M892.7 206.7h0"/>
<path stroke="#fddbc7" d="M883.5 198.0h0M888.2 202.3h0"/>
<path stroke="#9fcbe2" d="M439.1 187.2h0"/>
<path stroke="#abd2e5" d="M415.7 209.0h0"/>
<path stroke="#b8d8e9" d="M382.1 248.3h0M398.3 228.0h0M402.5 223.1h0"/>
<path stroke="#bedbeb" d="M363.9 275.2h0M374.6 258.8h0"/>
<path stroke="#c4dfec" d="M357.2 286.5h0M378.3 253.5h0"/>
<path stroke="#cbe2ee" d="M339.5 321.6h0M342.2 315.6h0M345.0 309.7h0M347.9 303.8h0M350.9 298.0h0M354.0 292.2h0M367.4 269.7h0M411.2 213.6h0M434.3 191.4h0"/>
<path stroke="#d1e5f0" d="M325.3 358.6h0M332.0 339.9h0M334.4 333.7h0M360.5 280.8h0M370.9 264.2h0M394.1 233.0h0M406.8 218.4h0M420.2 204.5h0"/>
<path stroke="#d5e7f1" d="M316.3 390.5h0M319.6 377.6h0M321.4 371.2h0M336.9 327.7h0M464.3 167.7h0M749.5 118.4h0M784.9 130.8h0"/>
<path stroke="#d9e9f1" d="M314.8 396.9h0M317.9 384.0h0M323.3 364.9h0M327.4 352.3h0M329.6 346.1h0M390.0 238.0h0M454.0 175.2h0"/>
<path stroke="#dceaf2" d="M313.4 403.4h0M386.0 243.1h0M474.7 160.6h0M480.1 157.2h0M518.8 136.2h0"/>
<path stroke="#e0ecf3" d="M682.4 106.3h0M725.4 112.4h0"/>
<path stroke="#e4eef3" d="M312.2 409.9h0M429.5 195.7h0M444.0 183.1h0M469.5 164.1h0M694.7 107.4h0M779.1 128.4h0"/>
<path stroke="#e8f0f4" d="M311.0 416.5h0M449.0 179.1h0"/>
<path stroke="#ecf2f5" d="M309.9 423.1h0M459.1 171.4h0M485.4 153.9h0M490.9 150.6h0M595.9 111.3h0M767.4 124.1h0"/>
<path stroke="#eff3f6" d="M309.0 429.7h0M424.8 200.0h0M501.9 144.5h0M524.5 133.6h0M589.8 112.5h0M620.4 107.5h0M632.8 106.4h0M657.6 105.4h0"/>
<path stroke="#f3f5f6" d="M651.4 105.5h0M713.2 110.0h0M737.5 115.1h0M743.5 116.7h0"/>
<path stroke="#f7f7f7" d="M547.8 124.4h0M553.7 122.3h0M707.0 109.1h0M731.5 113.7h0M796.4 135.8h0M807.7 141.2h0"/>
<path stroke="#f8f1ed" d="M663.8 105.4h0M700.9 108.2h0M813.3 144.1h0"/>
<path stroke="#f8f4f2" d="M496.4 147.5h0M530.3 131.1h0M614.3 108.3h0M645.2 105.6h0M670.0 105.6h0M719.3 111.1h0M755.5 120.2h0M790.7 133.2h0"/>
<path stroke="#f9ece4" d="M541.9 126.5h0M602.0 110.2h0M688.5 106.8h0M761.5 122.1h0M851.0 167.2h0"/>
<path stroke="#f9efe9" d="M507.5 141.6h0M513.1 138.8h0M577.6 115.4h0M639.0 105.9h0M840.5 160.1h0M845.8 163.6h0"/>
<path stroke="#facbb2" d="M876.2 186.6h0"/>
<path stroke="#fae9df" d="M608.1 109.2h0M626.6 106.9h0M829.8 153.4h0M835.2 156.7h0M856.2 170.9h0"/>
<path stroke="#fbd0b9" d="M571.6 116.9h0"/>
<path stroke="#fbe3d5" d="M536.1 128.8h0M559.6 120.4h0M676.2 105.9h0M871.3 182.5h0"/>
<path stroke="#fbe6da" d="M583.7 113.9h0M802.1 138.5h0M824.4 150.2h0"/>
<path stroke="#fcd6c0" d="M861.3 174.7h0"/>
<path stroke="#fcdecc" d="M895.1 203.8h0"/>
<path stroke="#fce1d1" d="M818.9 147.1h0M866.3 178.6h0M890.5 199.4h0"/>
<path stroke="#fddbc7" d="M565.6 118.6h0M773.3 126.2h0M881.0 190.8h0M885.8 195.1h0"/>
<path stroke="#abd2e5" d="M436.9 184.2h0"/>
<path stroke="#bedbeb" d="M379.4 245.9h0M417.8 201.7h0"/>
<path stroke="#c4dfec" d="M360.9 273.1h0M364.4 267.5h0M375.5 251.2h0M395.7 225.4h0M399.9 220.5h0M413.2 206.3h0M682.6 102.5h0"/>
<path stroke="#cbe2ee" d="M331.1 332.2h0M336.3 320.0h0M339.0 313.9h0M347.9 296.1h0M351.0 290.2h0M354.2 284.5h0M357.5 278.8h0M368.0 262.0h0M387.3 235.5h0M404.3 215.7h0"/>
<path stroke="#d1e5f0" d="M316.2 376.5h0M322.0 357.3h0M333.7 326.1h0M341.9 307.9h0M344.8 302.0h0M371.7 256.6h0M446.9 176.1h0"/>
<path stroke="#d5e7f1" d="M312.9 389.5h0M318.0 370.1h0M319.9 363.7h0M324.1 351.0h0M326.3 344.7h0M328.7 338.4h0M408.7 210.9h0M427.2 192.8h0M472.9 157.3h0"/>
<path stroke="#d9e9f1" d="M311.4 396.0h0M314.5 383.0h0M391.5 230.4h0M422.5 197.2h0M489.2 147.3h0"/>
<path stroke="#dceaf2" d="M310.0 402.6h0M383.3 240.7h0M432.0 188.5h0M441.9 180.1h0M452.0 172.1h0M797.8 132.3h0"/>
<path stroke="#e0ecf3" d="M308.7 409.2h0M462.3 164.5h0M732.2 110.0h0"/>
<path stroke="#e4eef3" d="M595.2 107.6h0M695.1 103.6h0M726.1 108.6h0M768.5 120.4h0"/>
<path stroke="#e8f0f4" d="M307.5 415.8h0M517.4 132.7h0M780.3 124.8h0M786.2 127.2h0M831.5 150.1h0"/>
<path stroke="#ecf2f5" d="M305.5 429.1h0M306.4 422.4h0M483.7 150.5h0M750.5 114.7h0M762.5 118.4h0"/>
<path stroke="#eff3f6" d="M457.1 168.3h0M467.6 160.9h0M620.0 103.7h0M738.3 111.4h0"/>
<path stroke="#f3f5f6" d="M506.0 138.2h0M511.7 135.4h0M546.7 120.7h0M558.7 116.8h0M688.8 103.0h0M826.0 146.8h0"/>
<path stroke="#f7f7f7" d="M540.8 122.9h0M626.3 103.1h0"/>
<path stroke="#f8f1ed" d="M576.8 111.6h0M607.6 105.4h0M613.8 104.5h0M657.6 101.6h0M670.1 101.8h0M707.5 105.3h0M713.7 106.3h0M756.5 116.5h0M774.4 122.6h0"/>
<path stroke="#f8f4f2" d="M478.3 153.9h0M552.7 118.7h0M582.9 110.2h0M645.0 101.8h0M719.9 107.4h0M837.0 153.4h0"/>
<path stroke="#f9c0a4" d="M878.4 183.6h0"/>
<path stroke="#f9ece4" d="M589.1 108.8h0M638.8 102.1h0M663.8 101.6h0M809.2 137.8h0M820.5 143.7h0"/>
<path stroke="#f9efe9" d="M601.4 106.4h0M701.3 104.4h0M792.0 129.7h0M847.7 160.4h0"/>
<path stroke="#fae9df" d="M500.3 141.1h0M564.7 114.9h0M632.5 102.5h0M803.5 135.0h0M853.0 164.0h0"/>
<path stroke="#fbe3d5" d="M534.9 125.2h0M651.3 101.6h0M842.4 156.8h0"/>
<path stroke="#fbe6da" d="M494.7 144.1h0M523.2 130.1h0M529.0 127.6h0M676.3 102.1h0M744.4 113.0h0M814.9 140.7h0M897.5 201.0h0"/>
<path stroke="#fcd6c0" d="M868.4 175.5h0M892.8 196.5h0"/>
<path stroke="#fcdecc" d="M570.7 113.2h0M863.3 171.6h0M873.4 179.5h0"/>
<path stroke="#fce1d1" d="M858.2 167.7h0M883.3 187.8h0M888.1 192.1h0"/>
<path stroke="#9fcbe2" d="M434.7 181.2h0"/>
<path stroke="#abd2e5" d="M415.4 198.9h0"/>
<path stroke="#bedbeb" d="M361.5 265.4h0M393.0 222.8h0M769.6 116.8h0"/>
<path stroke="#c4dfec" d="M335.9 312.2h0M358.0 271.0h0M372.7 248.9h0M376.6 243.5h0M449.9 169.0h0"/>
<path stroke="#cbe2ee" d="M333.1 318.3h0M338.7 306.2h0M365.2 259.8h0M397.4 217.9h0M401.8 213.0h0"/>
<path stroke="#d1e5f0" d="M312.8 375.4h0M314.6 368.9h0M316.6 362.5h0M318.6 356.0h0M327.9 330.7h0M330.4 324.5h0M341.7 300.1h0M344.8 294.2h0M347.9 288.3h0M351.2 282.5h0M368.9 254.3h0M384.6 233.0h0M406.2 208.2h0M410.8 203.5h0M487.5 143.9h0"/>
<path stroke="#d5e7f1" d="M309.4 388.6h0M320.8 349.6h0M323.0 343.3h0M325.4 337.0h0M354.5 276.7h0M420.1 194.3h0"/>
<path stroke="#d9e9f1" d="M306.5 401.8h0M307.9 395.2h0M380.6 238.2h0M439.7 177.1h0"/>
<path stroke="#dceaf2" d="M311.1 382.0h0M388.8 227.9h0M429.8 185.5h0M471.0 154.1h0M682.8 98.7h0M695.4 99.9h0M763.5 114.8h0"/>
<path stroke="#e0ecf3" d="M305.2 408.4h0M444.8 173.0h0M465.7 157.6h0M799.2 128.8h0"/>
<path stroke="#e4eef3" d="M424.9 189.9h0M455.1 165.1h0M545.6 117.1h0M781.5 121.3h0"/>
<path stroke="#e8f0f4" d="M304.0 415.1h0M670.2 98.0h0"/>
<path stroke="#ecf2f5" d="M302.9 421.8h0M460.4 161.3h0M594.6 103.8h0M613.4 100.7h0M726.7 104.9h0M739.1 107.7h0M833.3 146.7h0"/>
<path stroke="#eff3f6" d="M732.9 106.2h0M827.7 143.5h0"/>
<path stroke="#f3f5f6" d="M476.5 150.6h0M600.9 102.7h0M701.7 100.6h0M751.4 111.0h0"/>
<path stroke="#f7f7f7" d="M638.6 98.3h0M689.2 99.2h0M708.0 101.5h0"/>
<path stroke="#f8f1ed" d="M516.0 129.1h0M539.6 119.3h0M720.5 103.6h0M793.3 126.1h0M805.0 131.5h0M838.8 150.1h0M854.9 160.8h0"/>
<path stroke="#f8f4f2" d="M510.2 131.9h0M576.0 107.9h0M619.7 100.0h0M651.2 97.8h0M849.6 157.1h0"/>
<path stroke="#f9ece4" d="M657.6 97.8h0M663.9 97.8h0M714.3 102.5h0M787.5 123.6h0M816.4 137.3h0"/>
<path stroke="#f9efe9" d="M482.0 147.2h0M504.5 134.7h0M527.7 124.0h0M551.6 115.0h0M557.7 113.1h0M626.0 99.3h0M775.6 119.0h0"/>
<path stroke="#facbb2" d="M875.6 176.5h0M880.6 180.6h0"/>
<path stroke="#fae9df" d="M569.9 109.5h0M582.2 106.4h0M588.4 105.1h0M607.1 101.6h0M644.9 98.0h0M676.5 98.3h0M757.5 112.8h0M860.2 164.6h0M885.5 184.9h0"/>
<path stroke="#fbe3d5" d="M493.1 140.8h0M498.8 137.7h0M810.7 134.3h0M870.5 172.4h0M890.4 189.2h0"/>
<path stroke="#fbe6da" d="M533.6 121.6h0M632.3 98.7h0M745.3 109.3h0M844.2 153.6h0M865.4 168.4h0"/>
<path stroke="#fcd6c0" d="M521.8 126.5h0M895.2 193.7h0"/>
<path stroke="#fce1d1" d="M563.8 111.3h0"/>
<path stroke="#fddbc7" d="M822.1 140.3h0"/>
<path stroke="#abd2e5" d="M432.5 178.2h0"/>
<path stroke="#b2d5e7" d="M408.4 200.7h0M413.0 196.0h0"/>
<path stroke="#b8d8e9" d="M394.8 215.2h0"/>
<path stroke="#bedbeb" d="M332.7 310.5h0"/>
<path stroke="#c4dfec" d="M348.2 280.5h0M358.6 263.2h0M362.3 257.6h0M442.7 169.9h0"/>
<path stroke="#cbe2ee" d="M329.9 316.7h0M335.6 304.4h0M341.7 292.3h0M355.0 268.9h0M381.9 230.5h0"/>
<path stroke="#d1e5f0" d="M311.2 367.8h0M313.2 361.3h0M315.3 354.8h0M324.6 329.2h0M338.6 298.3h0M351.5 274.7h0M366.0 252.0h0M373.8 241.1h0M399.2 210.3h0M447.8 165.9h0"/>
<path stroke="#d5e7f1" d="M306.0 387.6h0M309.4 374.4h0M319.7 341.9h0M322.1 335.5h0M327.2 322.9h0M344.9 286.4h0M369.9 246.5h0M377.8 235.8h0M386.1 225.4h0M390.4 220.3h0M422.6 187.0h0"/>
<path stroke="#d9e9f1" d="M303.0 401.0h0M304.5 394.3h0M307.6 381.0h0M317.4 348.3h0M437.6 174.0h0M469.2 150.8h0"/>
<path stroke="#dceaf2" d="M427.5 182.5h0M638.4 94.5h0"/>
<path stroke="#e0ecf3" d="M453.1 162.0h0M733.7 102.5h0M739.9 104.0h0"/>
<path stroke="#e4eef3" d="M300.5 414.4h0M301.7 407.7h0M403.8 205.5h0M417.8 191.4h0M544.5 113.5h0M695.8 96.1h0M708.5 97.7h0M800.6 125.3h0"/>
<path stroke="#e8f0f4" d="M299.4 421.2h0M670.3 94.2h0M683.1 94.9h0M752.3 107.3h0M764.6 111.1h0M770.7 113.2h0M776.7 115.4h0M835.0 143.4h0"/>
<path stroke="#ecf2f5" d="M556.7 109.4h0M600.3 98.9h0M758.5 109.2h0"/>
<path stroke="#eff3f6" d="M474.7 147.3h0M714.8 98.7h0M782.8 117.7h0M862.2 161.4h0"/>
<path stroke="#f3f5f6" d="M485.8 140.6h0M502.9 131.3h0M657.5 93.9h0"/>
<path stroke="#f7f7f7" d="M463.8 154.4h0M538.4 115.7h0M569.0 105.8h0M702.2 96.8h0M829.4 140.1h0"/>
<path stroke="#f8f1ed" d="M520.5 123.0h0M550.6 111.4h0M625.6 95.5h0M676.7 94.5h0M727.4 101.1h0M851.5 153.9h0"/>
<path stroke="#f8f4f2" d="M491.5 137.4h0M587.7 101.3h0M606.6 97.9h0M619.3 96.2h0M806.4 128.0h0M812.2 130.9h0M818.0 133.8h0"/>
<path stroke="#f9ece4" d="M480.2 143.9h0M497.2 134.3h0M581.5 102.7h0M746.1 105.6h0M840.5 146.8h0M887.8 181.9h0"/>
<path stroke="#f9efe9" d="M458.4 158.1h0M508.7 128.4h0M594.0 100.0h0M644.8 94.2h0M651.2 94.0h0M663.9 94.0h0M689.5 95.4h0M794.7 122.6h0"/>
<path stroke="#fae9df" d="M532.4 118.0h0M612.9 97.0h0M788.7 120.1h0M867.4 165.3h0"/>
<path stroke="#fbe3d5" d="M856.8 157.6h0"/>
<path stroke="#fbe6da" d="M823.7 136.9h0"/>
<path stroke="#fcdecc" d="M632.0 94.9h0M877.7 173.4h0"/>
<path stroke="#fce1d1" d="M514.6 125.6h0M526.4 120.4h0M562.8 107.6h0M575.2 104.2h0M721.1 99.9h0M846.0 150.3h0M882.8 177.6h0M892.7 186.3h0"/>
<path stroke="#fddbc7" d="M872.6 169.3h0M897.5 190.8h0"/>
<path stroke="#abd2e5" d="M392.2 212.6h0"/>
<path stroke="#b8d8e9" d="M396.7 207.6h0M435.4 171.0h0"/>
<path stroke="#c4dfec" d="M345.1 278.5h0M352.1 266.8h0M383.5 222.8h0M405.9 197.9h0M440.6 166.8h0"/>
<path stroke="#cbe2ee" d="M326.7 315.0h0M329.5 308.8h0M335.5 296.5h0M338.6 290.4h0M348.5 272.6h0M355.7 261.0h0M359.4 255.4h0M410.6 193.2h0"/>
<path stroke="#d1e5f0" d="M307.8 366.7h0M311.9 353.5h0M316.4 340.5h0M321.3 327.7h0M332.4 302.6h0M363.2 249.8h0M367.1 244.2h0M375.1 233.4h0M430.3 175.2h0"/>
<path stroke="#d5e7f1" d="M302.6 386.7h0M306.0 373.3h0M309.8 360.1h0M318.8 334.1h0M324.0 321.3h0M341.8 284.4h0M371.0 238.8h0M379.2 228.1h0"/>
<path stroke="#d9e9f1" d="M299.6 400.2h0M301.0 393.4h0M304.2 380.0h0M314.1 347.0h0M415.5 188.6h0M451.1 158.8h0"/>
<path stroke="#dceaf2" d="M401.3 202.7h0M740.7 100.3h0"/>
<path stroke="#e0ecf3" d="M298.2 406.9h0M387.8 217.7h0M425.3 179.6h0"/>
<path stroke="#e4eef3" d="M297.0 413.8h0M420.3 184.0h0M537.2 112.1h0M599.7 95.1h0M618.9 92.4h0M715.4 95.0h0M765.6 107.5h0"/>
<path stroke="#e8f0f4" d="M295.9 420.6h0M445.8 162.8h0M555.7 105.8h0M709.0 93.9h0M759.4 105.5h0"/>
<path stroke="#ecf2f5" d="M461.9 151.2h0M696.2 92.3h0M734.4 98.8h0M753.2 103.6h0M771.8 109.6h0"/>
<path stroke="#eff3f6" d="M467.4 147.5h0M721.7 96.1h0M784.0 114.1h0M819.6 130.4h0M836.7 140.1h0"/>
<path stroke="#f3f5f6" d="M543.4 109.9h0M657.5 90.1h0M670.4 90.3h0M777.9 111.8h0M802.0 121.7h0M831.0 136.7h0"/>
<path stroke="#f7f7f7" d="M501.4 127.8h0M593.4 96.3h0M638.2 90.7h0M796.0 119.1h0"/>
<path stroke="#f8f1ed" d="M472.9 144.0h0M519.1 119.5h0M702.6 93.0h0M790.0 116.5h0"/>
<path stroke="#f8f4f2" d="M549.5 107.8h0M606.1 94.1h0M625.3 91.7h0M683.3 91.1h0M728.1 97.4h0M813.7 127.4h0"/>
<path stroke="#f9ece4" d="M478.5 140.5h0M489.9 134.0h0M651.1 90.2h0M676.9 90.6h0M747.0 101.9h0M858.8 154.4h0M869.5 162.2h0"/>
<path stroke="#f9efe9" d="M484.2 137.2h0M507.3 124.9h0M525.1 116.9h0M568.1 102.1h0M612.5 93.2h0M644.6 90.4h0M664.0 90.2h0M807.9 124.5h0M842.3 143.5h0M890.0 179.0h0"/>
<path stroke="#fae9df" d="M456.5 155.0h0M495.6 130.8h0M531.2 114.4h0M587.0 97.6h0M689.8 91.6h0M874.7 166.2h0"/>
<path stroke="#fbe3d5" d="M825.3 133.5h0M847.9 147.0h0M853.4 150.7h0M879.9 170.4h0M885.0 174.6h0"/>
<path stroke="#fbe6da" d="M513.2 122.1h0M561.9 103.9h0M864.2 158.2h0"/>
<path stroke="#fcdecc" d="M631.8 91.1h0"/>
<path stroke="#fce1d1" d="M580.7 99.0h0M895.0 183.4h0"/>
<path stroke="#fddbc7" d="M574.4 100.5h0"/>
<path stroke="#b2d5e7" d="M403.5 195.2h0"/>
<path stroke="#b8d8e9" d="M380.8 220.3h0"/>
<path stroke="#c4dfec" d="M326.3 307.1h0M342.1 276.5h0M349.1 264.7h0M428.1 172.3h0M433.2 168.0h0"/>
<path stroke="#cbe2ee" d="M323.5 313.4h0M329.3 300.9h0M335.5 288.6h0M345.6 270.6h0M356.5 253.1h0M389.6 210.0h0M394.2 205.0h0"/>
<path stroke="#d1e5f0" d="M306.5 358.9h0M308.6 352.2h0M320.7 319.8h0M332.3 294.7h0M338.7 282.5h0M372.4 230.9h0M376.5 225.6h0M413.1 185.7h0"/>
<path stroke="#d5e7f1" d="M299.1 385.7h0M302.6 372.2h0M304.5 365.5h0M313.1 339.1h0M315.5 332.6h0M318.1 326.2h0M360.3 247.5h0M364.2 241.9h0M368.3 236.4h0M385.2 215.1h0M408.3 190.4h0"/>
<path stroke="#d9e9f1" d="M296.1 399.3h0M300.8 379.0h0M310.8 345.6h0M352.7 258.9h0"/>
<path stroke="#dceaf2" d="M294.8 406.2h0M297.6 392.5h0M398.8 200.0h0M418.0 181.1h0M438.5 163.8h0"/>
<path stroke="#e0ecf3" d="M449.1 155.7h0M460.0 148.0h0M741.5 96.5h0"/>
<path stroke="#e4eef3" d="M293.5 413.1h0M592.7 92.5h0M735.1 95.0h0M754.1 99.9h0M779.1 108.2h0"/>
<path stroke="#e8f0f4" d="M292.4 420.0h0M760.4 101.8h0M785.2 110.5h0M838.4 136.7h0M844.1 140.2h0"/>
<path stroke="#ecf2f5" d="M423.0 176.6h0M465.5 144.3h0M536.1 108.5h0M683.6 87.3h0M772.9 105.9h0M832.7 133.4h0"/>
<path stroke="#eff3f6" d="M517.8 115.9h0M523.9 113.3h0M638.0 86.9h0M703.0 89.3h0M709.5 90.2h0M791.3 113.0h0M809.3 121.0h0M821.1 127.0h0"/>
<path stroke="#f3f5f6" d="M443.7 159.7h0M605.6 90.3h0M625.0 87.9h0M657.5 86.3h0M696.6 88.5h0M766.7 103.8h0M797.3 115.5h0M803.4 118.2h0"/>
<path stroke="#f7f7f7" d="M454.5 151.8h0M644.5 86.6h0M722.4 92.4h0M747.8 98.2h0"/>
<path stroke="#f8bb9e" d="M573.6 96.8h0"/>
<path stroke="#f8f1ed" d="M505.8 121.4h0M548.5 104.1h0M554.7 102.1h0M612.1 89.4h0M618.5 88.6h0M651.0 86.4h0M670.6 86.5h0M728.8 93.6h0"/>
<path stroke="#f8f4f2" d="M471.1 140.7h0M542.3 106.2h0M664.1 86.4h0M815.3 123.9h0"/>
<path stroke="#f9ece4" d="M476.8 137.2h0M494.0 127.4h0M715.9 91.2h0M849.7 143.8h0M860.7 151.2h0M882.0 167.3h0"/>
<path stroke="#f9efe9" d="M499.9 124.4h0M599.2 91.4h0M887.2 171.6h0M892.3 176.0h0"/>
<path stroke="#fae9df" d="M567.3 98.4h0M580.0 95.2h0M690.1 87.8h0M876.8 163.2h0"/>
<path stroke="#fbd0b9" d="M561.0 100.2h0"/>
<path stroke="#fbe3d5" d="M511.8 118.6h0M827.0 130.1h0M866.2 155.1h0M871.5 159.1h0"/>
<path stroke="#fbe6da" d="M488.2 130.6h0M586.3 93.8h0M897.3 180.5h0"/>
<path stroke="#fcdecc" d="M631.5 87.3h0M677.1 86.8h0M855.3 147.4h0"/>
<path stroke="#fce1d1" d="M482.5 133.8h0M529.9 110.8h0"/>
<path stroke="#9fcbe2" d="M401.0 192.4h0"/>
<path stroke="#b8d8e9" d="M378.2 217.8h0"/>
<path stroke="#bedbeb" d="M361.4 239.6h0M391.6 202.3h0"/>
<path stroke="#c4dfec" d="M323.1 305.4h0M329.2 292.9h0M342.6 268.5h0M346.1 262.6h0M369.6 228.5h0"/>
<path stroke="#cbe2ee" d="M320.3 311.8h0M326.1 299.1h0M332.4 286.7h0M335.7 280.6h0M339.1 274.5h0M425.9 169.3h0M447.1 152.5h0"/>
<path stroke="#d1e5f0" d="M305.2 351.0h0M309.8 337.7h0M353.6 250.9h0M357.5 245.2h0M365.5 234.0h0M382.6 212.5h0M387.1 207.4h0M396.3 197.3h0"/>
<path stroke="#d5e7f1" d="M295.7 384.8h0M299.2 371.1h0M301.1 364.4h0M303.1 357.6h0M307.5 344.3h0M312.3 331.2h0M314.8 324.6h0M317.5 318.2h0M349.8 256.7h0M405.9 187.6h0M410.8 182.9h0M452.5 148.6h0"/>
<path stroke="#d9e9f1" d="M292.6 398.5h0M297.4 377.9h0M373.9 223.1h0"/>
<path stroke="#dceaf2" d="M294.1 391.6h0M810.8 117.5h0M834.4 130.0h0"/>
<path stroke="#e0ecf3" d="M291.3 405.4h0M431.1 164.9h0M436.4 160.7h0M710.0 86.4h0"/>
<path stroke="#e4eef3" d="M288.9 419.4h0M290.0 412.4h0M415.7 178.2h0M755.1 96.3h0M761.4 98.1h0M780.2 104.5h0"/>
<path stroke="#e8f0f4" d="M420.8 173.7h0M592.1 88.8h0M774.0 102.3h0M798.7 112.0h0"/>
<path stroke="#ecf2f5" d="M534.9 104.9h0M605.1 86.5h0M683.8 83.4h0M703.5 85.5h0M723.0 88.6h0M729.4 89.9h0M804.8 114.7h0"/>
<path stroke="#eff3f6" d="M458.1 144.7h0M463.7 141.0h0M492.5 124.0h0M657.5 82.5h0M742.3 92.8h0M792.6 109.4h0"/>
<path stroke="#f3f5f6" d="M637.8 83.1h0M767.7 100.2h0M822.7 123.5h0"/>
<path stroke="#f7f7f7" d="M516.5 112.4h0M585.6 90.1h0M624.7 84.1h0M670.7 82.7h0M735.9 91.3h0M786.4 106.9h0"/>
<path stroke="#f8f1ed" d="M498.4 120.9h0M528.7 107.3h0M541.1 102.6h0M579.2 91.5h0M618.2 84.8h0M631.3 83.5h0"/>
<path stroke="#f8f4f2" d="M441.7 156.5h0M469.3 137.4h0M644.4 82.8h0M651.0 82.6h0M664.1 82.5h0M696.9 84.7h0M816.8 120.5h0M840.2 133.4h0M845.9 136.9h0"/>
<path stroke="#f9efe9" d="M504.4 118.0h0M522.6 109.8h0M566.4 94.7h0M884.2 164.3h0"/>
<path stroke="#fae9df" d="M547.4 100.5h0M611.6 85.6h0M690.4 84.0h0M748.7 94.5h0M828.6 126.7h0"/>
<path stroke="#fbe3d5" d="M862.7 148.0h0M889.4 168.6h0M894.5 173.1h0"/>
<path stroke="#fbe6da" d="M475.0 133.9h0M553.7 98.4h0M598.6 87.6h0M677.3 83.0h0M868.2 151.9h0M878.9 160.1h0"/>
<path stroke="#fcd6c0" d="M857.1 144.2h0M873.6 156.0h0"/>
<path stroke="#fcdecc" d="M716.5 87.4h0M851.5 140.5h0"/>
<path stroke="#fce1d1" d="M486.6 127.2h0M510.4 115.1h0M560.0 96.5h0M572.8 93.1h0"/>
<path stroke="#fddbc7" d="M480.8 130.5h0"/>
<path stroke="#bedbeb" d="M393.8 194.6h0M398.6 189.6h0M403.5 184.8h0"/>
<path stroke="#c4dfec" d="M317.1 310.1h0M320.0 303.7h0M336.0 272.5h0M350.7 248.7h0M358.6 237.2h0"/>
<path stroke="#cbe2ee" d="M326.1 291.0h0M329.3 284.8h0M332.6 278.6h0M339.6 266.5h0M343.2 260.5h0M354.6 242.9h0M362.7 231.6h0M366.9 226.1h0M384.5 204.7h0M389.1 199.6h0"/>
<path stroke="#d1e5f0" d="M301.9 349.7h0M306.5 336.3h0M311.6 323.1h0M323.0 297.4h0M380.0 209.9h0M423.7 166.3h0"/>
<path stroke="#d5e7f1" d="M289.2 397.7h0M292.2 383.8h0M297.7 363.2h0M299.7 356.4h0M304.1 343.0h0M309.0 329.7h0M314.3 316.6h0M346.9 254.6h0M375.5 215.2h0M434.3 157.6h0"/>
<path stroke="#d9e9f1" d="M290.6 390.8h0M293.9 376.9h0M295.8 370.1h0M371.2 220.6h0M723.6 84.8h0M781.4 100.9h0"/>
<path stroke="#dceaf2" d="M285.4 418.7h0M286.6 411.7h0M287.8 404.7h0M408.4 180.0h0M418.5 170.7h0M710.5 82.6h0"/>
<path stroke="#e0ecf3" d="M578.5 87.8h0M591.5 85.0h0M762.4 94.5h0M775.1 98.7h0M793.8 105.8h0"/>
<path stroke="#e4eef3" d="M413.4 175.3h0M428.9 161.9h0M604.6 82.7h0M631.0 79.7h0"/>
<path stroke="#e8f0f4" d="M445.1 149.4h0M644.3 78.9h0M800.0 108.5h0"/>
<path stroke="#ecf2f5" d="M585.0 86.3h0M611.2 81.8h0M650.9 78.7h0M818.3 117.0h0"/>
<path stroke="#eff3f6" d="M456.2 141.5h0M515.1 108.9h0M657.5 78.7h0M670.8 78.9h0M703.9 81.7h0M730.1 86.1h0M756.0 92.6h0M836.1 126.6h0"/>
<path stroke="#f3f5f6" d="M439.6 153.4h0M533.7 101.3h0M565.5 91.0h0M749.6 90.8h0M812.2 114.1h0"/>
<path stroke="#f7f7f7" d="M450.6 145.4h0M527.5 103.7h0M677.4 79.2h0M736.6 87.6h0"/>
<path stroke="#f8f1ed" d="M490.9 120.6h0M598.0 83.8h0M690.7 80.2h0M697.3 80.9h0M743.1 89.1h0M847.7 133.6h0M870.1 148.8h0"/>
<path stroke="#f8f4f2" d="M521.3 106.2h0M552.7 94.8h0M637.6 79.3h0M684.1 79.6h0M768.7 96.5h0M787.6 103.3h0M824.3 120.1h0M881.0 157.0h0"/>
<path stroke="#f9ece4" d="M461.8 137.8h0M467.5 134.1h0M473.3 130.6h0M502.9 114.5h0M617.8 81.0h0M806.1 111.2h0M886.3 161.3h0M896.8 170.1h0"/>
<path stroke="#f9efe9" d="M540.0 99.0h0M572.0 89.3h0M664.2 78.7h0M841.9 130.1h0M859.0 141.0h0"/>
<path stroke="#fae9df" d="M496.9 117.5h0M624.4 80.3h0M830.2 123.3h0"/>
<path stroke="#fbd0b9" d="M875.6 152.8h0"/>
<path stroke="#fbe3d5" d="M864.6 144.8h0"/>
<path stroke="#fbe6da" d="M479.1 127.1h0"/>
<path stroke="#fcdecc" d="M559.1 92.8h0M717.0 83.7h0"/>
<path stroke="#fce1d1" d="M485.0 123.8h0M509.0 111.6h0M546.4 96.8h0M853.4 137.2h0M891.6 165.6h0"/>
<path stroke="#b8d8e9" d="M381.9 202.1h0"/>
<path stroke="#bedbeb" d="M347.8 246.5h0"/>
<path stroke="#c4dfec" d="M316.8 302.0h0M326.2 282.9h0M333.0 270.5h0M355.8 234.9h0M401.1 181.9h0"/>
<path stroke="#cbe2ee" d="M303.2 334.9h0M313.9 308.5h0M319.8 295.6h0M323.0 289.2h0M329.6 276.7h0M340.2 258.4h0M351.8 240.7h0M359.9 229.2h0M396.2 186.8h0M711.0 78.8h0"/>
<path stroke="#d1e5f0" d="M294.3 362.1h0M298.5 348.4h0M300.8 341.7h0M391.3 191.8h0"/>
<path stroke="#d5e7f1" d="M285.7 396.9h0M288.8 382.9h0M296.4 355.2h0M305.7 328.2h0M308.3 321.6h0M336.6 264.4h0M364.1 223.6h0M368.5 218.1h0M372.9 212.7h0M377.3 207.4h0M406.1 177.1h0M421.5 163.3h0M724.2 81.1h0"/>
<path stroke="#d9e9f1" d="M287.2 389.9h0M290.5 375.9h0M292.3 369.0h0M311.0 315.0h0M386.6 196.9h0M756.9 88.9h0"/>
<path stroke="#dceaf2" d="M281.9 418.1h0M283.1 411.0h0M284.3 403.9h0M344.0 252.4h0M630.7 75.9h0"/>
<path stroke="#e0ecf3" d="M411.1 172.4h0M782.5 97.3h0M819.8 113.6h0"/>
<path stroke="#e4eef3" d="M416.3 167.8h0M432.1 154.5h0M763.4 90.8h0M801.4 104.9h0"/>
<path stroke="#e8f0f4" d="M577.7 84.0h0M604.1 79.0h0M670.9 75.1h0M730.8 82.4h0M750.4 87.1h0M837.7 123.3h0M872.1 145.6h0"/>
<path stroke="#ecf2f5" d="M426.8 158.9h0M644.1 75.1h0M769.8 92.9h0M807.5 107.7h0"/>
<path stroke="#eff3f6" d="M443.1 146.2h0M776.2 95.0h0M788.8 99.7h0"/>
<path stroke="#f3f5f6" d="M437.6 150.3h0M471.5 127.2h0M571.2 85.6h0M637.4 75.4h0M657.5 74.9h0M684.3 75.8h0M697.7 77.1h0M795.1 102.3h0M813.7 110.6h0M825.8 116.7h0"/>
<path stroke="#f7f7f7" d="M617.4 77.2h0M624.1 76.5h0M831.8 119.9h0"/>
<path stroke="#f8f1ed" d="M483.4 120.4h0M526.3 100.1h0M584.3 82.6h0M664.2 74.9h0M737.4 83.8h0"/>
<path stroke="#f8f4f2" d="M520.0 102.7h0M532.6 97.7h0M590.9 81.3h0M650.8 74.9h0M704.3 77.9h0M860.9 137.7h0M866.6 141.6h0M888.5 158.2h0"/>
<path stroke="#f9ece4" d="M460.0 134.5h0M495.4 114.0h0M551.7 91.1h0M564.7 87.3h0M610.7 78.0h0M849.5 130.3h0M883.1 153.9h0"/>
<path stroke="#f9efe9" d="M489.3 117.2h0M513.8 105.3h0M597.5 80.1h0M743.9 85.4h0"/>
<path stroke="#fae9df" d="M448.6 142.2h0M501.5 111.0h0M677.6 75.4h0"/>
<path stroke="#fbd0b9" d="M507.6 108.1h0"/>
<path stroke="#fbe3d5" d="M454.3 138.3h0M691.0 76.4h0"/>
<path stroke="#fbe6da" d="M465.7 130.8h0M538.9 95.4h0"/>
<path stroke="#fcdecc" d="M477.4 123.8h0M877.7 149.7h0"/>
<path stroke="#fce1d1" d="M545.3 93.2h0M843.6 126.7h0M855.2 134.0h0M893.8 162.6h0"/>
<path stroke="#fddbc7" d="M558.2 89.2h0M717.6 79.9h0"/>
<path stroke="#b8d8e9" d="M388.8 189.1h0"/>
<path stroke="#bedbeb" d="M344.9 244.3h0M384.1 194.2h0"/>
<path stroke="#c4dfec" d="M319.8 287.4h0M326.5 274.8h0"/>
<path stroke="#cbe2ee" d="M295.2 347.2h0M310.6 306.8h0M313.6 300.3h0M316.7 293.8h0M323.1 281.0h0M330.0 268.5h0M357.1 226.9h0M365.8 215.7h0M370.2 210.2h0M403.7 174.3h0M419.3 160.3h0"/>
<path stroke="#d1e5f0" d="M290.9 361.0h0M297.5 340.3h0M299.9 333.5h0M305.1 320.1h0M333.6 262.4h0M337.3 256.3h0M348.9 238.4h0M379.4 199.5h0M393.7 184.1h0M398.7 179.1h0M757.8 85.2h0"/>
<path stroke="#d5e7f1" d="M293.0 354.0h0M302.4 326.8h0M341.0 250.2h0M353.0 232.6h0M374.7 204.8h0M802.7 101.4h0"/>
<path stroke="#d9e9f1" d="M278.4 417.5h0M280.8 403.2h0M282.2 396.1h0M283.7 389.0h0M285.4 381.9h0M288.9 367.9h0M307.8 313.4h0"/>
<path stroke="#dceaf2" d="M279.6 410.3h0M287.1 374.9h0M361.4 221.2h0M671.0 71.3h0M724.8 77.3h0M764.3 87.1h0"/>
<path stroke="#e0ecf3" d="M408.8 169.5h0M414.0 164.8h0M617.0 73.4h0M684.6 72.0h0"/>
<path stroke="#e4eef3" d="M751.3 83.4h0M815.1 107.1h0M821.3 110.1h0M874.1 142.5h0"/>
<path stroke="#e8f0f4" d="M603.6 75.2h0M839.4 119.9h0"/>
<path stroke="#ecf2f5" d="M435.5 147.2h0M441.1 143.1h0M596.9 76.3h0M704.8 74.1h0M833.4 116.5h0"/>
<path stroke="#eff3f6" d="M424.6 155.8h0M577.0 80.3h0M590.2 77.5h0"/>
<path stroke="#f3f5f6" d="M691.3 72.6h0M698.0 73.3h0"/>
<path stroke="#f7f7f7" d="M430.0 151.5h0M525.0 96.5h0M650.8 71.1h0M677.8 71.6h0M711.5 75.0h0M777.3 91.4h0M796.4 98.7h0"/>
<path stroke="#f8f1ed" d="M469.8 123.9h0M531.4 94.1h0M630.5 72.1h0M731.5 78.6h0M738.1 80.1h0M790.1 96.2h0M827.4 113.3h0M845.4 123.4h0M862.8 134.5h0"/>
<path stroke="#f8f4f2" d="M518.7 99.1h0M570.4 81.9h0M770.8 89.2h0M808.9 104.2h0M851.2 127.0h0M885.2 150.8h0"/>
<path stroke="#f9ece4" d="M493.9 110.6h0M506.2 104.6h0M550.7 87.4h0M657.5 71.0h0M857.1 130.7h0M879.7 146.6h0"/>
<path stroke="#f9efe9" d="M446.7 139.0h0M500.0 107.5h0M512.4 101.8h0M537.8 91.7h0M563.8 83.6h0M610.3 74.2h0M623.7 72.7h0M718.2 76.1h0M744.7 81.7h0M868.5 138.4h0"/>
<path stroke="#fae9df" d="M557.2 85.5h0M583.6 78.8h0M637.2 71.6h0M644.0 71.3h0M783.7 93.7h0"/>
<path stroke="#fbe3d5" d="M452.4 135.1h0M481.7 117.0h0M664.3 71.1h0M896.0 159.6h0"/>
<path stroke="#fbe6da" d="M458.1 131.2h0M487.8 113.7h0M890.6 155.2h0"/>
<path stroke="#fcd6c0" d="M475.7 120.4h0"/>
<path stroke="#fcdecc" d="M544.3 89.5h0"/>
<path stroke="#fce1d1" d="M463.9 127.5h0"/>
<path stroke="#bedbeb" d="M342.0 242.1h0M358.7 218.8h0"/>
<path stroke="#c4dfec" d="M316.7 285.6h0M320.0 279.2h0M330.6 260.3h0M346.0 236.1h0M354.4 224.5h0M367.5 207.6h0M372.1 202.2h0M376.8 196.8h0"/>
<path stroke="#cbe2ee" d="M310.4 298.6h0M327.0 266.5h0M334.3 254.1h0M338.1 248.1h0M363.1 213.2h0M386.4 186.4h0M705.2 70.3h0"/>
<path stroke="#d1e5f0" d="M287.5 359.8h0M291.8 345.9h0M296.6 332.1h0M299.1 325.3h0M301.8 318.6h0M307.4 305.2h0M313.5 292.1h0M323.4 272.8h0M401.4 171.4h0"/>
<path stroke="#d5e7f1" d="M289.6 352.8h0M294.1 339.0h0M304.6 311.9h0M350.2 230.3h0M417.1 157.3h0"/>
<path stroke="#d9e9f1" d="M274.9 416.9h0M276.1 409.7h0M277.4 402.4h0M278.8 395.3h0M280.3 388.1h0M281.9 381.0h0M285.5 366.8h0M804.0 97.9h0"/>
<path stroke="#dceaf2" d="M283.7 373.9h0M391.3 181.3h0M396.3 176.3h0M556.3 81.8h0"/>
<path stroke="#e0ecf3" d="M671.2 67.5h0M684.8 68.2h0"/>
<path stroke="#e4eef3" d="M381.5 191.6h0M406.5 166.6h0M725.4 73.6h0M765.3 83.5h0M797.7 95.2h0"/>
<path stroke="#e8f0f4" d="M576.2 76.6h0M691.6 68.8h0M816.6 103.6h0M822.8 106.7h0"/>
<path stroke="#ecf2f5" d="M732.2 74.9h0M752.1 79.7h0"/>
<path stroke="#eff3f6" d="M433.5 144.1h0M569.6 78.2h0M589.6 73.7h0M664.3 67.3h0M678.0 67.8h0M712.0 71.3h0M778.4 87.8h0M835.0 113.1h0M876.1 139.3h0"/>
<path stroke="#f3f5f6" d="M511.1 98.3h0M596.3 72.5h0M616.6 69.6h0M650.7 67.3h0M698.4 69.5h0M738.8 76.4h0M758.8 81.5h0M791.3 92.6h0M828.9 109.8h0M841.1 116.5h0"/>
<path stroke="#f7f7f7" d="M411.8 161.9h0M422.5 152.8h0M427.9 148.4h0M603.1 71.4h0M637.0 67.8h0M718.7 72.3h0M771.9 85.6h0M810.3 100.7h0"/>
<path stroke="#f8f1ed" d="M444.7 135.8h0M609.9 70.4h0M630.2 68.3h0M745.5 78.0h0M887.3 147.8h0"/>
<path stroke="#f8f4f2" d="M439.1 139.9h0M523.8 92.9h0"/>
<path stroke="#f9ece4" d="M643.9 67.5h0M657.5 67.2h0M784.9 90.1h0M853.0 123.7h0M892.8 152.1h0"/>
<path stroke="#f9efe9" d="M468.1 120.6h0M530.2 90.5h0M582.9 75.1h0M847.1 120.1h0M870.4 135.2h0M881.7 143.5h0"/>
<path stroke="#fae9df" d="M492.3 107.1h0M562.9 79.9h0M623.4 68.9h0M858.9 127.4h0M864.7 131.3h0M898.2 156.6h0"/>
<path stroke="#fbe3d5" d="M456.3 128.0h0M462.1 124.2h0M517.4 95.5h0M543.2 85.9h0"/>
<path stroke="#fbe6da" d="M536.7 88.1h0M549.7 83.8h0"/>
<path stroke="#fcd6c0" d="M450.5 131.8h0M480.1 113.6h0"/>
<path stroke="#fcdecc" d="M474.1 117.0h0M504.8 101.1h0"/>
<path stroke="#fce1d1" d="M486.2 110.3h0M498.5 104.0h0"/>
<path stroke="#b2d5e7" d="M369.5 199.6h0"/>
<path stroke="#bedbeb" d="M323.9 264.5h0M327.6 258.3h0M339.1 239.8h0"/>
<path stroke="#c4dfec" d="M304.2 303.6h0M316.9 277.3h0M343.2 233.8h0M351.6 222.1h0M364.9 205.1h0M404.2 163.7h0M685.0 64.4h0"/>
<path stroke="#cbe2ee" d="M295.9 323.9h0M301.3 310.3h0M360.4 210.7h0M374.2 194.2h0"/>
<path stroke="#d1e5f0" d="M284.1 358.7h0M288.5 344.6h0M290.8 337.7h0M293.3 330.7h0M298.5 317.1h0M307.3 296.9h0M310.4 290.3h0M313.6 283.8h0M320.4 270.9h0M331.3 252.0h0M335.2 245.9h0M393.9 173.5h0M399.0 168.5h0"/>
<path stroke="#d5e7f1" d="M275.3 394.4h0M278.5 380.0h0M282.1 365.8h0M286.2 351.6h0"/>
<path stroke="#d9e9f1" d="M271.4 416.3h0M272.6 409.0h0M273.9 401.7h0M276.8 387.2h0M347.3 227.9h0M719.3 68.6h0"/>
<path stroke="#dceaf2" d="M280.2 372.9h0M355.9 216.4h0M691.9 65.0h0"/>
<path stroke="#e0ecf3" d="M425.8 145.3h0M779.5 84.2h0M805.4 94.3h0"/>
<path stroke="#e4eef3" d="M379.0 188.9h0M388.8 178.5h0M726.1 69.8h0M799.0 91.6h0"/>
<path stroke="#e8f0f4" d="M383.9 183.7h0M414.9 154.3h0M623.1 65.1h0M698.8 65.7h0M705.6 66.5h0M824.3 103.2h0"/>
<path stroke="#ecf2f5" d="M555.4 78.1h0M753.0 76.0h0M883.8 140.4h0"/>
<path stroke="#eff3f6" d="M509.7 94.7h0M772.9 81.9h0M830.5 106.4h0M848.8 116.7h0"/>
<path stroke="#f3f5f6" d="M409.5 158.9h0M431.4 141.0h0M602.6 67.6h0M739.6 72.6h0"/>
<path stroke="#f7f7f7" d="M595.8 68.7h0M636.9 64.0h0M650.6 63.5h0M712.5 67.5h0M732.8 71.2h0M759.7 77.8h0M818.0 100.1h0M836.7 109.7h0M854.8 120.4h0"/>
<path stroke="#f8f1ed" d="M420.3 149.8h0M582.2 71.4h0M657.5 63.4h0M842.8 113.2h0M889.4 144.7h0M894.9 149.1h0"/>
<path stroke="#f8f4f2" d="M529.1 86.9h0M568.7 74.5h0M671.3 63.6h0M678.2 64.0h0M860.7 124.2h0M866.6 128.0h0"/>
<path stroke="#f9ece4" d="M516.1 92.0h0M522.6 89.4h0M766.3 79.8h0M872.4 132.0h0"/>
<path stroke="#f9efe9" d="M437.1 136.7h0M575.5 72.9h0M792.5 89.0h0M878.1 136.1h0"/>
<path stroke="#fae9df" d="M442.8 132.6h0M466.3 117.2h0M472.4 113.7h0M490.8 103.7h0M589.0 70.0h0M664.4 63.5h0M746.3 74.2h0"/>
<path stroke="#fbe3d5" d="M448.6 128.6h0M478.5 110.2h0M484.6 106.9h0M497.1 100.6h0M643.7 63.7h0M811.7 97.2h0"/>
<path stroke="#fbe6da" d="M454.4 124.7h0M542.2 82.2h0M562.1 76.2h0M630.0 64.5h0M786.0 86.5h0"/>
<path stroke="#fcd6c0" d="M460.4 120.9h0M616.3 65.8h0"/>
<path stroke="#fcdecc" d="M535.6 84.5h0"/>
<path stroke="#fddbc7" d="M503.4 97.6h0M548.8 80.1h0M609.4 66.7h0"/>
<path stroke="#a5cfe3" d="M371.6 191.6h0"/>
<path stroke="#bedbeb" d="M320.9 262.5h0M357.7 208.2h0M366.9 197.0h0"/>
<path stroke="#c4dfec" d="M307.2 288.6h0M310.5 282.0h0M313.9 275.4h0M324.6 256.2h0M348.8 219.7h0"/>
<path stroke="#cbe2ee" d="M301.0 301.9h0M328.4 249.9h0M344.5 225.6h0M362.2 202.6h0M685.3 60.6h0M825.8 99.8h0"/>
<path stroke="#d1e5f0" d="M278.7 364.7h0M280.7 357.5h0M285.1 343.4h0M290.0 329.3h0M298.1 308.7h0M304.1 295.2h0M317.3 268.9h0M332.3 243.7h0"/>
<path stroke="#d5e7f1" d="M271.8 393.6h0M282.9 350.4h0M287.5 336.3h0M292.6 322.4h0M295.3 315.5h0M353.2 213.9h0M376.5 186.2h0M391.5 170.7h0M401.9 160.8h0M806.7 90.8h0"/>
<path stroke="#d9e9f1" d="M267.9 415.6h0M269.1 408.3h0M273.4 386.3h0M275.0 379.1h0M336.3 237.6h0M396.7 165.7h0M719.8 64.8h0M838.3 106.3h0"/>
<path stroke="#dceaf2" d="M270.4 400.9h0M276.8 371.9h0M340.3 231.6h0M671.4 59.8h0M726.7 66.0h0"/>
<path stroke="#e4eef3" d="M386.4 175.7h0M800.2 88.0h0M844.4 109.8h0"/>
<path stroke="#e8f0f4" d="M412.7 151.3h0M418.2 146.7h0M622.8 61.3h0M747.1 70.5h0M774.0 78.3h0M850.5 113.4h0"/>
<path stroke="#ecf2f5" d="M464.6 113.9h0M699.1 61.9h0M740.3 68.9h0M856.6 117.1h0"/>
<path stroke="#eff3f6" d="M650.6 59.7h0M767.3 76.1h0M885.8 137.2h0"/>
<path stroke="#f3f5f6" d="M407.3 156.0h0M554.5 74.4h0M678.4 60.1h0M692.2 61.2h0M753.9 72.3h0M760.6 74.1h0M780.6 80.5h0M787.2 82.9h0M793.7 85.4h0M891.5 141.6h0"/>
<path stroke="#f7f7f7" d="M381.4 180.9h0M429.4 137.9h0M574.7 69.1h0M595.2 65.0h0M657.5 59.6h0M819.5 96.6h0M832.1 103.0h0"/>
<path stroke="#f8f1ed" d="M423.7 142.2h0M452.6 121.4h0M712.9 63.7h0M880.1 133.0h0"/>
<path stroke="#f8f4f2" d="M643.6 59.9h0M813.1 93.7h0M868.5 124.8h0"/>
<path stroke="#f9ece4" d="M514.9 88.4h0M521.4 85.8h0M602.1 63.9h0M636.7 60.2h0M874.3 128.8h0"/>
<path stroke="#f9efe9" d="M508.4 91.2h0M561.2 72.5h0M567.9 70.8h0M629.7 60.7h0M664.5 59.6h0M706.1 62.7h0M862.6 120.9h0M897.1 146.1h0"/>
<path stroke="#fae9df" d="M435.1 133.6h0M440.8 129.4h0M581.5 67.6h0M615.9 62.0h0M733.5 67.4h0"/>
<path stroke="#fbd0b9" d="M476.8 106.8h0M483.0 103.5h0M609.0 62.9h0"/>
<path stroke="#fbe3d5" d="M470.7 110.3h0"/>
<path stroke="#fbe6da" d="M446.7 125.4h0M495.6 97.1h0M502.0 94.1h0M534.5 80.9h0M541.1 78.6h0"/>
<path stroke="#fcdecc" d="M489.3 100.2h0M547.8 76.4h0"/>
<path stroke="#fce1d1" d="M458.6 117.6h0M527.9 83.3h0"/>
<path stroke="#fddbc7" d="M588.4 66.2h0"/>
<path stroke="#b2d5e7" d="M359.6 200.0h0M369.1 188.9h0"/>
<path stroke="#bedbeb" d="M310.8 273.5h0M321.6 254.1h0M350.5 211.5h0M355.0 205.7h0"/>
<path stroke="#c4dfec" d="M307.4 280.1h0M317.9 260.5h0M346.0 217.3h0M839.9 102.9h0"/>
<path stroke="#cbe2ee" d="M294.9 307.1h0M297.8 300.3h0M300.9 293.5h0M325.4 247.8h0M333.4 235.4h0"/>
<path stroke="#d1e5f0" d="M277.4 356.4h0M279.5 349.2h0M281.8 342.1h0M286.7 328.0h0M289.3 321.0h0M304.1 286.8h0M341.7 223.3h0"/>
<path stroke="#d5e7f1" d="M268.4 392.8h0M275.3 363.6h0M292.0 314.0h0M314.3 267.0h0M329.3 241.6h0M384.0 173.0h0M801.5 84.5h0"/>
<path stroke="#d9e9f1" d="M264.4 415.0h0M269.9 385.5h0M271.6 378.1h0M273.4 370.9h0M284.2 335.0h0M337.5 229.3h0M373.9 183.5h0M378.9 178.2h0M389.1 167.8h0M741.1 65.2h0"/>
<path stroke="#dceaf2" d="M265.6 407.6h0M266.9 400.2h0M364.3 194.4h0M727.3 62.3h0"/>
<path stroke="#e0ecf3" d="M394.3 162.8h0M754.7 68.6h0M808.0 87.2h0M846.1 106.4h0"/>
<path stroke="#e4eef3" d="M462.9 110.6h0M720.4 61.0h0M747.9 66.8h0M768.3 72.5h0M820.9 93.2h0"/>
<path stroke="#e8f0f4" d="M410.5 148.3h0M520.1 82.2h0M761.5 70.5h0M788.3 79.3h0M814.5 90.1h0"/>
<path stroke="#ecf2f5" d="M399.6 157.9h0M833.6 99.6h0"/>
<path stroke="#eff3f6" d="M416.0 143.7h0M794.9 81.8h0M870.4 121.6h0M887.9 134.1h0"/>
<path stroke="#f3f5f6" d="M827.3 96.3h0M876.3 125.7h0M893.6 138.5h0"/>
<path stroke="#f7b597" d="M481.5 100.0h0"/>
<path stroke="#f7f7f7" d="M421.6 139.2h0M713.4 59.9h0M858.4 113.8h0"/>
<path stroke="#f8f1ed" d="M513.6 84.9h0M553.5 70.7h0M594.6 61.2h0"/>
<path stroke="#f8f4f2" d="M427.3 134.7h0M507.1 87.7h0M852.3 110.1h0M882.1 129.8h0"/>
<path stroke="#f9ece4" d="M450.8 118.2h0M574.0 65.4h0M601.6 60.1h0M775.0 74.6h0"/>
<path stroke="#f9efe9" d="M405.0 153.0h0M580.8 63.9h0M781.7 76.9h0M864.4 117.6h0"/>
<path stroke="#fbd0b9" d="M456.8 114.3h0"/>
<path stroke="#fbe3d5" d="M433.1 130.4h0M494.2 93.6h0M560.3 68.8h0"/>
<path stroke="#fbe6da" d="M487.8 96.8h0M540.1 74.9h0M734.2 63.7h0"/>
<path stroke="#fcd6c0" d="M438.9 126.2h0M475.2 103.4h0M500.6 90.6h0M546.8 72.8h0"/>
<path stroke="#fcdecc" d="M567.1 67.0h0"/>
<path stroke="#fce1d1" d="M444.8 122.2h0M469.0 106.9h0M526.7 79.7h0M533.4 77.2h0"/>
<path stroke="#fddbc7" d="M587.7 62.5h0"/>
<path stroke="#a5cfe3" d="M356.9 197.5h0"/>
<path stroke="#bedbeb" d="M307.7 271.7h0M347.7 209.1h0M352.3 203.2h0"/>
<path stroke="#c4dfec" d="M294.6 298.6h0M304.2 278.3h0M318.6 252.1h0M322.5 245.7h0M361.7 191.9h0M366.5 186.3h0"/>
<path stroke="#cbe2ee" d="M288.8 312.5h0M291.6 305.5h0M300.9 285.0h0M326.4 239.4h0M338.9 221.0h0M343.3 215.0h0M371.4 180.8h0M802.8 80.9h0"/>
<path stroke="#d1e5f0" d="M278.4 340.8h0M283.4 326.6h0M286.0 319.5h0M297.7 291.8h0M311.2 265.1h0M314.8 258.5h0M330.5 233.2h0M841.5 99.5h0"/>
<path stroke="#d5e7f1" d="M268.2 377.2h0M271.9 362.5h0M274.0 355.3h0M276.1 348.0h0M334.6 227.0h0M878.2 122.5h0"/>
<path stroke="#d9e9f1" d="M260.9 414.4h0M263.4 399.4h0M264.9 392.0h0M266.5 384.6h0M270.0 369.8h0M280.8 333.7h0M376.4 175.5h0M386.7 165.0h0"/>
<path stroke="#dceaf2" d="M262.1 406.9h0M381.5 170.2h0M809.4 83.7h0"/>
<path stroke="#e0ecf3" d="M755.6 64.9h0"/>
<path stroke="#e4eef3" d="M397.3 155.0h0M741.8 61.4h0M769.3 68.8h0M815.9 86.6h0"/>
<path stroke="#e8f0f4" d="M762.4 66.8h0M782.8 73.3h0M789.5 75.7h0M847.8 103.1h0M854.0 106.7h0"/>
<path stroke="#ecf2f5" d="M518.9 78.6h0M835.2 96.1h0"/>
<path stroke="#eff3f6" d="M392.0 159.9h0M461.1 107.3h0M866.2 114.4h0M889.9 131.0h0"/>
<path stroke="#f3f5f6" d="M796.2 78.2h0M822.4 89.7h0"/>
<path stroke="#f7f7f7" d="M884.1 126.7h0M895.7 135.4h0"/>
<path stroke="#f8f1ed" d="M860.2 110.5h0"/>
<path stroke="#f8f4f2" d="M408.3 145.3h0M413.9 140.6h0M419.5 136.1h0M425.3 131.6h0M580.2 60.1h0M828.8 92.8h0M872.3 118.4h0"/>
<path stroke="#f9c5ab" d="M545.8 69.1h0"/>
<path stroke="#f9ece4" d="M442.9 118.9h0M448.9 114.9h0M467.3 103.6h0M492.7 90.1h0M512.3 81.3h0M748.7 63.1h0"/>
<path stroke="#fae9df" d="M473.6 100.0h0M525.6 76.0h0M734.9 59.9h0"/>
<path stroke="#fbe3d5" d="M402.8 150.1h0M479.9 96.6h0M776.0 71.0h0"/>
<path stroke="#fbe6da" d="M499.2 87.1h0M505.7 84.1h0M539.0 71.3h0M552.6 67.1h0M573.2 61.7h0"/>
<path stroke="#fcdecc" d="M436.9 123.1h0M455.0 111.0h0"/>
<path stroke="#fce1d1" d="M532.3 73.6h0"/>
<path stroke="#fddbc7" d="M431.1 127.3h0M486.3 93.3h0M559.4 65.1h0M566.3 63.3h0"/>
<path stroke="#b8d8e9" d="M315.6 250.0h0M349.6 200.8h0M354.3 195.0h0"/>
<path stroke="#bedbeb" d="M291.4 297.0h0M359.0 189.3h0"/>
<path stroke="#c4dfec" d="M297.8 283.3h0M304.6 269.8h0M319.5 243.6h0M384.3 162.2h0M756.5 61.2h0"/>
<path stroke="#cbe2ee" d="M280.1 325.2h0M301.1 276.5h0M327.6 231.0h0M331.8 224.8h0M770.2 65.1h0"/>
<path stroke="#d1e5f0" d="M282.7 318.0h0M285.5 311.0h0M288.4 304.0h0M294.5 290.1h0M308.1 263.1h0M311.8 256.6h0M336.1 218.6h0M345.0 206.6h0M363.9 183.7h0M880.2 119.3h0"/>
<path stroke="#d5e7f1" d="M266.5 368.8h0M268.5 361.5h0M270.6 354.1h0M272.8 346.8h0M275.1 339.5h0M323.5 237.3h0M340.5 212.6h0M368.9 178.2h0"/>
<path stroke="#d9e9f1" d="M257.4 413.8h0M260.0 398.7h0M261.4 391.2h0M263.0 383.7h0M264.7 376.2h0M277.5 332.3h0"/>
<path stroke="#dceaf2" d="M258.6 406.2h0M783.9 69.6h0M843.1 96.1h0"/>
<path stroke="#e0ecf3" d="M373.9 172.7h0M379.1 167.4h0M395.0 152.1h0M817.3 83.1h0M836.8 92.7h0"/>
<path stroke="#e4eef3" d="M790.7 72.1h0M804.1 77.3h0M849.5 99.7h0M855.7 103.4h0"/>
<path stroke="#e8f0f4" d="M810.7 80.2h0"/>
<path stroke="#ecf2f5" d="M389.6 157.1h0M517.7 75.0h0M823.8 86.2h0M830.3 89.4h0M868.1 111.1h0"/>
<path stroke="#f3f5f6" d="M459.4 103.9h0"/>
<path stroke="#f7f7f7" d="M423.2 128.5h0M897.8 132.4h0"/>
<path stroke="#f8f1ed" d="M411.7 137.6h0M417.4 133.0h0"/>
<path stroke="#f8f4f2" d="M511.0 77.7h0M538.0 67.6h0M763.4 63.1h0M797.4 74.7h0"/>
<path stroke="#f9c5ab" d="M531.2 70.0h0"/>
<path stroke="#f9ece4" d="M465.6 100.2h0M861.9 107.2h0M892.0 127.9h0"/>
<path stroke="#f9efe9" d="M400.5 147.1h0M406.1 142.3h0M441.0 115.7h0M497.8 83.6h0M874.2 115.1h0M886.1 123.5h0"/>
<path stroke="#fae9df" d="M435.0 119.9h0M551.7 63.4h0M777.1 67.3h0"/>
<path stroke="#fbd0b9" d="M544.8 65.4h0"/>
<path stroke="#fbe3d5" d="M478.3 93.2h0M484.8 89.9h0"/>
<path stroke="#fbe6da" d="M472.0 96.7h0M558.6 61.4h0"/>
<path stroke="#fcd6c0" d="M504.4 80.6h0"/>
<path stroke="#fcdecc" d="M491.2 86.6h0"/>
<path stroke="#fce1d1" d="M453.2 107.7h0M524.4 72.4h0"/>
<path stroke="#fddbc7" d="M429.1 124.1h0M447.1 111.7h0M565.5 59.6h0"/>
<path stroke="#bedbeb" d="M312.6 248.0h0M316.5 241.5h0M346.9 198.3h0M356.4 186.7h0"/>
<path stroke="#c4dfec" d="M288.2 295.4h0M294.6 281.5h0M301.5 267.9h0M361.3 181.0h0"/>
<path stroke="#cbe2ee" d="M276.8 323.8h0M282.2 309.5h0M291.4 288.4h0M305.1 261.2h0M308.8 254.6h0M337.7 210.2h0M342.2 204.2h0"/>
<path stroke="#d1e5f0" d="M271.7 338.3h0M279.4 316.6h0M285.2 302.4h0M324.7 228.7h0M328.9 222.5h0M351.6 192.4h0"/>
<path stroke="#d5e7f1" d="M261.3 375.3h0M265.1 360.4h0M267.2 353.0h0M269.4 345.6h0M274.2 331.0h0M298.0 274.7h0M320.6 235.1h0M333.3 216.3h0M785.0 66.0h0M844.8 92.7h0M882.1 116.1h0"/>
<path stroke="#d9e9f1" d="M253.9 413.2h0M255.1 405.5h0M256.5 397.9h0M257.9 390.4h0M259.6 382.8h0M263.1 367.8h0M366.4 175.5h0M381.9 159.4h0M851.1 96.3h0"/>
<path stroke="#dceaf2" d="M392.7 149.1h0"/>
<path stroke="#e0ecf3" d="M857.5 100.0h0"/>
<path stroke="#e4eef3" d="M376.6 164.7h0M791.8 68.5h0M805.3 73.8h0M825.3 82.7h0M876.0 111.9h0"/>
<path stroke="#e8f0f4" d="M371.5 170.0h0M818.7 79.6h0M831.8 85.9h0M838.3 89.3h0M869.9 107.8h0M888.1 120.4h0"/>
<path stroke="#ecf2f5" d="M771.2 61.5h0"/>
<path stroke="#eff3f6" d="M812.0 76.6h0"/>
<path stroke="#f3f5f6" d="M387.3 154.2h0M421.2 125.4h0M536.9 64.0h0"/>
<path stroke="#f7f7f7" d="M433.0 116.7h0M550.7 59.7h0M798.6 71.1h0M894.0 124.8h0"/>
<path stroke="#f8f1ed" d="M509.7 74.2h0M516.4 71.5h0M778.1 63.7h0"/>
<path stroke="#f8f4f2" d="M863.7 103.9h0"/>
<path stroke="#f9ece4" d="M403.9 139.3h0M415.3 129.9h0M457.7 100.6h0"/>
<path stroke="#f9efe9" d="M409.5 134.6h0M464.0 96.9h0M476.8 89.8h0M543.8 61.8h0"/>
<path stroke="#facbb2" d="M427.1 121.0h0"/>
<path stroke="#fae9df" d="M398.3 144.2h0M483.2 86.4h0"/>
<path stroke="#fbe3d5" d="M503.0 77.1h0M523.2 68.8h0"/>
<path stroke="#fbe6da" d="M439.1 112.5h0M496.4 80.0h0"/>
<path stroke="#fcd6c0" d="M451.4 104.4h0"/>
<path stroke="#fcdecc" d="M489.8 83.2h0"/>
<path stroke="#fce1d1" d="M445.2 108.4h0M470.3 93.3h0M530.0 66.4h0"/>
<path stroke="#b2d5e7" d="M348.9 189.9h0"/>
<path stroke="#b8d8e9" d="M363.8 172.8h0"/>
<path stroke="#bedbeb" d="M317.6 232.9h0M339.5 201.8h0M358.8 178.4h0"/>
<path stroke="#c4dfec" d="M285.0 293.7h0M305.8 252.6h0M309.6 245.9h0M330.4 214.0h0M334.9 207.8h0M353.8 184.1h0M846.4 89.4h0"/>
<path stroke="#cbe2ee" d="M273.4 322.4h0M279.0 307.9h0M288.2 286.7h0M291.5 279.7h0M298.4 266.0h0M344.2 195.8h0M379.5 156.6h0"/>
<path stroke="#d1e5f0" d="M263.8 351.8h0M276.2 315.1h0M281.9 300.8h0M313.6 239.4h0M326.1 220.2h0"/>
<path stroke="#d5e7f1" d="M251.6 404.9h0M254.5 389.5h0M256.1 381.9h0M261.7 359.3h0M266.0 344.4h0M268.4 337.0h0M270.9 329.7h0M294.9 272.9h0M302.0 259.3h0M390.4 146.2h0M833.3 82.5h0M884.1 112.9h0"/>
<path stroke="#d9e9f1" d="M250.4 412.6h0M253.0 397.2h0M257.8 374.4h0M259.7 366.8h0M321.8 226.5h0"/>
<path stroke="#dceaf2" d="M852.8 93.0h0M859.2 96.7h0"/>
<path stroke="#e0ecf3" d="M839.9 85.9h0"/>
<path stroke="#e8f0f4" d="M786.1 62.4h0M820.1 76.1h0M871.8 104.6h0"/>
<path stroke="#ecf2f5" d="M793.0 64.9h0"/>
<path stroke="#eff3f6" d="M369.0 167.3h0M407.4 131.5h0M826.7 79.2h0"/>
<path stroke="#f3f5f6" d="M374.2 161.9h0M779.2 60.0h0M877.9 108.7h0M890.1 117.2h0"/>
<path stroke="#f7f7f7" d="M384.9 151.4h0"/>
<path stroke="#f8f1ed" d="M396.0 141.2h0M462.3 93.5h0M501.7 73.5h0M515.2 67.9h0M865.5 100.6h0"/>
<path stroke="#f8f4f2" d="M508.4 70.6h0M806.6 70.2h0"/>
<path stroke="#f9ece4" d="M419.1 122.3h0M481.7 83.0h0M535.9 60.4h0"/>
<path stroke="#f9efe9" d="M431.1 113.5h0M443.4 105.1h0M896.1 121.6h0"/>
<path stroke="#fae9df" d="M413.2 126.9h0M455.9 97.3h0M475.2 86.3h0"/>
<path stroke="#fbe3d5" d="M528.9 62.7h0M813.4 73.1h0"/>
<path stroke="#fbe6da" d="M401.7 136.3h0M449.6 101.1h0M799.8 67.5h0"/>
<path stroke="#fcdecc" d="M495.0 76.5h0M522.1 65.2h0"/>
<path stroke="#fce1d1" d="M425.1 117.8h0M437.2 109.3h0"/>
<path stroke="#fddbc7" d="M468.7 89.9h0M488.3 79.7h0"/>
<path stroke="#a5cfe3" d="M351.2 181.5h0"/>
<path stroke="#b2d5e7" d="M336.8 199.3h0"/>
<path stroke="#bedbeb" d="M281.8 292.1h0M306.6 243.9h0"/>
<path stroke="#c4dfec" d="M270.1 321.0h0M285.0 285.0h0M302.7 250.6h0M314.7 230.8h0M341.5 193.3h0M834.8 79.0h0M854.5 89.6h0"/>
<path stroke="#cbe2ee" d="M275.7 306.4h0M288.3 278.0h0M291.8 271.0h0M310.6 237.3h0M332.1 205.5h0M346.3 187.4h0M361.3 170.1h0M377.1 153.7h0M841.5 82.4h0"/>
<path stroke="#d1e5f0" d="M265.0 335.7h0M278.7 299.2h0M295.3 264.1h0M299.0 257.3h0M327.6 211.7h0M794.1 61.3h0"/>
<path stroke="#d5e7f1" d="M246.9 411.9h0M251.0 388.7h0M254.4 373.4h0M258.3 358.2h0M260.4 350.7h0M267.5 328.3h0M272.9 313.7h0M323.2 217.9h0"/>
<path stroke="#d9e9f1" d="M248.1 404.2h0M252.6 381.1h0M256.3 365.8h0M262.7 343.2h0M318.9 224.3h0M366.5 164.6h0M821.5 72.6h0"/>
<path stroke="#dceaf2" d="M249.5 396.4h0M356.2 175.8h0M371.8 159.1h0M848.0 86.0h0M873.6 101.3h0"/>
<path stroke="#e0ecf3" d="M860.9 93.4h0"/>
<path stroke="#e4eef3" d="M828.2 75.7h0M886.0 109.7h0"/>
<path stroke="#e8f0f4" d="M514.0 64.3h0M892.1 114.0h0"/>
<path stroke="#ecf2f5" d="M382.6 148.5h0M879.8 105.4h0"/>
<path stroke="#eff3f6" d="M807.9 66.7h0"/>
<path stroke="#f3f5f6" d="M388.1 143.3h0M405.2 128.5h0M447.8 97.8h0M507.1 67.1h0"/>
<path stroke="#f7f7f7" d="M814.7 69.6h0"/>
<path stroke="#f8f1ed" d="M441.5 101.9h0M801.0 63.9h0M898.1 118.5h0"/>
<path stroke="#f8f4f2" d="M411.1 123.8h0M500.3 70.0h0M867.3 97.3h0"/>
<path stroke="#f9ece4" d="M393.8 138.3h0M399.5 133.3h0"/>
<path stroke="#facbb2" d="M423.1 114.7h0"/>
<path stroke="#fae9df" d="M429.1 110.3h0M454.2 93.9h0M473.6 82.9h0"/>
<path stroke="#fbd0b9" d="M435.3 106.0h0M467.1 86.5h0"/>
<path stroke="#fbe3d5" d="M480.2 79.5h0"/>
<path stroke="#fbe6da" d="M486.9 76.2h0M520.9 61.6h0"/>
<path stroke="#fce1d1" d="M460.6 90.1h0"/>
<path stroke="#fddbc7" d="M417.0 119.2h0M493.6 73.0h0"/>
<path stroke="#b2d5e7" d="M836.4 75.6h0"/>
<path stroke="#bedbeb" d="M278.6 290.4h0M295.9 255.4h0M343.6 184.8h0M348.6 178.9h0"/>
<path stroke="#c4dfec" d="M275.5 297.6h0M299.7 248.6h0M311.8 228.6h0M849.6 82.6h0"/>
<path stroke="#cbe2ee" d="M261.7 334.5h0M266.8 319.6h0M285.2 276.2h0M288.6 269.2h0M303.6 241.8h0M307.6 235.2h0M316.0 222.1h0M320.4 215.7h0M334.0 196.9h0M875.4 98.0h0"/>
<path stroke="#d1e5f0" d="M251.0 372.5h0M257.0 349.5h0M259.3 342.0h0M269.6 312.2h0M272.5 304.9h0M281.8 283.3h0M329.4 203.1h0M338.8 190.8h0"/>
<path stroke="#d5e7f1" d="M243.4 411.3h0M252.9 364.8h0M254.9 357.1h0M358.8 167.4h0M843.0 79.0h0"/>
<path stroke="#d9e9f1" d="M244.6 403.5h0M246.0 395.7h0M247.5 387.9h0M249.2 380.2h0M264.2 327.0h0M292.2 262.3h0M353.6 173.1h0M856.2 86.2h0M881.7 102.2h0"/>
<path stroke="#dceaf2" d="M364.0 161.8h0M829.6 72.3h0"/>
<path stroke="#e0ecf3" d="M324.8 209.3h0M374.7 150.9h0"/>
<path stroke="#e4eef3" d="M822.9 69.1h0M862.7 90.0h0"/>
<path stroke="#e8f0f4" d="M809.2 63.1h0M894.1 110.9h0"/>
<path stroke="#ecf2f5" d="M385.8 140.4h0M478.7 76.1h0M887.9 106.5h0"/>
<path stroke="#eff3f6" d="M380.2 145.6h0M403.1 125.5h0M446.0 94.6h0"/>
<path stroke="#f3f5f6" d="M512.8 60.7h0M802.3 60.3h0"/>
<path stroke="#f7f7f7" d="M397.3 130.4h0M869.1 94.0h0"/>
<path stroke="#f8f1ed" d="M369.3 156.3h0M439.7 98.6h0M816.0 66.0h0"/>
<path stroke="#f8f4f2" d="M391.5 135.3h0M409.0 120.7h0M505.9 63.5h0"/>
<path stroke="#f9c0a4" d="M492.2 69.5h0"/>
<path stroke="#f9ece4" d="M427.2 107.1h0M472.0 79.5h0"/>
<path stroke="#f9efe9" d="M421.1 111.5h0"/>
<path stroke="#fae9df" d="M452.4 90.6h0"/>
<path stroke="#fbd0b9" d="M465.5 83.1h0"/>
<path stroke="#fbe3d5" d="M458.9 86.8h0"/>
<path stroke="#fce1d1" d="M485.4 72.7h0M499.0 66.5h0"/>
<path stroke="#fddbc7" d="M415.0 116.1h0M433.4 102.8h0"/>
<path stroke="#a5cfe3" d="M341.0 182.3h0"/>
<path stroke="#abd2e5" d="M326.6 200.7h0"/>
<path stroke="#b8d8e9" d="M313.1 219.9h0"/>
<path stroke="#bedbeb" d="M275.4 288.8h0M331.3 194.5h0"/>
<path stroke="#c4dfec" d="M282.0 274.5h0M346.0 176.4h0"/>
<path stroke="#cbe2ee" d="M255.9 340.8h0M269.2 303.4h0M289.1 260.4h0M292.8 253.5h0M296.7 246.6h0M304.7 233.1h0M308.9 226.4h0M336.1 188.4h0M361.5 159.1h0"/>
<path stroke="#d1e5f0" d="M247.5 371.5h0M253.6 348.4h0M258.3 333.2h0M263.5 318.2h0M266.3 310.8h0M272.2 296.1h0M278.6 281.6h0M285.5 267.4h0M300.6 239.8h0M317.5 213.4h0M844.6 75.6h0"/>
<path stroke="#d5e7f1" d="M249.4 363.8h0M260.9 325.7h0M322.0 207.0h0M831.1 68.8h0M864.4 86.7h0"/>
<path stroke="#d9e9f1" d="M239.9 410.7h0M241.1 402.8h0M242.5 394.9h0M244.1 387.1h0M245.7 379.3h0M251.5 356.1h0M837.9 72.1h0M851.2 79.2h0"/>
<path stroke="#dceaf2" d="M824.3 65.6h0M877.3 94.8h0"/>
<path stroke="#e0ecf3" d="M372.3 148.1h0"/>
<path stroke="#e8f0f4" d="M351.1 170.5h0M356.2 164.8h0M383.5 137.5h0M395.0 127.4h0M817.4 62.5h0M857.8 82.9h0"/>
<path stroke="#ecf2f5" d="M377.9 142.8h0"/>
<path stroke="#eff3f6" d="M419.1 108.4h0"/>
<path stroke="#f3f5f6" d="M883.6 99.0h0"/>
<path stroke="#f7f7f7" d="M504.6 60.0h0M889.9 103.3h0M896.1 107.7h0"/>
<path stroke="#f8f1ed" d="M366.9 153.6h0M425.2 103.9h0M477.2 72.6h0M810.5 59.5h0"/>
<path stroke="#f8f4f2" d="M431.5 99.6h0M870.9 90.7h0"/>
<path stroke="#f9ece4" d="M389.2 132.4h0M497.6 62.9h0"/>
<path stroke="#f9efe9" d="M470.5 76.1h0"/>
<path stroke="#fbe3d5" d="M412.9 113.0h0M444.2 91.3h0M484.0 69.2h0"/>
<path stroke="#fbe6da" d="M406.9 117.6h0M437.8 95.4h0M490.8 66.0h0"/>
<path stroke="#fcd6c0" d="M400.9 122.4h0"/>
<path stroke="#fcdecc" d="M457.2 83.4h0M463.8 79.7h0"/>
<path stroke="#fce1d1" d="M450.7 87.3h0"/>
<path stroke="#b8d8e9" d="M333.4 185.9h0"/>
<path stroke="#bedbeb" d="M328.5 192.1h0"/>
<path stroke="#c4dfec" d="M266.0 301.9h0M272.2 287.2h0M323.8 198.3h0"/>
<path stroke="#cbe2ee" d="M250.2 347.3h0M252.5 339.6h0M260.2 316.8h0M278.9 272.7h0M301.7 231.0h0M310.2 217.7h0M832.5 65.3h0"/>
<path stroke="#d1e5f0" d="M246.0 362.8h0M255.0 331.9h0M263.0 309.3h0M269.0 294.5h0M275.5 279.9h0M282.4 265.6h0M293.7 244.6h0M338.3 179.8h0M852.9 75.8h0"/>
<path stroke="#d5e7f1" d="M244.1 370.6h0M286.0 258.5h0M289.8 251.5h0M305.9 224.3h0M314.7 211.1h0M839.4 68.7h0"/>
<path stroke="#d9e9f1" d="M236.4 410.1h0M237.6 402.1h0M239.1 394.2h0M240.6 386.3h0M242.3 378.4h0M248.1 355.0h0M257.5 324.3h0M297.6 237.7h0M825.7 62.1h0"/>
<path stroke="#dceaf2" d="M319.2 204.7h0M359.0 156.4h0M891.8 100.1h0"/>
<path stroke="#e0ecf3" d="M846.1 72.1h0"/>
<path stroke="#e4eef3" d="M343.4 173.8h0M872.6 87.4h0M885.5 95.7h0"/>
<path stroke="#e8f0f4" d="M392.8 124.4h0M859.5 79.5h0M866.1 83.4h0"/>
<path stroke="#ecf2f5" d="M348.5 167.9h0M353.7 162.1h0M879.1 91.5h0"/>
<path stroke="#eff3f6" d="M370.0 145.3h0M417.0 105.2h0M898.1 104.6h0"/>
<path stroke="#f3f5f6" d="M364.4 150.8h0"/>
<path stroke="#f7f7f7" d="M381.2 134.6h0M404.8 114.6h0"/>
<path stroke="#f8f1ed" d="M423.3 100.7h0M442.4 88.0h0"/>
<path stroke="#f9c0a4" d="M410.9 109.8h0"/>
<path stroke="#f9ece4" d="M462.2 76.3h0M475.7 69.1h0"/>
<path stroke="#fae9df" d="M375.5 139.9h0M455.5 80.1h0M482.5 65.8h0"/>
<path stroke="#fbe3d5" d="M398.8 119.4h0"/>
<path stroke="#fbe6da" d="M429.6 96.4h0M489.4 62.5h0"/>
<path stroke="#fcdecc" d="M387.0 129.4h0M468.9 72.7h0"/>
<path stroke="#fddbc7" d="M436.0 92.1h0M449.0 83.9h0"/>
<path stroke="#b2d5e7" d="M325.8 189.6h0"/>
<path stroke="#b8d8e9" d="M330.7 183.4h0"/>
<path stroke="#c4dfec" d="M279.3 263.8h0M290.6 242.6h0M298.8 228.9h0"/>
<path stroke="#cbe2ee" d="M246.9 346.1h0M251.6 330.7h0M259.7 307.9h0M262.7 300.4h0M265.8 292.9h0M269.0 285.5h0M272.3 278.2h0M282.9 256.6h0M321.0 195.9h0"/>
<path stroke="#d1e5f0" d="M249.2 338.4h0M256.9 315.4h0M275.7 270.9h0M286.7 249.6h0M294.6 235.7h0M303.0 222.1h0M335.7 177.2h0M874.4 84.1h0"/>
<path stroke="#d5e7f1" d="M240.6 369.6h0M242.6 361.8h0M244.7 353.9h0M254.2 323.0h0M307.4 215.4h0"/>
<path stroke="#d9e9f1" d="M232.9 409.5h0M234.2 401.4h0M235.6 393.4h0M237.1 385.5h0M238.8 377.5h0M311.8 208.9h0"/>
<path stroke="#dceaf2" d="M316.4 202.4h0M840.9 65.2h0"/>
<path stroke="#e0ecf3" d="M351.2 159.4h0M854.5 72.4h0"/>
<path stroke="#e4eef3" d="M887.4 92.5h0M893.8 96.9h0"/>
<path stroke="#e8f0f4" d="M340.7 171.2h0M847.7 68.7h0"/>
<path stroke="#ecf2f5" d="M390.6 121.4h0M834.0 61.8h0"/>
<path stroke="#f3f5f6" d="M861.2 76.1h0"/>
<path stroke="#f7f7f7" d="M345.9 165.3h0M867.8 80.0h0M880.9 88.2h0"/>
<path stroke="#f8f1ed" d="M367.6 142.5h0M373.2 137.0h0M396.6 116.4h0M460.6 72.9h0"/>
<path stroke="#f8f4f2" d="M378.9 131.7h0"/>
<path stroke="#f9ece4" d="M362.0 148.0h0M440.7 84.7h0M467.3 69.2h0"/>
<path stroke="#f9efe9" d="M356.6 153.7h0M415.0 102.1h0M453.9 76.7h0"/>
<path stroke="#fae9df" d="M427.7 93.1h0"/>
<path stroke="#fbd0b9" d="M408.8 106.7h0"/>
<path stroke="#fbe3d5" d="M384.7 126.5h0M402.7 111.5h0M421.3 97.5h0M447.2 80.6h0"/>
<path stroke="#fcd6c0" d="M481.0 62.3h0"/>
<path stroke="#fcdecc" d="M434.1 88.8h0"/>
<path stroke="#fce1d1" d="M474.2 65.7h0"/>
<path stroke="#abd2e5" d="M323.1 187.2h0"/>
<path stroke="#bedbeb" d="M287.6 240.6h0M304.5 213.2h0"/>
<path stroke="#c4dfec" d="M272.6 269.2h0M276.1 261.9h0M283.7 247.6h0M318.3 193.6h0"/>
<path stroke="#cbe2ee" d="M248.3 329.4h0M253.6 314.0h0M259.4 298.8h0M269.1 276.5h0M291.6 233.6h0M300.1 220.0h0M313.6 200.0h0M328.0 180.9h0"/>
<path stroke="#d1e5f0" d="M243.5 345.0h0M245.8 337.2h0M256.5 306.4h0M262.5 291.3h0M265.8 283.9h0M279.8 254.8h0M309.0 206.6h0"/>
<path stroke="#d5e7f1" d="M237.2 368.7h0M239.2 360.7h0M241.2 352.8h0M250.9 321.7h0M842.4 61.7h0"/>
<path stroke="#d9e9f1" d="M232.1 392.7h0M233.7 384.6h0M235.4 376.6h0M295.8 226.8h0M333.0 174.7h0M882.8 85.0h0"/>
<path stroke="#dceaf2" d="M229.4 408.8h0M230.7 400.7h0"/>
<path stroke="#e0ecf3" d="M348.7 156.7h0M856.1 69.0h0"/>
<path stroke="#e4eef3" d="M889.3 89.3h0"/>
<path stroke="#e8f0f4" d="M394.5 113.3h0"/>
<path stroke="#ecf2f5" d="M338.1 168.6h0M388.4 118.4h0M895.7 93.7h0"/>
<path stroke="#eff3f6" d="M354.1 150.9h0M862.9 72.8h0"/>
<path stroke="#f7f7f7" d="M869.6 76.7h0M876.2 80.8h0"/>
<path stroke="#f8f1ed" d="M849.3 65.3h0"/>
<path stroke="#f8f4f2" d="M343.3 162.6h0M359.6 145.2h0"/>
<path stroke="#f9ece4" d="M400.6 108.4h0"/>
<path stroke="#f9efe9" d="M365.2 139.6h0M472.6 62.2h0"/>
<path stroke="#facbb2" d="M376.6 128.8h0"/>
<path stroke="#fae9df" d="M370.9 134.2h0M438.9 81.4h0M445.5 77.3h0"/>
<path stroke="#fbd0b9" d="M432.3 85.6h0"/>
<path stroke="#fbe3d5" d="M382.5 123.5h0M413.0 98.9h0M425.8 89.9h0"/>
<path stroke="#fbe6da" d="M419.4 94.4h0M458.9 69.5h0"/>
<path stroke="#fcdecc" d="M452.2 73.3h0M465.8 65.8h0"/>
<path stroke="#fce1d1" d="M406.8 103.6h0"/>
<path stroke="#abd2e5" d="M284.6 238.6h0"/>
<path stroke="#bedbeb" d="M269.4 267.4h0"/>
<path stroke="#c4dfec" d="M244.9 328.1h0M256.2 297.3h0M265.9 274.8h0M280.6 245.7h0M320.3 184.8h0"/>
<path stroke="#cbe2ee" d="M250.3 312.6h0M259.3 289.8h0M262.6 282.2h0M273.0 260.1h0M288.7 231.6h0"/>
<path stroke="#d1e5f0" d="M240.1 343.8h0M242.4 336.0h0M292.8 224.6h0M301.6 211.0h0"/>
<path stroke="#d5e7f1" d="M233.8 367.7h0M235.7 359.7h0M237.8 351.8h0M253.2 304.9h0M276.8 252.9h0M297.2 217.8h0M306.1 204.3h0M310.7 197.7h0M330.3 172.2h0"/>
<path stroke="#d9e9f1" d="M227.2 400.1h0M228.6 391.9h0M230.2 383.8h0M231.9 375.8h0M247.6 320.4h0M315.5 191.2h0M864.5 69.4h0"/>
<path stroke="#dceaf2" d="M225.9 408.2h0"/>
<path stroke="#e0ecf3" d="M325.3 178.4h0M871.3 73.4h0M891.2 86.0h0"/>
<path stroke="#e4eef3" d="M346.1 154.0h0"/>
<path stroke="#e8f0f4" d="M335.5 166.0h0M386.2 115.4h0M857.7 65.6h0M884.6 81.7h0"/>
<path stroke="#ecf2f5" d="M357.1 142.5h0"/>
<path stroke="#eff3f6" d="M897.7 90.5h0"/>
<path stroke="#f3f5f6" d="M850.8 61.9h0"/>
<path stroke="#f7f7f7" d="M351.6 148.2h0M392.3 110.3h0"/>
<path stroke="#f8f4f2" d="M340.8 160.0h0M878.0 77.5h0"/>
<path stroke="#f9c5ab" d="M430.5 82.3h0"/>
<path stroke="#f9ece4" d="M380.2 120.6h0M398.5 105.3h0M423.9 86.7h0M450.5 70.0h0"/>
<path stroke="#f9efe9" d="M411.0 95.8h0M417.4 91.2h0"/>
<path stroke="#facbb2" d="M443.8 74.0h0"/>
<path stroke="#fbe6da" d="M362.8 136.8h0"/>
<path stroke="#fcd6c0" d="M374.3 125.9h0"/>
<path stroke="#fcdecc" d="M404.7 100.5h0"/>
<path stroke="#fce1d1" d="M368.5 131.3h0M437.1 78.1h0M464.2 62.4h0"/>
<path stroke="#fddbc7" d="M457.3 66.1h0"/>
<path stroke="#b2d5e7" d="M298.7 208.8h0"/>
<path stroke="#bedbeb" d="M266.3 265.7h0M269.9 258.3h0M281.5 236.6h0M866.2 66.0h0"/>
<path stroke="#c4dfec" d="M252.9 295.8h0M259.3 280.6h0M262.7 273.1h0M307.9 195.4h0"/>
<path stroke="#cbe2ee" d="M241.6 326.9h0M247.0 311.2h0M256.1 288.2h0"/>
<path stroke="#d1e5f0" d="M230.3 366.8h0M236.7 342.7h0M239.1 334.8h0M249.9 303.5h0M273.7 251.0h0M277.5 243.8h0M285.7 229.5h0M294.2 215.6h0"/>
<path stroke="#d5e7f1" d="M226.7 383.0h0M232.3 358.7h0M234.4 350.7h0M312.7 188.8h0M327.7 169.7h0"/>
<path stroke="#d9e9f1" d="M222.4 407.6h0M225.1 391.2h0M228.5 374.9h0M244.2 319.0h0"/>
<path stroke="#dceaf2" d="M223.7 399.4h0M289.9 222.5h0M317.6 182.3h0M322.6 175.9h0"/>
<path stroke="#e0ecf3" d="M303.2 202.0h0M332.9 163.5h0"/>
<path stroke="#e8f0f4" d="M859.3 62.2h0M873.0 70.0h0"/>
<path stroke="#ecf2f5" d="M879.8 74.2h0"/>
<path stroke="#f3f5f6" d="M343.6 151.4h0M893.1 82.8h0"/>
<path stroke="#f7f7f7" d="M886.5 78.4h0"/>
<path stroke="#f8f1ed" d="M338.2 157.4h0M354.7 139.7h0M384.0 112.4h0"/>
<path stroke="#f8f4f2" d="M349.1 145.5h0M396.4 102.3h0"/>
<path stroke="#f9ece4" d="M409.0 92.6h0M422.0 83.5h0"/>
<path stroke="#f9efe9" d="M360.4 134.0h0M372.0 123.0h0"/>
<path stroke="#fbd0b9" d="M402.7 97.4h0"/>
<path stroke="#fbe6da" d="M378.0 117.6h0M455.7 62.7h0"/>
<path stroke="#fcdecc" d="M366.2 128.4h0"/>
<path stroke="#fce1d1" d="M390.2 107.3h0M415.5 88.0h0M428.6 79.1h0M435.3 74.8h0"/>
<path stroke="#fddbc7" d="M442.0 70.6h0M448.8 66.6h0"/>
<path stroke="#b2d5e7" d="M309.9 186.4h0"/>
<path stroke="#b8d8e9" d="M325.0 167.1h0"/>
<path stroke="#bedbeb" d="M249.7 294.3h0M266.8 256.5h0M282.7 227.5h0M291.3 213.5h0M295.8 206.6h0"/>
<path stroke="#c4dfec" d="M259.6 271.4h0M274.5 241.8h0M278.5 234.6h0M867.9 62.7h0M874.8 66.7h0"/>
<path stroke="#cbe2ee" d="M238.2 325.6h0M246.6 302.0h0M252.8 286.6h0M256.1 279.0h0M263.1 263.9h0M270.6 249.1h0M286.9 220.4h0"/>
<path stroke="#d1e5f0" d="M233.3 341.6h0M235.7 333.6h0M243.7 309.8h0"/>
<path stroke="#d5e7f1" d="M221.7 390.4h0M223.3 382.2h0M226.9 365.8h0M228.9 357.7h0M231.0 349.6h0M300.4 199.8h0M305.1 193.1h0M314.9 179.9h0"/>
<path stroke="#d9e9f1" d="M218.8 407.0h0M220.2 398.7h0M225.0 374.0h0M240.9 317.7h0"/>
<path stroke="#dceaf2" d="M319.9 173.5h0"/>
<path stroke="#e8f0f4" d="M346.6 142.8h0"/>
<path stroke="#ecf2f5" d="M330.3 160.9h0M341.1 148.7h0M888.3 75.2h0"/>
<path stroke="#f3f5f6" d="M335.6 154.7h0"/>
<path stroke="#f7f7f7" d="M881.6 70.9h0"/>
<path stroke="#f8f1ed" d="M352.3 136.9h0M394.3 99.2h0"/>
<path stroke="#f8f4f2" d="M381.8 109.4h0"/>
<path stroke="#f9ece4" d="M358.0 131.2h0M363.8 125.6h0M440.3 67.3h0M895.0 79.6h0"/>
<path stroke="#f9efe9" d="M400.6 94.3h0M407.0 89.5h0M433.5 71.5h0"/>
<path stroke="#fae9df" d="M388.0 104.2h0M447.1 63.3h0"/>
<path stroke="#fbd0b9" d="M413.5 84.8h0"/>
<path stroke="#fbe3d5" d="M375.7 114.7h0"/>
<path stroke="#fbe6da" d="M420.1 80.2h0"/>
<path stroke="#fcd6c0" d="M426.8 75.8h0"/>
<path stroke="#fddbc7" d="M369.7 120.1h0"/>
<path stroke="#b2d5e7" d="M307.2 184.1h0"/>
<path stroke="#b8d8e9" d="M288.4 211.3h0M302.3 190.7h0M312.1 177.5h0"/>
<path stroke="#bedbeb" d="M275.5 232.6h0"/>
<path stroke="#c4dfec" d="M246.4 292.8h0M256.4 269.7h0M260.0 262.1h0M263.7 254.7h0M267.5 247.2h0M279.7 225.4h0M322.4 164.6h0"/>
<path stroke="#cbe2ee" d="M234.9 324.3h0M243.3 300.6h0M249.6 285.0h0M271.4 239.9h0M317.2 171.0h0"/>
<path stroke="#d1e5f0" d="M229.9 340.4h0M232.3 332.4h0M240.4 308.4h0M252.9 277.3h0M292.9 204.4h0"/>
<path stroke="#d5e7f1" d="M218.2 389.7h0M221.5 373.1h0M223.4 364.9h0M225.5 356.7h0M227.6 348.5h0M237.6 316.4h0M327.7 158.3h0"/>
<path stroke="#d9e9f1" d="M215.3 406.4h0M216.7 398.0h0M219.8 381.4h0M297.5 197.5h0M890.1 71.9h0"/>
<path stroke="#dceaf2" d="M284.0 218.3h0M896.8 76.3h0"/>
<path stroke="#e8f0f4" d="M333.1 152.1h0"/>
<path stroke="#f7f7f7" d="M344.1 140.0h0M392.2 96.1h0M398.6 91.2h0M883.3 67.6h0"/>
<path stroke="#f8f1ed" d="M355.6 128.4h0M361.5 122.7h0M379.6 106.4h0M876.5 63.4h0"/>
<path stroke="#f9ece4" d="M338.5 146.0h0M373.5 111.7h0"/>
<path stroke="#f9efe9" d="M424.9 72.5h0M431.7 68.2h0"/>
<path stroke="#facbb2" d="M418.2 77.0h0"/>
<path stroke="#fae9df" d="M445.5 59.9h0"/>
<path stroke="#fbe3d5" d="M385.9 101.2h0"/>
<path stroke="#fbe6da" d="M349.8 134.1h0"/>
<path stroke="#fce1d1" d="M405.0 86.3h0M411.6 81.6h0M438.5 64.0h0"/>
<path stroke="#fddbc7" d="M367.4 117.2h0"/>
<path stroke="#abd2e5" d="M299.5 188.4h0"/>
<path stroke="#b8d8e9" d="M264.4 245.4h0M304.4 181.7h0"/>
<path stroke="#bedbeb" d="M290.0 202.1h0M309.4 175.0h0"/>
<path stroke="#c4dfec" d="M243.1 291.2h0M246.4 283.4h0M253.2 268.0h0M256.8 260.4h0M272.5 230.6h0"/>
<path stroke="#cbe2ee" d="M231.5 323.1h0M237.1 307.0h0M240.1 299.1h0M260.5 252.8h0"/>
<path stroke="#d1e5f0" d="M226.5 339.3h0M229.0 331.1h0M234.2 315.0h0M249.7 275.7h0M276.7 223.4h0M294.7 195.2h0"/>
<path stroke="#d5e7f1" d="M213.2 397.3h0M214.7 388.9h0M216.3 380.6h0M220.0 363.9h0M222.0 355.7h0M224.2 347.5h0M268.4 238.0h0M285.4 209.1h0M319.7 162.1h0"/>
<path stroke="#d9e9f1" d="M211.8 405.7h0M218.1 372.2h0M314.5 168.5h0"/>
<path stroke="#dceaf2" d="M281.0 216.2h0"/>
<path stroke="#ecf2f5" d="M341.6 137.3h0M885.1 64.3h0"/>
<path stroke="#eff3f6" d="M325.1 155.7h0M892.0 68.6h0"/>
<path stroke="#f3f5f6" d="M330.5 149.5h0"/>
<path stroke="#f8f4f2" d="M353.2 125.6h0M371.2 108.8h0M878.2 60.0h0"/>
<path stroke="#f9ece4" d="M336.0 143.3h0M396.5 88.0h0M403.0 83.2h0"/>
<path stroke="#f9efe9" d="M347.4 131.4h0M390.1 93.0h0"/>
<path stroke="#facbb2" d="M383.7 98.2h0"/>
<path stroke="#fae9df" d="M377.4 103.4h0"/>
<path stroke="#fbd0b9" d="M416.3 73.8h0"/>
<path stroke="#fbe3d5" d="M365.1 114.3h0M409.6 78.4h0"/>
<path stroke="#fbe6da" d="M359.1 119.8h0M429.9 64.9h0M436.8 60.6h0"/>
<path stroke="#fddbc7" d="M423.1 69.3h0"/>
<path stroke="#abd2e5" d="M287.1 199.9h0"/>
<path stroke="#bedbeb" d="M253.7 258.6h0M261.3 243.5h0M273.7 221.3h0M301.6 179.3h0"/>
<path stroke="#c4dfec" d="M228.2 321.8h0M236.8 297.7h0M296.7 186.1h0"/>
<path stroke="#cbe2ee" d="M223.1 338.1h0M239.9 289.7h0M250.0 266.3h0M291.8 193.0h0M306.6 172.6h0"/>
<path stroke="#d1e5f0" d="M216.6 363.0h0M218.6 354.7h0M225.6 329.9h0M230.9 313.7h0M233.8 305.7h0M243.1 281.9h0M246.5 274.0h0M317.1 159.5h0"/>
<path stroke="#d5e7f1" d="M208.3 405.1h0M212.9 379.8h0M220.8 346.4h0M257.4 251.0h0M265.3 236.0h0M269.4 228.6h0M886.9 61.0h0"/>
<path stroke="#d9e9f1" d="M209.7 396.6h0M211.2 388.2h0M214.6 371.4h0M282.5 207.0h0"/>
<path stroke="#dceaf2" d="M311.8 166.0h0"/>
<path stroke="#e4eef3" d="M278.0 214.1h0"/>
<path stroke="#ecf2f5" d="M893.8 65.4h0"/>
<path stroke="#f7f7f7" d="M322.4 153.1h0M339.2 134.6h0M369.0 105.8h0M394.5 84.9h0"/>
<path stroke="#f8f4f2" d="M388.0 90.0h0"/>
<path stroke="#f9ece4" d="M333.5 140.6h0M407.7 75.2h0"/>
<path stroke="#f9efe9" d="M327.9 146.8h0M344.9 128.6h0"/>
<path stroke="#facbb2" d="M350.8 122.7h0"/>
<path stroke="#fae9df" d="M362.8 111.3h0"/>
<path stroke="#fbd0b9" d="M381.5 95.1h0"/>
<path stroke="#fbe3d5" d="M375.2 100.4h0M421.2 66.0h0"/>
<path stroke="#fbe6da" d="M414.4 70.5h0"/>
<path stroke="#fcdecc" d="M428.1 61.6h0"/>
<path stroke="#fce1d1" d="M401.0 80.0h0"/>
<path stroke="#fddbc7" d="M356.8 117.0h0"/>
<path stroke="#a5cfe3" d="M303.9 170.2h0"/>
<path stroke="#b2d5e7" d="M270.7 219.3h0"/>
<path stroke="#b8d8e9" d="M258.2 241.6h0M289.0 190.7h0"/>
<path stroke="#bedbeb" d="M236.6 288.2h0M246.8 264.6h0"/>
<path stroke="#c4dfec" d="M239.9 280.3h0M298.8 176.9h0"/>
<path stroke="#cbe2ee" d="M224.8 320.5h0M230.5 304.3h0M233.5 296.2h0M250.5 256.9h0M275.1 212.0h0"/>
<path stroke="#d1e5f0" d="M219.7 337.0h0M222.2 328.7h0M262.2 234.1h0M284.2 197.7h0M293.8 183.8h0"/>
<path stroke="#d5e7f1" d="M204.8 404.5h0M209.4 378.9h0M213.1 362.0h0M215.2 353.7h0M227.6 312.4h0M243.3 272.4h0M254.3 249.2h0M266.4 226.6h0M309.1 163.5h0"/>
<path stroke="#d9e9f1" d="M206.2 396.0h0M207.7 387.4h0M211.2 370.5h0M217.4 345.3h0"/>
<path stroke="#e0ecf3" d="M314.4 157.0h0"/>
<path stroke="#e4eef3" d="M279.6 204.8h0"/>
<path stroke="#f3f5f6" d="M319.8 150.5h0M366.7 102.9h0M392.4 81.8h0"/>
<path stroke="#f7f7f7" d="M325.3 144.2h0M360.5 108.4h0"/>
<path stroke="#f8f1ed" d="M385.9 86.9h0"/>
<path stroke="#f8f4f2" d="M895.6 62.1h0"/>
<path stroke="#f9ece4" d="M336.7 131.8h0"/>
<path stroke="#f9efe9" d="M342.5 125.8h0"/>
<path stroke="#fae9df" d="M379.4 92.1h0M405.7 72.0h0"/>
<path stroke="#fbd0b9" d="M419.4 62.7h0"/>
<path stroke="#fbe3d5" d="M412.5 67.3h0"/>
<path stroke="#fbe6da" d="M331.0 138.0h0"/>
<path stroke="#fcdecc" d="M348.4 119.9h0M373.0 97.4h0"/>
<path stroke="#fce1d1" d="M354.4 114.1h0M399.0 76.9h0"/>
<path stroke="#b2d5e7" d="M281.3 195.5h0M286.1 188.4h0"/>
<path stroke="#b8d8e9" d="M267.7 217.2h0"/>
<path stroke="#bedbeb" d="M236.7 278.7h0M243.7 262.9h0M296.0 174.5h0"/>
<path stroke="#c4dfec" d="M255.1 239.7h0M259.2 232.2h0"/>
<path stroke="#cbe2ee" d="M221.5 319.3h0M233.4 286.7h0M240.1 270.8h0M247.4 255.1h0"/>
<path stroke="#d1e5f0" d="M216.4 335.9h0M230.2 294.8h0M263.4 224.7h0M276.7 202.6h0"/>
<path stroke="#d5e7f1" d="M201.3 403.9h0M209.7 361.1h0M211.8 352.6h0M218.9 327.5h0M224.3 311.0h0M227.2 302.9h0M251.2 247.4h0M301.2 167.7h0"/>
<path stroke="#d9e9f1" d="M202.7 395.3h0M204.2 386.7h0M205.9 378.1h0M207.7 369.6h0M214.0 344.2h0M272.1 209.9h0"/>
<path stroke="#dceaf2" d="M291.0 181.4h0"/>
<path stroke="#e0ecf3" d="M306.4 161.1h0"/>
<path stroke="#e8f0f4" d="M383.7 83.8h0"/>
<path stroke="#ecf2f5" d="M311.8 154.5h0"/>
<path stroke="#f3f5f6" d="M340.1 123.1h0"/>
<path stroke="#f8f1ed" d="M334.2 129.1h0"/>
<path stroke="#f8f4f2" d="M364.5 99.9h0M377.2 89.1h0"/>
<path stroke="#f9c5ab" d="M397.0 73.7h0"/>
<path stroke="#f9ece4" d="M317.2 148.0h0M328.4 135.3h0"/>
<path stroke="#facbb2" d="M346.0 117.1h0"/>
<path stroke="#fae9df" d="M410.6 64.1h0"/>
<path stroke="#fbe6da" d="M390.3 78.7h0"/>
<path stroke="#fcdecc" d="M352.1 111.3h0M358.2 105.5h0M370.8 94.4h0M403.8 68.8h0"/>
<path stroke="#fce1d1" d="M322.8 141.6h0"/>
<path stroke="#bedbeb" d="M233.4 277.1h0M236.9 269.1h0M256.1 230.2h0"/>
<path stroke="#c4dfec" d="M226.9 293.3h0M240.5 261.2h0M252.0 237.9h0M273.7 200.5h0M278.5 193.3h0"/>
<path stroke="#cbe2ee" d="M218.1 318.0h0M244.2 253.3h0M260.3 222.7h0M283.3 186.1h0M298.4 165.3h0"/>
<path stroke="#d1e5f0" d="M210.6 343.2h0M213.0 334.7h0M223.9 301.5h0M230.1 285.2h0M248.1 245.6h0M293.3 172.2h0"/>
<path stroke="#d5e7f1" d="M197.8 403.3h0M206.2 360.2h0M208.3 351.6h0M215.5 326.3h0M220.9 309.7h0M264.7 215.2h0M269.2 207.8h0M309.1 151.9h0"/>
<path stroke="#d9e9f1" d="M199.2 394.6h0M200.8 385.9h0M202.4 377.3h0M204.3 368.7h0M288.2 179.1h0"/>
<path stroke="#e4eef3" d="M303.7 158.6h0"/>
<path stroke="#ecf2f5" d="M388.3 75.6h0"/>
<path stroke="#f7f7f7" d="M337.6 120.3h0"/>
<path stroke="#f8f1ed" d="M349.7 108.4h0"/>
<path stroke="#f8f4f2" d="M314.6 145.4h0M362.2 97.0h0M375.1 86.0h0"/>
<path stroke="#f9efe9" d="M381.6 80.8h0"/>
<path stroke="#facbb2" d="M395.0 70.6h0"/>
<path stroke="#fbd0b9" d="M320.2 138.9h0M368.6 91.4h0"/>
<path stroke="#fbe6da" d="M325.9 132.6h0M331.7 126.4h0"/>
<path stroke="#fcdecc" d="M343.6 114.3h0"/>
<path stroke="#fce1d1" d="M355.9 102.6h0M408.7 60.9h0"/>
<path stroke="#fddbc7" d="M401.8 65.6h0"/>
<path stroke="#abd2e5" d="M275.6 191.1h0"/>
<path stroke="#b2d5e7" d="M233.7 267.5h0"/>
<path stroke="#bedbeb" d="M230.2 275.5h0M270.8 198.3h0"/>
<path stroke="#c4dfec" d="M223.6 291.8h0M237.3 259.5h0M248.9 236.0h0M253.1 228.3h0"/>
<path stroke="#cbe2ee" d="M214.8 316.7h0M244.9 243.7h0M257.3 220.7h0M285.4 176.8h0"/>
<path stroke="#d1e5f0" d="M209.6 333.6h0M217.6 308.4h0M220.6 300.1h0M226.9 283.7h0M241.1 251.6h0M280.4 183.9h0"/>
<path stroke="#d5e7f1" d="M194.3 402.7h0M202.8 359.2h0M204.9 350.6h0M207.2 342.1h0M212.1 325.1h0M261.7 213.1h0M266.2 205.7h0M301.0 156.1h0"/>
<path stroke="#d9e9f1" d="M195.7 393.9h0M197.3 385.2h0M199.0 376.5h0M200.8 367.8h0M290.5 169.8h0"/>
<path stroke="#dceaf2" d="M295.7 162.9h0"/>
<path stroke="#eff3f6" d="M306.4 149.4h0M335.2 117.5h0"/>
<path stroke="#f7f7f7" d="M312.0 142.8h0M360.0 94.0h0"/>
<path stroke="#f8f4f2" d="M329.2 123.7h0M379.5 77.7h0"/>
<path stroke="#facbb2" d="M399.9 62.5h0"/>
<path stroke="#fae9df" d="M353.6 99.7h0M386.2 72.5h0"/>
<path stroke="#fbe3d5" d="M372.9 83.0h0"/>
<path stroke="#fbe6da" d="M317.6 136.3h0"/>
<path stroke="#fcd6c0" d="M341.2 111.5h0"/>
<path stroke="#fcdecc" d="M347.4 105.5h0M393.0 67.4h0"/>
<path stroke="#fce1d1" d="M323.4 129.9h0M366.4 88.5h0"/>
<path stroke="#fcd3bd" d="M302.0 428.5h0"/><path stroke="#6d0321" d="M298.5 428.0h0"/><path stroke="#f4a582" d="M294.9 427.4h0"/><path stroke="#6d0321" d="M291.4 426.9h0"/><path stroke="#f9ede6" d="M287.9 426.3h0"/><path stroke="#8ec2dd" d="M284.4 425.8h0"/><path stroke="#0a3a70" d="M280.9 425.2h0"/><path stroke="#0a3a70" d="M277.4 424.7h0"/><path stroke="#6d0321" d="M273.9 424.1h0"/><path stroke="#6d0321" d="M270.3 423.6h0"/><path stroke="#f7f7f7" d="M266.8 423.0h0"/><path stroke="#fcd3bd" d="M263.3 422.5h0"/><path stroke="#6d0321" d="M259.8 421.9h0"/><path stroke="#6d0321" d="M256.3 421.4h0"/><path stroke="#2a6fb2" d="M252.8 420.8h0"/><path stroke="#6d0321" d="M249.3 420.3h0"/><path stroke="#6d0321" d="M245.8 419.7h0"/><path stroke="#6d0321" d="M242.2 419.2h0"/><path stroke="#f9ede6" d="M238.7 418.6h0"/><path stroke="#b2182b" d="M235.2 418.1h0"/><path stroke="#b2182b" d="M231.7 417.5h0"/><path stroke="#fcd3bd" d="M228.2 417.0h0"/><path stroke="#8ec2dd" d="M224.7 416.4h0"/><path stroke="#6d0321" d="M221.2 415.8h0"/><path stroke="#6d0321" d="M217.6 415.3h0"/><path stroke="#8ec2dd" d="M214.1 414.7h0"/><path stroke="#2a6fb2" d="M210.6 414.2h0"/><path stroke="#0a3a70" d="M207.1 413.6h0"/><path stroke="#0a3a70" d="M203.6 413.1h0"/><path stroke="#f9ede6" d="M200.1 412.5h0"/><path stroke="#f9ede6" d="M196.6 412.0h0"/><path stroke="#2a6fb2" d="M193.1 411.4h0"/>
</g>
<circle cx="660.1" cy="484.2" r="12.5" fill="#fff"/>
<polygon points="150.5,497.9 157.3,494.3 167.5,491.8 178.7,486.7 185.9,486.3 198.2,482.0 206.3,481.2 216.6,475.4 225.8,473.4 236.0,466.9 245.2,464.2 255.4,457.4 263.6,453.6 273.8,445.2 282.0,440.7 292.2,430.9 300.4,428.8 312.7,426.8 321.9,426.8 333.1,430.4 340.0,433.3 350.0,440.3 366.7,445.3 378.3,451.7 396.7,457.0 426.7,462.3 435.0,463.0 446.7,465.8 463.3,468.3 483.3,471.3 496.7,471.7 520.0,469.7 530.0,470.8 540.0,473.3 550.0,476.7 560.0,478.7 570.0,482.5 578.3,485.0 586.7,489.7 595.0,491.3 606.7,493.7 620.0,492.0 636.7,489.7 653.3,488.3 661.7,486.3 671.7,484.2 680.0,480.8 690.0,477.5 700.0,475.3 710.0,472.8 719.5,470.5 730.6,465.9 739.3,463.5 749.6,456.4 759.1,452.5 768.6,446.9 778.1,443.4 787.6,438.7 797.1,436.6 806.6,437.4 815.3,439.0 826.4,448.2 835.1,450.1 844.6,455.6 854.1,459.3 864.4,467.8 873.1,470.3 882.6,475.4 894.5,476.7 894.5,536.9 150.5,536.9" fill="#000"/>
<polyline points="150.5,497.9 157.3,494.3 167.5,491.8 178.7,486.7 185.9,486.3 198.2,482.0 206.3,481.2 216.6,475.4 225.8,473.4 236.0,466.9 245.2,464.2 255.4,457.4 263.6,453.6 273.8,445.2 282.0,440.7 292.2,430.9 300.4,428.8 312.7,426.8 321.9,426.8 333.1,430.4 340.0,433.3 350.0,440.3 366.7,445.3 378.3,451.7 396.7,457.0 426.7,462.3 435.0,463.0 446.7,465.8 463.3,468.3 483.3,471.3 496.7,471.7 520.0,469.7 530.0,470.8 540.0,473.3 550.0,476.7 560.0,478.7 570.0,482.5 578.3,485.0 586.7,489.7 595.0,491.3 606.7,493.7 620.0,492.0 636.7,489.7 653.3,488.3 661.7,486.3 671.7,484.2 680.0,480.8 690.0,477.5 700.0,475.3 710.0,472.8 719.5,470.5 730.6,465.9 739.3,463.5 749.6,456.4 759.1,452.5 768.6,446.9 778.1,443.4 787.6,438.7 797.1,436.6 806.6,437.4 815.3,439.0 826.4,448.2 835.1,450.1 844.6,455.6 854.1,459.3 864.4,467.8 873.1,470.3 882.6,475.4 894.5,476.7" fill="none" stroke="#0000ff" stroke-width="1.5" stroke-linejoin="round"/>
</g>
<g stroke="#111" stroke-width="0.95" stroke-dasharray="1.6 3.956"><line x1="319.6" y1="572.4" x2="319.6" y2="63.5"/><line x1="488.7" y1="572.4" x2="488.7" y2="63.5"/><line x1="657.8" y1="572.4" x2="657.8" y2="63.5"/><line x1="826.9" y1="572.4" x2="826.9" y2="63.5"/><line x1="150.5" y1="500.0" x2="894.5" y2="500.0"/><line x1="150.5" y1="427.3" x2="894.5" y2="427.3"/><line x1="150.5" y1="354.6" x2="894.5" y2="354.6"/><line x1="150.5" y1="281.9" x2="894.5" y2="281.9"/><line x1="150.5" y1="209.2" x2="894.5" y2="209.2"/><line x1="150.5" y1="136.5" x2="894.5" y2="136.5"/></g>
<g fill="#000" stroke="none"><polygon points="323.40,427.49 322.85,397.29 320.95,397.31 320.80,427.51"/><polygon points="322.49,397.76 333.28,383.21 332.72,382.79 321.31,396.84"/><polygon points="322.03,396.31 305.85,394.80 305.75,395.60 321.77,398.29"/><polygon points="321.25,397.37 323.70,415.83 324.30,415.77 322.55,397.23"/><circle cx="321.9" cy="397.3" r="1.3"/></g>
<rect x="150.5" y="63.5" width="744.0" height="508.9" fill="none" stroke="#000" stroke-width="1.25"/>
<g stroke="#000" stroke-width="1.25"><line x1="150.5" y1="572.4" x2="150.5" y2="566.2"/><line x1="150.5" y1="63.5" x2="150.5" y2="69.7"/><line x1="319.6" y1="572.4" x2="319.6" y2="566.2"/><line x1="319.6" y1="63.5" x2="319.6" y2="69.7"/><line x1="488.7" y1="572.4" x2="488.7" y2="566.2"/><line x1="488.7" y1="63.5" x2="488.7" y2="69.7"/><line x1="657.8" y1="572.4" x2="657.8" y2="566.2"/><line x1="657.8" y1="63.5" x2="657.8" y2="69.7"/><line x1="826.9" y1="572.4" x2="826.9" y2="566.2"/><line x1="826.9" y1="63.5" x2="826.9" y2="69.7"/><line x1="150.5" y1="572.7" x2="156.7" y2="572.7"/><line x1="894.5" y1="572.7" x2="888.3" y2="572.7"/><line x1="150.5" y1="500.0" x2="156.7" y2="500.0"/><line x1="894.5" y1="500.0" x2="888.3" y2="500.0"/><line x1="150.5" y1="427.3" x2="156.7" y2="427.3"/><line x1="894.5" y1="427.3" x2="888.3" y2="427.3"/><line x1="150.5" y1="354.6" x2="156.7" y2="354.6"/><line x1="894.5" y1="354.6" x2="888.3" y2="354.6"/><line x1="150.5" y1="281.9" x2="156.7" y2="281.9"/><line x1="894.5" y1="281.9" x2="888.3" y2="281.9"/><line x1="150.5" y1="209.2" x2="156.7" y2="209.2"/><line x1="894.5" y1="209.2" x2="888.3" y2="209.2"/><line x1="150.5" y1="136.5" x2="156.7" y2="136.5"/><line x1="894.5" y1="136.5" x2="888.3" y2="136.5"/><line x1="150.5" y1="63.8" x2="156.7" y2="63.8"/><line x1="894.5" y1="63.8" x2="888.3" y2="63.8"/></g>
<g font-size="18.2" fill="#000"><text x="150.5" y="592" text-anchor="middle" textLength="43.5" lengthAdjust="spacingAndGlyphs">−500</text><text x="319.6" y="592" text-anchor="middle">0</text><text x="488.7" y="592" text-anchor="middle">500</text><text x="657.8" y="592" text-anchor="middle">1000</text><text x="826.9" y="592" text-anchor="middle">1500</text><text x="143.5" y="577.2" text-anchor="end" textLength="43.5" lengthAdjust="spacingAndGlyphs">−400</text><text x="143.5" y="504.5" text-anchor="end" textLength="43.5" lengthAdjust="spacingAndGlyphs">−200</text><text x="143.5" y="431.8" text-anchor="end">0</text><text x="143.5" y="359.1" text-anchor="end">200</text><text x="143.5" y="286.4" text-anchor="end">400</text><text x="143.5" y="213.7" text-anchor="end">600</text><text x="143.5" y="141.0" text-anchor="end">800</text><text x="143.5" y="68.3" text-anchor="end">1000</text></g>
<text id="t_title" x="392" y="57" font-size="19.5" textLength="258" lengthAdjust="spacingAndGlyphs">2017/06/04 03:00:00 UTC</text>
<text id="t_xl" x="409" y="619.2" font-size="21.5" textLength="225" lengthAdjust="spacingAndGlyphs">distance to WEC / m</text>
<text id="t_yl" transform="translate(87.3 396.5) rotate(-90)" font-size="21.5" textLength="156" lengthAdjust="spacingAndGlyphs">rel. height / m</text>
<text id="t_cb" transform="translate(1044.1 456.5) rotate(-90)" font-size="21.5" textLength="258" lengthAdjust="spacingAndGlyphs">radial wind speed / m s</text>
<text id="t_sup" transform="translate(1035.6 198.5) rotate(-90)" font-size="15.5" textLength="18" lengthAdjust="spacingAndGlyphs">−1</text>
<rect x="940.6" y="63.5" width="25.7" height="508.7" fill="url(#cbg)" stroke="#000" stroke-width="1"/>
<g stroke="#000" stroke-width="1"><line x1="966.3" y1="521.7" x2="960.3" y2="521.7"/><line x1="966.3" y1="470.9" x2="960.3" y2="470.9"/><line x1="966.3" y1="420.0" x2="960.3" y2="420.0"/><line x1="966.3" y1="369.1" x2="960.3" y2="369.1"/><line x1="966.3" y1="318.2" x2="960.3" y2="318.2"/><line x1="966.3" y1="267.4" x2="960.3" y2="267.4"/><line x1="966.3" y1="216.5" x2="960.3" y2="216.5"/><line x1="966.3" y1="165.6" x2="960.3" y2="165.6"/><line x1="966.3" y1="114.8" x2="960.3" y2="114.8"/></g>
<g font-size="23" fill="#000"><text x="972.6" y="578.9" textLength="44" lengthAdjust="spacingAndGlyphs">−10</text><text x="972.6" y="528.0" textLength="30.5" lengthAdjust="spacingAndGlyphs">−8</text><text x="972.6" y="477.2" textLength="30.5" lengthAdjust="spacingAndGlyphs">−6</text><text x="972.6" y="426.3" textLength="30.5" lengthAdjust="spacingAndGlyphs">−4</text><text x="972.6" y="375.4" textLength="30.5" lengthAdjust="spacingAndGlyphs">−2</text><text x="972.6" y="324.6">0</text><text x="972.6" y="273.7">2</text><text x="972.6" y="222.8">4</text><text x="972.6" y="171.9">6</text><text x="972.6" y="121.1">8</text><text x="972.6" y="70.2">10</text></g>
</svg>
</body></html>
